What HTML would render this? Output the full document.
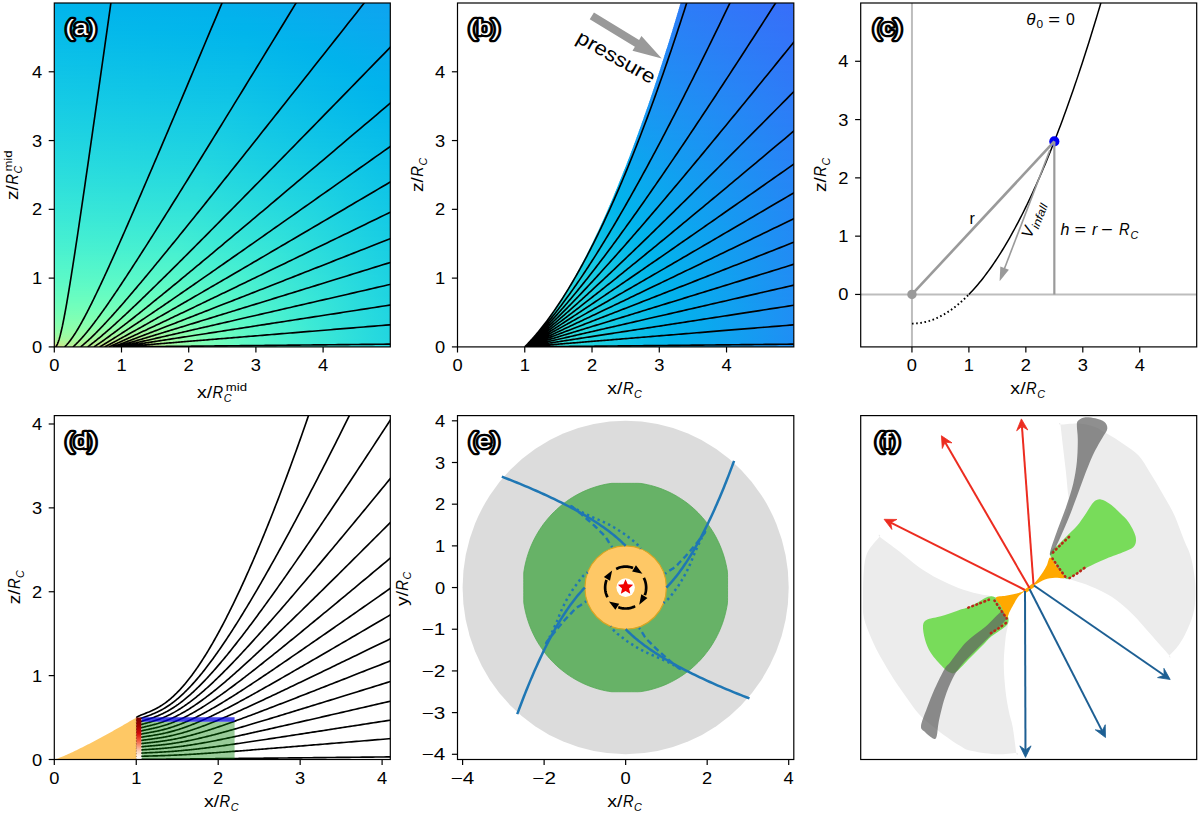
<!DOCTYPE html><html><head><meta charset="utf-8"><style>html,body{margin:0;padding:0;background:#fff;width:1200px;height:813px;overflow:hidden}svg{display:block}text{font-family:"Liberation Sans",sans-serif}</style></head><body><svg width="1200" height="813" viewBox="0 0 1200 813"><defs><clipPath id="clip_a"><rect x="54.3" y="3" width="336" height="343.9"/></clipPath><clipPath id="clip_b"><rect x="457.5" y="3" width="336.3" height="343.9"/></clipPath><clipPath id="clip_c"><rect x="860.7" y="3" width="336" height="343.9"/></clipPath><clipPath id="clip_d"><rect x="54.3" y="415.6" width="336" height="343.9"/></clipPath><clipPath id="clip_e"><rect x="457.5" y="415.6" width="336.3" height="343.9"/></clipPath><clipPath id="clip_f"><rect x="860.7" y="415.6" width="336" height="343.9"/></clipPath><linearGradient id="ga0"><stop offset="0" stop-color="#01b5ec"/><stop offset="0.5685" stop-color="#05afed"/><stop offset="1" stop-color="#0ea4f0"/></linearGradient><linearGradient id="ga1"><stop offset="0" stop-color="#01b5eb"/><stop offset="0.5685" stop-color="#04b0ed"/><stop offset="1" stop-color="#0ea4f0"/></linearGradient><linearGradient id="ga2"><stop offset="0" stop-color="#01b5eb"/><stop offset="0.5565" stop-color="#04b0ed"/><stop offset="1" stop-color="#0ea4ef"/></linearGradient><linearGradient id="ga3"><stop offset="0" stop-color="#01b6eb"/><stop offset="0.5208" stop-color="#03b1ec"/><stop offset="1" stop-color="#0da5ef"/></linearGradient><linearGradient id="ga4"><stop offset="0" stop-color="#02b6eb"/><stop offset="0.5089" stop-color="#02b2ec"/><stop offset="1" stop-color="#0da5ef"/></linearGradient><linearGradient id="ga5"><stop offset="0" stop-color="#02b7eb"/><stop offset="0.5149" stop-color="#02b2ec"/><stop offset="1" stop-color="#0da6ef"/></linearGradient><linearGradient id="ga6"><stop offset="0" stop-color="#03b7eb"/><stop offset="0.5298" stop-color="#02b2ec"/><stop offset="1" stop-color="#0da6ef"/></linearGradient><linearGradient id="ga7"><stop offset="0" stop-color="#03b8eb"/><stop offset="0.5446" stop-color="#02b3ec"/><stop offset="1" stop-color="#0ca6ef"/></linearGradient><linearGradient id="ga8"><stop offset="0" stop-color="#03b8eb"/><stop offset="0.5625" stop-color="#02b3ec"/><stop offset="1" stop-color="#0ca7ef"/></linearGradient><linearGradient id="ga9"><stop offset="0" stop-color="#04b8ea"/><stop offset="0.5804" stop-color="#02b3ec"/><stop offset="1" stop-color="#0ca7ef"/></linearGradient><linearGradient id="ga10"><stop offset="0" stop-color="#04b9ea"/><stop offset="0.5804" stop-color="#01b3ec"/><stop offset="1" stop-color="#0ba7ef"/></linearGradient><linearGradient id="ga11"><stop offset="0" stop-color="#05b9ea"/><stop offset="0.5774" stop-color="#01b4ec"/><stop offset="1" stop-color="#0ba8ef"/></linearGradient><linearGradient id="ga12"><stop offset="0" stop-color="#05baea"/><stop offset="0.5774" stop-color="#01b4ec"/><stop offset="1" stop-color="#0ba8ef"/></linearGradient><linearGradient id="ga13"><stop offset="0" stop-color="#05baea"/><stop offset="0.5744" stop-color="#01b4ec"/><stop offset="1" stop-color="#0aa8ef"/></linearGradient><linearGradient id="ga14"><stop offset="0" stop-color="#06bbea"/><stop offset="0.5744" stop-color="#01b5eb"/><stop offset="1" stop-color="#0aa9ef"/></linearGradient><linearGradient id="ga15"><stop offset="0" stop-color="#06bbea"/><stop offset="0.5714" stop-color="#01b5eb"/><stop offset="0.8869" stop-color="#07adee"/><stop offset="1" stop-color="#0aa9ee"/></linearGradient><linearGradient id="ga16"><stop offset="0" stop-color="#07bcea"/><stop offset="0.5714" stop-color="#01b6eb"/><stop offset="0.8274" stop-color="#05afed"/><stop offset="1" stop-color="#0aa9ee"/></linearGradient><linearGradient id="ga17"><stop offset="0" stop-color="#07bce9"/><stop offset="0.5685" stop-color="#02b6eb"/><stop offset="0.7619" stop-color="#03b1ec"/><stop offset="1" stop-color="#09aaee"/></linearGradient><linearGradient id="ga18"><stop offset="0" stop-color="#08bce9"/><stop offset="0.5685" stop-color="#02b7eb"/><stop offset="0.747" stop-color="#02b2ec"/><stop offset="1" stop-color="#09aaee"/></linearGradient><linearGradient id="ga19"><stop offset="0" stop-color="#08bde9"/><stop offset="0.5655" stop-color="#03b7eb"/><stop offset="0.75" stop-color="#02b3ec"/><stop offset="1" stop-color="#09aaee"/></linearGradient><linearGradient id="ga20"><stop offset="0" stop-color="#08bde9"/><stop offset="0.5655" stop-color="#03b8eb"/><stop offset="0.753" stop-color="#01b3ec"/><stop offset="1" stop-color="#08abee"/></linearGradient><linearGradient id="ga21"><stop offset="0" stop-color="#09bee9"/><stop offset="0.5625" stop-color="#03b8eb"/><stop offset="0.7619" stop-color="#01b3ec"/><stop offset="1" stop-color="#08abee"/></linearGradient><linearGradient id="ga22"><stop offset="0" stop-color="#09bee9"/><stop offset="0.5625" stop-color="#04b8ea"/><stop offset="0.7708" stop-color="#01b3ec"/><stop offset="1" stop-color="#08acee"/></linearGradient><linearGradient id="ga23"><stop offset="0" stop-color="#0abfe9"/><stop offset="0.5595" stop-color="#04b9ea"/><stop offset="0.7827" stop-color="#01b3ec"/><stop offset="1" stop-color="#07acee"/></linearGradient><linearGradient id="ga24"><stop offset="0" stop-color="#0abfe8"/><stop offset="0.5595" stop-color="#05b9ea"/><stop offset="0.7946" stop-color="#01b3ec"/><stop offset="1" stop-color="#07acee"/></linearGradient><linearGradient id="ga25"><stop offset="0" stop-color="#0bc0e8"/><stop offset="0.5595" stop-color="#05baea"/><stop offset="0.8065" stop-color="#01b3ec"/><stop offset="1" stop-color="#07adee"/></linearGradient><linearGradient id="ga26"><stop offset="0" stop-color="#0bc0e8"/><stop offset="0.5565" stop-color="#06baea"/><stop offset="0.8185" stop-color="#01b3ec"/><stop offset="1" stop-color="#06aded"/></linearGradient><linearGradient id="ga27"><stop offset="0" stop-color="#0bc1e8"/><stop offset="0.5565" stop-color="#06bbea"/><stop offset="0.8274" stop-color="#01b3ec"/><stop offset="1" stop-color="#06aded"/></linearGradient><linearGradient id="ga28"><stop offset="0" stop-color="#0cc1e8"/><stop offset="0.5536" stop-color="#06bbea"/><stop offset="0.8393" stop-color="#01b3ec"/><stop offset="1" stop-color="#06aeed"/></linearGradient><linearGradient id="ga29"><stop offset="0" stop-color="#0cc2e8"/><stop offset="0.5536" stop-color="#07bce9"/><stop offset="0.8512" stop-color="#01b3ec"/><stop offset="1" stop-color="#06aeed"/></linearGradient><linearGradient id="ga30"><stop offset="0" stop-color="#0dc2e8"/><stop offset="0.5506" stop-color="#07bce9"/><stop offset="0.8631" stop-color="#01b3ec"/><stop offset="1" stop-color="#05aeed"/></linearGradient><linearGradient id="ga31"><stop offset="0" stop-color="#0dc2e7"/><stop offset="0.5506" stop-color="#08bde9"/><stop offset="0.875" stop-color="#01b3ec"/><stop offset="1" stop-color="#05afed"/></linearGradient><linearGradient id="ga32"><stop offset="0" stop-color="#0ec3e7"/><stop offset="0.5476" stop-color="#08bde9"/><stop offset="0.8839" stop-color="#01b3ec"/><stop offset="1" stop-color="#05afed"/></linearGradient><linearGradient id="ga33"><stop offset="0" stop-color="#0ec3e7"/><stop offset="0.5476" stop-color="#09bee9"/><stop offset="0.8958" stop-color="#01b3ec"/><stop offset="1" stop-color="#04afed"/></linearGradient><linearGradient id="ga34"><stop offset="0" stop-color="#0fc4e7"/><stop offset="0.5446" stop-color="#09bee9"/><stop offset="0.9048" stop-color="#01b3ec"/><stop offset="1" stop-color="#04b0ed"/></linearGradient><linearGradient id="ga35"><stop offset="0" stop-color="#0fc4e7"/><stop offset="0.5446" stop-color="#0abfe9"/><stop offset="0.9137" stop-color="#01b4ec"/><stop offset="1" stop-color="#04b0ed"/></linearGradient><linearGradient id="ga36"><stop offset="0" stop-color="#10c5e7"/><stop offset="0.5417" stop-color="#0abfe8"/><stop offset="0.9256" stop-color="#01b3ec"/><stop offset="1" stop-color="#03b1ed"/></linearGradient><linearGradient id="ga37"><stop offset="0" stop-color="#10c5e6"/><stop offset="0.5417" stop-color="#0ac0e8"/><stop offset="0.9345" stop-color="#01b4ec"/><stop offset="1" stop-color="#03b1ec"/></linearGradient><linearGradient id="ga38"><stop offset="0" stop-color="#11c6e6"/><stop offset="0.5417" stop-color="#0bc0e8"/><stop offset="0.9435" stop-color="#01b4ec"/><stop offset="1" stop-color="#03b1ec"/></linearGradient><linearGradient id="ga39"><stop offset="0" stop-color="#11c6e6"/><stop offset="0.5387" stop-color="#0bc1e8"/><stop offset="0.9524" stop-color="#01b4ec"/><stop offset="1" stop-color="#02b2ec"/></linearGradient><linearGradient id="ga40"><stop offset="0" stop-color="#12c7e6"/><stop offset="0.5387" stop-color="#0cc1e8"/><stop offset="0.9613" stop-color="#01b4ec"/><stop offset="1" stop-color="#02b2ec"/></linearGradient><linearGradient id="ga41"><stop offset="0" stop-color="#12c7e6"/><stop offset="0.5357" stop-color="#0cc1e8"/><stop offset="0.9732" stop-color="#01b3ec"/><stop offset="1" stop-color="#02b2ec"/></linearGradient><linearGradient id="ga42"><stop offset="0" stop-color="#12c8e6"/><stop offset="0.5357" stop-color="#0dc2e8"/><stop offset="0.9821" stop-color="#01b3ec"/><stop offset="1" stop-color="#01b3ec"/></linearGradient><linearGradient id="ga43"><stop offset="0" stop-color="#13c8e5"/><stop offset="0.5327" stop-color="#0dc2e7"/><stop offset="0.9911" stop-color="#01b3ec"/><stop offset="1" stop-color="#01b3ec"/></linearGradient><linearGradient id="ga44"><stop offset="0" stop-color="#13c9e5"/><stop offset="0.5327" stop-color="#0ec3e7"/><stop offset="0.997" stop-color="#01b4ec"/><stop offset="1" stop-color="#01b3ec"/></linearGradient><linearGradient id="ga45"><stop offset="0" stop-color="#14c9e5"/><stop offset="0.5298" stop-color="#0ec3e7"/><stop offset="1" stop-color="#01b4ec"/></linearGradient><linearGradient id="ga46"><stop offset="0" stop-color="#14cae5"/><stop offset="0.5298" stop-color="#0fc4e7"/><stop offset="1" stop-color="#01b4ec"/></linearGradient><linearGradient id="ga47"><stop offset="0" stop-color="#15cae5"/><stop offset="0.5268" stop-color="#0fc4e7"/><stop offset="1" stop-color="#01b5ec"/></linearGradient><linearGradient id="ga48"><stop offset="0" stop-color="#15cbe5"/><stop offset="0.5268" stop-color="#10c5e7"/><stop offset="1" stop-color="#01b5eb"/></linearGradient><linearGradient id="ga49"><stop offset="0" stop-color="#16cbe4"/><stop offset="0.5238" stop-color="#10c5e6"/><stop offset="1" stop-color="#01b5eb"/></linearGradient><linearGradient id="ga50"><stop offset="0" stop-color="#16cbe4"/><stop offset="0.5208" stop-color="#11c6e6"/><stop offset="1" stop-color="#01b6eb"/></linearGradient><linearGradient id="ga51"><stop offset="0" stop-color="#17cce4"/><stop offset="0.5179" stop-color="#11c7e6"/><stop offset="1" stop-color="#02b6eb"/></linearGradient><linearGradient id="ga52"><stop offset="0" stop-color="#18cce4"/><stop offset="0.5179" stop-color="#12c7e6"/><stop offset="1" stop-color="#02b6eb"/></linearGradient><linearGradient id="ga53"><stop offset="0" stop-color="#18cde4"/><stop offset="0.5149" stop-color="#12c8e6"/><stop offset="1" stop-color="#02b7eb"/></linearGradient><linearGradient id="ga54"><stop offset="0" stop-color="#19cde4"/><stop offset="0.5119" stop-color="#13c8e6"/><stop offset="1" stop-color="#03b7eb"/></linearGradient><linearGradient id="ga55"><stop offset="0" stop-color="#19cee3"/><stop offset="0.5089" stop-color="#13c9e5"/><stop offset="1" stop-color="#03b7eb"/></linearGradient><linearGradient id="ga56"><stop offset="0" stop-color="#1acee3"/><stop offset="0.5089" stop-color="#14c9e5"/><stop offset="1" stop-color="#03b8eb"/></linearGradient><linearGradient id="ga57"><stop offset="0" stop-color="#1acfe3"/><stop offset="0.506" stop-color="#15cae5"/><stop offset="1" stop-color="#04b8eb"/></linearGradient><linearGradient id="ga58"><stop offset="0" stop-color="#1bcfe3"/><stop offset="0.503" stop-color="#15cae5"/><stop offset="1" stop-color="#04b9ea"/></linearGradient><linearGradient id="ga59"><stop offset="0" stop-color="#1bd0e3"/><stop offset="0.5" stop-color="#16cbe5"/><stop offset="0.994" stop-color="#04b9ea"/><stop offset="1" stop-color="#04b9ea"/></linearGradient><linearGradient id="ga60"><stop offset="0" stop-color="#1cd0e2"/><stop offset="0.5" stop-color="#16cbe4"/><stop offset="0.9911" stop-color="#05baea"/><stop offset="1" stop-color="#05b9ea"/></linearGradient><linearGradient id="ga61"><stop offset="0" stop-color="#1cd1e2"/><stop offset="0.497" stop-color="#17cce4"/><stop offset="0.9851" stop-color="#06baea"/><stop offset="1" stop-color="#05baea"/></linearGradient><linearGradient id="ga62"><stop offset="0" stop-color="#1dd1e2"/><stop offset="0.494" stop-color="#17cce4"/><stop offset="0.9792" stop-color="#06bbea"/><stop offset="1" stop-color="#05baea"/></linearGradient><linearGradient id="ga63"><stop offset="0" stop-color="#1dd2e2"/><stop offset="0.4911" stop-color="#18cde4"/><stop offset="0.9732" stop-color="#07bcea"/><stop offset="1" stop-color="#06baea"/></linearGradient><linearGradient id="ga64"><stop offset="0" stop-color="#1ed2e2"/><stop offset="0.4911" stop-color="#18cde4"/><stop offset="0.9702" stop-color="#07bce9"/><stop offset="1" stop-color="#06bbea"/></linearGradient><linearGradient id="ga65"><stop offset="0" stop-color="#1fd3e1"/><stop offset="0.4881" stop-color="#19cee3"/><stop offset="0.9643" stop-color="#08bde9"/><stop offset="1" stop-color="#06bbea"/></linearGradient><linearGradient id="ga66"><stop offset="0" stop-color="#1fd3e1"/><stop offset="0.4851" stop-color="#1acee3"/><stop offset="0.9583" stop-color="#08bde9"/><stop offset="1" stop-color="#07bbea"/></linearGradient><linearGradient id="ga67"><stop offset="0" stop-color="#20d4e1"/><stop offset="0.4821" stop-color="#1acfe3"/><stop offset="0.9524" stop-color="#09bee9"/><stop offset="1" stop-color="#07bce9"/></linearGradient><linearGradient id="ga68"><stop offset="0" stop-color="#20d4e1"/><stop offset="0.4821" stop-color="#1bcfe3"/><stop offset="0.9494" stop-color="#0abfe9"/><stop offset="1" stop-color="#07bce9"/></linearGradient><linearGradient id="ga69"><stop offset="0" stop-color="#21d5e0"/><stop offset="0.4792" stop-color="#1bd0e3"/><stop offset="0.9435" stop-color="#0abfe8"/><stop offset="1" stop-color="#08bde9"/></linearGradient><linearGradient id="ga70"><stop offset="0" stop-color="#22d5e0"/><stop offset="0.4762" stop-color="#1cd1e2"/><stop offset="0.9375" stop-color="#0bc0e8"/><stop offset="1" stop-color="#08bde9"/></linearGradient><linearGradient id="ga71"><stop offset="0" stop-color="#22d6e0"/><stop offset="0.4762" stop-color="#1dd1e2"/><stop offset="0.9345" stop-color="#0bc0e8"/><stop offset="1" stop-color="#08bde9"/></linearGradient><linearGradient id="ga72"><stop offset="0" stop-color="#23d6e0"/><stop offset="0.4732" stop-color="#1dd2e2"/><stop offset="0.9286" stop-color="#0cc1e8"/><stop offset="1" stop-color="#09bee9"/></linearGradient><linearGradient id="ga73"><stop offset="0" stop-color="#23d7e0"/><stop offset="0.4702" stop-color="#1ed2e2"/><stop offset="0.9226" stop-color="#0dc2e8"/><stop offset="1" stop-color="#09bee9"/></linearGradient><linearGradient id="ga74"><stop offset="0" stop-color="#24d8df"/><stop offset="0.4673" stop-color="#1fd3e1"/><stop offset="0.9167" stop-color="#0dc2e7"/><stop offset="1" stop-color="#09bee9"/></linearGradient><linearGradient id="ga75"><stop offset="0" stop-color="#25d8df"/><stop offset="0.4673" stop-color="#1fd3e1"/><stop offset="0.9137" stop-color="#0ec3e7"/><stop offset="1" stop-color="#0abfe9"/></linearGradient><linearGradient id="ga76"><stop offset="0" stop-color="#25d9df"/><stop offset="0.4643" stop-color="#20d4e1"/><stop offset="0.9077" stop-color="#0fc4e7"/><stop offset="1" stop-color="#0abfe8"/></linearGradient><linearGradient id="ga77"><stop offset="0" stop-color="#26d9df"/><stop offset="0.4613" stop-color="#20d4e1"/><stop offset="0.9018" stop-color="#0fc4e7"/><stop offset="1" stop-color="#0abfe8"/></linearGradient><linearGradient id="ga78"><stop offset="0" stop-color="#26dade"/><stop offset="0.4583" stop-color="#21d5e0"/><stop offset="0.8958" stop-color="#10c5e7"/><stop offset="1" stop-color="#0bc0e8"/></linearGradient><linearGradient id="ga79"><stop offset="0" stop-color="#27dade"/><stop offset="0.4583" stop-color="#22d6e0"/><stop offset="0.8929" stop-color="#10c6e6"/><stop offset="1" stop-color="#0bc0e8"/></linearGradient><linearGradient id="ga80"><stop offset="0" stop-color="#28dbde"/><stop offset="0.4554" stop-color="#22d6e0"/><stop offset="0.8869" stop-color="#11c6e6"/><stop offset="1" stop-color="#0bc0e8"/></linearGradient><linearGradient id="ga81"><stop offset="0" stop-color="#28dbde"/><stop offset="0.4524" stop-color="#23d7e0"/><stop offset="0.881" stop-color="#12c7e6"/><stop offset="1" stop-color="#0cc1e8"/></linearGradient><linearGradient id="ga82"><stop offset="0" stop-color="#29dcdd"/><stop offset="0.4524" stop-color="#24d7df"/><stop offset="0.878" stop-color="#12c8e6"/><stop offset="1" stop-color="#0cc1e8"/></linearGradient><linearGradient id="ga83"><stop offset="0" stop-color="#2adcdd"/><stop offset="0.4494" stop-color="#24d8df"/><stop offset="0.872" stop-color="#13c8e5"/><stop offset="1" stop-color="#0cc2e8"/></linearGradient><linearGradient id="ga84"><stop offset="0" stop-color="#2adddd"/><stop offset="0.4464" stop-color="#25d8df"/><stop offset="0.8661" stop-color="#14c9e5"/><stop offset="1" stop-color="#0dc2e8"/></linearGradient><linearGradient id="ga85"><stop offset="0" stop-color="#2bdddd"/><stop offset="0.4435" stop-color="#26d9df"/><stop offset="0.8601" stop-color="#15cae5"/><stop offset="1" stop-color="#0dc2e7"/></linearGradient><linearGradient id="ga86"><stop offset="0" stop-color="#2cdedc"/><stop offset="0.4435" stop-color="#26dade"/><stop offset="0.8571" stop-color="#15cae5"/><stop offset="1" stop-color="#0dc3e7"/></linearGradient><linearGradient id="ga87"><stop offset="0" stop-color="#2cdedc"/><stop offset="0.4405" stop-color="#27dade"/><stop offset="0.8512" stop-color="#16cbe5"/><stop offset="1" stop-color="#0ec3e7"/></linearGradient><linearGradient id="ga88"><stop offset="0" stop-color="#2ddfdc"/><stop offset="0.4375" stop-color="#28dbde"/><stop offset="0.8452" stop-color="#17cce4"/><stop offset="1" stop-color="#0ec3e7"/></linearGradient><linearGradient id="ga89"><stop offset="0" stop-color="#2edfdc"/><stop offset="0.4375" stop-color="#28dbde"/><stop offset="0.8423" stop-color="#17cce4"/><stop offset="1" stop-color="#0ec4e7"/></linearGradient><linearGradient id="ga90"><stop offset="0" stop-color="#2ee0db"/><stop offset="0.4345" stop-color="#29dcdd"/><stop offset="0.8363" stop-color="#18cde4"/><stop offset="1" stop-color="#0fc4e7"/></linearGradient><linearGradient id="ga91"><stop offset="0" stop-color="#2fe0db"/><stop offset="0.4315" stop-color="#2adcdd"/><stop offset="0.8304" stop-color="#19cee3"/><stop offset="1" stop-color="#0fc4e7"/></linearGradient><linearGradient id="ga92"><stop offset="0" stop-color="#30e1db"/><stop offset="0.4286" stop-color="#2bdddd"/><stop offset="0.8244" stop-color="#19cee3"/><stop offset="1" stop-color="#0fc5e7"/></linearGradient><linearGradient id="ga93"><stop offset="0" stop-color="#31e1da"/><stop offset="0.4286" stop-color="#2bdedc"/><stop offset="0.8214" stop-color="#1acfe3"/><stop offset="1" stop-color="#10c5e7"/></linearGradient><linearGradient id="ga94"><stop offset="0" stop-color="#31e2da"/><stop offset="0.4256" stop-color="#2cdedc"/><stop offset="0.8155" stop-color="#1bd0e3"/><stop offset="1" stop-color="#10c5e6"/></linearGradient><linearGradient id="ga95"><stop offset="0" stop-color="#32e3da"/><stop offset="0.4226" stop-color="#2ddfdc"/><stop offset="0.8095" stop-color="#1cd0e2"/><stop offset="1" stop-color="#10c6e6"/></linearGradient><linearGradient id="ga96"><stop offset="0" stop-color="#33e3da"/><stop offset="0.4226" stop-color="#2edfdc"/><stop offset="0.8065" stop-color="#1cd1e2"/><stop offset="1" stop-color="#11c6e6"/></linearGradient><linearGradient id="ga97"><stop offset="0" stop-color="#34e4d9"/><stop offset="0.4196" stop-color="#2ee0db"/><stop offset="0.8006" stop-color="#1dd2e2"/><stop offset="1" stop-color="#11c6e6"/></linearGradient><linearGradient id="ga98"><stop offset="0" stop-color="#34e4d9"/><stop offset="0.4167" stop-color="#2fe0db"/><stop offset="0.7946" stop-color="#1ed2e2"/><stop offset="1" stop-color="#11c7e6"/></linearGradient><linearGradient id="ga99"><stop offset="0" stop-color="#35e5d9"/><stop offset="0.4167" stop-color="#30e1db"/><stop offset="0.7917" stop-color="#1fd3e1"/><stop offset="1" stop-color="#12c7e6"/></linearGradient><linearGradient id="ga100"><stop offset="0" stop-color="#36e5d8"/><stop offset="0.4137" stop-color="#31e2da"/><stop offset="0.7857" stop-color="#1fd4e1"/><stop offset="1" stop-color="#12c7e6"/></linearGradient><linearGradient id="ga101"><stop offset="0" stop-color="#37e6d8"/><stop offset="0.4107" stop-color="#32e2da"/><stop offset="0.7798" stop-color="#20d4e1"/><stop offset="1" stop-color="#12c8e6"/></linearGradient><linearGradient id="ga102"><stop offset="0" stop-color="#37e6d8"/><stop offset="0.4107" stop-color="#32e3da"/><stop offset="0.7768" stop-color="#21d5e0"/><stop offset="1" stop-color="#13c8e6"/></linearGradient><linearGradient id="ga103"><stop offset="0" stop-color="#38e7d7"/><stop offset="0.4077" stop-color="#33e3d9"/><stop offset="0.7679" stop-color="#22d6e0"/><stop offset="1" stop-color="#13c8e5"/></linearGradient><linearGradient id="ga104"><stop offset="0" stop-color="#39e7d7"/><stop offset="0.4048" stop-color="#34e4d9"/><stop offset="0.7589" stop-color="#23d7e0"/><stop offset="1" stop-color="#14c9e5"/></linearGradient><linearGradient id="ga105"><stop offset="0" stop-color="#3ae8d7"/><stop offset="0.4018" stop-color="#35e5d9"/><stop offset="0.75" stop-color="#24d8df"/><stop offset="1" stop-color="#14c9e5"/></linearGradient><linearGradient id="ga106"><stop offset="0" stop-color="#3be8d6"/><stop offset="0.4018" stop-color="#36e5d8"/><stop offset="0.747" stop-color="#25d8df"/><stop offset="1" stop-color="#14c9e5"/></linearGradient><linearGradient id="ga107"><stop offset="0" stop-color="#3be9d6"/><stop offset="0.3988" stop-color="#37e6d8"/><stop offset="0.7381" stop-color="#26d9df"/><stop offset="1" stop-color="#14cae5"/></linearGradient><linearGradient id="ga108"><stop offset="0" stop-color="#3ce9d6"/><stop offset="0.3958" stop-color="#38e6d8"/><stop offset="0.7321" stop-color="#27dade"/><stop offset="1" stop-color="#15cae5"/></linearGradient><linearGradient id="ga109"><stop offset="0" stop-color="#3dead5"/><stop offset="0.3958" stop-color="#38e7d7"/><stop offset="0.7262" stop-color="#28dbde"/><stop offset="1" stop-color="#15cae5"/></linearGradient><linearGradient id="ga110"><stop offset="0" stop-color="#3eebd5"/><stop offset="0.3929" stop-color="#39e8d7"/><stop offset="0.7202" stop-color="#29dbde"/><stop offset="1" stop-color="#15cbe5"/></linearGradient><linearGradient id="ga111"><stop offset="0" stop-color="#3febd4"/><stop offset="0.3899" stop-color="#3ae8d6"/><stop offset="0.7113" stop-color="#2adcdd"/><stop offset="1" stop-color="#16cbe5"/></linearGradient><linearGradient id="ga112"><stop offset="0" stop-color="#40ecd4"/><stop offset="0.3899" stop-color="#3be9d6"/><stop offset="0.7083" stop-color="#2bdddd"/><stop offset="1" stop-color="#16cbe4"/></linearGradient><linearGradient id="ga113"><stop offset="0" stop-color="#41ecd4"/><stop offset="0.3869" stop-color="#3ce9d6"/><stop offset="0.6994" stop-color="#2cdedc"/><stop offset="1" stop-color="#16cbe4"/></linearGradient><linearGradient id="ga114"><stop offset="0" stop-color="#42edd3"/><stop offset="0.3839" stop-color="#3dead5"/><stop offset="0.6905" stop-color="#2ddfdc"/><stop offset="1" stop-color="#17cce4"/></linearGradient><linearGradient id="ga115"><stop offset="0" stop-color="#42edd3"/><stop offset="0.3839" stop-color="#3eebd5"/><stop offset="0.6875" stop-color="#2edfdb"/><stop offset="1" stop-color="#17cce4"/></linearGradient><linearGradient id="ga116"><stop offset="0" stop-color="#43eed2"/><stop offset="0.381" stop-color="#3febd4"/><stop offset="0.6786" stop-color="#2fe0db"/><stop offset="1" stop-color="#17cce4"/></linearGradient><linearGradient id="ga117"><stop offset="0" stop-color="#44eed2"/><stop offset="0.378" stop-color="#40ecd4"/><stop offset="0.6696" stop-color="#30e1da"/><stop offset="1" stop-color="#18cde4"/></linearGradient><linearGradient id="ga118"><stop offset="0" stop-color="#45efd2"/><stop offset="0.378" stop-color="#41ecd3"/><stop offset="0.6667" stop-color="#31e2da"/><stop offset="1" stop-color="#18cde4"/></linearGradient><linearGradient id="ga119"><stop offset="0" stop-color="#46efd1"/><stop offset="0.375" stop-color="#42edd3"/><stop offset="0.6577" stop-color="#33e3da"/><stop offset="1" stop-color="#18cde4"/></linearGradient><linearGradient id="ga120"><stop offset="0" stop-color="#47f0d1"/><stop offset="0.372" stop-color="#43eed3"/><stop offset="0.6518" stop-color="#34e4d9"/><stop offset="1" stop-color="#19cde4"/></linearGradient><linearGradient id="ga121"><stop offset="0" stop-color="#48f0d0"/><stop offset="0.372" stop-color="#44eed2"/><stop offset="0.6458" stop-color="#35e4d9"/><stop offset="1" stop-color="#19cee3"/></linearGradient><linearGradient id="ga122"><stop offset="0" stop-color="#49f1d0"/><stop offset="0.369" stop-color="#45efd2"/><stop offset="0.6369" stop-color="#36e5d8"/><stop offset="1" stop-color="#19cee3"/></linearGradient><linearGradient id="ga123"><stop offset="0" stop-color="#4af1cf"/><stop offset="0.3661" stop-color="#46efd1"/><stop offset="0.631" stop-color="#37e6d8"/><stop offset="1" stop-color="#19cee3"/></linearGradient><linearGradient id="ga124"><stop offset="0" stop-color="#4bf2cf"/><stop offset="0.3661" stop-color="#47f0d1"/><stop offset="0.625" stop-color="#38e7d7"/><stop offset="1" stop-color="#1acfe3"/></linearGradient><linearGradient id="ga125"><stop offset="0" stop-color="#4cf2ce"/><stop offset="0.3631" stop-color="#49f1d0"/><stop offset="0.619" stop-color="#3ae8d7"/><stop offset="1" stop-color="#1acfe3"/></linearGradient><linearGradient id="ga126"><stop offset="0" stop-color="#4ef3ce"/><stop offset="0.3631" stop-color="#4af1d0"/><stop offset="0.6131" stop-color="#3be9d6"/><stop offset="1" stop-color="#1acfe3"/></linearGradient><linearGradient id="ga127"><stop offset="0" stop-color="#4ff4cd"/><stop offset="0.3601" stop-color="#4bf2cf"/><stop offset="0.6071" stop-color="#3ce9d6"/><stop offset="1" stop-color="#1bcfe3"/></linearGradient><linearGradient id="ga128"><stop offset="0" stop-color="#50f4cd"/><stop offset="0.3571" stop-color="#4cf2ce"/><stop offset="0.5982" stop-color="#3eead5"/><stop offset="1" stop-color="#1bd0e3"/></linearGradient><linearGradient id="ga129"><stop offset="0" stop-color="#51f5cc"/><stop offset="0.3571" stop-color="#4df3ce"/><stop offset="0.5952" stop-color="#3febd5"/><stop offset="1" stop-color="#1bd0e3"/></linearGradient><linearGradient id="ga130"><stop offset="0" stop-color="#52f5cc"/><stop offset="0.3542" stop-color="#4ff4cd"/><stop offset="0.5863" stop-color="#40ecd4"/><stop offset="1" stop-color="#1bd0e3"/></linearGradient><linearGradient id="ga131"><stop offset="0" stop-color="#53f6cb"/><stop offset="0.3512" stop-color="#50f4cd"/><stop offset="0.5774" stop-color="#42edd3"/><stop offset="1" stop-color="#1cd0e2"/></linearGradient><linearGradient id="ga132"><stop offset="0" stop-color="#54f6cb"/><stop offset="0.3512" stop-color="#51f5cc"/><stop offset="0.5744" stop-color="#43edd3"/><stop offset="1" stop-color="#1cd1e2"/></linearGradient><linearGradient id="ga133"><stop offset="0" stop-color="#56f7ca"/><stop offset="0.3482" stop-color="#53f5cb"/><stop offset="0.5655" stop-color="#44eed2"/><stop offset="1" stop-color="#1cd1e2"/></linearGradient><linearGradient id="ga134"><stop offset="0" stop-color="#57f7c9"/><stop offset="0.3452" stop-color="#54f6cb"/><stop offset="0.5565" stop-color="#46efd1"/><stop offset="0.994" stop-color="#1dd1e2"/><stop offset="1" stop-color="#1dd1e2"/></linearGradient><linearGradient id="ga135"><stop offset="0" stop-color="#58f8c9"/><stop offset="0.3452" stop-color="#55f6ca"/><stop offset="0.5536" stop-color="#47f0d1"/><stop offset="0.9851" stop-color="#1ed2e2"/><stop offset="1" stop-color="#1dd1e2"/></linearGradient><linearGradient id="ga136"><stop offset="0" stop-color="#59f8c8"/><stop offset="0.3423" stop-color="#57f7ca"/><stop offset="0.5446" stop-color="#49f1d0"/><stop offset="0.9583" stop-color="#21d5e1"/><stop offset="1" stop-color="#1dd1e2"/></linearGradient><linearGradient id="ga137"><stop offset="0" stop-color="#5bf8c8"/><stop offset="0.3393" stop-color="#58f8c9"/><stop offset="0.5387" stop-color="#4bf2cf"/><stop offset="0.9435" stop-color="#22d6e0"/><stop offset="1" stop-color="#1dd2e2"/></linearGradient><linearGradient id="ga138"><stop offset="0" stop-color="#5cf9c7"/><stop offset="0.3393" stop-color="#5af8c8"/><stop offset="0.5327" stop-color="#4cf2ce"/><stop offset="0.9256" stop-color="#24d8df"/><stop offset="1" stop-color="#1dd2e2"/></linearGradient><linearGradient id="ga139"><stop offset="0" stop-color="#5df9c6"/><stop offset="0.3363" stop-color="#5bf9c7"/><stop offset="0.5268" stop-color="#4ef3ce"/><stop offset="0.9077" stop-color="#26d9df"/><stop offset="1" stop-color="#1ed2e2"/></linearGradient><linearGradient id="ga140"><stop offset="0" stop-color="#5ffac6"/><stop offset="0.3333" stop-color="#5df9c7"/><stop offset="0.5179" stop-color="#50f4cd"/><stop offset="0.8839" stop-color="#29dbde"/><stop offset="1" stop-color="#1ed2e2"/></linearGradient><linearGradient id="ga141"><stop offset="0" stop-color="#60fac5"/><stop offset="0.3333" stop-color="#5efac6"/><stop offset="0.5149" stop-color="#51f5cc"/><stop offset="0.878" stop-color="#2adcdd"/><stop offset="1" stop-color="#1ed2e2"/></linearGradient><linearGradient id="ga142"><stop offset="0" stop-color="#62fbc4"/><stop offset="0.3304" stop-color="#60fac5"/><stop offset="0.506" stop-color="#53f5cb"/><stop offset="0.8542" stop-color="#2cdedc"/><stop offset="1" stop-color="#1ed3e1"/></linearGradient><linearGradient id="ga143"><stop offset="0" stop-color="#63fbc3"/><stop offset="0.3274" stop-color="#62fbc4"/><stop offset="0.497" stop-color="#55f6ca"/><stop offset="0.8304" stop-color="#2fe0db"/><stop offset="1" stop-color="#1fd3e1"/></linearGradient><linearGradient id="ga144"><stop offset="0" stop-color="#65fcc3"/><stop offset="0.3244" stop-color="#64fbc3"/><stop offset="0.4881" stop-color="#57f7c9"/><stop offset="0.8095" stop-color="#32e2da"/><stop offset="1" stop-color="#1fd3e1"/></linearGradient><linearGradient id="ga145"><stop offset="0" stop-color="#66fcc2"/><stop offset="0.3244" stop-color="#65fcc2"/><stop offset="0.4851" stop-color="#59f8c9"/><stop offset="0.8006" stop-color="#33e3d9"/><stop offset="1" stop-color="#1fd3e1"/></linearGradient><linearGradient id="ga146"><stop offset="0" stop-color="#68fcc1"/><stop offset="0.3214" stop-color="#67fcc1"/><stop offset="0.4762" stop-color="#5bf9c7"/><stop offset="0.7798" stop-color="#36e5d8"/><stop offset="1" stop-color="#1fd3e1"/></linearGradient><linearGradient id="ga147"><stop offset="0" stop-color="#6afdc0"/><stop offset="0.3185" stop-color="#69fdc0"/><stop offset="0.4702" stop-color="#5df9c7"/><stop offset="0.7649" stop-color="#38e7d7"/><stop offset="1" stop-color="#1fd4e1"/></linearGradient><linearGradient id="ga148"><stop offset="0" stop-color="#6bfdbf"/><stop offset="0.3155" stop-color="#6bfdbf"/><stop offset="0.4613" stop-color="#5ffac5"/><stop offset="0.744" stop-color="#3be8d6"/><stop offset="1" stop-color="#20d4e1"/></linearGradient><linearGradient id="ga149"><stop offset="0" stop-color="#6dfdbe"/><stop offset="0.3155" stop-color="#6dfdbe"/><stop offset="0.4583" stop-color="#61fac4"/><stop offset="0.7381" stop-color="#3ce9d6"/><stop offset="1" stop-color="#20d4e1"/></linearGradient><linearGradient id="ga150"><stop offset="0" stop-color="#6ffebd"/><stop offset="0.3125" stop-color="#70febd"/><stop offset="0.4494" stop-color="#63fbc3"/><stop offset="0.7173" stop-color="#3febd4"/><stop offset="1" stop-color="#20d4e1"/></linearGradient><linearGradient id="ga151"><stop offset="0" stop-color="#71febc"/><stop offset="0.3095" stop-color="#72febc"/><stop offset="0.4405" stop-color="#66fcc2"/><stop offset="0.6964" stop-color="#42edd3"/><stop offset="1" stop-color="#20d4e1"/></linearGradient><linearGradient id="ga152"><stop offset="0" stop-color="#73febb"/><stop offset="0.3065" stop-color="#74feba"/><stop offset="0.4315" stop-color="#69fdc0"/><stop offset="0.6786" stop-color="#45efd2"/><stop offset="0.9762" stop-color="#22d6e0"/><stop offset="1" stop-color="#20d4e1"/></linearGradient><linearGradient id="ga153"><stop offset="0" stop-color="#75feba"/><stop offset="0.3036" stop-color="#77ffb9"/><stop offset="0.4256" stop-color="#6bfdbf"/><stop offset="0.6637" stop-color="#47f0d1"/><stop offset="0.9524" stop-color="#25d8df"/><stop offset="1" stop-color="#20d4e1"/></linearGradient><linearGradient id="ga154"><stop offset="0" stop-color="#77ffb9"/><stop offset="0.3006" stop-color="#7affb8"/><stop offset="0.4167" stop-color="#6efebe"/><stop offset="0.6458" stop-color="#4bf2cf"/><stop offset="0.9226" stop-color="#28dbde"/><stop offset="1" stop-color="#20d5e1"/></linearGradient><linearGradient id="ga155"><stop offset="0" stop-color="#79ffb8"/><stop offset="0.2976" stop-color="#7cffb6"/><stop offset="0.4077" stop-color="#71febc"/><stop offset="0.625" stop-color="#4ef3ce"/><stop offset="0.8899" stop-color="#2cdedc"/><stop offset="1" stop-color="#21d5e1"/></linearGradient><linearGradient id="ga156"><stop offset="0" stop-color="#7cffb6"/><stop offset="0.2054" stop-color="#7fffb4"/><stop offset="0.3155" stop-color="#7effb5"/><stop offset="0.4345" stop-color="#6ffebd"/><stop offset="0.6667" stop-color="#48f0d0"/><stop offset="0.9375" stop-color="#27dade"/><stop offset="1" stop-color="#21d5e1"/></linearGradient><linearGradient id="ga157"><stop offset="0" stop-color="#7effb5"/><stop offset="0.1815" stop-color="#81ffb3"/><stop offset="0.2976" stop-color="#82ffb3"/><stop offset="0.4018" stop-color="#76ffb9"/><stop offset="0.6071" stop-color="#52f5cc"/><stop offset="0.8542" stop-color="#30e1db"/><stop offset="1" stop-color="#21d5e1"/></linearGradient><linearGradient id="ga158"><stop offset="0" stop-color="#81ffb3"/><stop offset="0.1637" stop-color="#83ffb2"/><stop offset="0.2857" stop-color="#86ffb1"/><stop offset="0.381" stop-color="#7cffb6"/><stop offset="0.5714" stop-color="#59f8c9"/><stop offset="0.8036" stop-color="#36e6d8"/><stop offset="1" stop-color="#21d5e0"/></linearGradient><linearGradient id="ga159"><stop offset="0" stop-color="#84ffb2"/><stop offset="0.1518" stop-color="#86ffb1"/><stop offset="0.2768" stop-color="#8afeaf"/><stop offset="0.3631" stop-color="#81ffb3"/><stop offset="0.5446" stop-color="#5efac6"/><stop offset="0.7649" stop-color="#3ce9d6"/><stop offset="1" stop-color="#21d5e0"/></linearGradient><linearGradient id="ga160"><stop offset="0" stop-color="#87ffb0"/><stop offset="0.1399" stop-color="#88ffaf"/><stop offset="0.2708" stop-color="#8efeac"/><stop offset="0.3512" stop-color="#86ffb1"/><stop offset="0.5238" stop-color="#63fbc3"/><stop offset="0.7321" stop-color="#40ecd4"/><stop offset="1" stop-color="#21d5e0"/></linearGradient><linearGradient id="ga161"><stop offset="0" stop-color="#8afeae"/><stop offset="0.131" stop-color="#8bfeae"/><stop offset="0.2649" stop-color="#92fdaa"/><stop offset="0.3393" stop-color="#8bfeae"/><stop offset="0.503" stop-color="#68fcc1"/><stop offset="0.6994" stop-color="#45efd2"/><stop offset="0.9613" stop-color="#25d8df"/><stop offset="1" stop-color="#21d5e0"/></linearGradient><linearGradient id="ga162"><stop offset="0" stop-color="#8dfeac"/><stop offset="0.122" stop-color="#8efeac"/><stop offset="0.2589" stop-color="#97fca7"/><stop offset="0.3274" stop-color="#90feab"/><stop offset="0.4821" stop-color="#6dfdbe"/><stop offset="0.6667" stop-color="#4bf2cf"/><stop offset="0.9107" stop-color="#2bdddd"/><stop offset="1" stop-color="#21d5e0"/></linearGradient><linearGradient id="ga163"><stop offset="0" stop-color="#91fdaa"/><stop offset="0.1131" stop-color="#91feaa"/><stop offset="0.253" stop-color="#9cfba4"/><stop offset="0.3155" stop-color="#96fda7"/><stop offset="0.4643" stop-color="#72febb"/><stop offset="0.6369" stop-color="#50f4cd"/><stop offset="0.8661" stop-color="#30e1db"/><stop offset="1" stop-color="#21d5e0"/></linearGradient><linearGradient id="ga164"><stop offset="0" stop-color="#95fda8"/><stop offset="0.1042" stop-color="#94fda9"/><stop offset="0.25" stop-color="#a1faa1"/><stop offset="0.3065" stop-color="#9cfba4"/><stop offset="0.4464" stop-color="#78ffb8"/><stop offset="0.6042" stop-color="#56f7ca"/><stop offset="0.8155" stop-color="#36e5d8"/><stop offset="1" stop-color="#21d5e0"/></linearGradient><linearGradient id="ga165"><stop offset="0" stop-color="#9afca5"/><stop offset="0.0952" stop-color="#97fca7"/><stop offset="0.247" stop-color="#a8f79d"/><stop offset="0.3006" stop-color="#a2f9a0"/><stop offset="0.4286" stop-color="#7effb5"/><stop offset="0.5744" stop-color="#5cf9c7"/><stop offset="0.7708" stop-color="#3ce9d6"/><stop offset="1" stop-color="#21d5e0"/></linearGradient><linearGradient id="ga166"><stop offset="0" stop-color="#9ffaa2"/><stop offset="0.0833" stop-color="#9bfba4"/><stop offset="0.1637" stop-color="#a4f99f"/><stop offset="0.2381" stop-color="#aff498"/><stop offset="0.2827" stop-color="#abf69b"/><stop offset="0.3899" stop-color="#8bfeae"/><stop offset="0.5179" stop-color="#68fcc1"/><stop offset="0.6875" stop-color="#48f0d0"/><stop offset="0.9315" stop-color="#29dbde"/><stop offset="1" stop-color="#22d5e0"/></linearGradient><linearGradient id="ga167"><stop offset="0" stop-color="#a6f89e"/><stop offset="0.0744" stop-color="#9ffaa2"/><stop offset="0.1399" stop-color="#a6f89e"/><stop offset="0.2321" stop-color="#b8f093"/><stop offset="0.2708" stop-color="#b5f194"/><stop offset="0.3452" stop-color="#9cfba4"/><stop offset="0.4464" stop-color="#7bffb7"/><stop offset="0.5833" stop-color="#5bf8c8"/><stop offset="0.7768" stop-color="#3be9d6"/><stop offset="1" stop-color="#22d5e0"/></linearGradient><linearGradient id="ga168"><stop offset="0" stop-color="#adf599"/><stop offset="0.0625" stop-color="#a4f99f"/><stop offset="0.119" stop-color="#a8f79c"/><stop offset="0.2262" stop-color="#c2ea8c"/><stop offset="0.2589" stop-color="#c0eb8d"/><stop offset="0.3155" stop-color="#abf69a"/><stop offset="0.3958" stop-color="#8cfeae"/><stop offset="0.5089" stop-color="#6bfdbf"/><stop offset="0.6667" stop-color="#4cf2cf"/><stop offset="0.8988" stop-color="#2cdedc"/><stop offset="1" stop-color="#22d6e0"/></linearGradient><linearGradient id="ga169"><stop offset="0" stop-color="#b8f093"/><stop offset="0.0506" stop-color="#aaf69b"/><stop offset="0.0982" stop-color="#abf69b"/><stop offset="0.1518" stop-color="#b8f093"/><stop offset="0.2202" stop-color="#d0e082"/><stop offset="0.247" stop-color="#cfe183"/><stop offset="0.2887" stop-color="#bded8f"/><stop offset="0.3512" stop-color="#9efaa3"/><stop offset="0.4405" stop-color="#7effb5"/><stop offset="0.5655" stop-color="#5ffac6"/><stop offset="0.747" stop-color="#40ebd4"/><stop offset="1" stop-color="#22d6e0"/></linearGradient><linearGradient id="ga170"><stop offset="0" stop-color="#c7e789"/><stop offset="0.0327" stop-color="#b4f295"/><stop offset="0.0655" stop-color="#aff498"/><stop offset="0.1101" stop-color="#b4f295"/><stop offset="0.1548" stop-color="#c4e98b"/><stop offset="0.2024" stop-color="#e0d378"/><stop offset="0.2232" stop-color="#e7cd73"/><stop offset="0.2411" stop-color="#e2d176"/><stop offset="0.2976" stop-color="#bced90"/><stop offset="0.3512" stop-color="#9ffaa2"/><stop offset="0.4345" stop-color="#80ffb4"/><stop offset="0.5536" stop-color="#61fbc4"/><stop offset="0.7292" stop-color="#42edd3"/><stop offset="0.9881" stop-color="#23d7e0"/><stop offset="1" stop-color="#22d6e0"/></linearGradient><linearGradient id="ga171"><stop offset="0" stop-color="#e6ce73"/><stop offset="0.0119" stop-color="#cde284"/><stop offset="0.0238" stop-color="#c1eb8d"/><stop offset="0.0476" stop-color="#b7f093"/><stop offset="0.0833" stop-color="#b6f194"/><stop offset="0.122" stop-color="#c0eb8d"/><stop offset="0.1548" stop-color="#d3de81"/><stop offset="0.1756" stop-color="#e7cd73"/><stop offset="0.1935" stop-color="#ffb461"/><stop offset="0.2054" stop-color="#ffa155"/><stop offset="0.2113" stop-color="#ff9c53"/><stop offset="0.2202" stop-color="#ffa256"/><stop offset="0.2321" stop-color="#ffb361"/><stop offset="0.253" stop-color="#e6ce74"/><stop offset="0.2768" stop-color="#cee184"/><stop offset="0.3125" stop-color="#b5f194"/><stop offset="0.369" stop-color="#98fca6"/><stop offset="0.4554" stop-color="#7affb7"/><stop offset="0.5833" stop-color="#5bf9c7"/><stop offset="0.7738" stop-color="#3ce9d6"/><stop offset="1" stop-color="#22d6e0"/></linearGradient><clipPath id="clip_bpar"><path d="M524.76 346.9 L527.85 343.66 L530.82 340.43 L533.67 337.19 L536.41 333.95 L539.06 330.72 L541.63 327.48 L544.13 324.24 L546.55 321.01 L548.91 317.77 L551.21 314.53 L553.46 311.3 L555.65 308.06 L557.79 304.82 L559.9 301.59 L561.95 298.35 L563.97 295.11 L565.95 291.88 L567.9 288.64 L569.81 285.4 L571.69 282.17 L573.54 278.93 L575.36 275.69 L577.15 272.46 L578.92 269.22 L580.66 265.98 L582.38 262.75 L584.07 259.51 L585.74 256.27 L587.39 253.04 L589.02 249.8 L590.63 246.56 L592.22 243.33 L593.79 240.09 L595.34 236.85 L596.88 233.62 L598.4 230.38 L599.9 227.14 L601.39 223.91 L602.86 220.67 L604.32 217.43 L605.76 214.2 L607.19 210.96 L608.6 207.72 L610.01 204.48 L611.4 201.25 L612.77 198.01 L614.14 194.77 L615.49 191.54 L616.83 188.3 L618.16 185.06 L619.48 181.83 L620.79 178.59 L622.09 175.35 L623.38 172.12 L624.66 168.88 L625.93 165.64 L627.19 162.41 L628.44 159.17 L629.68 155.93 L630.91 152.7 L632.13 149.46 L633.35 146.22 L634.55 142.99 L635.75 139.75 L636.94 136.51 L638.12 133.28 L639.3 130.04 L640.47 126.8 L641.63 123.57 L642.78 120.33 L643.92 117.09 L645.06 113.86 L646.2 110.62 L647.32 107.38 L648.44 104.15 L649.55 100.91 L650.66 97.67 L651.75 94.44 L652.85 91.2 L653.93 87.96 L655.01 84.73 L656.09 81.49 L657.16 78.25 L658.22 75.02 L659.28 71.78 L660.33 68.54 L661.38 65.31 L662.42 62.07 L663.46 58.83 L664.49 55.6 L665.51 52.36 L666.53 49.12 L667.55 45.89 L668.56 42.65 L669.57 39.41 L670.57 36.18 L671.57 32.94 L672.56 29.7 L673.55 26.47 L674.53 23.23 L675.51 19.99 L676.48 16.76 L677.45 13.52 L678.42 10.28 L679.38 7.05 L680.34 3.81 L681.29 0.57 L682.24 -2.66 L683.19 -5.9 L684.13 -9.14 L685.06 -12.37 L686 -15.61 L686.93 -18.85 L687.85 -22.08 L688.78 -25.32 L689.69 -28.56 L690.61 -31.79 L691.52 -35.03 L692.43 -38.27 L861.06 -38.27 L861.06 346.9Z"/></clipPath><linearGradient id="gb0"><stop offset="0" stop-color="#1f8ef4"/><stop offset="0.3836" stop-color="#2488f5"/><stop offset="1" stop-color="#376ef9"/></linearGradient><linearGradient id="gb1"><stop offset="0" stop-color="#1f8ff4"/><stop offset="0.3806" stop-color="#2489f5"/><stop offset="1" stop-color="#376ef9"/></linearGradient><linearGradient id="gb2"><stop offset="0" stop-color="#1e90f4"/><stop offset="0.3806" stop-color="#2389f5"/><stop offset="1" stop-color="#376ef9"/></linearGradient><linearGradient id="gb3"><stop offset="0" stop-color="#1e90f4"/><stop offset="0.3776" stop-color="#238af5"/><stop offset="1" stop-color="#376ff9"/></linearGradient><linearGradient id="gb4"><stop offset="0" stop-color="#1e91f4"/><stop offset="0.3776" stop-color="#228af5"/><stop offset="1" stop-color="#366ff9"/></linearGradient><linearGradient id="gb5"><stop offset="0" stop-color="#1d91f3"/><stop offset="0.3747" stop-color="#228bf5"/><stop offset="1" stop-color="#366ff9"/></linearGradient><linearGradient id="gb6"><stop offset="0" stop-color="#1d92f3"/><stop offset="0.3717" stop-color="#228bf4"/><stop offset="1" stop-color="#3670f8"/></linearGradient><linearGradient id="gb7"><stop offset="0" stop-color="#1c92f3"/><stop offset="0.3687" stop-color="#218cf4"/><stop offset="1" stop-color="#3670f8"/></linearGradient><linearGradient id="gb8"><stop offset="0" stop-color="#1c93f3"/><stop offset="0.3687" stop-color="#218cf4"/><stop offset="1" stop-color="#3670f8"/></linearGradient><linearGradient id="gb9"><stop offset="0" stop-color="#1c93f3"/><stop offset="0.3657" stop-color="#208df4"/><stop offset="0.9991" stop-color="#3571f8"/><stop offset="1" stop-color="#3570f8"/></linearGradient><linearGradient id="gb10"><stop offset="0" stop-color="#1b94f3"/><stop offset="0.3657" stop-color="#208ef4"/><stop offset="1" stop-color="#3571f8"/></linearGradient><linearGradient id="gb11"><stop offset="0" stop-color="#1b94f3"/><stop offset="0.3628" stop-color="#208ef4"/><stop offset="0.9902" stop-color="#3572f8"/><stop offset="1" stop-color="#3571f8"/></linearGradient><linearGradient id="gb12"><stop offset="0" stop-color="#1a95f3"/><stop offset="0.3598" stop-color="#1f8ff4"/><stop offset="0.9842" stop-color="#3472f8"/><stop offset="1" stop-color="#3571f8"/></linearGradient><linearGradient id="gb13"><stop offset="0" stop-color="#1a95f3"/><stop offset="0.3598" stop-color="#1f8ff4"/><stop offset="0.9842" stop-color="#3472f8"/><stop offset="1" stop-color="#3572f8"/></linearGradient><linearGradient id="gb14"><stop offset="0" stop-color="#1996f2"/><stop offset="0.3568" stop-color="#1e90f4"/><stop offset="0.9753" stop-color="#3373f8"/><stop offset="1" stop-color="#3472f8"/></linearGradient><linearGradient id="gb15"><stop offset="0" stop-color="#1997f2"/><stop offset="0.3539" stop-color="#1e90f4"/><stop offset="0.9664" stop-color="#3374f8"/><stop offset="1" stop-color="#3472f8"/></linearGradient><linearGradient id="gb16"><stop offset="0" stop-color="#1997f2"/><stop offset="0.3539" stop-color="#1d91f3"/><stop offset="0.9694" stop-color="#3374f8"/><stop offset="1" stop-color="#3472f8"/></linearGradient><linearGradient id="gb17"><stop offset="0" stop-color="#1898f2"/><stop offset="0.3509" stop-color="#1d91f3"/><stop offset="0.9605" stop-color="#3275f8"/><stop offset="1" stop-color="#3473f8"/></linearGradient><linearGradient id="gb18"><stop offset="0" stop-color="#1898f2"/><stop offset="0.3509" stop-color="#1d92f3"/><stop offset="0.9634" stop-color="#3275f8"/><stop offset="1" stop-color="#3473f8"/></linearGradient><linearGradient id="gb19"><stop offset="0" stop-color="#1799f2"/><stop offset="0.3479" stop-color="#1c93f3"/><stop offset="0.9545" stop-color="#3276f8"/><stop offset="1" stop-color="#3373f8"/></linearGradient><linearGradient id="gb20"><stop offset="0" stop-color="#1799f2"/><stop offset="0.3449" stop-color="#1c93f3"/><stop offset="0.9456" stop-color="#3176f8"/><stop offset="1" stop-color="#3374f8"/></linearGradient><linearGradient id="gb21"><stop offset="0" stop-color="#169af2"/><stop offset="0.342" stop-color="#1b94f3"/><stop offset="0.9396" stop-color="#3177f8"/><stop offset="1" stop-color="#3374f8"/></linearGradient><linearGradient id="gb22"><stop offset="0" stop-color="#169bf2"/><stop offset="0.342" stop-color="#1b94f3"/><stop offset="0.9396" stop-color="#3077f7"/><stop offset="1" stop-color="#3374f8"/></linearGradient><linearGradient id="gb23"><stop offset="0" stop-color="#159bf1"/><stop offset="0.339" stop-color="#1a95f3"/><stop offset="0.9307" stop-color="#3078f7"/><stop offset="1" stop-color="#3374f8"/></linearGradient><linearGradient id="gb24"><stop offset="0" stop-color="#159cf1"/><stop offset="0.339" stop-color="#1a95f3"/><stop offset="0.9337" stop-color="#3078f7"/><stop offset="1" stop-color="#3275f8"/></linearGradient><linearGradient id="gb25"><stop offset="0" stop-color="#149cf1"/><stop offset="0.336" stop-color="#1996f2"/><stop offset="0.9248" stop-color="#2f79f7"/><stop offset="1" stop-color="#3275f8"/></linearGradient><linearGradient id="gb26"><stop offset="0" stop-color="#149df1"/><stop offset="0.333" stop-color="#1997f2"/><stop offset="0.9158" stop-color="#2f7af7"/><stop offset="1" stop-color="#3275f8"/></linearGradient><linearGradient id="gb27"><stop offset="0" stop-color="#139df1"/><stop offset="0.333" stop-color="#1997f2"/><stop offset="0.9188" stop-color="#2f7af7"/><stop offset="1" stop-color="#3275f8"/></linearGradient><linearGradient id="gb28"><stop offset="0" stop-color="#139ef1"/><stop offset="0.3301" stop-color="#1898f2"/><stop offset="0.9099" stop-color="#2e7bf7"/><stop offset="1" stop-color="#3276f8"/></linearGradient><linearGradient id="gb29"><stop offset="0" stop-color="#139ff1"/><stop offset="0.3271" stop-color="#1898f2"/><stop offset="0.901" stop-color="#2d7cf7"/><stop offset="1" stop-color="#3176f8"/></linearGradient><linearGradient id="gb30"><stop offset="0" stop-color="#129ff1"/><stop offset="0.3271" stop-color="#1799f2"/><stop offset="0.904" stop-color="#2d7cf7"/><stop offset="1" stop-color="#3176f8"/></linearGradient><linearGradient id="gb31"><stop offset="0" stop-color="#12a0f1"/><stop offset="0.3241" stop-color="#179af2"/><stop offset="0.895" stop-color="#2d7df7"/><stop offset="1" stop-color="#3177f8"/></linearGradient><linearGradient id="gb32"><stop offset="0" stop-color="#11a0f0"/><stop offset="0.3241" stop-color="#169af2"/><stop offset="0.898" stop-color="#2d7df7"/><stop offset="1" stop-color="#3177f8"/></linearGradient><linearGradient id="gb33"><stop offset="0" stop-color="#11a1f0"/><stop offset="0.3211" stop-color="#169bf2"/><stop offset="0.8891" stop-color="#2c7ef7"/><stop offset="1" stop-color="#3177f8"/></linearGradient><linearGradient id="gb34"><stop offset="0" stop-color="#10a2f0"/><stop offset="0.3182" stop-color="#159bf1"/><stop offset="0.8802" stop-color="#2b7ef6"/><stop offset="1" stop-color="#3077f7"/></linearGradient><linearGradient id="gb35"><stop offset="0" stop-color="#10a2f0"/><stop offset="0.3182" stop-color="#159cf1"/><stop offset="0.8831" stop-color="#2b7ef6"/><stop offset="1" stop-color="#3078f7"/></linearGradient><linearGradient id="gb36"><stop offset="0" stop-color="#0fa3f0"/><stop offset="0.3152" stop-color="#149df1"/><stop offset="0.8742" stop-color="#2b7ff6"/><stop offset="1" stop-color="#3078f7"/></linearGradient><linearGradient id="gb37"><stop offset="0" stop-color="#0fa3f0"/><stop offset="0.3122" stop-color="#149df1"/><stop offset="0.8653" stop-color="#2a80f6"/><stop offset="1" stop-color="#3078f7"/></linearGradient><linearGradient id="gb38"><stop offset="0" stop-color="#0ea4f0"/><stop offset="0.3122" stop-color="#139ef1"/><stop offset="0.8683" stop-color="#2a80f6"/><stop offset="1" stop-color="#3078f7"/></linearGradient><linearGradient id="gb39"><stop offset="0" stop-color="#0ea5ef"/><stop offset="0.3092" stop-color="#139ef1"/><stop offset="0.8594" stop-color="#2981f6"/><stop offset="1" stop-color="#2f79f7"/></linearGradient><linearGradient id="gb40"><stop offset="0" stop-color="#0da5ef"/><stop offset="0.3063" stop-color="#129ff1"/><stop offset="0.8504" stop-color="#2982f6"/><stop offset="1" stop-color="#2f79f7"/></linearGradient><linearGradient id="gb41"><stop offset="0" stop-color="#0ca6ef"/><stop offset="0.3063" stop-color="#12a0f1"/><stop offset="0.8534" stop-color="#2982f6"/><stop offset="1" stop-color="#2f79f7"/></linearGradient><linearGradient id="gb42"><stop offset="0" stop-color="#0ca7ef"/><stop offset="0.3033" stop-color="#11a0f0"/><stop offset="0.8445" stop-color="#2883f6"/><stop offset="1" stop-color="#2f7af7"/></linearGradient><linearGradient id="gb43"><stop offset="0" stop-color="#0ba7ef"/><stop offset="0.3033" stop-color="#11a1f0"/><stop offset="0.8475" stop-color="#2883f6"/><stop offset="1" stop-color="#2f7af7"/></linearGradient><linearGradient id="gb44"><stop offset="0" stop-color="#0ba8ef"/><stop offset="0.3003" stop-color="#10a2f0"/><stop offset="0.8385" stop-color="#2784f6"/><stop offset="1" stop-color="#2e7af7"/></linearGradient><linearGradient id="gb45"><stop offset="0" stop-color="#0aa8ef"/><stop offset="0.2974" stop-color="#10a2f0"/><stop offset="0.8296" stop-color="#2785f5"/><stop offset="1" stop-color="#2e7af7"/></linearGradient><linearGradient id="gb46"><stop offset="0" stop-color="#0aa9ee"/><stop offset="0.2974" stop-color="#0fa3f0"/><stop offset="0.8296" stop-color="#2685f5"/><stop offset="1" stop-color="#2e7bf7"/></linearGradient><linearGradient id="gb47"><stop offset="0" stop-color="#09aaee"/><stop offset="0.2944" stop-color="#0fa3f0"/><stop offset="0.8237" stop-color="#2686f5"/><stop offset="1" stop-color="#2e7bf7"/></linearGradient><linearGradient id="gb48"><stop offset="0" stop-color="#09aaee"/><stop offset="0.2914" stop-color="#0ea4f0"/><stop offset="0.8147" stop-color="#2587f5"/><stop offset="1" stop-color="#2e7bf7"/></linearGradient><linearGradient id="gb49"><stop offset="0" stop-color="#08abee"/><stop offset="0.2914" stop-color="#0da5ef"/><stop offset="0.8177" stop-color="#2587f5"/><stop offset="1" stop-color="#2e7bf7"/></linearGradient><linearGradient id="gb50"><stop offset="0" stop-color="#08acee"/><stop offset="0.2884" stop-color="#0da5ef"/><stop offset="0.8088" stop-color="#2488f5"/><stop offset="1" stop-color="#2d7cf7"/></linearGradient><linearGradient id="gb51"><stop offset="0" stop-color="#07acee"/><stop offset="0.2855" stop-color="#0ca6ef"/><stop offset="0.7999" stop-color="#2489f5"/><stop offset="1" stop-color="#2d7cf7"/></linearGradient><linearGradient id="gb52"><stop offset="0" stop-color="#06aded"/><stop offset="0.2855" stop-color="#0ca7ef"/><stop offset="0.8029" stop-color="#2489f5"/><stop offset="1" stop-color="#2d7cf7"/></linearGradient><linearGradient id="gb53"><stop offset="0" stop-color="#06aeed"/><stop offset="0.2825" stop-color="#0ba7ef"/><stop offset="0.7939" stop-color="#238af5"/><stop offset="1" stop-color="#2d7cf7"/></linearGradient><linearGradient id="gb54"><stop offset="0" stop-color="#05aeed"/><stop offset="0.2795" stop-color="#0ba8ef"/><stop offset="0.785" stop-color="#228bf5"/><stop offset="1" stop-color="#2d7df7"/></linearGradient><linearGradient id="gb55"><stop offset="0" stop-color="#05afed"/><stop offset="0.2795" stop-color="#0aa9ef"/><stop offset="0.788" stop-color="#228bf5"/><stop offset="1" stop-color="#2c7df7"/></linearGradient><linearGradient id="gb56"><stop offset="0" stop-color="#04b0ed"/><stop offset="0.2765" stop-color="#09a9ee"/><stop offset="0.7791" stop-color="#218cf4"/><stop offset="1" stop-color="#2c7df7"/></linearGradient><linearGradient id="gb57"><stop offset="0" stop-color="#04b0ed"/><stop offset="0.2765" stop-color="#09aaee"/><stop offset="0.782" stop-color="#218cf4"/><stop offset="1" stop-color="#2c7df7"/></linearGradient><linearGradient id="gb58"><stop offset="0" stop-color="#03b1ec"/><stop offset="0.2736" stop-color="#08abee"/><stop offset="0.7731" stop-color="#218df4"/><stop offset="1" stop-color="#2c7ef7"/></linearGradient><linearGradient id="gb59"><stop offset="0" stop-color="#02b2ec"/><stop offset="0.2706" stop-color="#08acee"/><stop offset="0.7642" stop-color="#208ef4"/><stop offset="1" stop-color="#2c7ef7"/></linearGradient><linearGradient id="gb60"><stop offset="0" stop-color="#02b2ec"/><stop offset="0.2706" stop-color="#07acee"/><stop offset="0.7672" stop-color="#208ef4"/><stop offset="1" stop-color="#2b7ef7"/></linearGradient><linearGradient id="gb61"><stop offset="0" stop-color="#01b3ec"/><stop offset="0.2676" stop-color="#07adee"/><stop offset="0.7583" stop-color="#1f8ff4"/><stop offset="1" stop-color="#2b7ef6"/></linearGradient><linearGradient id="gb62"><stop offset="0" stop-color="#01b4ec"/><stop offset="0.2528" stop-color="#05aeed"/><stop offset="0.7107" stop-color="#1c92f3"/><stop offset="1" stop-color="#2b7ff6"/></linearGradient><linearGradient id="gb63"><stop offset="0" stop-color="#01b5ec"/><stop offset="0.2468" stop-color="#05afed"/><stop offset="0.6928" stop-color="#1b94f3"/><stop offset="1" stop-color="#2b7ff6"/></linearGradient><linearGradient id="gb64"><stop offset="0" stop-color="#01b5eb"/><stop offset="0.2409" stop-color="#04b0ed"/><stop offset="0.675" stop-color="#1a96f3"/><stop offset="1" stop-color="#2b7ff6"/></linearGradient><linearGradient id="gb65"><stop offset="0" stop-color="#01b6eb"/><stop offset="0.2171" stop-color="#03b1ec"/><stop offset="0.6125" stop-color="#169af2"/><stop offset="1" stop-color="#2b7ff6"/></linearGradient><linearGradient id="gb66"><stop offset="0" stop-color="#02b7eb"/><stop offset="0.2171" stop-color="#02b2ec"/><stop offset="0.6125" stop-color="#169bf2"/><stop offset="1" stop-color="#2a80f6"/></linearGradient><linearGradient id="gb67"><stop offset="0" stop-color="#03b7eb"/><stop offset="0.226" stop-color="#02b2ec"/><stop offset="0.6363" stop-color="#1799f2"/><stop offset="1" stop-color="#2a80f6"/></linearGradient><linearGradient id="gb68"><stop offset="0" stop-color="#03b8eb"/><stop offset="0.2379" stop-color="#02b3ec"/><stop offset="0.672" stop-color="#1897f2"/><stop offset="1" stop-color="#2a80f6"/></linearGradient><linearGradient id="gb69"><stop offset="0" stop-color="#04b9ea"/><stop offset="0.2498" stop-color="#01b3ec"/><stop offset="0.7136" stop-color="#1a95f3"/><stop offset="1" stop-color="#2a80f6"/></linearGradient><linearGradient id="gb70"><stop offset="0" stop-color="#05baea"/><stop offset="0.2498" stop-color="#01b3ec"/><stop offset="0.7166" stop-color="#1a95f3"/><stop offset="1" stop-color="#2a81f6"/></linearGradient><linearGradient id="gb71"><stop offset="0" stop-color="#05baea"/><stop offset="0.2498" stop-color="#01b4ec"/><stop offset="0.7166" stop-color="#1a95f3"/><stop offset="1" stop-color="#2a81f6"/></linearGradient><linearGradient id="gb72"><stop offset="0" stop-color="#06bbea"/><stop offset="0.2468" stop-color="#01b5eb"/><stop offset="0.6869" stop-color="#1898f2"/><stop offset="1" stop-color="#2981f6"/></linearGradient><linearGradient id="gb73"><stop offset="0" stop-color="#07bce9"/><stop offset="0.2438" stop-color="#01b6eb"/><stop offset="0.3776" stop-color="#06aeed"/><stop offset="1" stop-color="#2981f6"/></linearGradient><linearGradient id="gb74"><stop offset="0" stop-color="#08bce9"/><stop offset="0.2438" stop-color="#02b6eb"/><stop offset="0.333" stop-color="#03b1ec"/><stop offset="1" stop-color="#2982f6"/></linearGradient><linearGradient id="gb75"><stop offset="0" stop-color="#08bde9"/><stop offset="0.2409" stop-color="#02b7eb"/><stop offset="0.3211" stop-color="#01b3ec"/><stop offset="1" stop-color="#2982f6"/></linearGradient><linearGradient id="gb76"><stop offset="0" stop-color="#09bee9"/><stop offset="0.2379" stop-color="#03b8eb"/><stop offset="0.3241" stop-color="#01b3ec"/><stop offset="1" stop-color="#2982f6"/></linearGradient><linearGradient id="gb77"><stop offset="0" stop-color="#0abfe9"/><stop offset="0.2379" stop-color="#04b8ea"/><stop offset="0.3301" stop-color="#01b3ec"/><stop offset="1" stop-color="#2982f6"/></linearGradient><linearGradient id="gb78"><stop offset="0" stop-color="#0abfe8"/><stop offset="0.2349" stop-color="#05b9ea"/><stop offset="0.339" stop-color="#01b3ec"/><stop offset="1" stop-color="#2882f6"/></linearGradient><linearGradient id="gb79"><stop offset="0" stop-color="#0bc0e8"/><stop offset="0.2349" stop-color="#05baea"/><stop offset="0.3449" stop-color="#01b4ec"/><stop offset="1" stop-color="#2883f6"/></linearGradient><linearGradient id="gb80"><stop offset="0" stop-color="#0cc1e8"/><stop offset="0.2319" stop-color="#06bbea"/><stop offset="0.3539" stop-color="#01b4ec"/><stop offset="1" stop-color="#2883f6"/></linearGradient><linearGradient id="gb81"><stop offset="0" stop-color="#0dc2e8"/><stop offset="0.229" stop-color="#07bcea"/><stop offset="0.3628" stop-color="#01b4ec"/><stop offset="1" stop-color="#2883f6"/></linearGradient><linearGradient id="gb82"><stop offset="0" stop-color="#0dc3e7"/><stop offset="0.229" stop-color="#07bce9"/><stop offset="0.3717" stop-color="#01b3ec"/><stop offset="1" stop-color="#2883f6"/></linearGradient><linearGradient id="gb83"><stop offset="0" stop-color="#0ec3e7"/><stop offset="0.226" stop-color="#08bde9"/><stop offset="0.3776" stop-color="#01b4ec"/><stop offset="1" stop-color="#2884f6"/></linearGradient><linearGradient id="gb84"><stop offset="0" stop-color="#0fc4e7"/><stop offset="0.223" stop-color="#09bee9"/><stop offset="0.3866" stop-color="#01b4ec"/><stop offset="1" stop-color="#2784f6"/></linearGradient><linearGradient id="gb85"><stop offset="0" stop-color="#10c5e7"/><stop offset="0.223" stop-color="#0abfe9"/><stop offset="0.3925" stop-color="#01b4ec"/><stop offset="1" stop-color="#2784f6"/></linearGradient><linearGradient id="gb86"><stop offset="0" stop-color="#11c6e6"/><stop offset="0.22" stop-color="#0abfe8"/><stop offset="0.4014" stop-color="#01b4ec"/><stop offset="1" stop-color="#2784f6"/></linearGradient><linearGradient id="gb87"><stop offset="0" stop-color="#11c7e6"/><stop offset="0.2171" stop-color="#0bc0e8"/><stop offset="0.4074" stop-color="#01b4ec"/><stop offset="1" stop-color="#2784f6"/></linearGradient><linearGradient id="gb88"><stop offset="0" stop-color="#12c7e6"/><stop offset="0.2171" stop-color="#0cc1e8"/><stop offset="0.4133" stop-color="#01b4ec"/><stop offset="1" stop-color="#2785f6"/></linearGradient><linearGradient id="gb89"><stop offset="0" stop-color="#13c8e5"/><stop offset="0.2141" stop-color="#0dc2e8"/><stop offset="0.4193" stop-color="#01b4ec"/><stop offset="1" stop-color="#2785f5"/></linearGradient><linearGradient id="gb90"><stop offset="0" stop-color="#14c9e5"/><stop offset="0.2111" stop-color="#0ec3e7"/><stop offset="0.4282" stop-color="#01b4ec"/><stop offset="1" stop-color="#2685f5"/></linearGradient><linearGradient id="gb91"><stop offset="0" stop-color="#15cae5"/><stop offset="0.2111" stop-color="#0ec4e7"/><stop offset="0.4341" stop-color="#01b4ec"/><stop offset="1" stop-color="#2685f5"/></linearGradient><linearGradient id="gb92"><stop offset="0" stop-color="#16cbe5"/><stop offset="0.2081" stop-color="#0fc4e7"/><stop offset="0.4401" stop-color="#01b4ec"/><stop offset="1" stop-color="#2685f5"/></linearGradient><linearGradient id="gb93"><stop offset="0" stop-color="#16cbe4"/><stop offset="0.2052" stop-color="#10c5e6"/><stop offset="0.446" stop-color="#01b4ec"/><stop offset="1" stop-color="#2686f5"/></linearGradient><linearGradient id="gb94"><stop offset="0" stop-color="#17cce4"/><stop offset="0.2022" stop-color="#11c6e6"/><stop offset="0.452" stop-color="#01b4ec"/><stop offset="1" stop-color="#2686f5"/></linearGradient><linearGradient id="gb95"><stop offset="0" stop-color="#18cde4"/><stop offset="0.2022" stop-color="#12c7e6"/><stop offset="0.455" stop-color="#01b4ec"/><stop offset="1" stop-color="#2686f5"/></linearGradient><linearGradient id="gb96"><stop offset="0" stop-color="#19cee3"/><stop offset="0.1992" stop-color="#13c8e6"/><stop offset="0.4609" stop-color="#01b4ec"/><stop offset="1" stop-color="#2686f5"/></linearGradient><linearGradient id="gb97"><stop offset="0" stop-color="#1acfe3"/><stop offset="0.1963" stop-color="#14c9e5"/><stop offset="0.4668" stop-color="#01b4ec"/><stop offset="1" stop-color="#2586f5"/></linearGradient><linearGradient id="gb98"><stop offset="0" stop-color="#1bd0e3"/><stop offset="0.1933" stop-color="#15cae5"/><stop offset="0.4728" stop-color="#01b4ec"/><stop offset="1" stop-color="#2587f5"/></linearGradient><linearGradient id="gb99"><stop offset="0" stop-color="#1cd0e2"/><stop offset="0.1903" stop-color="#16cbe5"/><stop offset="0.4787" stop-color="#01b4ec"/><stop offset="1" stop-color="#2587f5"/></linearGradient><linearGradient id="gb100"><stop offset="0" stop-color="#1dd1e2"/><stop offset="0.1873" stop-color="#16cbe4"/><stop offset="0.4817" stop-color="#01b4ec"/><stop offset="1" stop-color="#2587f5"/></linearGradient><linearGradient id="gb101"><stop offset="0" stop-color="#1ed2e2"/><stop offset="0.1844" stop-color="#17cce4"/><stop offset="0.4877" stop-color="#01b4ec"/><stop offset="1" stop-color="#2587f5"/></linearGradient><linearGradient id="gb102"><stop offset="0" stop-color="#1fd3e1"/><stop offset="0.1814" stop-color="#18cde4"/><stop offset="0.4936" stop-color="#01b4ec"/><stop offset="1" stop-color="#2587f5"/></linearGradient><linearGradient id="gb103"><stop offset="0" stop-color="#20d4e1"/><stop offset="0.1784" stop-color="#1acee3"/><stop offset="0.4966" stop-color="#01b4ec"/><stop offset="1" stop-color="#2588f5"/></linearGradient><linearGradient id="gb104"><stop offset="0" stop-color="#21d5e1"/><stop offset="0.1784" stop-color="#1acfe3"/><stop offset="0.5025" stop-color="#01b4ec"/><stop offset="1" stop-color="#2488f5"/></linearGradient><linearGradient id="gb105"><stop offset="0" stop-color="#22d6e0"/><stop offset="0.1754" stop-color="#1bd0e3"/><stop offset="0.5055" stop-color="#01b4ec"/><stop offset="1" stop-color="#2488f5"/></linearGradient><linearGradient id="gb106"><stop offset="0" stop-color="#23d7e0"/><stop offset="0.1725" stop-color="#1cd1e2"/><stop offset="0.5114" stop-color="#01b4ec"/><stop offset="1" stop-color="#2488f5"/></linearGradient><linearGradient id="gb107"><stop offset="0" stop-color="#24d7df"/><stop offset="0.1695" stop-color="#1ed2e2"/><stop offset="0.5114" stop-color="#01b4ec"/><stop offset="1" stop-color="#2488f5"/></linearGradient><linearGradient id="gb108"><stop offset="0" stop-color="#25d8df"/><stop offset="0.1665" stop-color="#1fd3e1"/><stop offset="0.5025" stop-color="#01b5eb"/><stop offset="0.672" stop-color="#0da5ef"/><stop offset="1" stop-color="#2488f5"/></linearGradient><linearGradient id="gb109"><stop offset="0" stop-color="#26d9df"/><stop offset="0.1635" stop-color="#20d4e1"/><stop offset="0.4936" stop-color="#02b7eb"/><stop offset="0.5382" stop-color="#02b2ec"/><stop offset="0.9842" stop-color="#238af5"/><stop offset="1" stop-color="#2489f5"/></linearGradient><linearGradient id="gb110"><stop offset="0" stop-color="#27dade"/><stop offset="0.1606" stop-color="#21d5e1"/><stop offset="0.4847" stop-color="#03b8eb"/><stop offset="0.5323" stop-color="#01b3ec"/><stop offset="0.9961" stop-color="#2389f5"/><stop offset="1" stop-color="#2489f5"/></linearGradient><linearGradient id="gb111"><stop offset="0" stop-color="#28dbde"/><stop offset="0.1576" stop-color="#22d6e0"/><stop offset="0.4758" stop-color="#05b9ea"/><stop offset="0.5323" stop-color="#01b4ec"/><stop offset="1" stop-color="#2389f5"/></linearGradient><linearGradient id="gb112"><stop offset="0" stop-color="#29dcdd"/><stop offset="0.1546" stop-color="#23d7e0"/><stop offset="0.4668" stop-color="#06bbea"/><stop offset="0.5352" stop-color="#01b4ec"/><stop offset="1" stop-color="#2389f5"/></linearGradient><linearGradient id="gb113"><stop offset="0" stop-color="#2bdddd"/><stop offset="0.1517" stop-color="#24d8df"/><stop offset="0.4609" stop-color="#07bce9"/><stop offset="0.5382" stop-color="#01b4ec"/><stop offset="1" stop-color="#2389f5"/></linearGradient><linearGradient id="gb114"><stop offset="0" stop-color="#2cdedc"/><stop offset="0.1517" stop-color="#25d9df"/><stop offset="0.4609" stop-color="#07bce9"/><stop offset="0.5442" stop-color="#01b4ec"/><stop offset="0.9991" stop-color="#238af5"/><stop offset="1" stop-color="#2389f5"/></linearGradient><linearGradient id="gb115"><stop offset="0" stop-color="#2ddfdc"/><stop offset="0.1487" stop-color="#27dade"/><stop offset="0.452" stop-color="#09bee9"/><stop offset="0.5471" stop-color="#01b4ec"/><stop offset="0.9991" stop-color="#238af5"/><stop offset="1" stop-color="#238af5"/></linearGradient><linearGradient id="gb116"><stop offset="0" stop-color="#2ee0db"/><stop offset="0.1457" stop-color="#28dbde"/><stop offset="0.4431" stop-color="#0abfe9"/><stop offset="0.5501" stop-color="#01b4ec"/><stop offset="0.9991" stop-color="#238af5"/><stop offset="1" stop-color="#238af5"/></linearGradient><linearGradient id="gb117"><stop offset="0" stop-color="#2fe1db"/><stop offset="0.1427" stop-color="#29dcdd"/><stop offset="0.4341" stop-color="#0bc0e8"/><stop offset="0.5531" stop-color="#01b4ec"/><stop offset="1" stop-color="#238af5"/></linearGradient><linearGradient id="gb118"><stop offset="0" stop-color="#31e2da"/><stop offset="0.1398" stop-color="#2adddd"/><stop offset="0.4252" stop-color="#0dc2e8"/><stop offset="0.5561" stop-color="#01b4ec"/><stop offset="1" stop-color="#238af5"/></linearGradient><linearGradient id="gb119"><stop offset="0" stop-color="#32e3da"/><stop offset="0.1368" stop-color="#2cdedc"/><stop offset="0.4163" stop-color="#0ec3e7"/><stop offset="0.559" stop-color="#01b4ec"/><stop offset="1" stop-color="#238af5"/></linearGradient><linearGradient id="gb120"><stop offset="0" stop-color="#33e3d9"/><stop offset="0.1338" stop-color="#2ddfdc"/><stop offset="0.4074" stop-color="#0fc5e7"/><stop offset="0.562" stop-color="#01b4ec"/><stop offset="1" stop-color="#228af5"/></linearGradient><linearGradient id="gb121"><stop offset="0" stop-color="#35e4d9"/><stop offset="0.1308" stop-color="#2fe0db"/><stop offset="0.4014" stop-color="#11c6e6"/><stop offset="0.565" stop-color="#01b4ec"/><stop offset="1" stop-color="#228af5"/></linearGradient><linearGradient id="gb122"><stop offset="0" stop-color="#36e5d8"/><stop offset="0.1279" stop-color="#30e1db"/><stop offset="0.3895" stop-color="#12c7e6"/><stop offset="0.5679" stop-color="#01b4ec"/><stop offset="0.9991" stop-color="#228bf5"/><stop offset="1" stop-color="#228bf5"/></linearGradient><linearGradient id="gb123"><stop offset="0" stop-color="#38e6d8"/><stop offset="0.1279" stop-color="#31e2da"/><stop offset="0.3925" stop-color="#12c8e6"/><stop offset="0.5709" stop-color="#01b4ec"/><stop offset="0.9991" stop-color="#228bf5"/><stop offset="1" stop-color="#228bf5"/></linearGradient><linearGradient id="gb124"><stop offset="0" stop-color="#39e7d7"/><stop offset="0.1249" stop-color="#33e3da"/><stop offset="0.3836" stop-color="#14c9e5"/><stop offset="0.5739" stop-color="#01b4ec"/><stop offset="0.9961" stop-color="#228bf4"/><stop offset="1" stop-color="#228bf4"/></linearGradient><linearGradient id="gb125"><stop offset="0" stop-color="#3ae8d6"/><stop offset="0.1219" stop-color="#34e4d9"/><stop offset="0.3747" stop-color="#16cbe5"/><stop offset="0.5739" stop-color="#01b4ec"/><stop offset="1" stop-color="#228bf4"/></linearGradient><linearGradient id="gb126"><stop offset="0" stop-color="#3ce9d6"/><stop offset="0.1189" stop-color="#36e5d8"/><stop offset="0.3657" stop-color="#17cce4"/><stop offset="0.5769" stop-color="#01b4ec"/><stop offset="1" stop-color="#228bf4"/></linearGradient><linearGradient id="gb127"><stop offset="0" stop-color="#3dead5"/><stop offset="0.116" stop-color="#37e6d8"/><stop offset="0.3568" stop-color="#19cee3"/><stop offset="0.5798" stop-color="#01b4ec"/><stop offset="1" stop-color="#228bf4"/></linearGradient><linearGradient id="gb128"><stop offset="0" stop-color="#3febd4"/><stop offset="0.113" stop-color="#39e7d7"/><stop offset="0.3509" stop-color="#1acfe3"/><stop offset="0.5798" stop-color="#01b4ec"/><stop offset="1" stop-color="#228bf4"/></linearGradient><linearGradient id="gb129"><stop offset="0" stop-color="#41ecd4"/><stop offset="0.11" stop-color="#3ae8d6"/><stop offset="0.342" stop-color="#1cd0e2"/><stop offset="0.5828" stop-color="#01b4ec"/><stop offset="1" stop-color="#218cf4"/></linearGradient><linearGradient id="gb130"><stop offset="0" stop-color="#42edd3"/><stop offset="0.107" stop-color="#3ce9d6"/><stop offset="0.333" stop-color="#1ed2e2"/><stop offset="0.5828" stop-color="#01b5ec"/><stop offset="1" stop-color="#218cf4"/></linearGradient><linearGradient id="gb131"><stop offset="0" stop-color="#44eed2"/><stop offset="0.1041" stop-color="#3eead5"/><stop offset="0.3241" stop-color="#1fd4e1"/><stop offset="0.5828" stop-color="#01b5eb"/><stop offset="1" stop-color="#218cf4"/></linearGradient><linearGradient id="gb132"><stop offset="0" stop-color="#46efd1"/><stop offset="0.1041" stop-color="#3febd4"/><stop offset="0.3241" stop-color="#20d4e1"/><stop offset="0.5858" stop-color="#01b5eb"/><stop offset="1" stop-color="#218cf4"/></linearGradient><linearGradient id="gb133"><stop offset="0" stop-color="#47f0d1"/><stop offset="0.1011" stop-color="#41ecd3"/><stop offset="0.3152" stop-color="#22d6e0"/><stop offset="0.5858" stop-color="#01b5eb"/><stop offset="1" stop-color="#218cf4"/></linearGradient><linearGradient id="gb134"><stop offset="0" stop-color="#49f1d0"/><stop offset="0.0981" stop-color="#43edd3"/><stop offset="0.3063" stop-color="#24d7df"/><stop offset="0.5709" stop-color="#02b7eb"/><stop offset="0.6096" stop-color="#02b3ec"/><stop offset="0.9753" stop-color="#1f8ef4"/><stop offset="1" stop-color="#218cf4"/></linearGradient><linearGradient id="gb135"><stop offset="0" stop-color="#4bf2cf"/><stop offset="0.0952" stop-color="#45eed2"/><stop offset="0.2974" stop-color="#26d9df"/><stop offset="0.5561" stop-color="#04b9ea"/><stop offset="0.6036" stop-color="#01b3ec"/><stop offset="0.9902" stop-color="#208df4"/><stop offset="1" stop-color="#218cf4"/></linearGradient><linearGradient id="gb136"><stop offset="0" stop-color="#4df3ce"/><stop offset="0.0922" stop-color="#47f0d1"/><stop offset="0.2884" stop-color="#28dbde"/><stop offset="0.5382" stop-color="#06bbea"/><stop offset="0.6036" stop-color="#01b4ec"/><stop offset="0.9961" stop-color="#218df4"/><stop offset="1" stop-color="#218cf4"/></linearGradient><linearGradient id="gb137"><stop offset="0" stop-color="#4ff4cd"/><stop offset="0.0892" stop-color="#49f1d0"/><stop offset="0.2795" stop-color="#2adcdd"/><stop offset="0.5233" stop-color="#08bde9"/><stop offset="0.6036" stop-color="#01b4ec"/><stop offset="1" stop-color="#218cf4"/></linearGradient><linearGradient id="gb138"><stop offset="0" stop-color="#4ff4cd"/><stop offset="0.0684" stop-color="#4df3ce"/><stop offset="0.2319" stop-color="#33e3da"/><stop offset="0.4668" stop-color="#0fc5e7"/><stop offset="0.6066" stop-color="#01b4ec"/><stop offset="0.9961" stop-color="#208df4"/><stop offset="1" stop-color="#218df4"/></linearGradient><linearGradient id="gb139"><stop offset="0" stop-color="#4ff4cd"/><stop offset="0.0803" stop-color="#4df3ce"/><stop offset="0.2557" stop-color="#2fe0db"/><stop offset="0.4847" stop-color="#0dc3e7"/><stop offset="0.6066" stop-color="#01b4ec"/><stop offset="1" stop-color="#218df4"/></linearGradient><linearGradient id="gb140"><stop offset="0" stop-color="#4ff4cd"/><stop offset="0.0922" stop-color="#4df3ce"/><stop offset="0.2884" stop-color="#2adddd"/><stop offset="0.5144" stop-color="#0abfe8"/><stop offset="0.6096" stop-color="#01b4ec"/><stop offset="1" stop-color="#218df4"/></linearGradient><linearGradient id="gb141"><stop offset="0" stop-color="#4ff4cd"/><stop offset="0.1011" stop-color="#4ef3ce"/><stop offset="0.3152" stop-color="#26dade"/><stop offset="0.5442" stop-color="#07bce9"/><stop offset="0.6125" stop-color="#01b4ec"/><stop offset="0.9961" stop-color="#208df4"/><stop offset="1" stop-color="#218df4"/></linearGradient><linearGradient id="gb142"><stop offset="0" stop-color="#4ff4cd"/><stop offset="0.11" stop-color="#4ef3ce"/><stop offset="0.3598" stop-color="#20d4e1"/><stop offset="0.6007" stop-color="#01b5eb"/><stop offset="1" stop-color="#208df4"/></linearGradient><linearGradient id="gb143"><stop offset="0" stop-color="#4ff4cd"/><stop offset="0.1189" stop-color="#4ef3ce"/><stop offset="0.3479" stop-color="#22d6e0"/><stop offset="0.5798" stop-color="#03b8eb"/><stop offset="0.6215" stop-color="#01b3ec"/><stop offset="0.9842" stop-color="#1f8ef4"/><stop offset="1" stop-color="#208df4"/></linearGradient><linearGradient id="gb144"><stop offset="0" stop-color="#4ff4cd"/><stop offset="0.1279" stop-color="#4ef3ce"/><stop offset="0.339" stop-color="#24d8df"/><stop offset="0.565" stop-color="#05baea"/><stop offset="0.6185" stop-color="#01b4ec"/><stop offset="0.9932" stop-color="#208ef4"/><stop offset="1" stop-color="#208df4"/></linearGradient><linearGradient id="gb145"><stop offset="0" stop-color="#4ff4cd"/><stop offset="0.1338" stop-color="#4ef3ce"/><stop offset="0.3301" stop-color="#26d9df"/><stop offset="0.5471" stop-color="#07bce9"/><stop offset="0.6185" stop-color="#01b4ec"/><stop offset="0.9991" stop-color="#208df4"/><stop offset="1" stop-color="#208df4"/></linearGradient><linearGradient id="gb146"><stop offset="0" stop-color="#4ff4cd"/><stop offset="0.1398" stop-color="#4ef3ce"/><stop offset="0.3241" stop-color="#27dade"/><stop offset="0.5352" stop-color="#09bee9"/><stop offset="0.6185" stop-color="#01b4ec"/><stop offset="1" stop-color="#208df4"/></linearGradient><linearGradient id="gb147"><stop offset="0" stop-color="#4ff4cd"/><stop offset="0.1457" stop-color="#4ef3ce"/><stop offset="0.3182" stop-color="#29dcdd"/><stop offset="0.5233" stop-color="#0bc0e8"/><stop offset="0.6215" stop-color="#01b4ec"/><stop offset="0.9961" stop-color="#208ef4"/><stop offset="1" stop-color="#208df4"/></linearGradient><linearGradient id="gb148"><stop offset="0" stop-color="#4ff4cd"/><stop offset="0.1517" stop-color="#4ef3ce"/><stop offset="0.3152" stop-color="#2adcdd"/><stop offset="0.5174" stop-color="#0bc1e8"/><stop offset="0.6215" stop-color="#01b4ec"/><stop offset="1" stop-color="#208df4"/></linearGradient><linearGradient id="gb149"><stop offset="0" stop-color="#4ff4cd"/><stop offset="0.1576" stop-color="#4df3ce"/><stop offset="0.3152" stop-color="#2adddd"/><stop offset="0.5144" stop-color="#0cc1e8"/><stop offset="0.6215" stop-color="#01b4ec"/><stop offset="1" stop-color="#208df4"/></linearGradient><linearGradient id="gb150"><stop offset="0" stop-color="#4ff4cd"/><stop offset="0.1606" stop-color="#4ef3ce"/><stop offset="0.3092" stop-color="#2cdedc"/><stop offset="0.5025" stop-color="#0ec3e7"/><stop offset="0.6244" stop-color="#01b4ec"/><stop offset="1" stop-color="#208ef4"/></linearGradient><linearGradient id="gb151"><stop offset="0" stop-color="#4ff4cd"/><stop offset="0.1635" stop-color="#4ef3cd"/><stop offset="0.3063" stop-color="#2ddfdc"/><stop offset="0.4936" stop-color="#0fc4e7"/><stop offset="0.6244" stop-color="#01b4ec"/><stop offset="1" stop-color="#208ef4"/></linearGradient><linearGradient id="gb152"><stop offset="0" stop-color="#4ff4cd"/><stop offset="0.1695" stop-color="#4ef3ce"/><stop offset="0.3063" stop-color="#2ddfdc"/><stop offset="0.4906" stop-color="#10c5e7"/><stop offset="0.6244" stop-color="#01b4ec"/><stop offset="1" stop-color="#208ef4"/></linearGradient><linearGradient id="gb153"><stop offset="0" stop-color="#4ff4cd"/><stop offset="0.1725" stop-color="#4ef3ce"/><stop offset="0.3063" stop-color="#2edfdc"/><stop offset="0.4877" stop-color="#10c5e6"/><stop offset="0.6274" stop-color="#01b4ec"/><stop offset="1" stop-color="#208ef4"/></linearGradient><linearGradient id="gb154"><stop offset="0" stop-color="#4ff4cd"/><stop offset="0.1754" stop-color="#4ef3ce"/><stop offset="0.3033" stop-color="#2fe0db"/><stop offset="0.4817" stop-color="#11c6e6"/><stop offset="0.6274" stop-color="#01b4ec"/><stop offset="1" stop-color="#208ef4"/></linearGradient><linearGradient id="gb155"><stop offset="0" stop-color="#4ff4cd"/><stop offset="0.1784" stop-color="#4ef3ce"/><stop offset="0.3033" stop-color="#2fe0db"/><stop offset="0.4787" stop-color="#12c7e6"/><stop offset="0.6274" stop-color="#01b4ec"/><stop offset="1" stop-color="#208ef4"/></linearGradient><linearGradient id="gb156"><stop offset="0" stop-color="#4ff4cd"/><stop offset="0.1814" stop-color="#4ef3ce"/><stop offset="0.3033" stop-color="#30e1db"/><stop offset="0.4758" stop-color="#12c7e6"/><stop offset="0.6274" stop-color="#01b4ec"/><stop offset="1" stop-color="#208ef4"/></linearGradient><linearGradient id="gb157"><stop offset="0" stop-color="#4ff4cd"/><stop offset="0.1844" stop-color="#4ef3ce"/><stop offset="0.3033" stop-color="#30e1db"/><stop offset="0.4758" stop-color="#12c8e6"/><stop offset="0.6304" stop-color="#01b4ec"/><stop offset="1" stop-color="#208ef4"/></linearGradient><linearGradient id="gb158"><stop offset="0" stop-color="#4ff4cd"/><stop offset="0.1873" stop-color="#4ef3ce"/><stop offset="0.3033" stop-color="#30e1db"/><stop offset="0.4728" stop-color="#13c8e5"/><stop offset="0.6304" stop-color="#01b4ec"/><stop offset="1" stop-color="#208ef4"/></linearGradient><linearGradient id="gb159"><stop offset="0" stop-color="#4ff4cd"/><stop offset="0.1903" stop-color="#4ef3ce"/><stop offset="0.3063" stop-color="#30e1db"/><stop offset="0.4758" stop-color="#13c8e6"/><stop offset="0.6304" stop-color="#01b4ec"/><stop offset="1" stop-color="#208ef4"/></linearGradient><linearGradient id="gb160"><stop offset="0" stop-color="#4ff4cd"/><stop offset="0.1933" stop-color="#4ef3ce"/><stop offset="0.3063" stop-color="#30e1db"/><stop offset="0.4728" stop-color="#13c8e5"/><stop offset="0.6304" stop-color="#01b4ec"/><stop offset="1" stop-color="#208ef4"/></linearGradient><linearGradient id="gb161"><stop offset="0" stop-color="#4ff4cd"/><stop offset="0.1933" stop-color="#4ef3ce"/><stop offset="0.3033" stop-color="#31e2da"/><stop offset="0.4668" stop-color="#14c9e5"/><stop offset="0.6304" stop-color="#01b4ec"/><stop offset="1" stop-color="#208ef4"/></linearGradient><linearGradient id="gb162"><stop offset="0" stop-color="#4ff4cd"/><stop offset="0.1963" stop-color="#4ef3ce"/><stop offset="0.3063" stop-color="#31e2da"/><stop offset="0.4698" stop-color="#14c9e5"/><stop offset="0.6334" stop-color="#01b4ec"/><stop offset="1" stop-color="#208ef4"/></linearGradient><linearGradient id="gb163"><stop offset="0" stop-color="#4ff4cd"/><stop offset="0.1963" stop-color="#4ef3cd"/><stop offset="0.3033" stop-color="#32e2da"/><stop offset="0.4639" stop-color="#15cae5"/><stop offset="0.6304" stop-color="#01b4ec"/><stop offset="1" stop-color="#208ef4"/></linearGradient><linearGradient id="gb164"><stop offset="0" stop-color="#4ff4cd"/><stop offset="0.1992" stop-color="#4ef3ce"/><stop offset="0.3063" stop-color="#31e2da"/><stop offset="0.4668" stop-color="#15cae5"/><stop offset="0.6334" stop-color="#01b4ec"/><stop offset="1" stop-color="#208ef4"/></linearGradient><linearGradient id="gb165"><stop offset="0" stop-color="#4ff4cd"/><stop offset="0.1992" stop-color="#4ef3ce"/><stop offset="0.3063" stop-color="#31e2da"/><stop offset="0.4668" stop-color="#15cae5"/><stop offset="0.6334" stop-color="#01b4ec"/><stop offset="1" stop-color="#208ef4"/></linearGradient><linearGradient id="gb166"><stop offset="0" stop-color="#4ff4cd"/><stop offset="0.1992" stop-color="#4ef3cd"/><stop offset="0.3033" stop-color="#32e3da"/><stop offset="0.4609" stop-color="#16cbe5"/><stop offset="0.6334" stop-color="#01b4ec"/><stop offset="1" stop-color="#1f8ef4"/></linearGradient><linearGradient id="gb167"><stop offset="0" stop-color="#4ff4cd"/><stop offset="0.2022" stop-color="#4ef3ce"/><stop offset="0.3092" stop-color="#31e2da"/><stop offset="0.4698" stop-color="#14c9e5"/><stop offset="0.6334" stop-color="#01b4ec"/><stop offset="1" stop-color="#1f8ef4"/></linearGradient><linearGradient id="gb168"><stop offset="0" stop-color="#4ff4cd"/><stop offset="0.2022" stop-color="#4ef3ce"/><stop offset="0.3063" stop-color="#32e2da"/><stop offset="0.4639" stop-color="#15cae5"/><stop offset="0.6334" stop-color="#01b4ec"/><stop offset="1" stop-color="#1f8ef4"/></linearGradient><linearGradient id="gb169"><stop offset="0" stop-color="#4ff4cd"/><stop offset="0.2022" stop-color="#4ef3ce"/><stop offset="0.3063" stop-color="#32e2da"/><stop offset="0.4639" stop-color="#15cae5"/><stop offset="0.6334" stop-color="#01b4ec"/><stop offset="1" stop-color="#1f8ef4"/></linearGradient><linearGradient id="gb170"><stop offset="0" stop-color="#4ff4cd"/><stop offset="0.2022" stop-color="#4ef3cd"/><stop offset="0.3063" stop-color="#32e2da"/><stop offset="0.4639" stop-color="#15cae5"/><stop offset="0.6334" stop-color="#01b4ec"/><stop offset="1" stop-color="#1f8ef4"/></linearGradient><linearGradient id="gb171"><stop offset="0" stop-color="#4ff4cd"/><stop offset="0.2022" stop-color="#4ef3cd"/><stop offset="0.3063" stop-color="#32e2da"/><stop offset="0.4639" stop-color="#15cae5"/><stop offset="0.6334" stop-color="#01b4ec"/><stop offset="1" stop-color="#1f8ef4"/></linearGradient><linearGradient id="gred" x1="0" y1="0" x2="0" y2="1"><stop offset="0" stop-color="#780000"/><stop offset="0.2" stop-color="#a00000"/><stop offset="0.38" stop-color="#d20c0a"/><stop offset="0.52" stop-color="#ee4c32"/><stop offset="0.66" stop-color="#f89272"/><stop offset="0.8" stop-color="#fdd2ba"/><stop offset="0.92" stop-color="#fff4ec"/><stop offset="1" stop-color="#ffffff"/></linearGradient></defs><g clip-path="url(#clip_a)">
<rect x="54.3" y="3" width="336" height="2.6" fill="url(#ga0)"/>
<rect x="54.3" y="5" width="336" height="2.6" fill="url(#ga1)"/>
<rect x="54.3" y="7" width="336" height="2.6" fill="url(#ga2)"/>
<rect x="54.3" y="9" width="336" height="2.6" fill="url(#ga3)"/>
<rect x="54.3" y="11" width="336" height="2.6" fill="url(#ga4)"/>
<rect x="54.3" y="13" width="336" height="2.6" fill="url(#ga5)"/>
<rect x="54.3" y="15" width="336" height="2.6" fill="url(#ga6)"/>
<rect x="54.3" y="17" width="336" height="2.6" fill="url(#ga7)"/>
<rect x="54.3" y="19" width="336" height="2.6" fill="url(#ga8)"/>
<rect x="54.3" y="21" width="336" height="2.6" fill="url(#ga9)"/>
<rect x="54.3" y="23" width="336" height="2.6" fill="url(#ga10)"/>
<rect x="54.3" y="25" width="336" height="2.6" fill="url(#ga11)"/>
<rect x="54.3" y="27" width="336" height="2.6" fill="url(#ga12)"/>
<rect x="54.3" y="29" width="336" height="2.6" fill="url(#ga13)"/>
<rect x="54.3" y="31" width="336" height="2.6" fill="url(#ga14)"/>
<rect x="54.3" y="33" width="336" height="2.6" fill="url(#ga15)"/>
<rect x="54.3" y="35" width="336" height="2.6" fill="url(#ga16)"/>
<rect x="54.3" y="37" width="336" height="2.6" fill="url(#ga17)"/>
<rect x="54.3" y="39" width="336" height="2.6" fill="url(#ga18)"/>
<rect x="54.3" y="41" width="336" height="2.6" fill="url(#ga19)"/>
<rect x="54.3" y="43" width="336" height="2.6" fill="url(#ga20)"/>
<rect x="54.3" y="45" width="336" height="2.6" fill="url(#ga21)"/>
<rect x="54.3" y="47" width="336" height="2.6" fill="url(#ga22)"/>
<rect x="54.3" y="49" width="336" height="2.6" fill="url(#ga23)"/>
<rect x="54.3" y="51" width="336" height="2.6" fill="url(#ga24)"/>
<rect x="54.3" y="53" width="336" height="2.6" fill="url(#ga25)"/>
<rect x="54.3" y="55" width="336" height="2.6" fill="url(#ga26)"/>
<rect x="54.3" y="57" width="336" height="2.6" fill="url(#ga27)"/>
<rect x="54.3" y="59" width="336" height="2.6" fill="url(#ga28)"/>
<rect x="54.3" y="61" width="336" height="2.6" fill="url(#ga29)"/>
<rect x="54.3" y="63" width="336" height="2.6" fill="url(#ga30)"/>
<rect x="54.3" y="65" width="336" height="2.6" fill="url(#ga31)"/>
<rect x="54.3" y="67" width="336" height="2.6" fill="url(#ga32)"/>
<rect x="54.3" y="69" width="336" height="2.6" fill="url(#ga33)"/>
<rect x="54.3" y="71" width="336" height="2.6" fill="url(#ga34)"/>
<rect x="54.3" y="73" width="336" height="2.6" fill="url(#ga35)"/>
<rect x="54.3" y="75" width="336" height="2.6" fill="url(#ga36)"/>
<rect x="54.3" y="77" width="336" height="2.6" fill="url(#ga37)"/>
<rect x="54.3" y="79" width="336" height="2.6" fill="url(#ga38)"/>
<rect x="54.3" y="81" width="336" height="2.6" fill="url(#ga39)"/>
<rect x="54.3" y="83" width="336" height="2.6" fill="url(#ga40)"/>
<rect x="54.3" y="85" width="336" height="2.6" fill="url(#ga41)"/>
<rect x="54.3" y="87" width="336" height="2.6" fill="url(#ga42)"/>
<rect x="54.3" y="89" width="336" height="2.6" fill="url(#ga43)"/>
<rect x="54.3" y="91" width="336" height="2.6" fill="url(#ga44)"/>
<rect x="54.3" y="93" width="336" height="2.6" fill="url(#ga45)"/>
<rect x="54.3" y="95" width="336" height="2.6" fill="url(#ga46)"/>
<rect x="54.3" y="97" width="336" height="2.6" fill="url(#ga47)"/>
<rect x="54.3" y="99" width="336" height="2.6" fill="url(#ga48)"/>
<rect x="54.3" y="101" width="336" height="2.6" fill="url(#ga49)"/>
<rect x="54.3" y="103" width="336" height="2.6" fill="url(#ga50)"/>
<rect x="54.3" y="105" width="336" height="2.6" fill="url(#ga51)"/>
<rect x="54.3" y="107" width="336" height="2.6" fill="url(#ga52)"/>
<rect x="54.3" y="109" width="336" height="2.6" fill="url(#ga53)"/>
<rect x="54.3" y="111" width="336" height="2.6" fill="url(#ga54)"/>
<rect x="54.3" y="113" width="336" height="2.6" fill="url(#ga55)"/>
<rect x="54.3" y="115" width="336" height="2.6" fill="url(#ga56)"/>
<rect x="54.3" y="117" width="336" height="2.6" fill="url(#ga57)"/>
<rect x="54.3" y="119" width="336" height="2.6" fill="url(#ga58)"/>
<rect x="54.3" y="121" width="336" height="2.6" fill="url(#ga59)"/>
<rect x="54.3" y="123" width="336" height="2.6" fill="url(#ga60)"/>
<rect x="54.3" y="125" width="336" height="2.6" fill="url(#ga61)"/>
<rect x="54.3" y="127" width="336" height="2.6" fill="url(#ga62)"/>
<rect x="54.3" y="129" width="336" height="2.6" fill="url(#ga63)"/>
<rect x="54.3" y="131" width="336" height="2.6" fill="url(#ga64)"/>
<rect x="54.3" y="133" width="336" height="2.6" fill="url(#ga65)"/>
<rect x="54.3" y="135" width="336" height="2.6" fill="url(#ga66)"/>
<rect x="54.3" y="137" width="336" height="2.6" fill="url(#ga67)"/>
<rect x="54.3" y="139" width="336" height="2.6" fill="url(#ga68)"/>
<rect x="54.3" y="141" width="336" height="2.6" fill="url(#ga69)"/>
<rect x="54.3" y="143" width="336" height="2.6" fill="url(#ga70)"/>
<rect x="54.3" y="145" width="336" height="2.6" fill="url(#ga71)"/>
<rect x="54.3" y="147" width="336" height="2.6" fill="url(#ga72)"/>
<rect x="54.3" y="149" width="336" height="2.6" fill="url(#ga73)"/>
<rect x="54.3" y="151" width="336" height="2.6" fill="url(#ga74)"/>
<rect x="54.3" y="153" width="336" height="2.6" fill="url(#ga75)"/>
<rect x="54.3" y="155" width="336" height="2.6" fill="url(#ga76)"/>
<rect x="54.3" y="157" width="336" height="2.6" fill="url(#ga77)"/>
<rect x="54.3" y="159" width="336" height="2.6" fill="url(#ga78)"/>
<rect x="54.3" y="161" width="336" height="2.6" fill="url(#ga79)"/>
<rect x="54.3" y="163" width="336" height="2.6" fill="url(#ga80)"/>
<rect x="54.3" y="165" width="336" height="2.6" fill="url(#ga81)"/>
<rect x="54.3" y="167" width="336" height="2.6" fill="url(#ga82)"/>
<rect x="54.3" y="169" width="336" height="2.6" fill="url(#ga83)"/>
<rect x="54.3" y="171" width="336" height="2.6" fill="url(#ga84)"/>
<rect x="54.3" y="173" width="336" height="2.6" fill="url(#ga85)"/>
<rect x="54.3" y="175" width="336" height="2.6" fill="url(#ga86)"/>
<rect x="54.3" y="177" width="336" height="2.6" fill="url(#ga87)"/>
<rect x="54.3" y="179" width="336" height="2.6" fill="url(#ga88)"/>
<rect x="54.3" y="181" width="336" height="2.6" fill="url(#ga89)"/>
<rect x="54.3" y="183" width="336" height="2.6" fill="url(#ga90)"/>
<rect x="54.3" y="185" width="336" height="2.6" fill="url(#ga91)"/>
<rect x="54.3" y="187" width="336" height="2.6" fill="url(#ga92)"/>
<rect x="54.3" y="189" width="336" height="2.6" fill="url(#ga93)"/>
<rect x="54.3" y="191" width="336" height="2.6" fill="url(#ga94)"/>
<rect x="54.3" y="193" width="336" height="2.6" fill="url(#ga95)"/>
<rect x="54.3" y="195" width="336" height="2.6" fill="url(#ga96)"/>
<rect x="54.3" y="197" width="336" height="2.6" fill="url(#ga97)"/>
<rect x="54.3" y="199" width="336" height="2.6" fill="url(#ga98)"/>
<rect x="54.3" y="201" width="336" height="2.6" fill="url(#ga99)"/>
<rect x="54.3" y="203" width="336" height="2.6" fill="url(#ga100)"/>
<rect x="54.3" y="205" width="336" height="2.6" fill="url(#ga101)"/>
<rect x="54.3" y="207" width="336" height="2.6" fill="url(#ga102)"/>
<rect x="54.3" y="209" width="336" height="2.6" fill="url(#ga103)"/>
<rect x="54.3" y="211" width="336" height="2.6" fill="url(#ga104)"/>
<rect x="54.3" y="213" width="336" height="2.6" fill="url(#ga105)"/>
<rect x="54.3" y="215" width="336" height="2.6" fill="url(#ga106)"/>
<rect x="54.3" y="217" width="336" height="2.6" fill="url(#ga107)"/>
<rect x="54.3" y="219" width="336" height="2.6" fill="url(#ga108)"/>
<rect x="54.3" y="221" width="336" height="2.6" fill="url(#ga109)"/>
<rect x="54.3" y="223" width="336" height="2.6" fill="url(#ga110)"/>
<rect x="54.3" y="225" width="336" height="2.6" fill="url(#ga111)"/>
<rect x="54.3" y="227" width="336" height="2.6" fill="url(#ga112)"/>
<rect x="54.3" y="229" width="336" height="2.6" fill="url(#ga113)"/>
<rect x="54.3" y="231" width="336" height="2.6" fill="url(#ga114)"/>
<rect x="54.3" y="233" width="336" height="2.6" fill="url(#ga115)"/>
<rect x="54.3" y="235" width="336" height="2.6" fill="url(#ga116)"/>
<rect x="54.3" y="237" width="336" height="2.6" fill="url(#ga117)"/>
<rect x="54.3" y="239" width="336" height="2.6" fill="url(#ga118)"/>
<rect x="54.3" y="241" width="336" height="2.6" fill="url(#ga119)"/>
<rect x="54.3" y="243" width="336" height="2.6" fill="url(#ga120)"/>
<rect x="54.3" y="245" width="336" height="2.6" fill="url(#ga121)"/>
<rect x="54.3" y="247" width="336" height="2.6" fill="url(#ga122)"/>
<rect x="54.3" y="249" width="336" height="2.6" fill="url(#ga123)"/>
<rect x="54.3" y="251" width="336" height="2.6" fill="url(#ga124)"/>
<rect x="54.3" y="253" width="336" height="2.6" fill="url(#ga125)"/>
<rect x="54.3" y="255" width="336" height="2.6" fill="url(#ga126)"/>
<rect x="54.3" y="257" width="336" height="2.6" fill="url(#ga127)"/>
<rect x="54.3" y="259" width="336" height="2.6" fill="url(#ga128)"/>
<rect x="54.3" y="261" width="336" height="2.6" fill="url(#ga129)"/>
<rect x="54.3" y="263" width="336" height="2.6" fill="url(#ga130)"/>
<rect x="54.3" y="265" width="336" height="2.6" fill="url(#ga131)"/>
<rect x="54.3" y="267" width="336" height="2.6" fill="url(#ga132)"/>
<rect x="54.3" y="269" width="336" height="2.6" fill="url(#ga133)"/>
<rect x="54.3" y="271" width="336" height="2.6" fill="url(#ga134)"/>
<rect x="54.3" y="273" width="336" height="2.6" fill="url(#ga135)"/>
<rect x="54.3" y="275" width="336" height="2.6" fill="url(#ga136)"/>
<rect x="54.3" y="277" width="336" height="2.6" fill="url(#ga137)"/>
<rect x="54.3" y="279" width="336" height="2.6" fill="url(#ga138)"/>
<rect x="54.3" y="281" width="336" height="2.6" fill="url(#ga139)"/>
<rect x="54.3" y="283" width="336" height="2.6" fill="url(#ga140)"/>
<rect x="54.3" y="285" width="336" height="2.6" fill="url(#ga141)"/>
<rect x="54.3" y="287" width="336" height="2.6" fill="url(#ga142)"/>
<rect x="54.3" y="289" width="336" height="2.6" fill="url(#ga143)"/>
<rect x="54.3" y="291" width="336" height="2.6" fill="url(#ga144)"/>
<rect x="54.3" y="293" width="336" height="2.6" fill="url(#ga145)"/>
<rect x="54.3" y="295" width="336" height="2.6" fill="url(#ga146)"/>
<rect x="54.3" y="297" width="336" height="2.6" fill="url(#ga147)"/>
<rect x="54.3" y="299" width="336" height="2.6" fill="url(#ga148)"/>
<rect x="54.3" y="301" width="336" height="2.6" fill="url(#ga149)"/>
<rect x="54.3" y="303" width="336" height="2.6" fill="url(#ga150)"/>
<rect x="54.3" y="305" width="336" height="2.6" fill="url(#ga151)"/>
<rect x="54.3" y="307" width="336" height="2.6" fill="url(#ga152)"/>
<rect x="54.3" y="309" width="336" height="2.6" fill="url(#ga153)"/>
<rect x="54.3" y="311" width="336" height="2.6" fill="url(#ga154)"/>
<rect x="54.3" y="313" width="336" height="2.6" fill="url(#ga155)"/>
<rect x="54.3" y="315" width="336" height="2.6" fill="url(#ga156)"/>
<rect x="54.3" y="317" width="336" height="2.6" fill="url(#ga157)"/>
<rect x="54.3" y="319" width="336" height="2.6" fill="url(#ga158)"/>
<rect x="54.3" y="321" width="336" height="2.6" fill="url(#ga159)"/>
<rect x="54.3" y="323" width="336" height="2.6" fill="url(#ga160)"/>
<rect x="54.3" y="325" width="336" height="2.6" fill="url(#ga161)"/>
<rect x="54.3" y="327" width="336" height="2.6" fill="url(#ga162)"/>
<rect x="54.3" y="329" width="336" height="2.6" fill="url(#ga163)"/>
<rect x="54.3" y="331" width="336" height="2.6" fill="url(#ga164)"/>
<rect x="54.3" y="333" width="336" height="2.6" fill="url(#ga165)"/>
<rect x="54.3" y="335" width="336" height="2.6" fill="url(#ga166)"/>
<rect x="54.3" y="337" width="336" height="2.6" fill="url(#ga167)"/>
<rect x="54.3" y="339" width="336" height="2.6" fill="url(#ga168)"/>
<rect x="54.3" y="341" width="336" height="2.6" fill="url(#ga169)"/>
<rect x="54.3" y="343" width="336" height="2.6" fill="url(#ga170)"/>
<rect x="54.3" y="345" width="336" height="1.9" fill="url(#ga171)"/>
<path d="M121.49 346.9 L122.26 346.89 L123.04 346.88 L123.82 346.88 L124.61 346.87 L125.42 346.86 L126.23 346.85 L127.05 346.84 L127.88 346.83 L128.72 346.83 L129.57 346.82 L130.43 346.81 L131.29 346.8 L132.17 346.79 L133.06 346.78 L133.96 346.77 L134.87 346.76 L135.79 346.75 L136.72 346.74 L137.66 346.73 L138.61 346.72 L139.57 346.71 L140.55 346.7 L141.53 346.69 L142.53 346.68 L143.53 346.67 L144.55 346.66 L145.58 346.65 L146.62 346.64 L147.68 346.63 L148.74 346.62 L149.82 346.61 L150.91 346.6 L152.01 346.59 L153.13 346.58 L154.25 346.56 L155.4 346.55 L156.55 346.54 L157.72 346.53 L158.9 346.52 L160.09 346.5 L161.3 346.49 L162.52 346.48 L163.75 346.47 L165 346.45 L166.26 346.44 L167.54 346.43 L168.83 346.42 L170.14 346.4 L171.46 346.39 L172.8 346.37 L174.15 346.36 L175.52 346.35 L176.9 346.33 L178.3 346.32 L179.72 346.3 L181.15 346.29 L182.6 346.27 L184.06 346.26 L185.54 346.24 L187.04 346.23 L188.55 346.21 L190.09 346.2 L191.64 346.18 L193.2 346.17 L194.79 346.15 L196.39 346.13 L198.01 346.12 L199.65 346.1 L201.31 346.08 L202.99 346.07 L204.69 346.05 L206.4 346.03 L208.14 346.01 L209.89 346 L211.67 345.98 L213.46 345.96 L215.28 345.94 L217.12 345.92 L218.97 345.9 L220.85 345.88 L222.75 345.86 L224.68 345.84 L226.62 345.82 L228.59 345.8 L230.58 345.78 L232.59 345.76 L234.62 345.74 L236.68 345.72 L238.76 345.7 L240.87 345.68 L243 345.66 L245.15 345.63 L247.33 345.61 L249.53 345.59 L251.76 345.57 L254.01 345.54 L256.29 345.52 L258.59 345.5 L260.93 345.47 L263.28 345.45 L265.67 345.42 L268.08 345.4 L270.52 345.37 L272.99 345.35 L275.48 345.32 L278.01 345.3 L280.56 345.27 L283.14 345.25 L285.75 345.22 L288.39 345.19 L291.07 345.16 L293.77 345.14 L296.5 345.11 L299.26 345.08 L302.06 345.05 L304.89 345.02 L307.75 344.99 L310.64 344.96 L313.56 344.93 L316.52 344.9 L319.51 344.87 L322.54 344.84 L325.6 344.81 L328.7 344.78 L331.83 344.75 L335 344.71 L338.2 344.68 L341.44 344.65 L344.72 344.62 L348.03 344.58 L351.38 344.55 L354.77 344.51 L358.2 344.48 L361.67 344.44 L365.18 344.41 L368.72 344.37 L372.31 344.33 L375.94 344.3 L379.61 344.26 L383.32 344.22 L387.08 344.18 L390.88 344.14 L394.72 344.1 L398.6 344.06 L402.53 344.02 L406.5 343.98 L410.52 343.94 L414.59 343.9 L418.7 343.86 L422.86 343.82 L427.06 343.77 L431.32 343.73 L435.62 343.68 L439.97 343.64 L444.37 343.6 L448.82 343.55 L453.33 343.5 L457.88 343.46 L462.49 343.41 L467.14 343.36 L471.85 343.31 L476.62 343.27 L481.44 343.22 L486.31 343.17 L491.24 343.12 L496.23 343.06 L501.27 343.01 L506.37 342.96 L511.53 342.91 L516.75 342.85 L522.03 342.8 L527.36 342.75 L532.76 342.69 L538.22 342.63 L543.74 342.58 L549.33 342.52 L554.98 342.46 L560.69 342.4 L566.47 342.35 L572.32 342.29 L578.23 342.23 L584.21 342.16 L590.25 342.1 L596.37 342.04 L602.56 341.98 L608.81 341.91 L615.14 341.85 L621.54 341.78 L628.01 341.72 L634.56 341.65 L641.18 341.58 L647.88 341.51 L654.65 341.44 L661.5 341.37 L668.43 341.3 L675.44 341.23 L682.53 341.16 L689.7 341.08 L696.95 341.01 L704.28 340.93 L711.7 340.86 L719.2 340.78 L726.79 340.7 L734.46 340.63 L742.23 340.55 L750.08 340.47 L758.02 340.38 L766.05 340.3 L774.17 340.22 L782.38 340.14 L790.69 340.05 L799.1 339.96 L807.59 339.88 L816.19 339.79 L824.89 339.7 L833.68 339.61 L842.57 339.52 L851.57 339.43 L860.67 339.33 M121.07 346.9 L121.83 346.84 L122.61 346.77 L123.39 346.71 L124.18 346.65 L124.98 346.58 L125.79 346.51 L126.6 346.45 L127.43 346.38 L128.27 346.31 L129.11 346.24 L129.97 346.17 L130.83 346.1 L131.71 346.03 L132.59 345.96 L133.49 345.88 L134.39 345.81 L135.31 345.73 L136.23 345.66 L137.17 345.58 L138.12 345.5 L139.08 345.42 L140.04 345.35 L141.02 345.26 L142.01 345.18 L143.02 345.1 L144.03 345.02 L145.06 344.93 L146.09 344.85 L147.14 344.76 L148.2 344.68 L149.28 344.59 L150.36 344.5 L151.46 344.41 L152.57 344.32 L153.69 344.23 L154.83 344.13 L155.98 344.04 L157.14 343.94 L158.31 343.85 L159.5 343.75 L160.7 343.65 L161.92 343.55 L163.15 343.45 L164.39 343.35 L165.65 343.25 L166.92 343.14 L168.21 343.04 L169.51 342.93 L170.82 342.82 L172.15 342.71 L173.5 342.6 L174.86 342.49 L176.24 342.38 L177.63 342.26 L179.04 342.15 L180.47 342.03 L181.91 341.91 L183.36 341.79 L184.84 341.67 L186.33 341.55 L187.84 341.42 L189.36 341.3 L190.91 341.17 L192.47 341.04 L194.04 340.91 L195.64 340.78 L197.25 340.65 L198.89 340.52 L200.54 340.38 L202.21 340.24 L203.9 340.11 L205.61 339.97 L207.34 339.82 L209.08 339.68 L210.85 339.53 L212.64 339.39 L214.45 339.24 L216.28 339.09 L218.13 338.94 L220 338.78 L221.89 338.63 L223.81 338.47 L225.74 338.31 L227.7 338.15 L229.68 337.99 L231.69 337.82 L233.71 337.66 L235.76 337.49 L237.84 337.32 L239.93 337.15 L242.05 336.97 L244.2 336.8 L246.37 336.62 L248.56 336.44 L250.78 336.26 L253.03 336.07 L255.3 335.89 L257.59 335.7 L259.92 335.51 L262.26 335.31 L264.64 335.12 L267.04 334.92 L269.47 334.72 L271.93 334.52 L274.42 334.32 L276.93 334.11 L279.48 333.9 L282.05 333.69 L284.65 333.48 L287.28 333.26 L289.95 333.04 L292.64 332.82 L295.36 332.6 L298.12 332.37 L300.9 332.14 L303.72 331.91 L306.57 331.68 L309.45 331.44 L312.37 331.2 L315.32 330.96 L318.3 330.71 L321.32 330.46 L324.37 330.21 L327.45 329.96 L330.58 329.7 L333.73 329.44 L336.93 329.18 L340.16 328.92 L343.42 328.65 L346.73 328.38 L350.07 328.1 L353.45 327.83 L356.87 327.54 L360.32 327.26 L363.82 326.97 L367.36 326.68 L370.94 326.39 L374.56 326.09 L378.22 325.79 L381.92 325.49 L385.66 325.18 L389.45 324.87 L393.28 324.55 L397.15 324.24 L401.07 323.91 L405.04 323.59 L409.04 323.26 L413.1 322.93 L417.2 322.59 L421.35 322.25 L425.54 321.9 L429.79 321.56 L434.08 321.2 L438.42 320.85 L442.81 320.49 L447.25 320.12 L451.74 319.75 L456.29 319.38 L460.88 319 L465.53 318.62 L470.23 318.23 L474.98 317.84 L479.79 317.45 L484.66 317.05 L489.58 316.64 L494.55 316.24 L499.58 315.82 L504.67 315.4 L509.82 314.98 L515.03 314.55 L520.3 314.12 L525.62 313.68 L531.01 313.24 L536.46 312.79 L541.97 312.34 L547.55 311.88 L553.19 311.42 L558.89 310.95 L564.66 310.48 L570.5 310 L576.4 309.51 L582.37 309.02 L588.4 308.53 L594.51 308.03 L600.69 307.52 L606.93 307 L613.25 306.49 L619.64 305.96 L626.1 305.43 L632.64 304.89 L639.25 304.35 L645.94 303.8 L652.71 303.24 L659.55 302.68 L666.47 302.11 L673.47 301.54 L680.55 300.96 L687.71 300.37 L694.95 299.77 L702.28 299.17 L709.69 298.56 L717.18 297.95 L724.76 297.33 L732.43 296.7 L740.18 296.06 L748.02 295.42 L755.95 294.76 L763.98 294.1 L772.09 293.44 L780.3 292.76 L788.6 292.08 L797 291.39 L805.49 290.69 L814.08 289.99 L822.77 289.28 L831.56 288.55 L840.44 287.82 L849.43 287.09 L858.53 286.34 M119.99 346.9 L120.74 346.78 L121.51 346.67 L122.28 346.55 L123.07 346.43 L123.86 346.31 L124.66 346.18 L125.47 346.06 L126.28 345.93 L127.11 345.81 L127.95 345.68 L128.79 345.55 L129.65 345.41 L130.51 345.28 L131.39 345.15 L132.28 345.01 L133.17 344.87 L134.08 344.73 L134.99 344.59 L135.92 344.45 L136.85 344.3 L137.8 344.16 L138.76 344.01 L139.73 343.86 L140.71 343.71 L141.7 343.56 L142.7 343.4 L143.71 343.25 L144.74 343.09 L145.78 342.93 L146.83 342.77 L147.89 342.6 L148.96 342.44 L150.04 342.27 L151.14 342.1 L152.25 341.93 L153.37 341.76 L154.51 341.58 L155.66 341.4 L156.82 341.22 L157.99 341.04 L159.18 340.86 L160.38 340.67 L161.6 340.48 L162.82 340.29 L164.07 340.1 L165.32 339.91 L166.6 339.71 L167.88 339.51 L169.18 339.31 L170.5 339.11 L171.83 338.9 L173.18 338.69 L174.54 338.48 L175.91 338.27 L177.31 338.05 L178.71 337.84 L180.14 337.62 L181.58 337.39 L183.04 337.17 L184.51 336.94 L186 336.71 L187.51 336.47 L189.04 336.24 L190.58 336 L192.14 335.76 L193.72 335.51 L195.31 335.27 L196.93 335.02 L198.56 334.76 L200.21 334.51 L201.89 334.25 L203.58 333.99 L205.29 333.72 L207.01 333.45 L208.76 333.18 L210.53 332.91 L212.32 332.63 L214.13 332.35 L215.96 332.07 L217.81 331.78 L219.69 331.49 L221.58 331.2 L223.5 330.9 L225.43 330.6 L227.39 330.29 L229.38 329.99 L231.38 329.68 L233.41 329.36 L235.46 329.04 L237.54 328.72 L239.64 328.4 L241.76 328.07 L243.91 327.73 L246.08 327.4 L248.28 327.06 L250.5 326.71 L252.75 326.36 L255.02 326.01 L257.32 325.65 L259.65 325.29 L262 324.93 L264.38 324.56 L266.79 324.18 L269.23 323.81 L271.69 323.42 L274.18 323.04 L276.7 322.65 L279.25 322.25 L281.83 321.85 L284.44 321.45 L287.07 321.04 L289.74 320.62 L292.44 320.21 L295.17 319.78 L297.93 319.35 L300.73 318.92 L303.55 318.48 L306.41 318.04 L309.3 317.59 L312.22 317.14 L315.18 316.68 L318.17 316.21 L321.2 315.74 L324.26 315.27 L327.35 314.79 L330.49 314.3 L333.65 313.81 L336.86 313.31 L340.1 312.81 L343.38 312.3 L346.69 311.79 L350.05 311.27 L353.44 310.74 L356.87 310.21 L360.34 309.67 L363.85 309.12 L367.4 308.57 L371 308.01 L374.63 307.45 L378.31 306.88 L382.02 306.3 L385.78 305.72 L389.59 305.13 L393.43 304.53 L397.33 303.93 L401.26 303.32 L405.24 302.7 L409.27 302.07 L413.35 301.44 L417.47 300.8 L421.64 300.15 L425.85 299.5 L430.12 298.84 L434.43 298.17 L438.79 297.49 L443.21 296.81 L447.67 296.11 L452.19 295.41 L456.76 294.7 L461.38 293.99 L466.05 293.26 L470.78 292.53 L475.56 291.78 L480.4 291.03 L485.29 290.27 L490.24 289.51 L495.24 288.73 L500.31 287.94 L505.43 287.15 L510.61 286.34 L515.85 285.53 L521.15 284.71 L526.51 283.87 L531.93 283.03 L537.42 282.18 L542.97 281.32 L548.58 280.45 L554.26 279.57 L560 278.67 L565.81 277.77 L571.69 276.86 L577.63 275.94 L583.64 275 L589.72 274.06 L595.87 273.11 L602.09 272.14 L608.39 271.16 L614.75 270.17 L621.19 269.17 L627.71 268.16 L634.3 267.14 L640.96 266.11 L647.7 265.06 L654.52 264 L661.42 262.93 L668.39 261.85 L675.45 260.75 L682.59 259.64 L689.81 258.52 L697.11 257.39 L704.5 256.24 L711.97 255.08 L719.53 253.91 L727.17 252.72 L734.91 251.52 L742.73 250.3 L750.64 249.08 L758.65 247.83 L766.74 246.58 L774.93 245.3 L783.21 244.02 L791.59 242.72 L800.07 241.4 L808.64 240.07 L817.31 238.72 L826.08 237.36 L834.96 235.98 L843.93 234.59 L853.01 233.18 M118.25 346.9 L118.99 346.73 L119.74 346.56 L120.5 346.39 L121.27 346.22 L122.05 346.04 L122.84 345.86 L123.63 345.68 L124.44 345.5 L125.25 345.32 L126.07 345.13 L126.9 344.95 L127.74 344.75 L128.59 344.56 L129.45 344.37 L130.32 344.17 L131.2 343.97 L132.09 343.77 L132.99 343.57 L133.9 343.36 L134.82 343.15 L135.75 342.94 L136.69 342.72 L137.64 342.51 L138.6 342.29 L139.57 342.07 L140.56 341.84 L141.55 341.62 L142.56 341.39 L143.57 341.16 L144.6 340.92 L145.64 340.69 L146.7 340.45 L147.76 340.2 L148.84 339.96 L149.92 339.71 L151.03 339.46 L152.14 339.2 L153.27 338.95 L154.4 338.69 L155.56 338.42 L156.72 338.16 L157.9 337.89 L159.09 337.61 L160.3 337.34 L161.52 337.06 L162.75 336.78 L164 336.49 L165.26 336.2 L166.53 335.91 L167.83 335.62 L169.13 335.32 L170.45 335.01 L171.79 334.71 L173.14 334.4 L174.5 334.09 L175.89 333.77 L177.28 333.45 L178.7 333.12 L180.13 332.8 L181.57 332.47 L183.04 332.13 L184.52 331.79 L186.02 331.45 L187.53 331.1 L189.06 330.75 L190.61 330.39 L192.18 330.03 L193.76 329.67 L195.37 329.3 L196.99 328.93 L198.63 328.55 L200.29 328.17 L201.97 327.78 L203.67 327.39 L205.38 327 L207.12 326.6 L208.88 326.2 L210.66 325.79 L212.46 325.37 L214.27 324.96 L216.11 324.53 L217.98 324.1 L219.86 323.67 L221.76 323.23 L223.69 322.79 L225.64 322.34 L227.61 321.89 L229.6 321.43 L231.62 320.97 L233.66 320.5 L235.73 320.02 L237.81 319.54 L239.93 319.05 L242.06 318.56 L244.22 318.07 L246.41 317.56 L248.62 317.05 L250.86 316.54 L253.12 316.02 L255.41 315.49 L257.73 314.96 L260.07 314.42 L262.44 313.87 L264.84 313.32 L267.26 312.76 L269.72 312.2 L272.2 311.62 L274.71 311.05 L277.25 310.46 L279.82 309.87 L282.42 309.27 L285.05 308.67 L287.71 308.05 L290.4 307.43 L293.12 306.81 L295.87 306.17 L298.66 305.53 L301.47 304.88 L304.32 304.22 L307.21 303.56 L310.12 302.89 L313.07 302.21 L316.06 301.52 L319.08 300.82 L322.13 300.12 L325.22 299.41 L328.34 298.69 L331.51 297.96 L334.71 297.22 L337.94 296.47 L341.21 295.72 L344.53 294.96 L347.87 294.18 L351.26 293.4 L354.69 292.61 L358.16 291.81 L361.67 291 L365.22 290.19 L368.81 289.36 L372.44 288.52 L376.11 287.67 L379.83 286.82 L383.59 285.95 L387.39 285.07 L391.24 284.19 L395.13 283.29 L399.07 282.38 L403.05 281.46 L407.08 280.53 L411.16 279.59 L415.28 278.64 L419.45 277.68 L423.67 276.71 L427.94 275.72 L432.26 274.72 L436.63 273.72 L441.05 272.7 L445.52 271.67 L450.04 270.62 L454.62 269.57 L459.25 268.5 L463.93 267.42 L468.67 266.33 L473.46 265.22 L478.31 264.1 L483.21 262.97 L488.17 261.83 L493.19 260.67 L498.27 259.5 L503.41 258.31 L508.6 257.11 L513.86 255.9 L519.18 254.67 L524.56 253.43 L530 252.18 L535.5 250.91 L541.07 249.62 L546.71 248.32 L552.41 247.01 L558.17 245.68 L564.01 244.33 L569.91 242.97 L575.88 241.59 L581.92 240.2 L588.03 238.79 L594.21 237.36 L600.46 235.92 L606.78 234.46 L613.18 232.98 L619.66 231.49 L626.2 229.98 L632.83 228.45 L639.53 226.9 L646.31 225.34 L653.17 223.76 L660.11 222.16 L667.12 220.54 L674.22 218.9 L681.41 217.24 L688.67 215.56 L696.03 213.87 L703.46 212.15 L710.99 210.41 L718.6 208.66 L726.3 206.88 L734.08 205.08 L741.96 203.26 L749.94 201.43 L758 199.56 L766.16 197.68 L774.41 195.78 L782.76 193.85 L791.2 191.9 L799.75 189.93 L808.39 187.93 L817.14 185.92 L825.98 183.87 L834.93 181.81 L843.98 179.72 M115.85 346.9 L116.58 346.68 L117.31 346.47 L118.05 346.24 L118.8 346.02 L119.56 345.79 L120.33 345.57 L121.11 345.33 L121.89 345.1 L122.68 344.86 L123.49 344.62 L124.3 344.38 L125.11 344.13 L125.94 343.89 L126.78 343.63 L127.63 343.38 L128.48 343.12 L129.35 342.86 L130.23 342.6 L131.11 342.33 L132.01 342.06 L132.91 341.79 L133.83 341.51 L134.75 341.23 L135.69 340.95 L136.63 340.66 L137.59 340.37 L138.56 340.08 L139.54 339.78 L140.53 339.48 L141.53 339.18 L142.54 338.87 L143.56 338.56 L144.6 338.25 L145.65 337.93 L146.71 337.61 L147.78 337.28 L148.86 336.95 L149.96 336.62 L151.06 336.28 L152.18 335.94 L153.32 335.6 L154.46 335.25 L155.62 334.89 L156.8 334.54 L157.98 334.17 L159.18 333.81 L160.4 333.44 L161.62 333.06 L162.86 332.68 L164.12 332.3 L165.39 331.91 L166.68 331.52 L167.97 331.12 L169.29 330.72 L170.62 330.31 L171.96 329.9 L173.32 329.48 L174.7 329.06 L176.09 328.63 L177.5 328.2 L178.92 327.76 L180.37 327.32 L181.82 326.87 L183.3 326.42 L184.79 325.96 L186.3 325.5 L187.82 325.03 L189.37 324.56 L190.93 324.08 L192.51 323.59 L194.11 323.1 L195.73 322.6 L197.36 322.1 L199.02 321.59 L200.69 321.08 L202.38 320.56 L204.1 320.03 L205.83 319.5 L207.58 318.96 L209.36 318.41 L211.15 317.86 L212.97 317.3 L214.8 316.73 L216.66 316.16 L218.54 315.58 L220.44 314.99 L222.36 314.4 L224.31 313.8 L226.28 313.19 L228.27 312.58 L230.29 311.96 L232.32 311.33 L234.39 310.69 L236.47 310.05 L238.58 309.4 L240.72 308.74 L242.88 308.07 L245.07 307.4 L247.28 306.72 L249.51 306.03 L251.78 305.33 L254.07 304.62 L256.39 303.9 L258.73 303.18 L261.1 302.45 L263.5 301.71 L265.93 300.96 L268.38 300.2 L270.87 299.43 L273.38 298.65 L275.93 297.87 L278.5 297.07 L281.1 296.27 L283.74 295.45 L286.4 294.63 L289.1 293.8 L291.83 292.95 L294.59 292.1 L297.38 291.23 L300.2 290.36 L303.06 289.48 L305.95 288.58 L308.88 287.68 L311.84 286.76 L314.83 285.84 L317.87 284.9 L320.93 283.95 L324.03 282.99 L327.17 282.02 L330.35 281.04 L333.56 280.04 L336.81 279.04 L340.1 278.02 L343.43 276.99 L346.79 275.95 L350.2 274.89 L353.65 273.82 L357.13 272.75 L360.66 271.65 L364.23 270.55 L367.84 269.43 L371.5 268.3 L375.19 267.15 L378.93 266 L382.72 264.82 L386.55 263.64 L390.42 262.44 L394.34 261.22 L398.31 260 L402.32 258.75 L406.38 257.5 L410.49 256.22 L414.65 254.94 L418.85 253.63 L423.11 252.32 L427.41 250.98 L431.77 249.63 L436.18 248.27 L440.64 246.89 L445.15 245.49 L449.71 244.07 L454.33 242.64 L459.01 241.19 L463.73 239.73 L468.52 238.25 L473.36 236.75 L478.26 235.23 L483.21 233.69 L488.23 232.14 L493.3 230.57 L498.43 228.98 L503.63 227.37 L508.88 225.74 L514.2 224.09 L519.58 222.43 L525.02 220.74 L530.53 219.03 L536.1 217.31 L541.74 215.56 L547.44 213.79 L553.22 212 L559.06 210.19 L564.96 208.36 L570.94 206.51 L576.99 204.63 L583.11 202.74 L589.3 200.82 L595.57 198.87 L601.91 196.91 L608.33 194.92 L614.82 192.91 L621.38 190.87 L628.03 188.81 L634.75 186.73 L641.55 184.62 L648.43 182.49 L655.4 180.33 L662.44 178.14 L669.57 175.93 L676.79 173.7 L684.09 171.43 L691.47 169.15 L698.94 166.83 L706.5 164.49 L714.15 162.11 L721.89 159.71 L729.72 157.29 L737.65 154.83 L745.66 152.34 L753.78 149.83 L761.98 147.28 L770.29 144.71 L778.69 142.1 L787.19 139.47 L795.79 136.8 L804.5 134.1 L813.3 131.37 L822.22 128.61 L831.23 125.81 M112.79 346.9 L113.5 346.64 L114.21 346.38 L114.93 346.11 L115.65 345.84 L116.39 345.57 L117.13 345.29 L117.88 345.01 L118.64 344.73 L119.41 344.45 L120.18 344.16 L120.96 343.86 L121.76 343.57 L122.56 343.27 L123.37 342.96 L124.18 342.66 L125.01 342.35 L125.85 342.03 L126.69 341.71 L127.54 341.39 L128.41 341.06 L129.28 340.73 L130.16 340.4 L131.06 340.06 L131.96 339.72 L132.87 339.37 L133.8 339.02 L134.73 338.67 L135.67 338.31 L136.63 337.95 L137.59 337.58 L138.57 337.21 L139.55 336.83 L140.55 336.45 L141.56 336.06 L142.58 335.67 L143.61 335.28 L144.66 334.88 L145.71 334.47 L146.78 334.06 L147.86 333.65 L148.95 333.23 L150.06 332.81 L151.17 332.38 L152.3 331.94 L153.45 331.5 L154.6 331.06 L155.77 330.61 L156.96 330.15 L158.15 329.69 L159.36 329.22 L160.59 328.75 L161.83 328.27 L163.08 327.78 L164.34 327.29 L165.63 326.8 L166.92 326.3 L168.24 325.79 L169.56 325.27 L170.9 324.75 L172.26 324.23 L173.64 323.69 L175.03 323.15 L176.43 322.61 L177.85 322.06 L179.29 321.5 L180.75 320.93 L182.22 320.36 L183.71 319.78 L185.22 319.19 L186.74 318.6 L188.29 318 L189.85 317.39 L191.43 316.77 L193.03 316.15 L194.64 315.52 L196.28 314.88 L197.93 314.24 L199.61 313.58 L201.3 312.92 L203.02 312.25 L204.75 311.58 L206.51 310.89 L208.28 310.2 L210.08 309.49 L211.9 308.78 L213.74 308.06 L215.6 307.34 L217.48 306.6 L219.38 305.85 L221.31 305.1 L223.26 304.34 L225.24 303.56 L227.23 302.78 L229.26 301.99 L231.3 301.19 L233.37 300.38 L235.46 299.56 L237.58 298.73 L239.72 297.89 L241.89 297.04 L244.09 296.18 L246.31 295.31 L248.56 294.42 L250.83 293.53 L253.13 292.63 L255.46 291.71 L257.82 290.79 L260.2 289.85 L262.61 288.91 L265.06 287.95 L267.53 286.98 L270.03 286 L272.56 285 L275.12 284 L277.71 282.98 L280.33 281.95 L282.98 280.91 L285.67 279.85 L288.38 278.78 L291.13 277.7 L293.91 276.61 L296.73 275.5 L299.58 274.38 L302.46 273.25 L305.38 272.1 L308.33 270.94 L311.32 269.76 L314.34 268.57 L317.4 267.37 L320.49 266.15 L323.63 264.92 L326.8 263.67 L330.01 262.41 L333.25 261.13 L336.54 259.84 L339.86 258.53 L343.23 257.2 L346.63 255.86 L350.08 254.5 L353.57 253.13 L357.1 251.74 L360.67 250.33 L364.28 248.91 L367.94 247.47 L371.64 246.01 L375.39 244.54 L379.18 243.04 L383.01 241.53 L386.9 240 L390.82 238.45 L394.8 236.89 L398.82 235.3 L402.9 233.7 L407.02 232.07 L411.19 230.43 L415.41 228.76 L419.68 227.08 L424 225.38 L428.38 223.65 L432.8 221.91 L437.28 220.14 L441.82 218.35 L446.4 216.55 L451.05 214.71 L455.75 212.86 L460.5 210.99 L465.31 209.09 L470.18 207.17 L475.11 205.22 L480.1 203.26 L485.15 201.27 L490.26 199.25 L495.43 197.21 L500.66 195.15 L505.96 193.06 L511.32 190.94 L516.74 188.81 L522.23 186.64 L527.78 184.45 L533.41 182.23 L539.09 179.99 L544.85 177.72 L550.68 175.42 L556.58 173.09 L562.54 170.74 L568.58 168.35 L574.69 165.94 L580.88 163.5 L587.14 161.03 L593.48 158.53 L599.89 156 L606.38 153.44 L612.94 150.85 L619.59 148.22 L626.32 145.57 L633.12 142.88 L640.01 140.17 L646.98 137.41 L654.04 134.63 L661.18 131.81 L668.41 128.96 L675.72 126.07 L683.12 123.15 L690.61 120.2 L698.19 117.2 L705.86 114.18 L713.63 111.11 L721.49 108.01 L729.44 104.87 L737.49 101.69 L745.63 98.48 L753.87 95.22 L762.22 91.93 L770.66 88.6 L779.2 85.23 L787.85 81.81 L796.6 78.36 L805.46 74.86 L814.42 71.32 M109.07 346.9 L109.75 346.6 L110.43 346.3 L111.12 346 L111.82 345.69 L112.52 345.37 L113.24 345.06 L113.95 344.74 L114.68 344.41 L115.41 344.08 L116.16 343.75 L116.9 343.41 L117.66 343.07 L118.43 342.73 L119.2 342.38 L119.98 342.02 L120.77 341.67 L121.57 341.3 L122.38 340.94 L123.19 340.56 L124.02 340.19 L124.85 339.81 L125.69 339.42 L126.54 339.03 L127.4 338.64 L128.28 338.24 L129.16 337.83 L130.05 337.42 L130.94 337.01 L131.85 336.59 L132.77 336.16 L133.7 335.73 L134.65 335.3 L135.6 334.85 L136.56 334.41 L137.53 333.96 L138.51 333.5 L139.51 333.03 L140.52 332.57 L141.53 332.09 L142.56 331.61 L143.6 331.12 L144.66 330.63 L145.72 330.13 L146.8 329.63 L147.89 329.11 L148.99 328.6 L150.1 328.07 L151.23 327.54 L152.37 327.01 L153.52 326.46 L154.69 325.91 L155.87 325.35 L157.07 324.79 L158.27 324.22 L159.5 323.64 L160.73 323.06 L161.98 322.46 L163.25 321.86 L164.53 321.26 L165.83 320.64 L167.14 320.02 L168.46 319.39 L169.8 318.75 L171.16 318.11 L172.53 317.45 L173.92 316.79 L175.33 316.12 L176.75 315.44 L178.19 314.76 L179.65 314.06 L181.12 313.36 L182.62 312.64 L184.12 311.92 L185.65 311.19 L187.2 310.45 L188.76 309.71 L190.34 308.95 L191.94 308.18 L193.56 307.41 L195.2 306.62 L196.86 305.82 L198.54 305.02 L200.24 304.2 L201.96 303.38 L203.7 302.54 L205.46 301.7 L207.25 300.84 L209.05 299.97 L210.88 299.1 L212.72 298.21 L214.59 297.31 L216.49 296.4 L218.4 295.48 L220.34 294.54 L222.3 293.6 L224.29 292.64 L226.29 291.67 L228.33 290.69 L230.39 289.7 L232.47 288.7 L234.58 287.68 L236.71 286.65 L238.87 285.61 L241.06 284.55 L243.27 283.48 L245.51 282.4 L247.78 281.31 L250.07 280.2 L252.39 279.08 L254.74 277.94 L257.12 276.79 L259.53 275.63 L261.96 274.45 L264.43 273.25 L266.93 272.05 L269.45 270.82 L272.01 269.59 L274.6 268.33 L277.22 267.06 L279.87 265.78 L282.56 264.48 L285.28 263.16 L288.03 261.83 L290.81 260.48 L293.63 259.12 L296.48 257.73 L299.37 256.33 L302.29 254.92 L305.25 253.48 L308.24 252.03 L311.28 250.56 L314.34 249.07 L317.45 247.57 L320.59 246.04 L323.78 244.5 L327 242.93 L330.26 241.35 L333.56 239.75 L336.9 238.13 L340.28 236.49 L343.71 234.82 L347.17 233.14 L350.68 231.44 L354.23 229.71 L357.83 227.97 L361.46 226.2 L365.15 224.41 L368.88 222.6 L372.65 220.77 L376.47 218.91 L380.34 217.03 L384.25 215.13 L388.22 213.2 L392.23 211.25 L396.29 209.28 L400.4 207.28 L404.56 205.26 L408.78 203.21 L413.04 201.14 L417.36 199.04 L421.73 196.91 L426.15 194.76 L430.63 192.58 L435.16 190.38 L439.75 188.15 L444.4 185.89 L449.1 183.6 L453.86 181.28 L458.68 178.94 L463.56 176.57 L468.49 174.16 L473.49 171.73 L478.55 169.27 L483.68 166.78 L488.86 164.25 L494.11 161.7 L499.43 159.11 L504.81 156.5 L510.25 153.84 L515.77 151.16 L521.35 148.45 L527 145.7 L532.72 142.91 L538.51 140.09 L544.37 137.24 L550.3 134.35 L556.31 131.43 L562.39 128.47 L568.54 125.47 L574.77 122.44 L581.08 119.37 L587.47 116.26 L593.93 113.11 L600.48 109.92 L607.1 106.7 L613.81 103.43 L620.6 100.12 L627.47 96.78 L634.43 93.39 L641.47 89.96 L648.6 86.49 L655.82 82.97 L663.13 79.41 L670.53 75.81 L678.02 72.16 L685.6 68.47 L693.27 64.73 L701.04 60.95 L708.91 57.12 L716.87 53.24 L724.93 49.31 L733.09 45.34 L741.35 41.31 L749.71 37.24 L758.18 33.11 L766.75 28.94 L775.42 24.71 L784.21 20.43 L793.1 16.1 M104.7 346.9 L105.34 346.57 L105.99 346.24 L106.64 345.9 L107.3 345.56 L107.97 345.21 L108.64 344.86 L109.32 344.51 L110.01 344.15 L110.7 343.79 L111.4 343.42 L112.11 343.05 L112.82 342.67 L113.55 342.29 L114.27 341.9 L115.01 341.51 L115.76 341.11 L116.51 340.71 L117.27 340.3 L118.04 339.89 L118.82 339.47 L119.6 339.04 L120.39 338.62 L121.2 338.18 L122.01 337.74 L122.83 337.3 L123.65 336.85 L124.49 336.39 L125.34 335.93 L126.19 335.46 L127.06 334.98 L127.93 334.5 L128.82 334.02 L129.71 333.52 L130.62 333.03 L131.53 332.52 L132.46 332.01 L133.39 331.49 L134.34 330.96 L135.3 330.43 L136.26 329.89 L137.24 329.35 L138.23 328.8 L139.23 328.24 L140.24 327.67 L141.27 327.1 L142.3 326.52 L143.35 325.93 L144.41 325.33 L145.49 324.73 L146.57 324.12 L147.67 323.5 L148.78 322.87 L149.9 322.24 L151.04 321.59 L152.19 320.94 L153.35 320.28 L154.53 319.62 L155.72 318.94 L156.92 318.26 L158.14 317.56 L159.38 316.86 L160.63 316.15 L161.89 315.43 L163.17 314.7 L164.46 313.96 L165.77 313.21 L167.1 312.45 L168.44 311.69 L169.79 310.91 L171.17 310.12 L172.56 309.32 L173.96 308.52 L175.39 307.7 L176.83 306.87 L178.29 306.03 L179.76 305.18 L181.26 304.32 L182.77 303.45 L184.3 302.57 L185.85 301.68 L187.41 300.77 L189 299.86 L190.61 298.93 L192.23 297.99 L193.88 297.04 L195.54 296.07 L197.23 295.1 L198.94 294.11 L200.67 293.11 L202.42 292.09 L204.19 291.07 L205.98 290.03 L207.79 288.97 L209.63 287.91 L211.49 286.83 L213.37 285.73 L215.28 284.62 L217.21 283.5 L219.16 282.36 L221.14 281.21 L223.14 280.05 L225.16 278.87 L227.22 277.67 L229.29 276.46 L231.4 275.24 L233.53 273.99 L235.68 272.74 L237.86 271.46 L240.07 270.17 L242.31 268.87 L244.58 267.54 L246.87 266.2 L249.19 264.85 L251.54 263.47 L253.92 262.08 L256.33 260.67 L258.77 259.25 L261.24 257.8 L263.74 256.34 L266.27 254.85 L268.84 253.35 L271.43 251.83 L274.06 250.29 L276.73 248.73 L279.42 247.15 L282.15 245.55 L284.91 243.93 L287.71 242.29 L290.54 240.63 L293.41 238.95 L296.32 237.25 L299.26 235.52 L302.24 233.77 L305.25 232 L308.3 230.21 L311.4 228.4 L314.53 226.56 L317.7 224.7 L320.91 222.81 L324.16 220.9 L327.45 218.97 L330.78 217.01 L334.16 215.02 L337.57 213.02 L341.04 210.98 L344.54 208.92 L348.09 206.83 L351.68 204.72 L355.32 202.58 L359 200.41 L362.74 198.22 L366.51 196 L370.34 193.74 L374.21 191.46 L378.14 189.16 L382.11 186.82 L386.13 184.45 L390.21 182.05 L394.33 179.62 L398.51 177.16 L402.74 174.67 L407.03 172.15 L411.36 169.59 L415.76 167 L420.21 164.38 L424.71 161.73 L429.27 159.04 L433.89 156.32 L438.57 153.56 L443.31 150.77 L448.11 147.94 L452.97 145.08 L457.89 142.18 L462.87 139.24 L467.92 136.27 L473.03 133.26 L478.2 130.21 L483.44 127.12 L488.75 123.99 L494.12 120.82 L499.56 117.61 L505.08 114.36 L510.66 111.07 L516.31 107.74 L522.03 104.36 L527.83 100.94 L533.7 97.48 L539.64 93.97 L545.66 90.42 L551.76 86.83 L557.93 83.18 L564.19 79.49 L570.52 75.76 L576.93 71.98 L583.42 68.14 L590 64.26 L596.66 60.34 L603.4 56.36 L610.23 52.33 L617.15 48.24 L624.15 44.11 L631.25 39.92 L638.43 35.68 L645.71 31.39 L653.07 27.04 L660.54 22.64 L668.09 18.18 L675.74 13.66 L683.49 9.09 L691.34 4.45 L699.29 -0.24 L707.34 -4.99 L715.49 -9.8 L723.74 -14.67 L732.1 -19.61 L740.57 -24.61 L749.14 -29.67 L757.82 -34.8 L766.62 -39.99 M99.67 346.9 L100.27 346.55 L100.87 346.2 L101.48 345.84 L102.09 345.47 L102.72 345.1 L103.34 344.73 L103.98 344.35 L104.61 343.97 L105.26 343.58 L105.91 343.18 L106.57 342.78 L107.23 342.38 L107.9 341.97 L108.58 341.55 L109.26 341.13 L109.95 340.71 L110.65 340.28 L111.36 339.84 L112.07 339.39 L112.79 338.94 L113.52 338.49 L114.25 338.03 L114.99 337.56 L115.74 337.09 L116.5 336.61 L117.27 336.12 L118.04 335.63 L118.83 335.13 L119.62 334.62 L120.42 334.11 L121.23 333.59 L122.05 333.07 L122.87 332.53 L123.71 331.99 L124.55 331.44 L125.41 330.89 L126.27 330.33 L127.15 329.76 L128.03 329.18 L128.93 328.6 L129.83 328.01 L130.75 327.41 L131.67 326.8 L132.61 326.18 L133.55 325.56 L134.51 324.92 L135.48 324.28 L136.46 323.63 L137.45 322.98 L138.45 322.31 L139.47 321.64 L140.49 320.95 L141.53 320.26 L142.58 319.56 L143.65 318.84 L144.72 318.12 L145.81 317.39 L146.91 316.65 L148.03 315.9 L149.16 315.14 L150.3 314.37 L151.46 313.59 L152.63 312.8 L153.81 312 L155.01 311.19 L156.22 310.36 L157.45 309.53 L158.69 308.69 L159.95 307.83 L161.22 306.96 L162.51 306.09 L163.82 305.2 L165.14 304.29 L166.48 303.38 L167.83 302.45 L169.2 301.52 L170.59 300.57 L171.99 299.6 L173.41 298.63 L174.85 297.64 L176.31 296.64 L177.79 295.62 L179.28 294.59 L180.79 293.55 L182.32 292.5 L183.87 291.43 L185.44 290.34 L187.03 289.24 L188.64 288.13 L190.28 287 L191.93 285.86 L193.6 284.7 L195.29 283.53 L197 282.34 L198.74 281.14 L200.5 279.92 L202.28 278.68 L204.08 277.43 L205.91 276.16 L207.76 274.88 L209.63 273.57 L211.53 272.25 L213.45 270.92 L215.39 269.56 L217.36 268.19 L219.36 266.8 L221.38 265.39 L223.42 263.96 L225.5 262.51 L227.6 261.04 L229.72 259.56 L231.88 258.05 L234.06 256.53 L236.27 254.98 L238.5 253.42 L240.77 251.83 L243.07 250.22 L245.39 248.59 L247.75 246.94 L250.13 245.27 L252.55 243.58 L255 241.86 L257.48 240.12 L259.99 238.36 L262.53 236.57 L265.11 234.76 L267.72 232.93 L270.36 231.07 L273.04 229.19 L275.75 227.28 L278.5 225.35 L281.29 223.39 L284.11 221.41 L286.96 219.4 L289.86 217.36 L292.79 215.3 L295.76 213.21 L298.77 211.09 L301.82 208.94 L304.9 206.77 L308.03 204.56 L311.2 202.33 L314.41 200.07 L317.66 197.78 L320.96 195.45 L324.29 193.1 L327.67 190.72 L331.1 188.3 L334.57 185.85 L338.08 183.37 L341.64 180.86 L345.25 178.31 L348.9 175.73 L352.61 173.12 L356.36 170.47 L360.16 167.79 L364.01 165.07 L367.91 162.31 L371.86 159.52 L375.86 156.69 L379.92 153.83 L384.03 150.92 L388.19 147.98 L392.41 145 L396.68 141.98 L401.01 138.92 L405.39 135.81 L409.84 132.67 L414.34 129.49 L418.9 126.26 L423.52 122.99 L428.2 119.68 L432.94 116.33 L437.74 112.93 L442.61 109.48 L447.54 105.99 L452.54 102.46 L457.6 98.87 L462.73 95.24 L467.93 91.56 L473.19 87.83 L478.53 84.06 L483.93 80.23 L489.41 76.35 L494.95 72.42 L500.57 68.44 L506.27 64.41 L512.04 60.32 L517.88 56.18 L523.81 51.99 L529.81 47.74 L535.89 43.43 L542.04 39.07 L548.29 34.64 L554.61 30.16 L561.01 25.62 L567.5 21.02 L574.08 16.36 L580.74 11.64 L587.49 6.86 L594.33 2.01 L601.26 -2.9 L608.28 -7.88 L615.4 -12.92 L622.6 -18.03 L629.91 -23.21 L637.31 -28.46 L644.8 -33.77 L652.4 -39.16 L660.09 -44.61 L667.89 -50.14 L675.79 -55.74 L683.79 -61.42 L691.9 -67.17 L700.12 -73 L708.45 -78.9 L716.88 -84.89 L725.43 -90.95 L734.09 -97.09 M93.97 346.9 L94.52 346.54 L95.08 346.18 L95.63 345.81 L96.19 345.43 L96.76 345.05 L97.33 344.66 L97.91 344.27 L98.49 343.88 L99.08 343.48 L99.67 343.07 L100.27 342.66 L100.87 342.24 L101.48 341.81 L102.1 341.38 L102.72 340.95 L103.34 340.5 L103.98 340.05 L104.62 339.6 L105.26 339.14 L105.91 338.67 L106.57 338.2 L107.24 337.72 L107.91 337.23 L108.59 336.74 L109.28 336.24 L109.97 335.73 L110.67 335.21 L111.38 334.69 L112.09 334.16 L112.82 333.63 L113.55 333.08 L114.29 332.53 L115.04 331.97 L115.79 331.41 L116.56 330.83 L117.33 330.25 L118.11 329.66 L118.9 329.06 L119.7 328.45 L120.5 327.84 L121.32 327.21 L122.15 326.58 L122.98 325.94 L123.83 325.29 L124.68 324.63 L125.55 323.96 L126.42 323.29 L127.31 322.6 L128.21 321.9 L129.11 321.2 L130.03 320.48 L130.96 319.75 L131.9 319.02 L132.85 318.27 L133.81 317.52 L134.78 316.75 L135.77 315.97 L136.76 315.18 L137.77 314.39 L138.79 313.58 L139.83 312.75 L140.87 311.92 L141.93 311.08 L143 310.22 L144.09 309.35 L145.19 308.47 L146.3 307.58 L147.43 306.68 L148.57 305.76 L149.72 304.83 L150.89 303.89 L152.08 302.93 L153.27 301.96 L154.49 300.98 L155.72 299.99 L156.96 298.98 L158.22 297.95 L159.5 296.92 L160.79 295.86 L162.1 294.8 L163.43 293.72 L164.77 292.62 L166.13 291.51 L167.51 290.38 L168.9 289.24 L170.32 288.08 L171.75 286.9 L173.2 285.71 L174.67 284.51 L176.16 283.28 L177.66 282.04 L179.19 280.78 L180.74 279.51 L182.31 278.22 L183.89 276.9 L185.5 275.58 L187.13 274.23 L188.78 272.86 L190.45 271.48 L192.15 270.07 L193.87 268.65 L195.61 267.2 L197.37 265.74 L199.15 264.26 L200.96 262.75 L202.8 261.23 L204.65 259.68 L206.54 258.11 L208.44 256.52 L210.38 254.91 L212.33 253.28 L214.32 251.62 L216.33 249.94 L218.37 248.24 L220.43 246.52 L222.52 244.77 L224.64 242.99 L226.79 241.19 L228.97 239.37 L231.18 237.52 L233.41 235.65 L235.68 233.74 L237.98 231.82 L240.31 229.86 L242.66 227.88 L245.06 225.88 L247.48 223.84 L249.93 221.78 L252.42 219.68 L254.95 217.56 L257.5 215.41 L260.09 213.23 L262.72 211.02 L265.38 208.78 L268.08 206.51 L270.81 204.2 L273.59 201.86 L276.39 199.5 L279.24 197.1 L282.13 194.66 L285.05 192.19 L288.02 189.69 L291.02 187.15 L294.07 184.58 L297.16 181.97 L300.28 179.33 L303.46 176.65 L306.67 173.93 L309.93 171.18 L313.23 168.38 L316.58 165.55 L319.98 162.68 L323.42 159.77 L326.91 156.82 L330.44 153.83 L334.02 150.79 L337.66 147.72 L341.34 144.6 L345.07 141.44 L348.85 138.23 L352.69 134.98 L356.58 131.69 L360.52 128.35 L364.51 124.96 L368.56 121.53 L372.67 118.05 L376.83 114.52 L381.05 110.94 L385.32 107.32 L389.66 103.64 L394.05 99.91 L398.51 96.13 L403.02 92.3 L407.6 88.41 L412.24 84.47 L416.95 80.48 L421.72 76.43 L426.55 72.32 L431.45 68.16 L436.42 63.94 L441.46 59.66 L446.56 55.32 L451.74 50.93 L456.99 46.47 L462.31 41.95 L467.7 37.37 L473.17 32.72 L478.71 28.01 L484.33 23.23 L490.03 18.39 L495.8 13.48 L501.65 8.51 L507.59 3.46 L513.61 -1.66 L519.71 -6.84 L525.89 -12.1 L532.16 -17.43 L538.51 -22.84 L544.96 -28.32 L551.49 -33.87 L558.11 -39.51 L564.82 -45.22 L571.63 -51.01 L578.53 -56.88 L585.52 -62.83 L592.61 -68.86 L599.8 -74.98 L607.09 -81.18 L614.48 -87.47 L621.97 -93.84 L629.56 -100.31 L637.26 -106.86 L645.07 -113.5 L652.98 -120.24 L661 -127.07 L669.14 -133.99 L677.38 -141.01 L685.74 -148.13 L694.21 -155.34 M87.62 346.9 L88.11 346.55 L88.6 346.18 L89.1 345.82 L89.59 345.45 L90.09 345.07 L90.6 344.69 L91.11 344.3 L91.62 343.91 L92.14 343.51 L92.66 343.11 L93.19 342.7 L93.72 342.28 L94.26 341.86 L94.8 341.43 L95.35 340.99 L95.9 340.55 L96.46 340.1 L97.02 339.65 L97.58 339.19 L98.16 338.72 L98.74 338.25 L99.32 337.76 L99.91 337.28 L100.5 336.78 L101.11 336.28 L101.71 335.77 L102.33 335.25 L102.95 334.72 L103.58 334.19 L104.21 333.65 L104.85 333.1 L105.5 332.54 L106.15 331.98 L106.81 331.4 L107.48 330.82 L108.16 330.23 L108.84 329.63 L109.53 329.02 L110.23 328.41 L110.93 327.78 L111.65 327.14 L112.37 326.5 L113.1 325.85 L113.84 325.18 L114.59 324.51 L115.35 323.83 L116.11 323.13 L116.89 322.43 L117.67 321.72 L118.46 320.99 L119.27 320.26 L120.08 319.51 L120.9 318.76 L121.73 317.99 L122.57 317.21 L123.43 316.42 L124.29 315.62 L125.16 314.81 L126.05 313.98 L126.94 313.14 L127.85 312.29 L128.76 311.43 L129.69 310.56 L130.63 309.67 L131.59 308.77 L132.55 307.85 L133.53 306.93 L134.52 305.99 L135.52 305.03 L136.53 304.06 L137.56 303.08 L138.6 302.08 L139.66 301.07 L140.73 300.05 L141.81 299 L142.9 297.95 L144.01 296.87 L145.14 295.79 L146.28 294.68 L147.43 293.56 L148.6 292.43 L149.79 291.27 L150.99 290.1 L152.21 288.91 L153.44 287.71 L154.69 286.49 L155.96 285.25 L157.24 283.99 L158.54 282.71 L159.86 281.42 L161.2 280.1 L162.55 278.77 L163.92 277.41 L165.32 276.04 L166.73 274.65 L168.15 273.23 L169.6 271.8 L171.07 270.34 L172.56 268.87 L174.07 267.37 L175.6 265.85 L177.15 264.31 L178.72 262.74 L180.31 261.15 L181.93 259.54 L183.57 257.9 L185.23 256.25 L186.91 254.56 L188.62 252.85 L190.35 251.12 L192.1 249.36 L193.88 247.58 L195.69 245.77 L197.52 243.93 L199.37 242.07 L201.25 240.17 L203.16 238.26 L205.09 236.31 L207.05 234.33 L209.04 232.33 L211.06 230.29 L213.1 228.23 L215.18 226.14 L217.28 224.01 L219.41 221.86 L221.58 219.67 L223.77 217.45 L225.99 215.2 L228.25 212.91 L230.54 210.59 L232.86 208.24 L235.21 205.85 L237.6 203.43 L240.02 200.97 L242.47 198.48 L244.96 195.95 L247.49 193.38 L250.05 190.78 L252.65 188.13 L255.28 185.45 L257.96 182.73 L260.67 179.97 L263.42 177.17 L266.21 174.33 L269.04 171.44 L271.91 168.52 L274.82 165.55 L277.77 162.53 L280.76 159.48 L283.8 156.38 L286.88 153.23 L290.01 150.04 L293.18 146.8 L296.4 143.51 L299.66 140.17 L302.97 136.79 L306.33 133.35 L309.74 129.87 L313.19 126.33 L316.7 122.75 L320.25 119.11 L323.86 115.41 L327.52 111.66 L331.23 107.86 L335 104 L338.82 100.09 L342.69 96.12 L346.62 92.09 L350.61 88 L354.66 83.85 L358.76 79.64 L362.93 75.37 L367.15 71.03 L371.44 66.63 L375.79 62.17 L380.2 57.64 L384.67 53.05 L389.21 48.39 L393.82 43.66 L398.49 38.86 L403.23 33.99 L408.04 29.05 L412.92 24.04 L417.87 18.95 L422.9 13.79 L427.99 8.55 L433.16 3.24 L438.41 -2.15 L443.73 -7.62 L449.13 -13.17 L454.6 -18.81 L460.16 -24.52 L465.8 -30.32 L471.52 -36.2 L477.32 -42.17 L483.21 -48.23 L489.18 -54.38 L495.24 -60.61 L501.39 -66.94 L507.63 -73.36 L513.96 -79.87 L520.38 -86.48 L526.9 -93.19 L533.51 -99.99 L540.21 -106.9 L547.02 -113.9 L553.92 -121.01 L560.93 -128.22 L568.03 -135.54 L575.25 -142.97 L582.56 -150.5 L589.98 -158.15 L597.52 -165.9 L605.16 -173.77 L612.91 -181.76 L620.77 -189.86 L628.76 -198.08 L636.85 -206.42 L645.07 -214.89 M80.62 346.9 L81.03 346.57 L81.44 346.23 L81.86 345.89 L82.28 345.54 L82.71 345.19 L83.13 344.83 L83.56 344.47 L83.99 344.1 L84.43 343.73 L84.87 343.35 L85.31 342.96 L85.76 342.57 L86.21 342.17 L86.66 341.76 L87.12 341.35 L87.58 340.93 L88.05 340.51 L88.52 340.08 L88.99 339.64 L89.47 339.19 L89.96 338.74 L90.44 338.28 L90.94 337.81 L91.43 337.34 L91.94 336.86 L92.44 336.37 L92.96 335.87 L93.47 335.37 L94 334.85 L94.52 334.33 L95.06 333.81 L95.6 333.27 L96.14 332.72 L96.69 332.17 L97.25 331.61 L97.81 331.03 L98.38 330.45 L98.95 329.86 L99.54 329.26 L100.12 328.66 L100.72 328.04 L101.32 327.41 L101.93 326.77 L102.54 326.12 L103.17 325.47 L103.8 324.8 L104.43 324.12 L105.08 323.43 L105.73 322.73 L106.39 322.02 L107.06 321.29 L107.74 320.56 L108.42 319.81 L109.11 319.06 L109.82 318.29 L110.53 317.5 L111.25 316.71 L111.97 315.9 L112.71 315.09 L113.46 314.25 L114.21 313.41 L114.98 312.55 L115.76 311.68 L116.54 310.79 L117.34 309.89 L118.14 308.98 L118.96 308.05 L119.79 307.11 L120.63 306.15 L121.48 305.18 L122.34 304.19 L123.21 303.19 L124.09 302.17 L124.99 301.13 L125.9 300.08 L126.82 299.01 L127.75 297.93 L128.7 296.82 L129.65 295.7 L130.62 294.57 L131.61 293.41 L132.61 292.24 L133.62 291.05 L134.64 289.84 L135.69 288.61 L136.74 287.36 L137.81 286.09 L138.89 284.8 L139.99 283.49 L141.11 282.16 L142.24 280.81 L143.39 279.44 L144.55 278.05 L145.73 276.63 L146.92 275.19 L148.14 273.73 L149.37 272.25 L150.62 270.74 L151.88 269.21 L153.17 267.66 L154.47 266.08 L155.79 264.47 L157.13 262.84 L158.5 261.19 L159.88 259.51 L161.28 257.8 L162.7 256.07 L164.14 254.31 L165.6 252.52 L167.09 250.7 L168.59 248.85 L170.12 246.98 L171.67 245.07 L173.25 243.14 L174.84 241.17 L176.46 239.18 L178.11 237.15 L179.78 235.09 L181.47 233 L183.19 230.87 L184.94 228.72 L186.71 226.52 L188.51 224.3 L190.33 222.03 L192.18 219.74 L194.06 217.4 L195.97 215.03 L197.91 212.62 L199.87 210.18 L201.87 207.69 L203.89 205.17 L205.95 202.61 L208.04 200 L210.16 197.36 L212.31 194.67 L214.49 191.95 L216.71 189.17 L218.96 186.36 L221.24 183.5 L223.56 180.59 L225.92 177.64 L228.31 174.65 L230.74 171.6 L233.2 168.51 L235.7 165.37 L238.24 162.18 L240.82 158.94 L243.44 155.65 L246.1 152.31 L248.8 148.91 L251.54 145.46 L254.32 141.96 L257.15 138.4 L260.02 134.78 L262.93 131.11 L265.89 127.38 L268.9 123.59 L271.95 119.75 L275.05 115.84 L278.19 111.87 L281.39 107.84 L284.63 103.74 L287.92 99.58 L291.27 95.35 L294.67 91.06 L298.11 86.7 L301.62 82.27 L305.17 77.77 L308.79 73.2 L312.45 68.56 L316.18 63.84 L319.96 59.06 L323.8 54.19 L327.71 49.25 L331.67 44.23 L335.69 39.13 L339.78 33.95 L343.93 28.69 L348.14 23.35 L352.42 17.93 L356.77 12.41 L361.18 6.81 L365.66 1.13 L370.22 -4.65 L374.84 -10.52 L379.54 -16.48 L384.31 -22.53 L389.15 -28.68 L394.07 -34.93 L399.07 -41.27 L404.14 -47.72 L409.29 -54.26 L414.53 -60.91 L419.84 -67.67 L425.24 -74.53 L430.73 -81.5 L436.29 -88.58 L441.95 -95.76 L447.7 -103.07 L453.53 -110.49 L459.46 -118.02 L465.47 -125.67 L471.59 -133.45 L477.8 -141.34 L484.1 -149.37 L490.51 -157.51 L497.01 -165.79 L503.62 -174.19 L510.33 -182.73 L517.14 -191.41 L524.07 -200.21 L531.1 -209.16 L538.24 -218.25 L545.49 -227.48 L552.86 -236.86 L560.34 -246.39 L567.94 -256.06 L575.66 -265.89 L583.5 -275.87 M72.95 346.9 L73.27 346.62 L73.59 346.33 L73.92 346.04 L74.24 345.74 L74.57 345.44 L74.9 345.14 L75.24 344.82 L75.57 344.51 L75.91 344.18 L76.25 343.86 L76.59 343.52 L76.93 343.18 L77.28 342.83 L77.63 342.48 L77.98 342.12 L78.34 341.76 L78.69 341.39 L79.06 341.01 L79.42 340.63 L79.79 340.24 L80.16 339.84 L80.53 339.44 L80.91 339.03 L81.29 338.61 L81.67 338.18 L82.06 337.75 L82.45 337.31 L82.85 336.86 L83.25 336.41 L83.65 335.94 L84.06 335.47 L84.47 334.99 L84.89 334.5 L85.31 334.01 L85.73 333.5 L86.16 332.99 L86.59 332.47 L87.03 331.93 L87.48 331.39 L87.93 330.84 L88.38 330.28 L88.84 329.71 L89.3 329.13 L89.77 328.54 L90.25 327.94 L90.73 327.33 L91.21 326.71 L91.71 326.08 L92.2 325.44 L92.71 324.78 L93.22 324.12 L93.73 323.44 L94.26 322.75 L94.79 322.05 L95.32 321.34 L95.87 320.62 L96.42 319.88 L96.97 319.13 L97.54 318.37 L98.11 317.59 L98.69 316.8 L99.28 316 L99.87 315.18 L100.47 314.35 L101.08 313.5 L101.7 312.64 L102.33 311.76 L102.96 310.87 L103.61 309.97 L104.26 309.04 L104.92 308.1 L105.59 307.15 L106.27 306.18 L106.96 305.19 L107.66 304.19 L108.37 303.16 L109.09 302.12 L109.82 301.07 L110.56 299.99 L111.32 298.89 L112.08 297.78 L112.85 296.65 L113.63 295.49 L114.43 294.32 L115.24 293.12 L116.06 291.91 L116.89 290.67 L117.73 289.42 L118.59 288.14 L119.46 286.84 L120.34 285.51 L121.23 284.17 L122.14 282.8 L123.06 281.41 L124 279.99 L124.95 278.55 L125.91 277.08 L126.89 275.59 L127.89 274.07 L128.9 272.52 L129.92 270.95 L130.96 269.35 L132.02 267.72 L133.09 266.07 L134.18 264.38 L135.29 262.67 L136.42 260.93 L137.56 259.16 L138.72 257.35 L139.9 255.52 L141.1 253.65 L142.31 251.75 L143.55 249.82 L144.8 247.85 L146.08 245.85 L147.37 243.82 L148.69 241.75 L150.03 239.64 L151.39 237.5 L152.77 235.32 L154.17 233.1 L155.6 230.85 L157.04 228.55 L158.52 226.22 L160.01 223.84 L161.53 221.43 L163.08 218.97 L164.65 216.47 L166.24 213.92 L167.87 211.34 L169.52 208.7 L171.19 206.02 L172.89 203.3 L174.63 200.52 L176.39 197.7 L178.17 194.83 L179.99 191.91 L181.84 188.94 L183.72 185.92 L185.63 182.85 L187.57 179.72 L189.55 176.54 L191.56 173.3 L193.6 170.01 L195.67 166.66 L197.78 163.25 L199.93 159.78 L202.11 156.25 L204.32 152.67 L206.58 149.01 L208.87 145.3 L211.2 141.52 L213.57 137.68 L215.98 133.76 L218.43 129.79 L220.92 125.74 L223.45 121.62 L226.03 117.43 L228.65 113.17 L231.31 108.83 L234.02 104.42 L236.78 99.93 L239.58 95.36 L242.43 90.72 L245.33 85.99 L248.27 81.18 L251.27 76.29 L254.32 71.32 L257.42 66.25 L260.57 61.1 L263.77 55.86 L267.03 50.53 L270.35 45.11 L273.72 39.59 L277.15 33.98 L280.64 28.27 L284.19 22.46 L287.8 16.55 L291.47 10.54 L295.2 4.42 L299 -1.8 L302.86 -8.13 L306.79 -14.57 L310.78 -21.13 L314.85 -27.79 L318.98 -34.58 L323.19 -41.47 L327.46 -48.49 L331.81 -55.64 L336.24 -62.9 L340.74 -70.29 L345.31 -77.81 L349.97 -85.46 L354.71 -93.24 L359.52 -101.16 L364.42 -109.22 L369.41 -117.41 L374.48 -125.75 L379.64 -134.23 L384.88 -142.86 L390.22 -151.63 L395.65 -160.57 L401.17 -169.65 L406.79 -178.89 L412.5 -188.3 L418.32 -197.86 L424.23 -207.6 L430.24 -217.5 L436.36 -227.57 L442.59 -237.82 L448.92 -248.24 L455.36 -258.85 L461.91 -269.64 L468.58 -280.62 L475.36 -291.79 L482.25 -303.15 L489.27 -314.71 L496.41 -326.47 L503.67 -338.43 M64.62 346.9 L64.83 346.7 L65.03 346.51 L65.24 346.3 L65.45 346.09 L65.66 345.88 L65.87 345.67 L66.08 345.45 L66.29 345.22 L66.51 344.99 L66.72 344.76 L66.94 344.52 L67.15 344.28 L67.37 344.03 L67.59 343.78 L67.81 343.52 L68.04 343.26 L68.26 342.99 L68.49 342.71 L68.72 342.43 L68.95 342.15 L69.18 341.86 L69.42 341.56 L69.65 341.26 L69.89 340.95 L70.13 340.63 L70.38 340.31 L70.62 339.99 L70.87 339.65 L71.12 339.31 L71.37 338.96 L71.63 338.61 L71.89 338.25 L72.15 337.88 L72.41 337.5 L72.68 337.11 L72.94 336.72 L73.22 336.32 L73.49 335.91 L73.77 335.5 L74.05 335.07 L74.33 334.64 L74.62 334.2 L74.91 333.75 L75.21 333.29 L75.5 332.82 L75.8 332.34 L76.11 331.85 L76.42 331.36 L76.73 330.85 L77.05 330.33 L77.37 329.8 L77.69 329.26 L78.02 328.71 L78.35 328.15 L78.69 327.58 L79.03 327 L79.38 326.4 L79.73 325.79 L80.08 325.17 L80.44 324.54 L80.81 323.9 L81.18 323.24 L81.55 322.57 L81.93 321.88 L82.32 321.18 L82.71 320.47 L83.1 319.75 L83.5 319 L83.91 318.25 L84.33 317.48 L84.75 316.69 L85.17 315.89 L85.6 315.07 L86.04 314.23 L86.49 313.38 L86.94 312.51 L87.4 311.63 L87.86 310.72 L88.33 309.8 L88.81 308.86 L89.3 307.9 L89.8 306.92 L90.3 305.92 L90.81 304.9 L91.33 303.86 L91.85 302.8 L92.39 301.72 L92.93 300.62 L93.48 299.49 L94.04 298.34 L94.61 297.17 L95.19 295.98 L95.78 294.76 L96.38 293.51 L96.99 292.24 L97.61 290.95 L98.23 289.63 L98.87 288.28 L99.52 286.91 L100.18 285.51 L100.86 284.08 L101.54 282.62 L102.23 281.13 L102.94 279.62 L103.66 278.07 L104.39 276.49 L105.13 274.88 L105.89 273.24 L106.66 271.56 L107.44 269.85 L108.24 268.11 L109.05 266.33 L109.87 264.51 L110.71 262.66 L111.57 260.77 L112.44 258.85 L113.32 256.88 L114.22 254.88 L115.14 252.83 L116.08 250.75 L117.03 248.62 L117.99 246.45 L118.98 244.23 L119.98 241.97 L121 239.67 L122.04 237.32 L123.1 234.92 L124.18 232.47 L125.28 229.98 L126.4 227.43 L127.54 224.84 L128.7 222.19 L129.88 219.49 L131.08 216.73 L132.31 213.92 L133.56 211.05 L134.83 208.12 L136.13 205.14 L137.45 202.09 L138.79 198.99 L140.17 195.82 L141.56 192.59 L142.99 189.29 L144.44 185.93 L145.91 182.5 L147.42 179 L148.95 175.43 L150.52 171.78 L152.11 168.07 L153.74 164.28 L155.39 160.41 L157.08 156.47 L158.8 152.44 L160.55 148.34 L162.34 144.15 L164.16 139.88 L166.02 135.53 L167.91 131.08 L169.84 126.55 L171.8 121.93 L173.81 117.21 L175.85 112.4 L177.93 107.49 L180.05 102.48 L182.22 97.37 L184.43 92.16 L186.68 86.84 L188.97 81.42 L191.31 75.89 L193.69 70.25 L196.12 64.49 L198.6 58.62 L201.13 52.63 L203.71 46.52 L206.33 40.29 L209.01 33.93 L211.75 27.44 L214.53 20.83 L217.37 14.08 L220.27 7.19 L223.22 0.17 L226.23 -7 L229.31 -14.31 L232.44 -21.76 L235.63 -29.37 L238.89 -37.13 L242.21 -45.04 L245.6 -53.11 L249.05 -61.35 L252.58 -69.75 L256.17 -78.32 L259.83 -87.06 L263.57 -95.98 L267.38 -105.08 L271.27 -114.36 L275.23 -123.83 L279.28 -133.48 L283.4 -143.34 L287.61 -153.38 L291.9 -163.64 L296.27 -174.09 L300.73 -184.76 L305.28 -195.64 L309.92 -206.74 L314.66 -218.07 L319.49 -229.62 L324.41 -241.4 L329.43 -253.42 L334.56 -265.68 L339.78 -278.19 L345.11 -290.95 L350.55 -303.97 L356.09 -317.25 L361.75 -330.79 L367.52 -344.61 L373.4 -358.7 L379.4 -373.08 L385.52 -387.75 L391.77 -402.71 M55.64 346.9 L55.68 346.86 L55.72 346.82 L55.75 346.78 L55.79 346.73 L55.83 346.69 L55.87 346.64 L55.91 346.59 L55.95 346.54 L55.99 346.49 L56.03 346.44 L56.07 346.39 L56.12 346.33 L56.16 346.27 L56.2 346.21 L56.24 346.15 L56.28 346.09 L56.33 346.03 L56.37 345.96 L56.41 345.89 L56.46 345.82 L56.5 345.75 L56.55 345.68 L56.59 345.6 L56.64 345.52 L56.68 345.44 L56.73 345.36 L56.78 345.27 L56.83 345.18 L56.87 345.09 L56.92 345 L56.97 344.9 L57.02 344.8 L57.07 344.7 L57.12 344.59 L57.18 344.49 L57.23 344.37 L57.28 344.26 L57.34 344.14 L57.39 344.02 L57.45 343.89 L57.5 343.76 L57.56 343.63 L57.62 343.49 L57.68 343.35 L57.74 343.21 L57.8 343.06 L57.86 342.9 L57.92 342.74 L57.98 342.58 L58.05 342.41 L58.11 342.24 L58.18 342.06 L58.24 341.88 L58.31 341.69 L58.38 341.49 L58.45 341.29 L58.52 341.08 L58.59 340.87 L58.66 340.65 L58.74 340.43 L58.81 340.19 L58.89 339.96 L58.97 339.71 L59.04 339.46 L59.12 339.19 L59.21 338.93 L59.29 338.65 L59.37 338.36 L59.46 338.07 L59.54 337.77 L59.63 337.46 L59.72 337.14 L59.81 336.81 L59.91 336.47 L60 336.12 L60.1 335.76 L60.19 335.39 L60.29 335.01 L60.39 334.61 L60.5 334.21 L60.6 333.79 L60.71 333.36 L60.82 332.92 L60.93 332.47 L61.04 332 L61.15 331.51 L61.27 331.02 L61.39 330.51 L61.51 329.98 L61.63 329.44 L61.76 328.88 L61.89 328.31 L62.02 327.71 L62.15 327.1 L62.29 326.48 L62.42 325.83 L62.57 325.17 L62.71 324.48 L62.86 323.78 L63 323.05 L63.16 322.3 L63.31 321.53 L63.47 320.74 L63.63 319.92 L63.8 319.08 L63.97 318.22 L64.14 317.33 L64.31 316.41 L64.49 315.46 L64.68 314.49 L64.86 313.49 L65.06 312.46 L65.25 311.4 L65.45 310.3 L65.66 309.18 L65.86 308.02 L66.08 306.82 L66.3 305.59 L66.52 304.33 L66.75 303.03 L66.98 301.68 L67.22 300.3 L67.46 298.88 L67.71 297.42 L67.97 295.91 L68.23 294.35 L68.5 292.76 L68.77 291.11 L69.05 289.41 L69.34 287.67 L69.63 285.87 L69.93 284.02 L70.24 282.12 L70.56 280.15 L70.88 278.13 L71.21 276.05 L71.55 273.91 L71.9 271.71 L72.26 269.44 L72.63 267.1 L73 264.69 L73.39 262.21 L73.78 259.66 L74.19 257.03 L74.6 254.32 L75.03 251.54 L75.47 248.67 L75.92 245.71 L76.38 242.67 L76.85 239.54 L77.34 236.32 L77.84 233 L78.35 229.58 L78.87 226.06 L79.41 222.43 L79.97 218.7 L80.53 214.86 L81.12 210.9 L81.72 206.82 L82.34 202.63 L82.97 198.31 L83.62 193.86 L84.29 189.28 L84.98 184.56 L85.68 179.71 L86.41 174.71 L87.15 169.56 L87.92 164.26 L88.71 158.8 L89.52 153.18 L90.35 147.4 L91.21 141.44 L92.09 135.3 L93 128.99 L93.93 122.48 L94.88 115.78 L95.87 108.89 L96.88 101.79 L97.92 94.48 L99 86.95 L100.1 79.2 L101.23 71.21 L102.4 63 L103.6 54.53 L104.83 45.82 L106.1 36.85 L107.41 27.61 L108.75 18.1 L110.13 8.31 L111.56 -1.78 L113.02 -12.16 L114.53 -22.85 L116.08 -33.86 L117.68 -45.19 L119.32 -56.87 L121.01 -68.88 L122.75 -81.26 L124.54 -94 L126.38 -107.12 L128.28 -120.63 L130.23 -134.54 L132.24 -148.86 L134.3 -163.6 L136.43 -178.79 L138.62 -194.42 L140.88 -210.52 L143.2 -227.09 L145.59 -244.16 L148.04 -261.74 L150.58 -279.83 L153.18 -298.46 L155.86 -317.65 L158.63 -337.4 L161.47 -357.74 L164.4 -378.68 L167.41 -400.25 L170.51 -422.45 L173.7 -445.31 L176.99 -468.85" fill="none" stroke="#000" stroke-width="1.65" stroke-linejoin="round"/>
</g>
<rect x="54.3" y="3" width="336" height="343.9" fill="none" stroke="#000" stroke-width="1.2"/>
<g clip-path="url(#clip_b)"><g clip-path="url(#clip_bpar)">
<rect x="457.5" y="3" width="336.3" height="2.6" fill="url(#gb0)"/>
<rect x="457.5" y="5" width="336.3" height="2.6" fill="url(#gb1)"/>
<rect x="457.5" y="7" width="336.3" height="2.6" fill="url(#gb2)"/>
<rect x="457.5" y="9" width="336.3" height="2.6" fill="url(#gb3)"/>
<rect x="457.5" y="11" width="336.3" height="2.6" fill="url(#gb4)"/>
<rect x="457.5" y="13" width="336.3" height="2.6" fill="url(#gb5)"/>
<rect x="457.5" y="15" width="336.3" height="2.6" fill="url(#gb6)"/>
<rect x="457.5" y="17" width="336.3" height="2.6" fill="url(#gb7)"/>
<rect x="457.5" y="19" width="336.3" height="2.6" fill="url(#gb8)"/>
<rect x="457.5" y="21" width="336.3" height="2.6" fill="url(#gb9)"/>
<rect x="457.5" y="23" width="336.3" height="2.6" fill="url(#gb10)"/>
<rect x="457.5" y="25" width="336.3" height="2.6" fill="url(#gb11)"/>
<rect x="457.5" y="27" width="336.3" height="2.6" fill="url(#gb12)"/>
<rect x="457.5" y="29" width="336.3" height="2.6" fill="url(#gb13)"/>
<rect x="457.5" y="31" width="336.3" height="2.6" fill="url(#gb14)"/>
<rect x="457.5" y="33" width="336.3" height="2.6" fill="url(#gb15)"/>
<rect x="457.5" y="35" width="336.3" height="2.6" fill="url(#gb16)"/>
<rect x="457.5" y="37" width="336.3" height="2.6" fill="url(#gb17)"/>
<rect x="457.5" y="39" width="336.3" height="2.6" fill="url(#gb18)"/>
<rect x="457.5" y="41" width="336.3" height="2.6" fill="url(#gb19)"/>
<rect x="457.5" y="43" width="336.3" height="2.6" fill="url(#gb20)"/>
<rect x="457.5" y="45" width="336.3" height="2.6" fill="url(#gb21)"/>
<rect x="457.5" y="47" width="336.3" height="2.6" fill="url(#gb22)"/>
<rect x="457.5" y="49" width="336.3" height="2.6" fill="url(#gb23)"/>
<rect x="457.5" y="51" width="336.3" height="2.6" fill="url(#gb24)"/>
<rect x="457.5" y="53" width="336.3" height="2.6" fill="url(#gb25)"/>
<rect x="457.5" y="55" width="336.3" height="2.6" fill="url(#gb26)"/>
<rect x="457.5" y="57" width="336.3" height="2.6" fill="url(#gb27)"/>
<rect x="457.5" y="59" width="336.3" height="2.6" fill="url(#gb28)"/>
<rect x="457.5" y="61" width="336.3" height="2.6" fill="url(#gb29)"/>
<rect x="457.5" y="63" width="336.3" height="2.6" fill="url(#gb30)"/>
<rect x="457.5" y="65" width="336.3" height="2.6" fill="url(#gb31)"/>
<rect x="457.5" y="67" width="336.3" height="2.6" fill="url(#gb32)"/>
<rect x="457.5" y="69" width="336.3" height="2.6" fill="url(#gb33)"/>
<rect x="457.5" y="71" width="336.3" height="2.6" fill="url(#gb34)"/>
<rect x="457.5" y="73" width="336.3" height="2.6" fill="url(#gb35)"/>
<rect x="457.5" y="75" width="336.3" height="2.6" fill="url(#gb36)"/>
<rect x="457.5" y="77" width="336.3" height="2.6" fill="url(#gb37)"/>
<rect x="457.5" y="79" width="336.3" height="2.6" fill="url(#gb38)"/>
<rect x="457.5" y="81" width="336.3" height="2.6" fill="url(#gb39)"/>
<rect x="457.5" y="83" width="336.3" height="2.6" fill="url(#gb40)"/>
<rect x="457.5" y="85" width="336.3" height="2.6" fill="url(#gb41)"/>
<rect x="457.5" y="87" width="336.3" height="2.6" fill="url(#gb42)"/>
<rect x="457.5" y="89" width="336.3" height="2.6" fill="url(#gb43)"/>
<rect x="457.5" y="91" width="336.3" height="2.6" fill="url(#gb44)"/>
<rect x="457.5" y="93" width="336.3" height="2.6" fill="url(#gb45)"/>
<rect x="457.5" y="95" width="336.3" height="2.6" fill="url(#gb46)"/>
<rect x="457.5" y="97" width="336.3" height="2.6" fill="url(#gb47)"/>
<rect x="457.5" y="99" width="336.3" height="2.6" fill="url(#gb48)"/>
<rect x="457.5" y="101" width="336.3" height="2.6" fill="url(#gb49)"/>
<rect x="457.5" y="103" width="336.3" height="2.6" fill="url(#gb50)"/>
<rect x="457.5" y="105" width="336.3" height="2.6" fill="url(#gb51)"/>
<rect x="457.5" y="107" width="336.3" height="2.6" fill="url(#gb52)"/>
<rect x="457.5" y="109" width="336.3" height="2.6" fill="url(#gb53)"/>
<rect x="457.5" y="111" width="336.3" height="2.6" fill="url(#gb54)"/>
<rect x="457.5" y="113" width="336.3" height="2.6" fill="url(#gb55)"/>
<rect x="457.5" y="115" width="336.3" height="2.6" fill="url(#gb56)"/>
<rect x="457.5" y="117" width="336.3" height="2.6" fill="url(#gb57)"/>
<rect x="457.5" y="119" width="336.3" height="2.6" fill="url(#gb58)"/>
<rect x="457.5" y="121" width="336.3" height="2.6" fill="url(#gb59)"/>
<rect x="457.5" y="123" width="336.3" height="2.6" fill="url(#gb60)"/>
<rect x="457.5" y="125" width="336.3" height="2.6" fill="url(#gb61)"/>
<rect x="457.5" y="127" width="336.3" height="2.6" fill="url(#gb62)"/>
<rect x="457.5" y="129" width="336.3" height="2.6" fill="url(#gb63)"/>
<rect x="457.5" y="131" width="336.3" height="2.6" fill="url(#gb64)"/>
<rect x="457.5" y="133" width="336.3" height="2.6" fill="url(#gb65)"/>
<rect x="457.5" y="135" width="336.3" height="2.6" fill="url(#gb66)"/>
<rect x="457.5" y="137" width="336.3" height="2.6" fill="url(#gb67)"/>
<rect x="457.5" y="139" width="336.3" height="2.6" fill="url(#gb68)"/>
<rect x="457.5" y="141" width="336.3" height="2.6" fill="url(#gb69)"/>
<rect x="457.5" y="143" width="336.3" height="2.6" fill="url(#gb70)"/>
<rect x="457.5" y="145" width="336.3" height="2.6" fill="url(#gb71)"/>
<rect x="457.5" y="147" width="336.3" height="2.6" fill="url(#gb72)"/>
<rect x="457.5" y="149" width="336.3" height="2.6" fill="url(#gb73)"/>
<rect x="457.5" y="151" width="336.3" height="2.6" fill="url(#gb74)"/>
<rect x="457.5" y="153" width="336.3" height="2.6" fill="url(#gb75)"/>
<rect x="457.5" y="155" width="336.3" height="2.6" fill="url(#gb76)"/>
<rect x="457.5" y="157" width="336.3" height="2.6" fill="url(#gb77)"/>
<rect x="457.5" y="159" width="336.3" height="2.6" fill="url(#gb78)"/>
<rect x="457.5" y="161" width="336.3" height="2.6" fill="url(#gb79)"/>
<rect x="457.5" y="163" width="336.3" height="2.6" fill="url(#gb80)"/>
<rect x="457.5" y="165" width="336.3" height="2.6" fill="url(#gb81)"/>
<rect x="457.5" y="167" width="336.3" height="2.6" fill="url(#gb82)"/>
<rect x="457.5" y="169" width="336.3" height="2.6" fill="url(#gb83)"/>
<rect x="457.5" y="171" width="336.3" height="2.6" fill="url(#gb84)"/>
<rect x="457.5" y="173" width="336.3" height="2.6" fill="url(#gb85)"/>
<rect x="457.5" y="175" width="336.3" height="2.6" fill="url(#gb86)"/>
<rect x="457.5" y="177" width="336.3" height="2.6" fill="url(#gb87)"/>
<rect x="457.5" y="179" width="336.3" height="2.6" fill="url(#gb88)"/>
<rect x="457.5" y="181" width="336.3" height="2.6" fill="url(#gb89)"/>
<rect x="457.5" y="183" width="336.3" height="2.6" fill="url(#gb90)"/>
<rect x="457.5" y="185" width="336.3" height="2.6" fill="url(#gb91)"/>
<rect x="457.5" y="187" width="336.3" height="2.6" fill="url(#gb92)"/>
<rect x="457.5" y="189" width="336.3" height="2.6" fill="url(#gb93)"/>
<rect x="457.5" y="191" width="336.3" height="2.6" fill="url(#gb94)"/>
<rect x="457.5" y="193" width="336.3" height="2.6" fill="url(#gb95)"/>
<rect x="457.5" y="195" width="336.3" height="2.6" fill="url(#gb96)"/>
<rect x="457.5" y="197" width="336.3" height="2.6" fill="url(#gb97)"/>
<rect x="457.5" y="199" width="336.3" height="2.6" fill="url(#gb98)"/>
<rect x="457.5" y="201" width="336.3" height="2.6" fill="url(#gb99)"/>
<rect x="457.5" y="203" width="336.3" height="2.6" fill="url(#gb100)"/>
<rect x="457.5" y="205" width="336.3" height="2.6" fill="url(#gb101)"/>
<rect x="457.5" y="207" width="336.3" height="2.6" fill="url(#gb102)"/>
<rect x="457.5" y="209" width="336.3" height="2.6" fill="url(#gb103)"/>
<rect x="457.5" y="211" width="336.3" height="2.6" fill="url(#gb104)"/>
<rect x="457.5" y="213" width="336.3" height="2.6" fill="url(#gb105)"/>
<rect x="457.5" y="215" width="336.3" height="2.6" fill="url(#gb106)"/>
<rect x="457.5" y="217" width="336.3" height="2.6" fill="url(#gb107)"/>
<rect x="457.5" y="219" width="336.3" height="2.6" fill="url(#gb108)"/>
<rect x="457.5" y="221" width="336.3" height="2.6" fill="url(#gb109)"/>
<rect x="457.5" y="223" width="336.3" height="2.6" fill="url(#gb110)"/>
<rect x="457.5" y="225" width="336.3" height="2.6" fill="url(#gb111)"/>
<rect x="457.5" y="227" width="336.3" height="2.6" fill="url(#gb112)"/>
<rect x="457.5" y="229" width="336.3" height="2.6" fill="url(#gb113)"/>
<rect x="457.5" y="231" width="336.3" height="2.6" fill="url(#gb114)"/>
<rect x="457.5" y="233" width="336.3" height="2.6" fill="url(#gb115)"/>
<rect x="457.5" y="235" width="336.3" height="2.6" fill="url(#gb116)"/>
<rect x="457.5" y="237" width="336.3" height="2.6" fill="url(#gb117)"/>
<rect x="457.5" y="239" width="336.3" height="2.6" fill="url(#gb118)"/>
<rect x="457.5" y="241" width="336.3" height="2.6" fill="url(#gb119)"/>
<rect x="457.5" y="243" width="336.3" height="2.6" fill="url(#gb120)"/>
<rect x="457.5" y="245" width="336.3" height="2.6" fill="url(#gb121)"/>
<rect x="457.5" y="247" width="336.3" height="2.6" fill="url(#gb122)"/>
<rect x="457.5" y="249" width="336.3" height="2.6" fill="url(#gb123)"/>
<rect x="457.5" y="251" width="336.3" height="2.6" fill="url(#gb124)"/>
<rect x="457.5" y="253" width="336.3" height="2.6" fill="url(#gb125)"/>
<rect x="457.5" y="255" width="336.3" height="2.6" fill="url(#gb126)"/>
<rect x="457.5" y="257" width="336.3" height="2.6" fill="url(#gb127)"/>
<rect x="457.5" y="259" width="336.3" height="2.6" fill="url(#gb128)"/>
<rect x="457.5" y="261" width="336.3" height="2.6" fill="url(#gb129)"/>
<rect x="457.5" y="263" width="336.3" height="2.6" fill="url(#gb130)"/>
<rect x="457.5" y="265" width="336.3" height="2.6" fill="url(#gb131)"/>
<rect x="457.5" y="267" width="336.3" height="2.6" fill="url(#gb132)"/>
<rect x="457.5" y="269" width="336.3" height="2.6" fill="url(#gb133)"/>
<rect x="457.5" y="271" width="336.3" height="2.6" fill="url(#gb134)"/>
<rect x="457.5" y="273" width="336.3" height="2.6" fill="url(#gb135)"/>
<rect x="457.5" y="275" width="336.3" height="2.6" fill="url(#gb136)"/>
<rect x="457.5" y="277" width="336.3" height="2.6" fill="url(#gb137)"/>
<rect x="457.5" y="279" width="336.3" height="2.6" fill="url(#gb138)"/>
<rect x="457.5" y="281" width="336.3" height="2.6" fill="url(#gb139)"/>
<rect x="457.5" y="283" width="336.3" height="2.6" fill="url(#gb140)"/>
<rect x="457.5" y="285" width="336.3" height="2.6" fill="url(#gb141)"/>
<rect x="457.5" y="287" width="336.3" height="2.6" fill="url(#gb142)"/>
<rect x="457.5" y="289" width="336.3" height="2.6" fill="url(#gb143)"/>
<rect x="457.5" y="291" width="336.3" height="2.6" fill="url(#gb144)"/>
<rect x="457.5" y="293" width="336.3" height="2.6" fill="url(#gb145)"/>
<rect x="457.5" y="295" width="336.3" height="2.6" fill="url(#gb146)"/>
<rect x="457.5" y="297" width="336.3" height="2.6" fill="url(#gb147)"/>
<rect x="457.5" y="299" width="336.3" height="2.6" fill="url(#gb148)"/>
<rect x="457.5" y="301" width="336.3" height="2.6" fill="url(#gb149)"/>
<rect x="457.5" y="303" width="336.3" height="2.6" fill="url(#gb150)"/>
<rect x="457.5" y="305" width="336.3" height="2.6" fill="url(#gb151)"/>
<rect x="457.5" y="307" width="336.3" height="2.6" fill="url(#gb152)"/>
<rect x="457.5" y="309" width="336.3" height="2.6" fill="url(#gb153)"/>
<rect x="457.5" y="311" width="336.3" height="2.6" fill="url(#gb154)"/>
<rect x="457.5" y="313" width="336.3" height="2.6" fill="url(#gb155)"/>
<rect x="457.5" y="315" width="336.3" height="2.6" fill="url(#gb156)"/>
<rect x="457.5" y="317" width="336.3" height="2.6" fill="url(#gb157)"/>
<rect x="457.5" y="319" width="336.3" height="2.6" fill="url(#gb158)"/>
<rect x="457.5" y="321" width="336.3" height="2.6" fill="url(#gb159)"/>
<rect x="457.5" y="323" width="336.3" height="2.6" fill="url(#gb160)"/>
<rect x="457.5" y="325" width="336.3" height="2.6" fill="url(#gb161)"/>
<rect x="457.5" y="327" width="336.3" height="2.6" fill="url(#gb162)"/>
<rect x="457.5" y="329" width="336.3" height="2.6" fill="url(#gb163)"/>
<rect x="457.5" y="331" width="336.3" height="2.6" fill="url(#gb164)"/>
<rect x="457.5" y="333" width="336.3" height="2.6" fill="url(#gb165)"/>
<rect x="457.5" y="335" width="336.3" height="2.6" fill="url(#gb166)"/>
<rect x="457.5" y="337" width="336.3" height="2.6" fill="url(#gb167)"/>
<rect x="457.5" y="339" width="336.3" height="2.6" fill="url(#gb168)"/>
<rect x="457.5" y="341" width="336.3" height="2.6" fill="url(#gb169)"/>
<rect x="457.5" y="343" width="336.3" height="2.6" fill="url(#gb170)"/>
<rect x="457.5" y="345" width="336.3" height="1.9" fill="url(#gb171)"/>
</g>
<path d="M524.76 346.9 L525.53 346.89 L526.3 346.88 L527.09 346.88 L527.88 346.87 L528.69 346.86 L529.5 346.85 L530.32 346.84 L531.15 346.83 L531.99 346.83 L532.84 346.82 L533.7 346.81 L534.57 346.8 L535.45 346.79 L536.34 346.78 L537.24 346.77 L538.15 346.76 L539.07 346.75 L540 346.74 L540.94 346.73 L541.89 346.72 L542.86 346.71 L543.83 346.7 L544.82 346.69 L545.81 346.68 L546.82 346.67 L547.84 346.66 L548.87 346.65 L549.91 346.64 L550.97 346.63 L552.03 346.62 L553.11 346.61 L554.2 346.6 L555.31 346.59 L556.42 346.58 L557.55 346.56 L558.69 346.55 L559.85 346.54 L561.02 346.53 L562.2 346.52 L563.39 346.5 L564.6 346.49 L565.82 346.48 L567.06 346.47 L568.31 346.45 L569.57 346.44 L570.85 346.43 L572.15 346.42 L573.45 346.4 L574.78 346.39 L576.12 346.37 L577.47 346.36 L578.84 346.35 L580.22 346.33 L581.62 346.32 L583.04 346.3 L584.47 346.29 L585.92 346.27 L587.39 346.26 L588.87 346.24 L590.37 346.23 L591.88 346.21 L593.42 346.2 L594.97 346.18 L596.54 346.17 L598.12 346.15 L599.73 346.13 L601.35 346.12 L602.99 346.1 L604.65 346.08 L606.33 346.07 L608.03 346.05 L609.75 346.03 L611.48 346.01 L613.24 346 L615.02 345.98 L616.82 345.96 L618.63 345.94 L620.47 345.92 L622.33 345.9 L624.21 345.88 L626.12 345.86 L628.04 345.84 L629.99 345.82 L631.95 345.8 L633.94 345.78 L635.96 345.76 L637.99 345.74 L640.05 345.72 L642.14 345.7 L644.24 345.68 L646.38 345.66 L648.53 345.63 L650.71 345.61 L652.91 345.59 L655.14 345.57 L657.4 345.54 L659.68 345.52 L661.99 345.5 L664.32 345.47 L666.68 345.45 L669.07 345.42 L671.48 345.4 L673.92 345.37 L676.39 345.35 L678.89 345.32 L681.42 345.3 L683.97 345.27 L686.56 345.25 L689.17 345.22 L691.82 345.19 L694.49 345.16 L697.19 345.14 L699.93 345.11 L702.69 345.08 L705.49 345.05 L708.32 345.02 L711.18 344.99 L714.08 344.96 L717.01 344.93 L719.97 344.9 L722.96 344.87 L725.99 344.84 L729.06 344.81 L732.16 344.78 L735.29 344.75 L738.46 344.71 L741.67 344.68 L744.91 344.65 L748.19 344.62 L751.5 344.58 L754.86 344.55 L758.25 344.51 L761.68 344.48 L765.16 344.44 L768.67 344.41 L772.22 344.37 L775.81 344.33 L779.44 344.3 L783.11 344.26 L786.83 344.22 L790.59 344.18 L794.39 344.14 L798.23 344.1 L802.12 344.06 L806.05 344.02 L810.03 343.98 L814.05 343.94 L818.12 343.9 L822.24 343.86 L826.4 343.82 L830.61 343.77 L834.87 343.73 L839.17 343.68 L843.53 343.64 L847.93 343.6 L852.39 343.55 L856.89 343.5 L861.45 343.46 L866.06 343.41 L870.72 343.36 L875.44 343.31 L880.21 343.27 L885.03 343.22 L889.91 343.17 L894.84 343.12 L899.83 343.06 L904.88 343.01 L909.99 342.96 L915.15 342.91 L920.37 342.85 L925.65 342.8 L931 342.75 L936.4 342.69 L941.86 342.63 L947.39 342.58 L952.98 342.52 L958.64 342.46 L964.35 342.4 L970.14 342.35 L975.99 342.29 L981.9 342.23 L987.89 342.16 L993.94 342.1 L1000.06 342.04 L1006.25 341.98 L1012.52 341.91 L1018.85 341.85 L1025.25 341.78 L1031.73 341.72 L1038.29 341.65 L1044.91 341.58 L1051.62 341.51 L1058.4 341.44 L1065.25 341.37 L1072.19 341.3 L1079.2 341.23 L1086.3 341.16 L1093.47 341.08 L1100.73 341.01 L1108.07 340.93 L1115.49 340.86 L1123 340.78 L1130.59 340.7 L1138.28 340.63 L1146.04 340.55 L1153.9 340.47 L1161.85 340.38 L1169.89 340.3 L1178.01 340.22 L1186.24 340.14 L1194.55 340.05 L1202.96 339.96 L1211.47 339.88 L1220.07 339.79 L1228.77 339.7 L1237.58 339.61 L1246.48 339.52 L1255.48 339.43 L1264.59 339.33 M524.76 346.9 L525.53 346.84 L526.3 346.77 L527.09 346.71 L527.88 346.64 L528.69 346.58 L529.5 346.51 L530.32 346.45 L531.15 346.38 L531.99 346.31 L532.84 346.24 L533.7 346.17 L534.57 346.1 L535.45 346.03 L536.33 345.95 L537.23 345.88 L538.14 345.8 L539.06 345.73 L539.99 345.65 L540.93 345.58 L541.88 345.5 L542.84 345.42 L543.82 345.34 L544.8 345.26 L545.8 345.18 L546.8 345.1 L547.82 345.01 L548.85 344.93 L549.89 344.84 L550.94 344.76 L552.01 344.67 L553.09 344.58 L554.18 344.49 L555.28 344.4 L556.39 344.31 L557.52 344.22 L558.66 344.12 L559.81 344.03 L560.98 343.93 L562.16 343.84 L563.35 343.74 L564.55 343.64 L565.77 343.54 L567.01 343.44 L568.26 343.34 L569.52 343.23 L570.79 343.13 L572.08 343.02 L573.39 342.92 L574.71 342.81 L576.05 342.7 L577.4 342.59 L578.76 342.48 L580.14 342.36 L581.54 342.25 L582.95 342.13 L584.38 342.01 L585.83 341.9 L587.29 341.78 L588.77 341.66 L590.27 341.53 L591.78 341.41 L593.31 341.28 L594.85 341.16 L596.42 341.03 L598 340.9 L599.6 340.77 L601.22 340.63 L602.86 340.5 L604.52 340.36 L606.19 340.23 L607.88 340.09 L609.6 339.95 L611.33 339.81 L613.08 339.66 L614.86 339.52 L616.65 339.37 L618.46 339.22 L620.3 339.07 L622.15 338.92 L624.03 338.76 L625.92 338.61 L627.84 338.45 L629.78 338.29 L631.75 338.13 L633.73 337.97 L635.74 337.8 L637.77 337.64 L639.82 337.47 L641.9 337.3 L644 337.12 L646.13 336.95 L648.28 336.77 L650.45 336.6 L652.65 336.42 L654.87 336.23 L657.12 336.05 L659.4 335.86 L661.7 335.67 L664.02 335.48 L666.38 335.29 L668.76 335.09 L671.17 334.9 L673.6 334.7 L676.06 334.49 L678.55 334.29 L681.07 334.08 L683.62 333.87 L686.2 333.66 L688.8 333.45 L691.44 333.23 L694.11 333.01 L696.8 332.79 L699.53 332.57 L702.29 332.34 L705.08 332.11 L707.9 331.88 L710.75 331.65 L713.64 331.41 L716.56 331.17 L719.51 330.93 L722.5 330.68 L725.52 330.44 L728.57 330.19 L731.66 329.93 L734.79 329.68 L737.95 329.42 L741.14 329.15 L744.38 328.89 L747.65 328.62 L750.95 328.35 L754.3 328.08 L757.68 327.8 L761.1 327.52 L764.56 327.23 L768.06 326.95 L771.6 326.66 L775.18 326.36 L778.8 326.06 L782.47 325.76 L786.17 325.46 L789.92 325.15 L793.71 324.84 L797.54 324.53 L801.42 324.21 L805.34 323.89 L809.3 323.56 L813.31 323.23 L817.37 322.9 L821.47 322.56 L825.62 322.22 L829.82 321.88 L834.06 321.53 L838.36 321.18 L842.7 320.82 L847.09 320.46 L851.53 320.1 L856.02 319.73 L860.57 319.35 L865.16 318.98 L869.81 318.6 L874.51 318.21 L879.26 317.82 L884.07 317.43 L888.94 317.03 L893.86 316.62 L898.83 316.21 L903.86 315.8 L908.95 315.38 L914.1 314.96 L919.31 314.53 L924.57 314.1 L929.9 313.67 L935.28 313.22 L940.73 312.78 L946.24 312.32 L951.81 311.87 L957.45 311.4 L963.15 310.94 L968.92 310.46 L974.75 309.98 L980.65 309.5 L986.61 309.01 L992.65 308.52 L998.75 308.01 L1004.92 307.51 L1011.16 307 L1017.48 306.48 L1023.86 305.95 L1030.32 305.42 L1036.85 304.89 L1043.46 304.35 L1050.14 303.8 L1056.9 303.24 L1063.74 302.68 L1070.65 302.11 L1077.64 301.54 L1084.71 300.96 L1091.87 300.37 L1099.1 299.78 L1106.42 299.18 L1113.82 298.57 L1121.3 297.96 L1128.87 297.34 L1136.53 296.71 L1144.28 296.07 L1152.11 295.43 L1160.03 294.78 L1168.04 294.12 L1176.15 293.46 L1184.34 292.78 L1192.63 292.1 L1201.02 291.42 L1209.5 290.72 L1218.07 290.02 L1226.75 289.3 L1235.52 288.58 L1244.39 287.86 L1253.37 287.12 L1262.45 286.37 M524.76 346.9 L525.53 346.78 L526.3 346.66 L527.09 346.54 L527.88 346.42 L528.68 346.3 L529.49 346.17 L530.32 346.05 L531.14 345.92 L531.98 345.79 L532.83 345.66 L533.69 345.53 L534.56 345.4 L535.43 345.26 L536.32 345.12 L537.22 344.99 L538.12 344.85 L539.04 344.71 L539.97 344.56 L540.91 344.42 L541.85 344.27 L542.81 344.12 L543.78 343.97 L544.76 343.82 L545.76 343.67 L546.76 343.52 L547.77 343.36 L548.8 343.2 L549.84 343.04 L550.89 342.88 L551.95 342.72 L553.02 342.55 L554.1 342.38 L555.2 342.21 L556.31 342.04 L557.43 341.87 L558.57 341.69 L559.71 341.52 L560.87 341.34 L562.05 341.16 L563.23 340.97 L564.43 340.79 L565.65 340.6 L566.88 340.41 L568.12 340.22 L569.37 340.03 L570.64 339.83 L571.93 339.63 L573.22 339.43 L574.54 339.23 L575.87 339.02 L577.21 338.81 L578.57 338.6 L579.94 338.39 L581.33 338.18 L582.74 337.96 L584.16 337.74 L585.59 337.52 L587.05 337.29 L588.52 337.07 L590 336.84 L591.51 336.6 L593.03 336.37 L594.57 336.13 L596.12 335.89 L597.69 335.65 L599.28 335.4 L600.89 335.15 L602.52 334.9 L604.17 334.65 L605.83 334.39 L607.51 334.13 L609.21 333.86 L610.94 333.6 L612.68 333.33 L614.44 333.05 L616.22 332.78 L618.02 332.5 L619.84 332.22 L621.68 331.93 L623.55 331.64 L625.43 331.35 L627.34 331.06 L629.27 330.76 L631.21 330.46 L633.19 330.15 L635.18 329.84 L637.2 329.53 L639.24 329.21 L641.3 328.89 L643.39 328.57 L645.5 328.24 L647.63 327.91 L649.79 327.58 L651.97 327.24 L654.18 326.9 L656.41 326.55 L658.67 326.2 L660.95 325.85 L663.26 325.49 L665.6 325.13 L667.96 324.76 L670.35 324.39 L672.77 324.02 L675.21 323.64 L677.69 323.26 L680.19 322.87 L682.72 322.48 L685.27 322.08 L687.86 321.68 L690.48 321.27 L693.12 320.86 L695.8 320.45 L698.51 320.03 L701.24 319.61 L704.01 319.18 L706.81 318.74 L709.65 318.3 L712.51 317.86 L715.41 317.41 L718.34 316.96 L721.3 316.5 L724.3 316.03 L727.33 315.56 L730.4 315.09 L733.5 314.61 L736.63 314.12 L739.8 313.63 L743.01 313.13 L746.26 312.63 L749.54 312.12 L752.86 311.6 L756.22 311.08 L759.61 310.56 L763.04 310.02 L766.52 309.49 L770.03 308.94 L773.58 308.39 L777.18 307.83 L780.81 307.27 L784.49 306.7 L788.2 306.12 L791.96 305.54 L795.77 304.95 L799.61 304.35 L803.5 303.75 L807.44 303.14 L811.41 302.52 L815.44 301.9 L819.51 301.27 L823.63 300.63 L827.79 299.98 L832 299.33 L836.26 298.67 L840.57 298 L844.92 297.33 L849.33 296.64 L853.79 295.95 L858.3 295.25 L862.85 294.55 L867.47 293.83 L872.13 293.11 L876.85 292.38 L881.62 291.64 L886.44 290.89 L891.32 290.13 L896.26 289.36 L901.25 288.59 L906.3 287.81 L911.41 287.02 L916.57 286.21 L921.79 285.4 L927.08 284.58 L932.42 283.76 L937.82 282.92 L943.29 282.07 L948.82 281.21 L954.41 280.34 L960.07 279.47 L965.79 278.58 L971.57 277.68 L977.42 276.78 L983.34 275.86 L989.32 274.93 L995.38 273.99 L1001.5 273.04 L1007.69 272.08 L1013.96 271.11 L1020.29 270.13 L1026.7 269.13 L1033.18 268.13 L1039.73 267.11 L1046.36 266.08 L1053.06 265.04 L1059.84 263.99 L1066.7 262.93 L1073.64 261.85 L1080.65 260.76 L1087.75 259.66 L1094.93 258.55 L1102.18 257.42 L1109.52 256.28 L1116.95 255.13 L1124.46 253.97 L1132.05 252.79 L1139.74 251.6 L1147.51 250.39 L1155.36 249.17 L1163.31 247.94 L1171.35 246.69 L1179.48 245.43 L1187.7 244.16 L1196.02 242.87 L1204.43 241.56 L1212.94 240.24 L1221.54 238.91 L1230.25 237.56 L1239.05 236.19 L1247.95 234.81 L1256.95 233.41 M524.76 346.9 L525.53 346.73 L526.3 346.55 L527.09 346.38 L527.88 346.2 L528.68 346.02 L529.49 345.83 L530.31 345.65 L531.14 345.46 L531.97 345.27 L532.82 345.08 L533.68 344.89 L534.54 344.69 L535.41 344.49 L536.3 344.29 L537.19 344.09 L538.1 343.89 L539.01 343.68 L539.93 343.47 L540.87 343.26 L541.81 343.05 L542.76 342.83 L543.73 342.61 L544.7 342.39 L545.69 342.16 L546.69 341.94 L547.7 341.71 L548.72 341.48 L549.75 341.24 L550.79 341 L551.84 340.76 L552.91 340.52 L553.99 340.28 L555.08 340.03 L556.18 339.78 L557.29 339.52 L558.42 339.27 L559.56 339.01 L560.71 338.74 L561.87 338.48 L563.05 338.21 L564.24 337.94 L565.45 337.66 L566.66 337.38 L567.89 337.1 L569.14 336.82 L570.4 336.53 L571.67 336.24 L572.96 335.94 L574.26 335.65 L575.58 335.35 L576.91 335.04 L578.25 334.73 L579.62 334.42 L580.99 334.11 L582.38 333.79 L583.79 333.47 L585.22 333.14 L586.65 332.81 L588.11 332.48 L589.58 332.14 L591.07 331.8 L592.58 331.45 L594.1 331.1 L595.64 330.75 L597.2 330.4 L598.77 330.03 L600.36 329.67 L601.97 329.3 L603.6 328.93 L605.25 328.55 L606.91 328.17 L608.6 327.78 L610.3 327.39 L612.02 326.99 L613.76 326.59 L615.53 326.19 L617.31 325.78 L619.11 325.37 L620.93 324.95 L622.77 324.53 L624.64 324.1 L626.52 323.66 L628.43 323.23 L630.36 322.78 L632.31 322.34 L634.28 321.88 L636.27 321.42 L638.29 320.96 L640.33 320.49 L642.39 320.02 L644.47 319.54 L646.58 319.05 L648.72 318.56 L650.87 318.07 L653.06 317.57 L655.26 317.06 L657.49 316.55 L659.75 316.03 L662.03 315.5 L664.34 314.97 L666.68 314.43 L669.04 313.89 L671.43 313.34 L673.84 312.79 L676.29 312.22 L678.76 311.66 L681.25 311.08 L683.78 310.5 L686.34 309.91 L688.92 309.32 L691.53 308.71 L694.18 308.11 L696.85 307.49 L699.56 306.87 L702.29 306.24 L705.06 305.6 L707.85 304.96 L710.68 304.31 L713.54 303.65 L716.44 302.98 L719.36 302.31 L722.32 301.63 L725.32 300.94 L728.35 300.24 L731.41 299.54 L734.51 298.82 L737.64 298.1 L740.81 297.37 L744.01 296.63 L747.25 295.89 L750.53 295.13 L753.84 294.37 L757.19 293.6 L760.58 292.82 L764.01 292.03 L767.48 291.23 L770.99 290.42 L774.54 289.6 L778.12 288.78 L781.75 287.94 L785.42 287.09 L789.14 286.24 L792.89 285.37 L796.69 284.5 L800.53 283.61 L804.41 282.72 L808.34 281.81 L812.31 280.9 L816.33 279.97 L820.39 279.04 L824.5 278.09 L828.66 277.13 L832.86 276.16 L837.12 275.18 L841.42 274.19 L845.77 273.19 L850.17 272.18 L854.62 271.15 L859.12 270.11 L863.67 269.06 L868.27 268 L872.93 266.93 L877.63 265.85 L882.4 264.75 L887.21 263.64 L892.09 262.52 L897.01 261.38 L902 260.23 L907.04 259.07 L912.13 257.89 L917.29 256.71 L922.5 255.5 L927.78 254.29 L933.11 253.06 L938.51 251.82 L943.96 250.56 L949.48 249.29 L955.06 248 L960.71 246.7 L966.42 245.38 L972.19 244.05 L978.03 242.7 L983.94 241.34 L989.91 239.97 L995.95 238.57 L1002.06 237.16 L1008.25 235.74 L1014.5 234.3 L1020.82 232.84 L1027.21 231.37 L1033.68 229.88 L1040.22 228.37 L1046.84 226.84 L1053.53 225.3 L1060.3 223.74 L1067.14 222.16 L1074.07 220.56 L1081.07 218.95 L1088.15 217.32 L1095.31 215.67 L1102.56 214 L1109.88 212.31 L1117.29 210.6 L1124.79 208.87 L1132.37 207.12 L1140.04 205.35 L1147.79 203.57 L1155.63 201.76 L1163.56 199.93 L1171.59 198.08 L1179.7 196.21 L1187.91 194.32 L1196.21 192.4 L1204.6 190.47 L1213.09 188.51 L1221.68 186.53 L1230.37 184.53 L1239.15 182.5 L1248.04 180.45 M524.76 346.9 L525.53 346.67 L526.3 346.44 L527.09 346.21 L527.88 345.97 L528.68 345.74 L529.49 345.49 L530.3 345.25 L531.13 345 L531.96 344.76 L532.81 344.5 L533.66 344.25 L534.52 343.99 L535.39 343.73 L536.27 343.47 L537.16 343.2 L538.06 342.93 L538.96 342.66 L539.88 342.38 L540.81 342.1 L541.75 341.82 L542.7 341.53 L543.65 341.24 L544.62 340.95 L545.6 340.66 L546.59 340.36 L547.59 340.06 L548.6 339.75 L549.62 339.44 L550.66 339.13 L551.7 338.81 L552.76 338.49 L553.83 338.17 L554.91 337.84 L556 337.51 L557.1 337.18 L558.21 336.84 L559.34 336.49 L560.48 336.15 L561.63 335.8 L562.8 335.44 L563.98 335.08 L565.17 334.72 L566.37 334.36 L567.59 333.99 L568.82 333.61 L570.06 333.23 L571.32 332.85 L572.59 332.46 L573.88 332.07 L575.18 331.67 L576.49 331.27 L577.82 330.86 L579.17 330.45 L580.52 330.04 L581.9 329.62 L583.29 329.19 L584.69 328.76 L586.11 328.33 L587.55 327.89 L589 327.44 L590.47 326.99 L591.95 326.54 L593.45 326.08 L594.97 325.61 L596.51 325.14 L598.06 324.67 L599.63 324.19 L601.21 323.7 L602.82 323.21 L604.44 322.71 L606.08 322.21 L607.74 321.7 L609.42 321.18 L611.12 320.66 L612.83 320.13 L614.57 319.6 L616.32 319.06 L618.09 318.52 L619.89 317.96 L621.7 317.41 L623.54 316.84 L625.39 316.27 L627.27 315.69 L629.17 315.11 L631.08 314.52 L633.02 313.92 L634.99 313.32 L636.97 312.71 L638.98 312.09 L641.01 311.47 L643.06 310.83 L645.13 310.19 L647.23 309.55 L649.35 308.89 L651.5 308.23 L653.67 307.56 L655.86 306.89 L658.08 306.2 L660.33 305.51 L662.6 304.81 L664.89 304.1 L667.21 303.39 L669.56 302.66 L671.94 301.93 L674.34 301.19 L676.77 300.44 L679.22 299.68 L681.71 298.92 L684.22 298.14 L686.76 297.36 L689.33 296.56 L691.92 295.76 L694.55 294.95 L697.21 294.13 L699.9 293.3 L702.61 292.46 L705.36 291.61 L708.14 290.75 L710.95 289.89 L713.8 289.01 L716.67 288.12 L719.58 287.22 L722.52 286.31 L725.5 285.39 L728.5 284.46 L731.55 283.52 L734.62 282.57 L737.74 281.61 L740.88 280.64 L744.07 279.66 L747.28 278.66 L750.54 277.65 L753.83 276.64 L757.16 275.61 L760.53 274.57 L763.94 273.51 L767.38 272.45 L770.86 271.37 L774.39 270.28 L777.95 269.18 L781.55 268.06 L785.2 266.94 L788.89 265.8 L792.61 264.64 L796.38 263.48 L800.2 262.3 L804.05 261.11 L807.95 259.9 L811.9 258.68 L815.89 257.44 L819.92 256.2 L824.01 254.93 L828.13 253.66 L832.31 252.36 L836.53 251.06 L840.8 249.74 L845.12 248.4 L849.49 247.05 L853.9 245.68 L858.37 244.3 L862.89 242.9 L867.46 241.49 L872.08 240.06 L876.76 238.61 L881.49 237.15 L886.27 235.67 L891.1 234.17 L896 232.65 L900.94 231.12 L905.95 229.57 L911.01 228.01 L916.12 226.42 L921.3 224.82 L926.54 223.2 L931.83 221.56 L937.18 219.9 L942.6 218.23 L948.08 216.53 L953.62 214.82 L959.22 213.08 L964.89 211.33 L970.62 209.55 L976.42 207.76 L982.28 205.94 L988.21 204.11 L994.21 202.25 L1000.27 200.37 L1006.41 198.47 L1012.61 196.55 L1018.89 194.61 L1025.24 192.64 L1031.66 190.65 L1038.15 188.64 L1044.72 186.61 L1051.36 184.55 L1058.07 182.47 L1064.87 180.37 L1071.74 178.24 L1078.69 176.09 L1085.72 173.91 L1092.83 171.71 L1100.02 169.48 L1107.29 167.23 L1114.64 164.95 L1122.08 162.65 L1129.6 160.32 L1137.21 157.96 L1144.91 155.58 L1152.69 153.17 L1160.56 150.73 L1168.53 148.26 L1176.58 145.77 L1184.72 143.24 L1192.96 140.69 L1201.29 138.11 L1209.72 135.5 L1218.24 132.86 L1226.86 130.19 L1235.58 127.49 M524.76 346.9 L525.53 346.62 L526.3 346.33 L527.08 346.04 L527.87 345.75 L528.67 345.45 L529.48 345.16 L530.29 344.85 L531.12 344.55 L531.95 344.24 L532.79 343.92 L533.63 343.61 L534.49 343.29 L535.36 342.96 L536.23 342.64 L537.11 342.31 L538.01 341.97 L538.91 341.63 L539.82 341.29 L540.74 340.94 L541.67 340.59 L542.61 340.24 L543.56 339.88 L544.52 339.52 L545.49 339.15 L546.47 338.78 L547.46 338.4 L548.46 338.02 L549.47 337.64 L550.49 337.25 L551.52 336.86 L552.57 336.46 L553.62 336.06 L554.69 335.65 L555.76 335.24 L556.85 334.83 L557.95 334.41 L559.07 333.98 L560.19 333.55 L561.33 333.12 L562.48 332.68 L563.64 332.23 L564.81 331.78 L566 331.33 L567.2 330.87 L568.41 330.4 L569.63 329.93 L570.87 329.46 L572.12 328.97 L573.39 328.49 L574.67 327.99 L575.96 327.5 L577.27 326.99 L578.59 326.48 L579.92 325.97 L581.27 325.44 L582.64 324.92 L584.02 324.38 L585.42 323.84 L586.83 323.3 L588.25 322.75 L589.69 322.19 L591.15 321.62 L592.63 321.05 L594.12 320.48 L595.62 319.89 L597.15 319.3 L598.69 318.7 L600.24 318.1 L601.82 317.49 L603.41 316.87 L605.02 316.24 L606.64 315.61 L608.29 314.97 L609.95 314.33 L611.63 313.67 L613.33 313.01 L615.05 312.34 L616.79 311.66 L618.55 310.98 L620.33 310.29 L622.12 309.59 L623.94 308.88 L625.78 308.16 L627.64 307.44 L629.51 306.7 L631.41 305.96 L633.33 305.21 L635.28 304.45 L637.24 303.69 L639.23 302.91 L641.23 302.13 L643.27 301.33 L645.32 300.53 L647.39 299.72 L649.49 298.9 L651.62 298.07 L653.76 297.23 L655.94 296.38 L658.13 295.52 L660.35 294.65 L662.6 293.77 L664.87 292.88 L667.16 291.99 L669.48 291.08 L671.83 290.16 L674.2 289.23 L676.61 288.29 L679.03 287.33 L681.49 286.37 L683.97 285.4 L686.48 284.41 L689.02 283.42 L691.59 282.41 L694.19 281.39 L696.81 280.36 L699.47 279.32 L702.15 278.27 L704.87 277.2 L707.61 276.12 L710.39 275.03 L713.2 273.93 L716.04 272.82 L718.91 271.69 L721.82 270.55 L724.76 269.39 L727.73 268.23 L730.73 267.05 L733.77 265.85 L736.85 264.65 L739.95 263.42 L743.1 262.19 L746.28 260.94 L749.49 259.68 L752.74 258.4 L756.03 257.11 L759.35 255.8 L762.72 254.48 L766.12 253.14 L769.56 251.79 L773.04 250.42 L776.55 249.04 L780.11 247.64 L783.71 246.22 L787.35 244.79 L791.03 243.34 L794.75 241.88 L798.52 240.4 L802.32 238.9 L806.17 237.38 L810.07 235.85 L814 234.3 L817.99 232.73 L822.01 231.15 L826.09 229.55 L830.21 227.92 L834.37 226.28 L838.59 224.62 L842.85 222.95 L847.16 221.25 L851.52 219.53 L855.93 217.8 L860.39 216.04 L864.9 214.27 L869.46 212.47 L874.07 210.65 L878.74 208.82 L883.45 206.96 L888.23 205.08 L893.05 203.18 L897.93 201.25 L902.87 199.31 L907.86 197.34 L912.91 195.35 L918.02 193.34 L923.18 191.31 L928.41 189.25 L933.69 187.17 L939.03 185.06 L944.44 182.93 L949.9 180.78 L955.43 178.6 L961.02 176.4 L966.68 174.17 L972.39 171.92 L978.18 169.64 L984.03 167.33 L989.94 165 L995.93 162.64 L1001.98 160.26 L1008.1 157.84 L1014.29 155.4 L1020.55 152.94 L1026.88 150.44 L1033.29 147.92 L1039.76 145.36 L1046.31 142.78 L1052.94 140.17 L1059.64 137.53 L1066.42 134.86 L1073.27 132.15 L1080.2 129.42 L1087.21 126.66 L1094.31 123.86 L1101.48 121.03 L1108.73 118.17 L1116.07 115.28 L1123.49 112.35 L1130.99 109.4 L1138.58 106.4 L1146.26 103.38 L1154.02 100.31 L1161.88 97.22 L1169.82 94.09 L1177.85 90.92 L1185.97 87.72 L1194.19 84.48 L1202.5 81.2 L1210.91 77.88 L1219.41 74.53 M524.76 346.9 L525.53 346.56 L526.3 346.22 L527.08 345.88 L527.87 345.53 L528.67 345.17 L529.47 344.82 L530.28 344.46 L531.1 344.09 L531.93 343.72 L532.76 343.35 L533.6 342.97 L534.46 342.59 L535.31 342.2 L536.18 341.81 L537.06 341.41 L537.94 341.01 L538.84 340.61 L539.74 340.2 L540.65 339.78 L541.57 339.37 L542.5 338.94 L543.44 338.51 L544.39 338.08 L545.35 337.64 L546.32 337.2 L547.29 336.75 L548.28 336.3 L549.28 335.84 L550.29 335.38 L551.3 334.91 L552.33 334.43 L553.37 333.95 L554.42 333.47 L555.48 332.98 L556.55 332.48 L557.64 331.98 L558.73 331.47 L559.84 330.96 L560.95 330.44 L562.08 329.91 L563.22 329.38 L564.37 328.84 L565.54 328.3 L566.72 327.75 L567.91 327.19 L569.11 326.63 L570.32 326.06 L571.55 325.49 L572.79 324.91 L574.04 324.32 L575.31 323.72 L576.59 323.12 L577.88 322.51 L579.19 321.9 L580.51 321.27 L581.85 320.64 L583.2 320.01 L584.57 319.36 L585.94 318.71 L587.34 318.05 L588.75 317.38 L590.17 316.71 L591.61 316.03 L593.07 315.34 L594.54 314.64 L596.03 313.93 L597.53 313.22 L599.05 312.5 L600.59 311.77 L602.14 311.03 L603.71 310.28 L605.3 309.53 L606.9 308.76 L608.53 307.99 L610.16 307.21 L611.82 306.42 L613.5 305.62 L615.19 304.81 L616.91 303.99 L618.64 303.17 L620.39 302.33 L622.16 301.48 L623.95 300.63 L625.76 299.76 L627.59 298.89 L629.44 298 L631.31 297.11 L633.2 296.2 L635.11 295.29 L637.04 294.36 L638.99 293.42 L640.97 292.47 L642.97 291.52 L644.99 290.55 L647.03 289.57 L649.09 288.57 L651.18 287.57 L653.29 286.56 L655.43 285.53 L657.59 284.49 L659.77 283.44 L661.98 282.38 L664.21 281.31 L666.46 280.22 L668.74 279.12 L671.05 278.01 L673.38 276.89 L675.74 275.75 L678.13 274.6 L680.54 273.44 L682.98 272.26 L685.44 271.08 L687.94 269.87 L690.46 268.66 L693.01 267.43 L695.59 266.18 L698.19 264.92 L700.83 263.65 L703.49 262.36 L706.19 261.06 L708.92 259.74 L711.67 258.41 L714.46 257.06 L717.28 255.7 L720.13 254.32 L723.01 252.93 L725.93 251.52 L728.88 250.09 L731.86 248.65 L734.87 247.19 L737.92 245.72 L741.01 244.23 L744.13 242.72 L747.28 241.19 L750.47 239.65 L753.69 238.08 L756.95 236.51 L760.25 234.91 L763.59 233.29 L766.96 231.66 L770.37 230.01 L773.82 228.33 L777.31 226.64 L780.84 224.93 L784.4 223.21 L788.01 221.46 L791.66 219.69 L795.35 217.9 L799.08 216.09 L802.86 214.26 L806.67 212.41 L810.53 210.54 L814.44 208.64 L818.38 206.73 L822.38 204.79 L826.42 202.83 L830.5 200.85 L834.63 198.84 L838.81 196.82 L843.03 194.77 L847.3 192.69 L851.62 190.6 L855.99 188.48 L860.41 186.33 L864.88 184.16 L869.4 181.97 L873.97 179.75 L878.59 177.5 L883.27 175.23 L887.99 172.93 L892.78 170.61 L897.61 168.26 L902.5 165.89 L907.45 163.48 L912.45 161.05 L917.51 158.6 L922.63 156.11 L927.81 153.59 L933.04 151.05 L938.33 148.48 L943.69 145.88 L949.1 143.25 L954.58 140.58 L960.11 137.89 L965.72 135.17 L971.38 132.42 L977.11 129.63 L982.9 126.81 L988.76 123.97 L994.69 121.08 L1000.69 118.17 L1006.75 115.22 L1012.88 112.24 L1019.08 109.23 L1025.35 106.18 L1031.69 103.09 L1038.11 99.97 L1044.6 96.82 L1051.16 93.63 L1057.8 90.4 L1064.51 87.13 L1071.3 83.83 L1078.16 80.49 L1085.11 77.11 L1092.13 73.7 L1099.23 70.24 L1106.42 66.75 L1113.68 63.21 L1121.03 59.64 L1128.46 56.02 L1135.98 52.37 L1143.58 48.67 L1151.27 44.93 L1159.05 41.14 L1166.91 37.32 L1174.86 33.45 L1182.91 29.53 L1191.05 25.57 L1199.27 21.57 M524.76 346.9 L525.53 346.51 L526.3 346.11 L527.08 345.71 L527.87 345.3 L528.66 344.89 L529.46 344.48 L530.27 344.06 L531.08 343.63 L531.9 343.2 L532.73 342.77 L533.57 342.33 L534.41 341.88 L535.27 341.43 L536.13 340.98 L536.99 340.52 L537.87 340.05 L538.76 339.58 L539.65 339.11 L540.55 338.63 L541.46 338.14 L542.38 337.65 L543.3 337.15 L544.24 336.65 L545.18 336.14 L546.14 335.62 L547.1 335.1 L548.07 334.57 L549.05 334.04 L550.04 333.5 L551.05 332.95 L552.06 332.4 L553.08 331.85 L554.11 331.28 L555.15 330.71 L556.2 330.13 L557.26 329.55 L558.33 328.96 L559.42 328.36 L560.51 327.76 L561.62 327.15 L562.73 326.53 L563.86 325.9 L565 325.27 L566.15 324.63 L567.31 323.99 L568.49 323.33 L569.67 322.67 L570.87 322 L572.08 321.33 L573.3 320.64 L574.54 319.95 L575.79 319.25 L577.05 318.54 L578.32 317.83 L579.61 317.1 L580.91 316.37 L582.23 315.63 L583.56 314.88 L584.9 314.12 L586.26 313.35 L587.63 312.58 L589.01 311.79 L590.41 311 L591.83 310.2 L593.26 309.39 L594.7 308.57 L596.16 307.74 L597.64 306.9 L599.13 306.05 L600.64 305.19 L602.16 304.32 L603.7 303.44 L605.26 302.56 L606.83 301.66 L608.42 300.75 L610.02 299.83 L611.65 298.9 L613.29 297.96 L614.95 297.01 L616.63 296.05 L618.32 295.08 L620.04 294.09 L621.77 293.1 L623.52 292.09 L625.29 291.07 L627.08 290.04 L628.89 289 L630.72 287.95 L632.56 286.88 L634.43 285.81 L636.32 284.72 L638.23 283.61 L640.16 282.5 L642.11 281.37 L644.09 280.23 L646.08 279.08 L648.1 277.91 L650.14 276.73 L652.2 275.54 L654.28 274.33 L656.39 273.11 L658.52 271.88 L660.67 270.63 L662.85 269.37 L665.05 268.09 L667.28 266.8 L669.53 265.49 L671.8 264.17 L674.1 262.83 L676.43 261.48 L678.78 260.11 L681.16 258.73 L683.56 257.33 L685.99 255.92 L688.45 254.49 L690.93 253.04 L693.45 251.58 L695.99 250.1 L698.55 248.6 L701.15 247.09 L703.78 245.55 L706.43 244.01 L709.12 242.44 L711.83 240.85 L714.58 239.25 L717.36 237.63 L720.16 235.99 L723 234.33 L725.87 232.66 L728.77 230.96 L731.71 229.25 L734.68 227.51 L737.68 225.76 L740.71 223.98 L743.78 222.19 L746.88 220.37 L750.02 218.53 L753.19 216.68 L756.4 214.8 L759.65 212.9 L762.93 210.98 L766.25 209.03 L769.6 207.07 L773 205.08 L776.43 203.07 L779.9 201.04 L783.41 198.98 L786.95 196.9 L790.54 194.79 L794.17 192.67 L797.84 190.51 L801.55 188.34 L805.3 186.13 L809.1 183.91 L812.94 181.66 L816.82 179.38 L820.74 177.07 L824.71 174.74 L828.73 172.39 L832.79 170 L836.89 167.59 L841.04 165.15 L845.24 162.69 L849.49 160.19 L853.78 157.67 L858.13 155.12 L862.52 152.54 L866.96 149.93 L871.45 147.29 L875.99 144.61 L880.59 141.91 L885.23 139.18 L889.93 136.42 L894.68 133.63 L899.49 130.8 L904.35 127.94 L909.26 125.05 L914.23 122.13 L919.26 119.17 L924.34 116.18 L929.49 113.15 L934.69 110.09 L939.95 107 L945.26 103.87 L950.64 100.7 L956.08 97.5 L961.58 94.26 L967.15 90.99 L972.77 87.67 L978.47 84.32 L984.22 80.93 L990.04 77.51 L995.93 74.04 L1001.88 70.53 L1007.9 66.99 L1013.99 63.4 L1020.15 59.77 L1026.38 56.11 L1032.68 52.39 L1039.05 48.64 L1045.5 44.85 L1052.01 41.01 L1058.6 37.12 L1065.27 33.2 L1072.01 29.22 L1078.83 25.21 L1085.73 21.14 L1092.7 17.03 L1099.75 12.88 L1106.89 8.67 L1114.1 4.42 L1121.4 0.12 L1128.78 -4.23 L1136.24 -8.63 L1143.79 -13.08 L1151.42 -17.58 L1159.15 -22.13 L1166.95 -26.73 L1174.85 -31.39 M524.76 346.9 L525.53 346.45 L526.3 346 L527.08 345.54 L527.86 345.08 L528.65 344.61 L529.45 344.14 L530.25 343.66 L531.06 343.17 L531.88 342.68 L532.7 342.19 L533.53 341.69 L534.37 341.18 L535.21 340.67 L536.06 340.15 L536.92 339.63 L537.79 339.1 L538.66 338.56 L539.54 338.02 L540.43 337.47 L541.33 336.91 L542.23 336.35 L543.14 335.78 L544.06 335.21 L544.99 334.63 L545.93 334.04 L546.88 333.45 L547.83 332.85 L548.79 332.24 L549.77 331.62 L550.75 331 L551.74 330.37 L552.74 329.74 L553.75 329.09 L554.76 328.44 L555.79 327.79 L556.83 327.12 L557.88 326.45 L558.93 325.77 L560 325.08 L561.08 324.38 L562.17 323.68 L563.26 322.96 L564.37 322.24 L565.49 321.52 L566.62 320.78 L567.77 320.03 L568.92 319.28 L570.08 318.52 L571.26 317.75 L572.45 316.97 L573.65 316.18 L574.86 315.38 L576.08 314.57 L577.32 313.75 L578.57 312.93 L579.83 312.09 L581.1 311.25 L582.39 310.4 L583.68 309.53 L585 308.66 L586.32 307.77 L587.66 306.88 L589.02 305.98 L590.38 305.06 L591.76 304.14 L593.16 303.2 L594.57 302.26 L595.99 301.3 L597.43 300.33 L598.88 299.35 L600.35 298.36 L601.84 297.36 L603.34 296.35 L604.85 295.32 L606.38 294.29 L607.93 293.24 L609.49 292.18 L611.07 291.11 L612.67 290.03 L614.28 288.93 L615.91 287.82 L617.56 286.7 L619.22 285.56 L620.91 284.42 L622.61 283.26 L624.33 282.08 L626.06 280.9 L627.82 279.7 L629.59 278.48 L631.39 277.25 L633.2 276.01 L635.03 274.75 L636.88 273.48 L638.75 272.2 L640.64 270.9 L642.55 269.58 L644.49 268.25 L646.44 266.91 L648.41 265.55 L650.41 264.17 L652.43 262.78 L654.47 261.38 L656.53 259.95 L658.61 258.51 L660.72 257.06 L662.85 255.58 L665 254.09 L667.18 252.59 L669.38 251.06 L671.6 249.52 L673.85 247.96 L676.12 246.39 L678.42 244.79 L680.74 243.18 L683.09 241.55 L685.46 239.9 L687.86 238.23 L690.29 236.55 L692.74 234.84 L695.22 233.11 L697.73 231.37 L700.26 229.6 L702.83 227.81 L705.42 226.01 L708.04 224.18 L710.69 222.33 L713.37 220.47 L716.07 218.58 L718.81 216.66 L721.58 214.73 L724.38 212.77 L727.21 210.8 L730.07 208.8 L732.96 206.77 L735.89 204.73 L738.85 202.66 L741.84 200.56 L744.86 198.45 L747.92 196.3 L751.01 194.14 L754.14 191.95 L757.3 189.73 L760.49 187.49 L763.73 185.23 L767 182.93 L770.3 180.61 L773.64 178.27 L777.02 175.9 L780.44 173.5 L783.89 171.07 L787.39 168.62 L790.92 166.14 L794.49 163.63 L798.1 161.09 L801.76 158.52 L805.45 155.92 L809.19 153.3 L812.96 150.64 L816.78 147.95 L820.65 145.24 L824.55 142.49 L828.5 139.71 L832.5 136.9 L836.53 134.05 L840.62 131.18 L844.75 128.27 L848.93 125.32 L853.15 122.35 L857.42 119.34 L861.74 116.29 L866.11 113.22 L870.53 110.1 L875 106.95 L879.52 103.77 L884.08 100.55 L888.7 97.29 L893.38 93.99 L898.1 90.66 L902.88 87.29 L907.71 83.88 L912.6 80.43 L917.54 76.94 L922.54 73.41 L927.6 69.84 L932.71 66.23 L937.88 62.58 L943.11 58.89 L948.39 55.16 L953.74 51.38 L959.15 47.56 L964.62 43.7 L970.15 39.79 L975.74 35.84 L981.4 31.84 L987.12 27.8 L992.91 23.71 L998.76 19.58 L1004.67 15.39 L1010.66 11.16 L1016.71 6.89 L1022.83 2.56 L1029.02 -1.82 L1035.28 -6.25 L1041.61 -10.72 L1048.02 -15.25 L1054.49 -19.83 L1061.04 -24.46 L1067.67 -29.15 L1074.37 -33.89 L1081.14 -38.68 L1087.99 -43.53 L1094.92 -48.43 L1101.93 -53.39 L1109.02 -58.4 L1116.19 -63.48 L1123.44 -68.61 L1130.77 -73.79 L1138.18 -79.04 L1145.68 -84.35 M524.76 346.9 L525.53 346.4 L526.3 345.89 L527.07 345.38 L527.85 344.86 L528.64 344.33 L529.43 343.8 L530.23 343.26 L531.04 342.72 L531.85 342.17 L532.66 341.61 L533.49 341.05 L534.31 340.48 L535.15 339.9 L535.99 339.32 L536.84 338.73 L537.69 338.14 L538.55 337.53 L539.42 336.93 L540.3 336.31 L541.18 335.69 L542.07 335.06 L542.96 334.42 L543.87 333.77 L544.78 333.12 L545.7 332.46 L546.62 331.8 L547.56 331.12 L548.5 330.44 L549.45 329.75 L550.41 329.05 L551.38 328.34 L552.35 327.63 L553.33 326.91 L554.33 326.18 L555.33 325.44 L556.34 324.69 L557.36 323.94 L558.38 323.17 L559.42 322.4 L560.47 321.62 L561.52 320.83 L562.59 320.03 L563.66 319.22 L564.75 318.4 L565.84 317.57 L566.95 316.73 L568.06 315.89 L569.19 315.03 L570.32 314.16 L571.47 313.29 L572.63 312.4 L573.8 311.51 L574.98 310.6 L576.17 309.68 L577.37 308.76 L578.59 307.82 L579.81 306.87 L581.05 305.91 L582.3 304.94 L583.56 303.96 L584.83 302.97 L586.12 301.97 L587.42 300.95 L588.73 299.92 L590.05 298.89 L591.39 297.84 L592.74 296.77 L594.11 295.7 L595.49 294.61 L596.88 293.51 L598.28 292.4 L599.7 291.28 L601.14 290.14 L602.58 288.99 L604.05 287.83 L605.52 286.65 L607.02 285.46 L608.52 284.26 L610.05 283.04 L611.59 281.81 L613.14 280.56 L614.71 279.31 L616.3 278.03 L617.9 276.74 L619.52 275.44 L621.16 274.12 L622.81 272.79 L624.48 271.44 L626.17 270.08 L627.87 268.7 L629.6 267.3 L631.34 265.89 L633.1 264.47 L634.87 263.02 L636.67 261.57 L638.48 260.09 L640.32 258.6 L642.17 257.09 L644.04 255.56 L645.94 254.01 L647.85 252.45 L649.78 250.87 L651.74 249.27 L653.71 247.66 L655.71 246.02 L657.72 244.37 L659.76 242.7 L661.82 241.01 L663.9 239.29 L666.01 237.56 L668.13 235.81 L670.28 234.04 L672.45 232.25 L674.65 230.44 L676.87 228.61 L679.11 226.76 L681.38 224.89 L683.67 222.99 L685.99 221.08 L688.33 219.14 L690.7 217.18 L693.09 215.2 L695.51 213.19 L697.96 211.16 L700.43 209.11 L702.93 207.04 L705.46 204.94 L708.01 202.82 L710.59 200.67 L713.2 198.5 L715.84 196.3 L718.51 194.08 L721.2 191.84 L723.93 189.56 L726.69 187.27 L729.47 184.94 L732.29 182.59 L735.14 180.21 L738.02 177.81 L740.93 175.38 L743.87 172.92 L746.85 170.43 L749.85 167.92 L752.9 165.37 L755.97 162.8 L759.08 160.19 L762.22 157.56 L765.4 154.9 L768.61 152.2 L771.86 149.48 L775.15 146.73 L778.47 143.94 L781.83 141.12 L785.22 138.27 L788.66 135.39 L792.13 132.47 L795.64 129.52 L799.19 126.54 L802.78 123.52 L806.41 120.47 L810.08 117.38 L813.79 114.26 L817.54 111.11 L821.33 107.91 L825.17 104.68 L829.05 101.42 L832.97 98.11 L836.93 94.77 L840.94 91.39 L845 87.97 L849.1 84.52 L853.25 81.02 L857.44 77.49 L861.68 73.91 L865.97 70.29 L870.3 66.63 L874.68 62.93 L879.12 59.19 L883.6 55.4 L888.13 51.58 L892.72 47.7 L897.35 43.79 L902.04 39.82 L906.78 35.82 L911.58 31.77 L916.42 27.67 L921.33 23.52 L926.28 19.33 L931.3 15.09 L936.37 10.8 L941.49 6.46 L946.68 2.08 L951.92 -2.36 L957.22 -6.85 L962.59 -11.39 L968.01 -15.98 L973.49 -20.62 L979.04 -25.32 L984.65 -30.07 L990.32 -34.87 L996.05 -39.73 L1001.85 -44.64 L1007.72 -49.61 L1013.65 -54.64 L1019.65 -59.73 L1025.72 -64.87 L1031.85 -70.07 L1038.06 -75.33 L1044.33 -80.65 L1050.68 -86.03 L1057.1 -91.47 L1063.59 -96.98 L1070.15 -102.55 L1076.79 -108.18 L1083.51 -113.87 L1090.29 -119.63 L1097.16 -125.46 L1104.11 -131.35 L1111.13 -137.31 M524.76 346.9 L525.53 346.34 L526.3 345.78 L527.07 345.21 L527.85 344.63 L528.63 344.05 L529.42 343.46 L530.21 342.86 L531.01 342.26 L531.81 341.65 L532.62 341.03 L533.44 340.41 L534.26 339.78 L535.08 339.14 L535.91 338.49 L536.75 337.84 L537.59 337.18 L538.43 336.51 L539.29 335.83 L540.15 335.15 L541.01 334.46 L541.88 333.76 L542.76 333.05 L543.65 332.34 L544.54 331.61 L545.44 330.88 L546.34 330.14 L547.25 329.39 L548.17 328.64 L549.1 327.87 L550.03 327.1 L550.97 326.31 L551.92 325.52 L552.87 324.72 L553.84 323.91 L554.81 323.09 L555.78 322.26 L556.77 321.42 L557.77 320.58 L558.77 319.72 L559.78 318.85 L560.8 317.97 L561.83 317.09 L562.86 316.19 L563.91 315.28 L564.96 314.36 L566.03 313.43 L567.1 312.5 L568.18 311.55 L569.27 310.58 L570.37 309.61 L571.48 308.63 L572.6 307.64 L573.73 306.63 L574.87 305.61 L576.03 304.59 L577.19 303.55 L578.36 302.49 L579.54 301.43 L580.73 300.35 L581.94 299.27 L583.15 298.16 L584.38 297.05 L585.61 295.92 L586.86 294.79 L588.12 293.63 L589.39 292.47 L590.68 291.29 L591.97 290.1 L593.28 288.89 L594.6 287.67 L595.94 286.44 L597.28 285.19 L598.64 283.93 L600.01 282.66 L601.4 281.37 L602.79 280.06 L604.21 278.74 L605.63 277.41 L607.07 276.06 L608.52 274.69 L609.99 273.31 L611.47 271.91 L612.97 270.5 L614.48 269.07 L616.01 267.62 L617.55 266.16 L619.1 264.68 L620.67 263.19 L622.26 261.68 L623.87 260.15 L625.49 258.6 L627.12 257.03 L628.77 255.45 L630.44 253.85 L632.13 252.23 L633.83 250.59 L635.55 248.94 L637.29 247.26 L639.04 245.57 L640.82 243.85 L642.61 242.12 L644.42 240.37 L646.25 238.6 L648.09 236.8 L649.96 234.99 L651.84 233.15 L653.75 231.3 L655.67 229.42 L657.62 227.53 L659.58 225.61 L661.57 223.66 L663.57 221.7 L665.6 219.72 L667.65 217.71 L669.72 215.68 L671.81 213.62 L673.92 211.54 L676.06 209.44 L678.22 207.31 L680.4 205.16 L682.6 202.99 L684.83 200.79 L687.08 198.57 L689.35 196.32 L691.65 194.04 L693.97 191.74 L696.32 189.41 L698.69 187.06 L701.09 184.68 L703.52 182.27 L705.97 179.83 L708.44 177.37 L710.95 174.88 L713.48 172.36 L716.03 169.81 L718.62 167.23 L721.23 164.62 L723.87 161.98 L726.54 159.32 L729.24 156.62 L731.96 153.89 L734.72 151.13 L737.51 148.34 L740.32 145.52 L743.17 142.66 L746.05 139.77 L748.96 136.85 L751.9 133.9 L754.87 130.91 L757.88 127.89 L760.91 124.83 L763.99 121.74 L767.09 118.61 L770.23 115.45 L773.4 112.25 L776.61 109.02 L779.86 105.75 L783.13 102.44 L786.45 99.09 L789.8 95.7 L793.19 92.28 L796.62 88.82 L800.08 85.32 L803.58 81.77 L807.12 78.19 L810.7 74.57 L814.32 70.9 L817.98 67.2 L821.68 63.45 L825.42 59.65 L829.2 55.82 L833.02 51.94 L836.89 48.02 L840.8 44.05 L844.75 40.04 L848.75 35.98 L852.79 31.87 L856.87 27.72 L861 23.52 L865.18 19.27 L869.4 14.98 L873.67 10.63 L877.99 6.24 L882.36 1.79 L886.77 -2.7 L891.24 -7.25 L895.75 -11.85 L900.31 -16.5 L904.93 -21.2 L909.6 -25.96 L914.32 -30.77 L919.09 -35.64 L923.91 -40.56 L928.79 -45.54 L933.72 -50.57 L938.71 -55.67 L943.76 -60.82 L948.86 -66.03 L954.02 -71.3 L959.24 -76.63 L964.51 -82.02 L969.85 -87.47 L975.24 -92.98 L980.69 -98.56 L986.21 -104.2 L991.79 -109.91 L997.43 -115.68 L1003.13 -121.51 L1008.9 -127.41 L1014.73 -133.38 L1020.63 -139.42 L1026.6 -145.53 L1032.63 -151.7 L1038.73 -157.95 L1044.9 -164.27 L1051.14 -170.66 L1057.45 -177.12 L1063.83 -183.66 L1070.28 -190.27 M524.76 346.9 L525.52 346.29 L526.29 345.67 L527.07 345.04 L527.84 344.41 L528.62 343.77 L529.4 343.12 L530.19 342.47 L530.98 341.8 L531.78 341.13 L532.58 340.45 L533.38 339.77 L534.19 339.07 L535 338.37 L535.82 337.66 L536.64 336.95 L537.47 336.22 L538.3 335.49 L539.14 334.74 L539.98 333.99 L540.83 333.23 L541.68 332.47 L542.54 331.69 L543.4 330.9 L544.27 330.11 L545.15 329.3 L546.03 328.49 L546.91 327.67 L547.81 326.84 L548.71 326 L549.61 325.15 L550.52 324.28 L551.44 323.41 L552.36 322.53 L553.29 321.64 L554.23 320.74 L555.17 319.83 L556.12 318.91 L557.08 317.98 L558.04 317.04 L559.02 316.09 L559.99 315.12 L560.98 314.15 L561.97 313.16 L562.97 312.16 L563.98 311.15 L565 310.13 L566.03 309.1 L567.06 308.06 L568.1 307 L569.15 305.94 L570.21 304.86 L571.27 303.77 L572.35 302.66 L573.43 301.54 L574.52 300.41 L575.62 299.27 L576.73 298.12 L577.85 296.95 L578.98 295.76 L580.12 294.57 L581.27 293.36 L582.42 292.14 L583.59 290.9 L584.77 289.65 L585.95 288.38 L587.15 287.1 L588.36 285.81 L589.58 284.5 L590.81 283.17 L592.05 281.83 L593.3 280.48 L594.56 279.11 L595.83 277.72 L597.12 276.32 L598.41 274.91 L599.72 273.47 L601.04 272.02 L602.37 270.55 L603.71 269.07 L605.07 267.57 L606.44 266.05 L607.82 264.52 L609.21 262.97 L610.61 261.4 L612.03 259.81 L613.47 258.2 L614.91 256.58 L616.37 254.94 L617.84 253.27 L619.33 251.59 L620.83 249.89 L622.34 248.17 L623.87 246.44 L625.42 244.68 L626.97 242.9 L628.55 241.1 L630.14 239.28 L631.74 237.44 L633.36 235.58 L634.99 233.7 L636.64 231.79 L638.31 229.87 L639.99 227.92 L641.69 225.95 L643.41 223.96 L645.14 221.94 L646.89 219.9 L648.66 217.84 L650.44 215.76 L652.25 213.65 L654.07 211.51 L655.91 209.36 L657.76 207.18 L659.64 204.97 L661.53 202.74 L663.45 200.48 L665.38 198.2 L667.33 195.89 L669.3 193.55 L671.29 191.19 L673.31 188.8 L675.34 186.39 L677.39 183.94 L679.47 181.47 L681.56 178.97 L683.68 176.44 L685.82 173.88 L687.98 171.3 L690.16 168.68 L692.37 166.04 L694.59 163.36 L696.84 160.65 L699.12 157.92 L701.42 155.15 L703.74 152.35 L706.09 149.51 L708.46 146.65 L710.85 143.75 L713.27 140.82 L715.72 137.86 L718.19 134.86 L720.69 131.83 L723.21 128.76 L725.76 125.66 L728.34 122.52 L730.94 119.35 L733.57 116.14 L736.23 112.9 L738.92 109.61 L741.64 106.29 L744.38 102.94 L747.16 99.54 L749.96 96.11 L752.8 92.63 L755.66 89.12 L758.56 85.56 L761.48 81.97 L764.44 78.33 L767.43 74.66 L770.45 70.94 L773.51 67.18 L776.59 63.37 L779.71 59.53 L782.87 55.63 L786.06 51.7 L789.28 47.72 L792.53 43.69 L795.83 39.62 L799.16 35.5 L802.52 31.34 L805.92 27.12 L809.36 22.86 L812.83 18.55 L816.35 14.19 L819.9 9.78 L823.49 5.32 L827.12 0.81 L830.78 -3.75 L834.49 -8.36 L838.24 -13.03 L842.03 -17.75 L845.87 -22.52 L849.74 -27.35 L853.66 -32.23 L857.62 -37.17 L861.62 -42.16 L865.67 -47.22 L869.76 -52.33 L873.89 -57.49 L878.08 -62.72 L882.3 -68.01 L886.58 -73.35 L890.9 -78.76 L895.27 -84.23 L899.69 -89.76 L904.16 -95.36 L908.67 -101.02 L913.24 -106.74 L917.86 -112.53 L922.52 -118.38 L927.24 -124.31 L932.02 -130.29 L936.84 -136.35 L941.72 -142.48 L946.65 -148.68 L951.64 -154.94 L956.69 -161.28 L961.79 -167.69 L966.94 -174.18 L972.16 -180.74 L977.43 -187.37 L982.76 -194.08 L988.15 -200.86 L993.6 -207.73 L999.11 -214.67 L1004.68 -221.69 L1010.32 -228.79 L1016.02 -235.97 L1021.78 -243.23 M524.76 346.9 L525.52 346.23 L526.29 345.56 L527.06 344.88 L527.83 344.19 L528.61 343.49 L529.39 342.78 L530.17 342.07 L530.95 341.34 L531.74 340.61 L532.53 339.88 L533.32 339.13 L534.12 338.37 L534.92 337.61 L535.72 336.83 L536.53 336.05 L537.34 335.26 L538.16 334.46 L538.98 333.65 L539.8 332.83 L540.63 332.01 L541.46 331.17 L542.3 330.32 L543.14 329.47 L543.98 328.6 L544.83 327.72 L545.68 326.84 L546.54 325.94 L547.41 325.04 L548.27 324.12 L549.15 323.19 L550.03 322.26 L550.91 321.31 L551.8 320.35 L552.69 319.38 L553.59 318.4 L554.5 317.4 L555.41 316.4 L556.32 315.39 L557.25 314.36 L558.17 313.32 L559.11 312.27 L560.05 311.21 L560.99 310.13 L561.94 309.05 L562.9 307.95 L563.87 306.84 L564.84 305.71 L565.82 304.57 L566.8 303.42 L567.79 302.26 L568.79 301.08 L569.8 299.89 L570.81 298.69 L571.83 297.47 L572.85 296.24 L573.89 295 L574.93 293.74 L575.98 292.46 L577.03 291.18 L578.1 289.87 L579.17 288.55 L580.25 287.22 L581.34 285.87 L582.44 284.51 L583.54 283.13 L584.66 281.74 L585.78 280.33 L586.91 278.9 L588.05 277.46 L589.2 276 L590.35 274.52 L591.52 273.03 L592.69 271.52 L593.88 269.99 L595.07 268.44 L596.28 266.88 L597.49 265.3 L598.72 263.7 L599.95 262.09 L601.19 260.45 L602.45 258.8 L603.71 257.13 L604.99 255.43 L606.27 253.72 L607.57 251.99 L608.87 250.24 L610.19 248.47 L611.52 246.68 L612.86 244.87 L614.21 243.04 L615.58 241.19 L616.95 239.31 L618.34 237.42 L619.74 235.5 L621.15 233.56 L622.57 231.6 L624.01 229.62 L625.46 227.62 L626.92 225.59 L628.4 223.54 L629.88 221.46 L631.39 219.36 L632.9 217.24 L634.43 215.09 L635.97 212.92 L637.53 210.73 L639.1 208.51 L640.68 206.26 L642.28 203.99 L643.89 201.69 L645.52 199.36 L647.16 197.01 L648.82 194.64 L650.49 192.23 L652.18 189.8 L653.89 187.34 L655.61 184.85 L657.35 182.34 L659.1 179.79 L660.87 177.22 L662.66 174.61 L664.46 171.98 L666.28 169.32 L668.12 166.62 L669.98 163.9 L671.85 161.14 L673.74 158.36 L675.65 155.54 L677.58 152.69 L679.52 149.8 L681.49 146.89 L683.47 143.94 L685.48 140.96 L687.5 137.94 L689.55 134.89 L691.61 131.8 L693.69 128.68 L695.8 125.52 L697.92 122.33 L700.07 119.1 L702.24 115.83 L704.42 112.53 L706.63 109.19 L708.87 105.81 L711.12 102.39 L713.4 98.93 L715.7 95.43 L718.02 91.9 L720.37 88.32 L722.74 84.7 L725.14 81.04 L727.55 77.34 L730 73.6 L732.47 69.81 L734.96 65.98 L737.48 62.11 L740.02 58.19 L742.59 54.23 L745.19 50.23 L747.81 46.17 L750.46 42.07 L753.14 37.93 L755.85 33.74 L758.58 29.5 L761.34 25.21 L764.13 20.87 L766.95 16.48 L769.8 12.04 L772.68 7.55 L775.59 3.02 L778.53 -1.58 L781.49 -6.22 L784.5 -10.92 L787.53 -15.67 L790.59 -20.47 L793.69 -25.33 L796.82 -30.25 L799.98 -35.22 L803.17 -40.24 L806.4 -45.33 L809.66 -50.47 L812.96 -55.67 L816.29 -60.93 L819.66 -66.26 L823.06 -71.64 L826.5 -77.08 L829.98 -82.59 L833.49 -88.15 L837.05 -93.78 L840.63 -99.48 L844.26 -105.24 L847.93 -111.07 L851.63 -116.96 L855.38 -122.92 L859.17 -128.95 L862.99 -135.05 L866.86 -141.21 L870.77 -147.45 L874.72 -153.76 L878.71 -160.14 L882.75 -166.59 L886.83 -173.12 L890.96 -179.72 L895.13 -186.4 L899.34 -193.15 L903.6 -199.98 L907.91 -206.89 L912.27 -213.87 L916.67 -220.94 L921.12 -228.09 L925.62 -235.32 L930.16 -242.63 L934.76 -250.02 L939.41 -257.5 L944.1 -265.06 L948.85 -272.71 L953.66 -280.45 L958.51 -288.28 L963.42 -296.19 M524.76 346.9 L525.52 346.18 L526.29 345.45 L527.06 344.71 L527.82 343.96 L528.59 343.21 L529.37 342.44 L530.14 341.67 L530.92 340.89 L531.69 340.1 L532.47 339.3 L533.26 338.49 L534.04 337.67 L534.83 336.84 L535.62 336.01 L536.41 335.16 L537.2 334.3 L538 333.44 L538.8 332.56 L539.6 331.68 L540.41 330.78 L541.22 329.87 L542.03 328.96 L542.84 328.03 L543.66 327.09 L544.48 326.15 L545.31 325.19 L546.14 324.22 L546.97 323.24 L547.8 322.24 L548.64 321.24 L549.49 320.23 L550.33 319.2 L551.18 318.16 L552.04 317.11 L552.9 316.05 L553.76 314.97 L554.62 313.89 L555.5 312.79 L556.37 311.68 L557.25 310.55 L558.13 309.42 L559.02 308.27 L559.92 307.1 L560.81 305.93 L561.72 304.74 L562.62 303.54 L563.53 302.32 L564.45 301.09 L565.37 299.84 L566.3 298.58 L567.23 297.31 L568.17 296.02 L569.11 294.72 L570.06 293.4 L571.01 292.07 L571.97 290.72 L572.94 289.36 L573.91 287.98 L574.89 286.59 L575.87 285.18 L576.86 283.75 L577.85 282.31 L578.85 280.85 L579.86 279.37 L580.87 277.88 L581.89 276.37 L582.91 274.84 L583.94 273.3 L584.98 271.74 L586.03 270.16 L587.08 268.56 L588.14 266.94 L589.2 265.31 L590.28 263.65 L591.36 261.98 L592.44 260.29 L593.54 258.58 L594.64 256.85 L595.75 255.1 L596.86 253.33 L597.99 251.54 L599.12 249.73 L600.26 247.9 L601.41 246.05 L602.56 244.18 L603.73 242.28 L604.9 240.37 L606.08 238.43 L607.27 236.47 L608.47 234.49 L609.67 232.48 L610.89 230.45 L612.11 228.4 L613.34 226.33 L614.58 224.23 L615.83 222.11 L617.09 219.96 L618.36 217.79 L619.64 215.6 L620.93 213.38 L622.23 211.13 L623.54 208.86 L624.86 206.56 L626.18 204.24 L627.52 201.89 L628.87 199.51 L630.23 197.11 L631.6 194.68 L632.98 192.22 L634.37 189.73 L635.77 187.21 L637.19 184.67 L638.61 182.1 L640.05 179.49 L641.5 176.86 L642.96 174.2 L644.43 171.51 L645.91 168.78 L647.4 166.03 L648.91 163.24 L650.43 160.43 L651.96 157.58 L653.51 154.69 L655.06 151.78 L656.63 148.83 L658.22 145.85 L659.81 142.83 L661.42 139.78 L663.05 136.69 L664.68 133.57 L666.33 130.42 L668 127.22 L669.68 124 L671.37 120.73 L673.08 117.43 L674.8 114.09 L676.54 110.71 L678.29 107.29 L680.06 103.83 L681.84 100.34 L683.64 96.8 L685.45 93.23 L687.29 89.61 L689.13 85.95 L690.99 82.25 L692.87 78.51 L694.77 74.72 L696.68 70.9 L698.61 67.02 L700.56 63.11 L702.53 59.15 L704.51 55.14 L706.51 51.09 L708.53 46.99 L710.57 42.85 L712.62 38.66 L714.7 34.42 L716.79 30.13 L718.9 25.79 L721.04 21.41 L723.19 16.97 L725.36 12.48 L727.55 7.95 L729.76 3.36 L732 -1.29 L734.25 -5.98 L736.53 -10.73 L738.82 -15.53 L741.14 -20.39 L743.48 -25.3 L745.84 -30.27 L748.23 -35.3 L750.64 -40.38 L753.07 -45.53 L755.52 -50.73 L758 -55.98 L760.5 -61.3 L763.02 -66.68 L765.57 -72.13 L768.15 -77.63 L770.75 -83.2 L773.37 -88.83 L776.02 -94.52 L778.7 -100.28 L781.4 -106.1 L784.13 -112 L786.88 -117.95 L789.66 -123.98 L792.47 -130.08 L795.31 -136.24 L798.18 -142.48 L801.07 -148.78 L803.99 -155.16 L806.94 -161.61 L809.92 -168.14 L812.93 -174.74 L815.97 -181.41 L819.04 -188.16 L822.15 -194.99 L825.28 -201.9 L828.44 -208.88 L831.64 -215.94 L834.87 -223.09 L838.13 -230.32 L841.42 -237.62 L844.75 -245.02 L848.11 -252.49 L851.51 -260.06 L854.94 -267.7 L858.4 -275.44 L861.9 -283.26 L865.44 -291.18 L869.01 -299.18 L872.62 -307.27 L876.27 -315.46 L879.96 -323.74 L883.68 -332.12 L887.44 -340.59 L891.24 -349.15 M524.76 346.9 L525.52 346.12 L526.29 345.34 L527.05 344.54 L527.82 343.74 L528.58 342.93 L529.35 342.1 L530.11 341.27 L530.88 340.43 L531.65 339.58 L532.42 338.72 L533.19 337.85 L533.96 336.97 L534.73 336.08 L535.5 335.18 L536.28 334.27 L537.05 333.34 L537.83 332.41 L538.61 331.47 L539.39 330.52 L540.17 329.55 L540.96 328.58 L541.74 327.59 L542.53 326.6 L543.32 325.59 L544.11 324.57 L544.9 323.53 L545.7 322.49 L546.5 321.44 L547.29 320.37 L548.1 319.29 L548.9 318.2 L549.71 317.09 L550.51 315.97 L551.33 314.84 L552.14 313.7 L552.96 312.55 L553.77 311.38 L554.59 310.19 L555.42 309 L556.24 307.79 L557.07 306.57 L557.91 305.33 L558.74 304.08 L559.58 302.81 L560.42 301.53 L561.26 300.24 L562.11 298.93 L562.96 297.6 L563.81 296.26 L564.67 294.91 L565.53 293.54 L566.39 292.15 L567.25 290.75 L568.12 289.33 L569 287.9 L569.87 286.45 L570.75 284.98 L571.63 283.5 L572.52 282 L573.41 280.48 L574.3 278.94 L575.2 277.39 L576.1 275.82 L577.01 274.23 L577.92 272.63 L578.83 271 L579.75 269.36 L580.67 267.7 L581.59 266.02 L582.52 264.32 L583.45 262.6 L584.39 260.86 L585.33 259.1 L586.27 257.32 L587.22 255.52 L588.18 253.7 L589.13 251.86 L590.1 250 L591.06 248.12 L592.03 246.21 L593.01 244.29 L593.99 242.34 L594.98 240.37 L595.97 238.38 L596.96 236.36 L597.96 234.32 L598.96 232.26 L599.97 230.18 L600.99 228.07 L602 225.93 L603.03 223.78 L604.06 221.59 L605.09 219.39 L606.13 217.16 L607.17 214.9 L608.22 212.61 L609.28 210.3 L610.34 207.97 L611.4 205.61 L612.47 203.22 L613.55 200.8 L614.63 198.36 L615.72 195.88 L616.81 193.38 L617.91 190.86 L619.01 188.3 L620.12 185.71 L621.24 183.09 L622.36 180.45 L623.49 177.77 L624.62 175.06 L625.76 172.33 L626.91 169.56 L628.06 166.76 L629.22 163.92 L630.38 161.06 L631.55 158.16 L632.73 155.23 L633.91 152.27 L635.1 149.27 L636.3 146.24 L637.5 143.17 L638.71 140.07 L639.93 136.93 L641.15 133.76 L642.38 130.55 L643.62 127.3 L644.86 124.02 L646.11 120.7 L647.37 117.34 L648.63 113.94 L649.9 110.51 L651.18 107.03 L652.47 103.52 L653.76 99.97 L655.06 96.37 L656.37 92.74 L657.69 89.06 L659.01 85.34 L660.34 81.58 L661.68 77.77 L663.03 73.92 L664.38 70.03 L665.75 66.1 L667.12 62.11 L668.5 58.09 L669.88 54.02 L671.28 49.9 L672.68 45.73 L674.09 41.52 L675.51 37.25 L676.94 32.94 L678.38 28.58 L679.83 24.17 L681.28 19.72 L682.74 15.2 L684.22 10.64 L685.7 6.03 L687.19 1.36 L688.69 -3.36 L690.19 -8.13 L691.71 -12.96 L693.24 -17.84 L694.78 -22.78 L696.32 -27.78 L697.88 -32.83 L699.44 -37.94 L701.02 -43.11 L702.6 -48.34 L704.2 -53.62 L705.8 -58.97 L707.42 -64.38 L709.04 -69.85 L710.68 -75.38 L712.32 -80.98 L713.98 -86.64 L715.64 -92.36 L717.32 -98.15 L719.01 -104.01 L720.71 -109.93 L722.42 -115.92 L724.14 -121.98 L725.87 -128.11 L727.61 -134.3 L729.37 -140.57 L731.13 -146.91 L732.91 -153.32 L734.7 -159.81 L736.5 -166.37 L738.31 -173 L740.14 -179.71 L741.97 -186.5 L743.82 -193.36 L745.68 -200.3 L747.55 -207.33 L749.44 -214.43 L751.34 -221.61 L753.25 -228.87 L755.17 -236.22 L757.11 -243.65 L759.06 -251.17 L761.02 -258.77 L763 -266.46 L764.99 -274.23 L766.99 -282.1 L769.01 -290.05 L771.04 -298.1 L773.08 -306.24 L775.14 -314.47 L777.22 -322.79 L779.3 -331.21 L781.4 -339.72 L783.52 -348.34 L785.65 -357.05 L787.8 -365.86 L789.96 -374.77 L792.13 -383.78 L794.33 -392.9 L796.53 -402.11" fill="none" stroke="#000" stroke-width="1.65" stroke-linejoin="round"/>
</g>
<rect x="457.5" y="3" width="336.3" height="343.9" fill="none" stroke="#000" stroke-width="1.2"/>
<g clip-path="url(#clip_c)">
<line x1="911.95" y1="3" x2="911.95" y2="346.9" stroke="#bdbdbd" stroke-width="2"/>
<line x1="860.7" y1="294.44" x2="1196.7" y2="294.44" stroke="#bdbdbd" stroke-width="2"/>
<path d="M968.9 294.44 L970.67 292.6 L972.44 290.71 L974.2 288.77 L975.97 286.76 L977.73 284.7 L979.5 282.59 L981.27 280.41 L983.03 278.19 L984.8 275.9 L986.56 273.56 L988.33 271.16 L990.1 268.71 L991.86 266.2 L993.63 263.64 L995.4 261.02 L997.16 258.34 L998.93 255.61 L1000.69 252.82 L1002.46 249.98 L1004.23 247.08 L1005.99 244.12 L1007.76 241.11 L1009.52 238.04 L1011.29 234.91 L1013.06 231.73 L1014.82 228.49 L1016.59 225.2 L1018.36 221.85 L1020.12 218.44 L1021.89 214.98 L1023.65 211.47 L1025.42 207.89 L1027.19 204.26 L1028.95 200.58 L1030.72 196.84 L1032.48 193.04 L1034.25 189.18 L1036.02 185.27 L1037.78 181.31 L1039.55 177.29 L1041.32 173.21 L1043.08 169.07 L1044.85 164.88 L1046.61 160.64 L1048.38 156.33 L1050.15 151.98 L1051.91 147.56 L1053.68 143.09 L1055.44 138.56 L1057.21 133.98 L1058.98 129.34 L1060.74 124.65 L1062.51 119.9 L1064.28 115.09 L1066.04 110.23 L1067.81 105.31 L1069.57 100.33 L1071.34 95.3 L1073.11 90.21 L1074.87 85.07 L1076.64 79.87 L1078.4 74.62 L1080.17 69.31 L1081.94 63.94 L1083.7 58.51 L1085.47 53.03 L1087.24 47.5 L1089 41.91 L1090.77 36.26 L1092.53 30.56 L1094.3 24.8 L1096.07 18.98 L1097.83 13.11 L1099.6 7.18 L1101.36 1.19 L1103.13 -4.85 L1104.9 -10.94 L1106.66 -17.09 L1108.43 -23.3" fill="none" stroke="#000" stroke-width="1.5"/>
<path d="M911.95 323.58 L913.41 323.57 L914.87 323.51 L916.33 323.41 L917.8 323.28 L919.26 323.11 L920.72 322.89 L922.18 322.65 L923.64 322.36 L925.1 322.03 L926.56 321.67 L928.02 321.27 L929.48 320.83 L930.94 320.35 L932.4 319.83 L933.86 319.27 L935.32 318.68 L936.78 318.05 L938.24 317.38 L939.7 316.67 L941.16 315.92 L942.62 315.13 L944.08 314.31 L945.54 313.45 L947 312.55 L948.46 311.61 L949.92 310.63 L951.38 309.62 L952.84 308.56 L954.3 307.47 L955.76 306.34 L957.22 305.17 L958.68 303.96 L960.14 302.72 L961.6 301.43 L963.06 300.11 L964.52 298.75 L965.98 297.35 L967.44 295.92 L968.9 294.44" fill="none" stroke="#000" stroke-width="1.9" stroke-dasharray="1.6 2.6"/>
<circle cx="1054.33" cy="141.43" r="5.1" fill="#0000f4"/>
<line x1="911.95" y1="294.44" x2="1054.33" y2="141.43" stroke="#9a9a9a" stroke-width="2.6"/>
<line x1="1054.33" y1="294.44" x2="1054.33" y2="141.43" stroke="#9a9a9a" stroke-width="2.2"/>
<line x1="1049.8" y1="150.4" x2="1003.9" y2="270" stroke="#9a9a9a" stroke-width="1.6"/>
<path d="M999.6 281.2 L1000.32 266.48 L1008.91 269.78 Z" fill="#9a9a9a"/>
<circle cx="911.95" cy="294.44" r="4.7" fill="#9a9a9a"/>
</g>
<rect x="860.7" y="3" width="336" height="343.9" fill="none" stroke="#000" stroke-width="1.2"/>
<g clip-path="url(#clip_d)">
<path d="M54.3 759.5 L55.69 759.11 L57.08 758.64 L58.47 758.14 L59.86 757.6 L61.25 757.05 L62.63 756.47 L64.02 755.89 L65.41 755.29 L66.8 754.67 L68.19 754.05 L69.58 753.42 L70.97 752.78 L72.36 752.13 L73.75 751.48 L75.14 750.82 L76.52 750.15 L77.91 749.47 L79.3 748.79 L80.69 748.11 L82.08 747.41 L83.47 746.72 L84.86 746.01 L86.25 745.31 L87.64 744.59 L89.03 743.88 L90.41 743.16 L91.8 742.43 L93.19 741.7 L94.58 740.97 L95.97 740.23 L97.36 739.49 L98.75 738.75 L100.14 738 L101.53 737.25 L102.92 736.5 L104.3 735.74 L105.69 734.98 L107.08 734.21 L108.47 733.45 L109.86 732.68 L111.25 731.9 L112.64 731.13 L114.03 730.35 L115.42 729.57 L116.81 728.79 L118.19 728 L119.58 727.21 L120.97 726.42 L122.36 725.63 L123.75 724.83 L125.14 724.03 L126.53 723.23 L127.92 722.43 L129.31 721.62 L130.7 720.81 L132.08 720 L133.47 719.19 L134.86 718.38 L136.25 717.56 L136.25 759.5Z" fill="#fec865"/>
<path d="M136.25 759.5 L136.95 759.49 L137.65 759.49 L138.36 759.48 L139.08 759.47 L139.8 759.46 L140.53 759.46 L141.27 759.45 L142.01 759.44 L142.75 759.43 L143.51 759.43 L144.27 759.42 L145.03 759.41 L145.81 759.4 L146.59 759.39 L147.37 759.39 L148.17 759.38 L148.96 759.37 L149.77 759.36 L150.58 759.35 L151.4 759.34 L152.23 759.34 L153.07 759.33 L153.91 759.32 L154.76 759.31 L155.61 759.3 L156.48 759.29 L157.35 759.28 L158.22 759.28 L159.11 759.27 L160 759.26 L160.9 759.25 L161.81 759.24 L162.73 759.23 L163.65 759.22 L164.58 759.21 L165.52 759.2 L166.47 759.19 L167.42 759.18 L168.39 759.17 L169.36 759.16 L170.34 759.15 L171.33 759.14 L172.33 759.13 L173.33 759.12 L174.35 759.11 L175.37 759.1 L176.4 759.09 L177.44 759.08 L178.49 759.07 L179.55 759.06 L180.61 759.05 L181.69 759.03 L182.78 759.02 L183.87 759.01 L184.97 759 L186.09 758.99 L187.21 758.98 L188.34 758.97 L189.48 758.96 L190.64 758.94 L191.8 758.93 L192.97 758.92 L194.15 758.91 L195.34 758.9 L196.54 758.88 L197.76 758.87 L198.98 758.86 L200.21 758.85 L201.45 758.83 L202.71 758.82 L203.97 758.81 L205.25 758.79 L206.53 758.78 L207.83 758.77 L209.14 758.75 L210.46 758.74 L211.79 758.73 L213.13 758.71 L214.48 758.7 L215.85 758.69 L217.22 758.67 L218.61 758.66 L220.01 758.64 L221.42 758.63 L222.85 758.61 L224.28 758.6 L225.73 758.58 L227.19 758.57 L228.66 758.55 L230.15 758.54 L231.65 758.52 L233.16 758.51 L234.68 758.49 L236.22 758.48 L237.77 758.46 L239.33 758.44 L240.91 758.43 L242.5 758.41 L244.1 758.4 L245.72 758.38 L247.35 758.36 L248.99 758.35 L250.65 758.33 L252.32 758.31 L254.01 758.29 L255.71 758.28 L257.43 758.26 L259.16 758.24 L260.9 758.22 L262.66 758.21 L264.44 758.19 L266.23 758.17 L268.04 758.15 L269.86 758.13 L271.69 758.11 L273.54 758.09 L275.41 758.08 L277.3 758.06 L279.2 758.04 L281.11 758.02 L283.04 758 L284.99 757.98 L286.96 757.96 L288.94 757.94 L290.94 757.92 L292.96 757.9 L294.99 757.88 L297.04 757.85 L299.11 757.83 L301.19 757.81 L303.3 757.79 L305.42 757.77 L307.56 757.75 L309.71 757.72 L311.89 757.7 L314.09 757.68 L316.3 757.66 L318.53 757.63 L320.78 757.61 L323.05 757.59 L325.34 757.56 L327.65 757.54 L329.98 757.52 L332.33 757.49 L334.7 757.47 L337.09 757.44 L339.49 757.42 L341.92 757.39 L344.37 757.37 L346.85 757.34 L349.34 757.32 L351.85 757.29 L354.39 757.27 L356.94 757.24 L359.52 757.21 L362.12 757.19 L364.74 757.16 L367.39 757.13 L370.06 757.11 L372.75 757.08 L375.46 757.05 L378.2 757.02 L380.96 757 L383.74 756.97 L386.54 756.94 L389.38 756.91 L392.23 756.88 L395.11 756.85 L398.01 756.82 L400.94 756.79 L403.89 756.76 L406.87 756.73 L409.88 756.7 L412.91 756.67 L415.96 756.64 L419.04 756.61 L422.15 756.57 L425.28 756.54 L428.44 756.51 L431.63 756.48 L434.85 756.44 L438.09 756.41 L441.36 756.38 L444.65 756.34 L447.98 756.31 L451.33 756.27 L454.72 756.24 L458.13 756.21 L461.57 756.17 L465.04 756.13 L468.54 756.1 L472.07 756.06 L475.63 756.03 L479.22 755.99 L482.84 755.95 L486.49 755.92 L490.17 755.88 L493.88 755.84 L497.63 755.8 L501.4 755.76 L505.21 755.72 L509.05 755.68 L512.93 755.64 L516.84 755.6 L520.78 755.56 L524.75 755.52 L528.76 755.48 L532.8 755.44 L536.88 755.4 L540.99 755.36 L545.13 755.31 L549.32 755.27 L553.53 755.23 L557.79 755.19 L562.08 755.14 L566.4 755.1 L570.76 755.05 L575.16 755.01 L579.6 754.96 L584.08 754.92 L588.59 754.87 L593.14 754.82 L597.73 754.78 L602.36 754.73 L607.03 754.68 L611.74 754.63 L616.49 754.58 L621.28 754.54 L626.11 754.49 L630.98 754.44 L635.89 754.39 L640.85 754.34 L645.85 754.28 L650.89 754.23 L655.97 754.18 L661.1 754.13 L666.26 754.08 L671.48 754.02 L676.74 753.97 L682.04 753.91 L687.39 753.86 L692.78 753.8 L698.22 753.75 L703.71 753.69 L709.24 753.64 L714.82 753.58 L720.45 753.52 L726.12 753.46 L731.84 753.4 L737.62 753.34 L743.44 753.29 L749.31 753.22 L755.23 753.16 L761.2 753.1 L767.22 753.04 L773.3 752.98 L779.42 752.92 L785.6 752.85 L791.83 752.79 M136.25 756.5 L136.95 756.46 L137.65 756.43 L138.36 756.39 L139.08 756.36 L139.8 756.34 L140.53 756.31 L141.26 756.28 L142 756.26 L142.75 756.23 L143.51 756.21 L144.26 756.19 L145.03 756.16 L145.8 756.14 L146.58 756.12 L147.37 756.1 L148.16 756.07 L148.96 756.05 L149.77 756.03 L150.58 756.01 L151.4 755.98 L152.22 755.96 L153.06 755.93 L153.9 755.91 L154.75 755.89 L155.6 755.86 L156.46 755.83 L157.33 755.81 L158.21 755.78 L159.09 755.75 L159.99 755.72 L160.88 755.69 L161.79 755.66 L162.71 755.63 L163.63 755.6 L164.56 755.57 L165.5 755.53 L166.44 755.5 L167.4 755.46 L168.36 755.42 L169.33 755.38 L170.31 755.34 L171.3 755.3 L172.29 755.26 L173.3 755.22 L174.31 755.17 L175.33 755.13 L176.36 755.08 L177.4 755.03 L178.44 754.98 L179.5 754.93 L180.57 754.88 L181.64 754.82 L182.72 754.77 L183.82 754.71 L184.92 754.65 L186.03 754.59 L187.15 754.53 L188.28 754.47 L189.42 754.4 L190.57 754.34 L191.73 754.27 L192.9 754.2 L194.08 754.13 L195.26 754.06 L196.46 753.99 L197.67 753.91 L198.89 753.84 L200.12 753.76 L201.36 753.68 L202.61 753.6 L203.87 753.51 L205.15 753.43 L206.43 753.34 L207.72 753.26 L209.03 753.17 L210.35 753.08 L211.67 752.99 L213.01 752.89 L214.36 752.8 L215.72 752.7 L217.1 752.6 L218.48 752.5 L219.88 752.4 L221.29 752.3 L222.71 752.2 L224.14 752.09 L225.58 751.98 L227.04 751.87 L228.51 751.76 L229.99 751.65 L231.49 751.54 L232.99 751.42 L234.51 751.31 L236.05 751.19 L237.59 751.07 L239.15 750.95 L240.72 750.83 L242.31 750.7 L243.91 750.58 L245.52 750.45 L247.15 750.33 L248.79 750.2 L250.44 750.06 L252.11 749.93 L253.79 749.8 L255.49 749.66 L257.2 749.53 L258.93 749.39 L260.67 749.25 L262.42 749.11 L264.19 748.97 L265.98 748.82 L267.78 748.68 L269.6 748.53 L271.43 748.38 L273.27 748.23 L275.14 748.08 L277.02 747.93 L278.91 747.78 L280.82 747.62 L282.75 747.46 L284.69 747.31 L286.65 747.15 L288.63 746.99 L290.62 746.82 L292.63 746.66 L294.66 746.49 L296.7 746.33 L298.77 746.16 L300.85 745.99 L302.94 745.82 L305.06 745.64 L307.19 745.47 L309.34 745.29 L311.51 745.11 L313.7 744.93 L315.91 744.75 L318.13 744.57 L320.38 744.39 L322.64 744.2 L324.93 744.01 L327.23 743.83 L329.55 743.64 L331.89 743.44 L334.25 743.25 L336.64 743.05 L339.04 742.86 L341.46 742.66 L343.9 742.46 L346.37 742.25 L348.85 742.05 L351.36 741.85 L353.89 741.64 L356.44 741.43 L359.01 741.22 L361.6 741 L364.21 740.79 L366.85 740.57 L369.51 740.35 L372.19 740.13 L374.9 739.91 L377.63 739.69 L380.38 739.46 L383.15 739.23 L385.95 739 L388.77 738.77 L391.62 738.54 L394.49 738.3 L397.38 738.07 L400.3 737.83 L403.25 737.58 L406.22 737.34 L409.21 737.09 L412.23 736.85 L415.28 736.6 L418.35 736.34 L421.45 736.09 L424.57 735.83 L427.72 735.57 L430.9 735.31 L434.11 735.05 L437.34 734.78 L440.6 734.52 L443.89 734.25 L447.2 733.97 L450.55 733.7 L453.92 733.42 L457.32 733.14 L460.75 732.86 L464.21 732.58 L467.7 732.29 L471.22 732 L474.76 731.71 L478.34 731.42 L481.95 731.12 L485.59 730.82 L489.26 730.52 L492.96 730.22 L496.7 729.91 L500.46 729.6 L504.26 729.29 L508.09 728.97 L511.95 728.66 L515.85 728.34 L519.78 728.01 L523.74 727.69 L527.73 727.36 L531.76 727.03 L535.83 726.7 L539.93 726.36 L544.06 726.02 L548.23 725.68 L552.43 725.33 L556.67 724.98 L560.95 724.63 L565.26 724.28 L569.61 723.92 L574 723.56 L578.42 723.2 L582.88 722.83 L587.38 722.46 L591.92 722.09 L596.5 721.71 L601.11 721.33 L605.77 720.95 L610.46 720.56 L615.2 720.18 L619.97 719.78 L624.79 719.39 L629.64 718.99 L634.54 718.59 L639.48 718.18 L644.46 717.77 L649.49 717.36 L654.55 716.94 L659.66 716.52 L664.82 716.1 L670.01 715.67 L675.26 715.24 L680.54 714.81 L685.87 714.37 L691.25 713.93 L696.67 713.48 L702.14 713.03 L707.66 712.58 L713.22 712.12 L718.83 711.66 L724.49 711.2 L730.19 710.73 L735.95 710.26 L741.75 709.78 L747.6 709.3 L753.51 708.82 L759.46 708.33 L765.46 707.83 L771.52 707.34 L777.62 706.83 L783.78 706.33 L789.99 705.82 M136.25 753.51 L136.95 753.43 L137.65 753.37 L138.36 753.31 L139.08 753.26 L139.8 753.21 L140.53 753.16 L141.26 753.12 L142 753.07 L142.75 753.03 L143.5 752.99 L144.26 752.95 L145.02 752.92 L145.8 752.88 L146.57 752.84 L147.36 752.8 L148.15 752.77 L148.95 752.73 L149.75 752.69 L150.56 752.66 L151.38 752.62 L152.2 752.58 L153.03 752.54 L153.87 752.5 L154.72 752.46 L155.57 752.42 L156.43 752.37 L157.3 752.33 L158.17 752.28 L159.05 752.23 L159.94 752.19 L160.84 752.13 L161.74 752.08 L162.65 752.03 L163.57 751.97 L164.5 751.92 L165.44 751.86 L166.38 751.8 L167.33 751.73 L168.29 751.67 L169.25 751.6 L170.23 751.53 L171.21 751.46 L172.2 751.38 L173.2 751.31 L174.21 751.23 L175.23 751.15 L176.25 751.06 L177.29 750.98 L178.33 750.89 L179.38 750.8 L180.44 750.7 L181.51 750.6 L182.59 750.5 L183.67 750.4 L184.77 750.3 L185.88 750.19 L186.99 750.08 L188.12 749.96 L189.25 749.85 L190.39 749.73 L191.55 749.6 L192.71 749.48 L193.88 749.35 L195.06 749.22 L196.26 749.08 L197.46 748.95 L198.67 748.81 L199.9 748.66 L201.13 748.52 L202.37 748.37 L203.63 748.21 L204.89 748.06 L206.17 747.9 L207.46 747.74 L208.75 747.58 L210.06 747.41 L211.38 747.24 L212.71 747.07 L214.05 746.89 L215.41 746.71 L216.77 746.53 L218.15 746.34 L219.54 746.16 L220.94 745.96 L222.35 745.77 L223.77 745.57 L225.21 745.38 L226.65 745.17 L228.11 744.97 L229.59 744.76 L231.07 744.55 L232.57 744.33 L234.08 744.12 L235.6 743.9 L237.14 743.68 L238.69 743.45 L240.25 743.22 L241.82 742.99 L243.41 742.76 L245.02 742.52 L246.63 742.28 L248.26 742.04 L249.9 741.8 L251.56 741.55 L253.23 741.3 L254.92 741.05 L256.62 740.79 L258.33 740.53 L260.06 740.27 L261.8 740.01 L263.56 739.74 L265.34 739.47 L267.12 739.2 L268.93 738.93 L270.75 738.65 L272.58 738.37 L274.43 738.09 L276.3 737.8 L278.18 737.51 L280.07 737.22 L281.99 736.93 L283.92 736.63 L285.86 736.33 L287.83 736.03 L289.8 735.73 L291.8 735.42 L293.81 735.11 L295.84 734.8 L297.89 734.48 L299.96 734.16 L302.04 733.84 L304.14 733.52 L306.26 733.19 L308.39 732.86 L310.55 732.53 L312.72 732.19 L314.91 731.85 L317.12 731.51 L319.35 731.16 L321.59 730.82 L323.86 730.46 L326.15 730.11 L328.45 729.75 L330.77 729.39 L333.12 729.03 L335.48 728.66 L337.87 728.29 L340.27 727.92 L342.7 727.54 L345.14 727.17 L347.61 726.78 L350.1 726.4 L352.61 726.01 L355.14 725.62 L357.69 725.22 L360.26 724.82 L362.86 724.42 L365.47 724.01 L368.11 723.6 L370.77 723.19 L373.46 722.77 L376.17 722.35 L378.9 721.93 L381.65 721.5 L384.43 721.07 L387.23 720.64 L390.05 720.2 L392.9 719.76 L395.77 719.31 L398.67 718.86 L401.59 718.41 L404.54 717.95 L407.51 717.49 L410.51 717.02 L413.53 716.56 L416.58 716.08 L419.65 715.61 L422.75 715.12 L425.88 714.64 L429.03 714.15 L432.21 713.66 L435.42 713.16 L438.65 712.66 L441.92 712.15 L445.21 711.64 L448.52 711.12 L451.87 710.61 L455.24 710.08 L458.65 709.55 L462.08 709.02 L465.54 708.48 L469.03 707.94 L472.55 707.39 L476.1 706.84 L479.68 706.29 L483.3 705.73 L486.94 705.16 L490.61 704.59 L494.31 704.02 L498.05 703.44 L501.82 702.85 L505.62 702.26 L509.45 701.67 L513.31 701.07 L517.21 700.46 L521.14 699.85 L525.11 699.24 L529.1 698.62 L533.14 697.99 L537.2 697.36 L541.3 696.72 L545.44 696.08 L549.61 695.43 L553.82 694.78 L558.06 694.12 L562.34 693.46 L566.65 692.79 L571.01 692.11 L575.39 691.43 L579.82 690.74 L584.28 690.05 L588.79 689.35 L593.33 688.65 L597.9 687.94 L602.52 687.22 L607.18 686.5 L611.88 685.77 L616.61 685.03 L621.39 684.29 L626.21 683.54 L631.07 682.79 L635.97 682.03 L640.91 681.26 L645.89 680.49 L650.92 679.71 L655.99 678.92 L661.1 678.13 L666.26 677.32 L671.46 676.52 L676.7 675.7 L681.99 674.88 L687.32 674.05 L692.7 673.22 L698.13 672.38 L703.6 671.53 L709.12 670.67 L714.68 669.81 L720.29 668.94 L725.95 668.06 L731.66 667.17 L737.42 666.28 L743.23 665.37 L749.08 664.47 L754.99 663.55 L760.94 662.62 L766.95 661.69 L773.01 660.75 L779.11 659.8 L785.28 658.85 M136.25 750.51 L136.95 750.4 L137.65 750.31 L138.36 750.23 L139.08 750.15 L139.8 750.08 L140.53 750.01 L141.26 749.95 L142 749.89 L142.74 749.83 L143.49 749.78 L144.25 749.72 L145.01 749.67 L145.78 749.61 L146.56 749.56 L147.34 749.51 L148.13 749.46 L148.92 749.41 L149.73 749.35 L150.53 749.3 L151.35 749.25 L152.17 749.19 L153 749.14 L153.83 749.08 L154.67 749.02 L155.52 748.96 L156.38 748.9 L157.24 748.84 L158.11 748.78 L158.99 748.71 L159.87 748.64 L160.77 748.57 L161.66 748.49 L162.57 748.42 L163.48 748.34 L164.41 748.26 L165.34 748.17 L166.27 748.08 L167.22 747.99 L168.17 747.9 L169.13 747.8 L170.1 747.7 L171.08 747.6 L172.06 747.49 L173.05 747.38 L174.05 747.27 L175.06 747.15 L176.08 747.03 L177.11 746.91 L178.14 746.78 L179.19 746.65 L180.24 746.51 L181.3 746.37 L182.37 746.22 L183.45 746.07 L184.53 745.92 L185.63 745.77 L186.74 745.6 L187.85 745.44 L188.98 745.27 L190.11 745.1 L191.25 744.92 L192.41 744.74 L193.57 744.55 L194.74 744.36 L195.93 744.16 L197.12 743.96 L198.32 743.76 L199.53 743.55 L200.75 743.34 L201.99 743.12 L203.23 742.9 L204.48 742.67 L205.75 742.44 L207.02 742.21 L208.31 741.97 L209.6 741.72 L210.91 741.48 L212.23 741.22 L213.56 740.97 L214.9 740.71 L216.25 740.44 L217.61 740.17 L218.98 739.9 L220.37 739.62 L221.77 739.33 L223.18 739.05 L224.6 738.76 L226.03 738.46 L227.48 738.16 L228.93 737.86 L230.4 737.55 L231.89 737.24 L233.38 736.92 L234.89 736.6 L236.41 736.27 L237.94 735.94 L239.48 735.61 L241.04 735.27 L242.61 734.93 L244.2 734.59 L245.8 734.24 L247.41 733.88 L249.04 733.52 L250.67 733.16 L252.33 732.8 L253.99 732.43 L255.68 732.05 L257.37 731.67 L259.08 731.29 L260.8 730.91 L262.54 730.52 L264.3 730.12 L266.06 729.72 L267.85 729.32 L269.65 728.91 L271.46 728.5 L273.29 728.09 L275.13 727.67 L276.99 727.25 L278.87 726.82 L280.76 726.39 L282.67 725.96 L284.59 725.52 L286.53 725.08 L288.48 724.63 L290.46 724.18 L292.45 723.73 L294.45 723.27 L296.48 722.8 L298.52 722.34 L300.58 721.86 L302.65 721.39 L304.74 720.91 L306.85 720.42 L308.98 719.94 L311.13 719.44 L313.29 718.95 L315.48 718.44 L317.68 717.94 L319.9 717.43 L322.14 716.91 L324.39 716.39 L326.67 715.87 L328.97 715.34 L331.28 714.81 L333.62 714.27 L335.97 713.73 L338.35 713.18 L340.75 712.63 L343.16 712.08 L345.6 711.51 L348.05 710.95 L350.53 710.38 L353.03 709.8 L355.55 709.22 L358.09 708.64 L360.66 708.05 L363.24 707.45 L365.85 706.85 L368.48 706.25 L371.13 705.63 L373.8 705.02 L376.5 704.4 L379.22 703.77 L381.96 703.14 L384.72 702.5 L387.51 701.86 L390.33 701.21 L393.16 700.56 L396.02 699.9 L398.91 699.23 L401.82 698.56 L404.75 697.88 L407.71 697.2 L410.7 696.51 L413.71 695.82 L416.74 695.12 L419.8 694.42 L422.89 693.7 L426 692.99 L429.14 692.26 L432.31 691.53 L435.5 690.8 L438.72 690.05 L441.97 689.3 L445.25 688.55 L448.55 687.79 L451.88 687.02 L455.24 686.24 L458.63 685.46 L462.05 684.68 L465.5 683.88 L468.97 683.08 L472.48 682.27 L476.01 681.46 L479.58 680.63 L483.17 679.8 L486.8 678.97 L490.45 678.12 L494.14 677.27 L497.86 676.42 L501.61 675.55 L505.39 674.68 L509.21 673.8 L513.06 672.91 L516.94 672.02 L520.85 671.11 L524.8 670.2 L528.78 669.29 L532.79 668.36 L536.84 667.43 L540.92 666.49 L545.04 665.54 L549.19 664.58 L553.38 663.61 L557.6 662.64 L561.86 661.66 L566.15 660.66 L570.49 659.67 L574.85 658.66 L579.26 657.64 L583.7 656.62 L588.18 655.58 L592.7 654.54 L597.26 653.49 L601.86 652.43 L606.49 651.36 L611.17 650.28 L615.88 649.19 L620.64 648.1 L625.43 646.99 L630.27 645.87 L635.15 644.75 L640.07 643.61 L645.03 642.47 L650.03 641.31 L655.08 640.15 L660.16 638.98 L665.3 637.79 L670.47 636.6 L675.69 635.39 L680.96 634.18 L686.26 632.95 L691.62 631.72 L697.02 630.47 L702.46 629.22 L707.95 627.95 L713.49 626.67 L719.08 625.38 L724.71 624.08 L730.39 622.77 L736.12 621.45 L741.9 620.12 L747.73 618.77 L753.61 617.42 L759.53 616.05 L765.51 614.67 L771.54 613.28 L777.62 611.87 M136.25 747.52 L136.95 747.37 L137.65 747.25 L138.36 747.14 L139.08 747.04 L139.8 746.95 L140.52 746.86 L141.25 746.78 L141.99 746.7 L142.73 746.63 L143.48 746.56 L144.24 746.49 L145 746.42 L145.76 746.35 L146.54 746.28 L147.32 746.21 L148.1 746.15 L148.89 746.08 L149.69 746.01 L150.5 745.94 L151.31 745.87 L152.12 745.8 L152.95 745.73 L153.78 745.66 L154.61 745.58 L155.46 745.5 L156.31 745.42 L157.16 745.34 L158.03 745.26 L158.9 745.17 L159.78 745.08 L160.66 744.99 L161.56 744.89 L162.46 744.79 L163.36 744.69 L164.28 744.58 L165.2 744.47 L166.13 744.36 L167.06 744.24 L168.01 744.12 L168.96 743.99 L169.92 743.86 L170.89 743.72 L171.86 743.58 L172.85 743.44 L173.84 743.29 L174.84 743.14 L175.84 742.98 L176.86 742.81 L177.88 742.65 L178.92 742.47 L179.96 742.29 L181.01 742.11 L182.07 741.92 L183.13 741.72 L184.21 741.52 L185.29 741.32 L186.39 741.11 L187.49 740.89 L188.6 740.67 L189.72 740.44 L190.85 740.21 L191.99 739.97 L193.14 739.72 L194.3 739.47 L195.47 739.22 L196.64 738.96 L197.83 738.69 L199.03 738.41 L200.23 738.14 L201.45 737.85 L202.68 737.56 L203.92 737.26 L205.16 736.96 L206.42 736.65 L207.69 736.34 L208.97 736.02 L210.26 735.69 L211.56 735.36 L212.87 735.02 L214.19 734.68 L215.52 734.33 L216.87 733.98 L218.22 733.62 L219.59 733.25 L220.97 732.88 L222.36 732.5 L223.76 732.12 L225.17 731.73 L226.59 731.34 L228.03 730.94 L229.48 730.53 L230.94 730.12 L232.41 729.71 L233.9 729.28 L235.39 728.86 L236.9 728.42 L238.43 727.98 L239.96 727.54 L241.51 727.09 L243.07 726.64 L244.64 726.18 L246.23 725.71 L247.83 725.24 L249.45 724.76 L251.07 724.28 L252.71 723.8 L254.37 723.3 L256.04 722.81 L257.72 722.3 L259.42 721.79 L261.13 721.28 L262.85 720.76 L264.6 720.24 L266.35 719.71 L268.12 719.17 L269.9 718.63 L271.7 718.09 L273.52 717.54 L275.35 716.98 L277.19 716.42 L279.05 715.85 L280.93 715.28 L282.82 714.7 L284.73 714.12 L286.65 713.53 L288.59 712.94 L290.55 712.34 L292.52 711.73 L294.51 711.12 L296.52 710.51 L298.54 709.89 L300.58 709.26 L302.64 708.63 L304.72 707.99 L306.81 707.34 L308.92 706.7 L311.05 706.04 L313.2 705.38 L315.36 704.71 L317.54 704.04 L319.74 703.36 L321.96 702.68 L324.2 701.99 L326.46 701.29 L328.73 700.59 L331.03 699.88 L333.34 699.17 L335.68 698.45 L338.03 697.72 L340.41 696.99 L342.8 696.25 L345.22 695.5 L347.65 694.75 L350.11 693.99 L352.58 693.22 L355.08 692.45 L357.6 691.67 L360.14 690.89 L362.7 690.1 L365.28 689.3 L367.89 688.49 L370.51 687.68 L373.16 686.86 L375.83 686.04 L378.53 685.2 L381.25 684.36 L383.98 683.52 L386.75 682.66 L389.53 681.8 L392.34 680.93 L395.18 680.06 L398.04 679.17 L400.92 678.28 L403.83 677.38 L406.76 676.47 L409.71 675.56 L412.69 674.64 L415.7 673.71 L418.73 672.77 L421.79 671.82 L424.87 670.87 L427.98 669.91 L431.12 668.94 L434.28 667.96 L437.47 666.97 L440.69 665.97 L443.93 664.97 L447.2 663.96 L450.5 662.94 L453.83 661.91 L457.19 660.87 L460.57 659.82 L463.98 658.76 L467.42 657.7 L470.89 656.62 L474.4 655.54 L477.93 654.45 L481.49 653.34 L485.08 652.23 L488.7 651.11 L492.35 649.98 L496.03 648.84 L499.74 647.69 L503.49 646.53 L507.27 645.36 L511.08 644.18 L514.92 642.99 L518.79 641.79 L522.7 640.58 L526.64 639.36 L530.61 638.13 L534.62 636.89 L538.66 635.64 L542.74 634.38 L546.85 633.1 L550.99 631.82 L555.17 630.52 L559.39 629.22 L563.64 627.9 L567.93 626.57 L572.26 625.23 L576.62 623.88 L581.02 622.52 L585.45 621.14 L589.92 619.76 L594.44 618.36 L598.99 616.95 L603.58 615.53 L608.2 614.09 L612.87 612.65 L617.58 611.19 L622.32 609.72 L627.11 608.24 L631.94 606.74 L636.81 605.23 L641.72 603.71 L646.67 602.18 L651.66 600.63 L656.7 599.07 L661.78 597.49 L666.9 595.91 L672.07 594.3 L677.28 592.69 L682.53 591.06 L687.83 589.42 L693.18 587.76 L698.57 586.09 L704 584.41 L709.48 582.71 L715.01 581 L720.59 579.27 L726.21 577.52 L731.88 575.77 L737.6 573.99 L743.37 572.21 L749.19 570.4 L755.05 568.59 L760.97 566.75 L766.93 564.9 M136.25 744.52 L136.95 744.34 L137.65 744.19 L138.36 744.06 L139.07 743.93 L139.79 743.82 L140.52 743.72 L141.25 743.61 L141.98 743.52 L142.72 743.43 L143.47 743.34 L144.22 743.25 L144.98 743.16 L145.74 743.08 L146.51 743 L147.29 742.91 L148.07 742.83 L148.85 742.75 L149.65 742.66 L150.45 742.58 L151.25 742.49 L152.06 742.4 L152.88 742.31 L153.71 742.22 L154.54 742.13 L155.37 742.03 L156.22 741.93 L157.07 741.83 L157.92 741.73 L158.79 741.62 L159.66 741.51 L160.53 741.39 L161.42 741.27 L162.31 741.15 L163.21 741.02 L164.11 740.89 L165.02 740.75 L165.94 740.61 L166.87 740.46 L167.8 740.31 L168.74 740.15 L169.69 739.99 L170.65 739.82 L171.61 739.65 L172.58 739.47 L173.56 739.28 L174.55 739.09 L175.54 738.9 L176.55 738.69 L177.56 738.48 L178.57 738.27 L179.6 738.05 L180.64 737.82 L181.68 737.58 L182.73 737.34 L183.79 737.09 L184.86 736.84 L185.94 736.58 L187.03 736.31 L188.12 736.04 L189.22 735.75 L190.34 735.46 L191.46 735.17 L192.59 734.87 L193.73 734.56 L194.88 734.24 L196.04 733.91 L197.21 733.58 L198.38 733.25 L199.57 732.9 L200.77 732.55 L201.97 732.19 L203.19 731.82 L204.42 731.45 L205.65 731.07 L206.9 730.68 L208.16 730.28 L209.42 729.88 L210.7 729.47 L211.99 729.05 L213.29 728.63 L214.6 728.2 L215.92 727.76 L217.25 727.31 L218.59 726.86 L219.94 726.4 L221.3 725.93 L222.68 725.46 L224.06 724.98 L225.46 724.49 L226.87 724 L228.29 723.49 L229.72 722.99 L231.17 722.47 L232.63 721.95 L234.09 721.42 L235.57 720.88 L237.07 720.34 L238.57 719.79 L240.09 719.23 L241.62 718.67 L243.16 718.1 L244.72 717.53 L246.29 716.94 L247.87 716.35 L249.46 715.76 L251.07 715.15 L252.69 714.54 L254.33 713.93 L255.98 713.3 L257.64 712.67 L259.31 712.04 L261 711.39 L262.71 710.74 L264.43 710.09 L266.16 709.42 L267.91 708.75 L269.67 708.08 L271.44 707.39 L273.23 706.71 L275.04 706.01 L276.86 705.31 L278.7 704.6 L280.55 703.88 L282.42 703.16 L284.3 702.43 L286.2 701.69 L288.11 700.95 L290.04 700.2 L291.99 699.44 L293.95 698.68 L295.93 697.91 L297.93 697.13 L299.94 696.34 L301.97 695.55 L304.02 694.75 L306.08 693.95 L308.16 693.13 L310.26 692.31 L312.37 691.49 L314.51 690.65 L316.66 689.81 L318.83 688.96 L321.02 688.1 L323.22 687.24 L325.45 686.37 L327.69 685.49 L329.96 684.6 L332.24 683.71 L334.54 682.8 L336.86 681.89 L339.2 680.98 L341.56 680.05 L343.94 679.12 L346.34 678.18 L348.76 677.23 L351.2 676.27 L353.66 675.3 L356.14 674.33 L358.64 673.35 L361.16 672.35 L363.71 671.36 L366.27 670.35 L368.86 669.33 L371.47 668.31 L374.1 667.27 L376.76 666.23 L379.43 665.18 L382.13 664.12 L384.85 663.05 L387.6 661.97 L390.36 660.88 L393.15 659.78 L395.97 658.67 L398.81 657.56 L401.67 656.43 L404.56 655.3 L407.47 654.15 L410.4 653 L413.36 651.83 L416.35 650.66 L419.36 649.47 L422.39 648.28 L425.46 647.07 L428.54 645.86 L431.66 644.63 L434.8 643.4 L437.96 642.15 L441.16 640.9 L444.38 639.63 L447.63 638.35 L450.9 637.06 L454.2 635.76 L457.54 634.45 L460.89 633.12 L464.28 631.79 L467.7 630.45 L471.14 629.09 L474.62 627.72 L478.12 626.34 L481.66 624.95 L485.22 623.55 L488.81 622.13 L492.44 620.7 L496.09 619.26 L499.78 617.81 L503.49 616.35 L507.24 614.87 L511.02 613.38 L514.84 611.88 L518.68 610.36 L522.56 608.83 L526.47 607.29 L530.41 605.74 L534.39 604.17 L538.4 602.59 L542.44 601 L546.52 599.39 L550.64 597.77 L554.79 596.13 L558.97 594.49 L563.19 592.82 L567.44 591.14 L571.73 589.45 L576.06 587.75 L580.43 586.03 L584.83 584.29 L589.27 582.54 L593.74 580.78 L598.26 579 L602.81 577.2 L607.4 575.39 L612.03 573.57 L616.7 571.72 L621.41 569.87 L626.16 567.99 L630.95 566.11 L635.78 564.2 L640.65 562.28 L645.56 560.34 L650.52 558.39 L655.52 556.42 L660.55 554.43 L665.64 552.43 L670.76 550.4 L675.93 548.37 L681.14 546.31 L686.4 544.24 L691.7 542.14 L697.05 540.04 L702.44 537.91 L707.88 535.76 L713.36 533.6 L718.89 531.42 L724.47 529.22 L730.1 527 L735.77 524.76 L741.49 522.5 L747.26 520.23 L753.08 517.93 M136.25 741.53 L136.95 741.31 L137.65 741.13 L138.36 740.97 L139.07 740.83 L139.79 740.69 L140.51 740.57 L141.24 740.45 L141.97 740.33 L142.71 740.22 L143.45 740.11 L144.2 740.01 L144.95 739.91 L145.71 739.81 L146.48 739.71 L147.25 739.61 L148.03 739.51 L148.81 739.41 L149.59 739.31 L150.39 739.2 L151.19 739.1 L151.99 738.99 L152.8 738.89 L153.62 738.78 L154.44 738.66 L155.27 738.55 L156.11 738.43 L156.95 738.31 L157.79 738.18 L158.65 738.05 L159.51 737.91 L160.37 737.77 L161.25 737.63 L162.13 737.48 L163.01 737.33 L163.91 737.17 L164.81 737 L165.71 736.83 L166.63 736.65 L167.55 736.47 L168.48 736.28 L169.41 736.09 L170.35 735.89 L171.3 735.68 L172.26 735.46 L173.22 735.24 L174.2 735.01 L175.17 734.78 L176.16 734.53 L177.15 734.28 L178.16 734.03 L179.17 733.76 L180.18 733.49 L181.21 733.21 L182.24 732.92 L183.28 732.62 L184.33 732.32 L185.39 732.01 L186.46 731.69 L187.53 731.36 L188.62 731.02 L189.71 730.68 L190.81 730.32 L191.92 729.96 L193.04 729.59 L194.16 729.22 L195.3 728.83 L196.44 728.44 L197.6 728.03 L198.76 727.62 L199.93 727.2 L201.11 726.77 L202.3 726.34 L203.5 725.89 L204.71 725.44 L205.93 724.97 L207.16 724.5 L208.4 724.02 L209.65 723.54 L210.91 723.04 L212.18 722.54 L213.46 722.02 L214.75 721.5 L216.05 720.97 L217.36 720.43 L218.68 719.88 L220.02 719.33 L221.36 718.77 L222.71 718.19 L224.08 717.61 L225.45 717.02 L226.84 716.43 L228.24 715.82 L229.65 715.21 L231.07 714.59 L232.5 713.96 L233.95 713.32 L235.4 712.67 L236.87 712.02 L238.35 711.35 L239.84 710.68 L241.35 710.01 L242.86 709.32 L244.39 708.62 L245.93 707.92 L247.49 707.21 L249.06 706.49 L250.64 705.76 L252.23 705.03 L253.83 704.29 L255.45 703.54 L257.09 702.78 L258.73 702.01 L260.39 701.24 L262.06 700.45 L263.75 699.66 L265.45 698.86 L267.17 698.06 L268.89 697.24 L270.64 696.42 L272.4 695.59 L274.17 694.75 L275.95 693.9 L277.76 693.05 L279.57 692.19 L281.4 691.32 L283.25 690.44 L285.11 689.55 L286.99 688.65 L288.88 687.75 L290.79 686.84 L292.72 685.92 L294.66 684.99 L296.61 684.05 L298.59 683.11 L300.58 682.16 L302.58 681.19 L304.6 680.22 L306.64 679.24 L308.7 678.26 L310.77 677.26 L312.86 676.25 L314.97 675.24 L317.1 674.22 L319.24 673.19 L321.4 672.14 L323.58 671.09 L325.78 670.04 L328 668.97 L330.23 667.89 L332.48 666.8 L334.76 665.71 L337.05 664.6 L339.36 663.49 L341.69 662.36 L344.04 661.23 L346.41 660.08 L348.79 658.93 L351.2 657.77 L353.63 656.59 L356.08 655.41 L358.55 654.22 L361.04 653.01 L363.55 651.8 L366.08 650.57 L368.64 649.34 L371.21 648.09 L373.81 646.84 L376.43 645.57 L379.07 644.29 L381.73 643 L384.42 641.7 L387.12 640.39 L389.85 639.07 L392.61 637.74 L395.38 636.39 L398.18 635.04 L401.01 633.67 L403.86 632.29 L406.73 630.9 L409.62 629.5 L412.54 628.08 L415.49 626.65 L418.46 625.21 L421.45 623.76 L424.47 622.3 L427.51 620.82 L430.58 619.33 L433.68 617.83 L436.8 616.32 L439.95 614.79 L443.13 613.25 L446.33 611.7 L449.56 610.13 L452.81 608.55 L456.1 606.96 L459.41 605.35 L462.75 603.73 L466.12 602.1 L469.51 600.45 L472.94 598.79 L476.39 597.11 L479.88 595.42 L483.39 593.71 L486.93 591.99 L490.5 590.26 L494.11 588.51 L497.74 586.75 L501.4 584.97 L505.1 583.17 L508.82 581.36 L512.58 579.54 L516.37 577.7 L520.19 575.84 L524.04 573.97 L527.93 572.08 L531.85 570.18 L535.8 568.26 L539.79 566.32 L543.8 564.37 L547.86 562.4 L551.95 560.41 L556.07 558.41 L560.23 556.39 L564.42 554.35 L568.65 552.3 L572.91 550.22 L577.21 548.13 L581.55 546.02 L585.92 543.9 L590.33 541.75 L594.78 539.59 L599.26 537.41 L603.78 535.21 L608.35 532.99 L612.95 530.76 L617.59 528.5 L622.26 526.23 L626.98 523.93 L631.74 521.62 L636.54 519.28 L641.38 516.93 L646.26 514.56 L651.18 512.16 L656.14 509.75 L661.15 507.31 L666.2 504.86 L671.29 502.38 L676.42 499.88 L681.6 497.36 L686.82 494.82 L692.09 492.26 L697.4 489.67 L702.76 487.07 L708.16 484.44 L713.6 481.79 L719.1 479.12 L724.64 476.42 L730.22 473.7 L735.86 470.96 M136.25 738.53 L136.95 738.28 L137.65 738.07 L138.36 737.89 L139.07 737.72 L139.78 737.56 L140.5 737.42 L141.23 737.28 L141.96 737.14 L142.69 737.01 L143.43 736.89 L144.18 736.77 L144.93 736.65 L145.68 736.53 L146.44 736.41 L147.21 736.29 L147.98 736.18 L148.75 736.06 L149.53 735.94 L150.32 735.82 L151.11 735.7 L151.91 735.57 L152.71 735.44 L153.52 735.31 L154.33 735.18 L155.15 735.04 L155.97 734.9 L156.81 734.76 L157.64 734.61 L158.48 734.45 L159.33 734.29 L160.19 734.13 L161.05 733.96 L161.92 733.78 L162.79 733.6 L163.67 733.41 L164.56 733.22 L165.45 733.02 L166.35 732.81 L167.25 732.6 L168.16 732.37 L169.08 732.15 L170.01 731.91 L170.94 731.67 L171.88 731.41 L172.83 731.15 L173.78 730.89 L174.74 730.61 L175.71 730.33 L176.68 730.04 L177.66 729.73 L178.65 729.42 L179.65 729.11 L180.65 728.78 L181.67 728.44 L182.68 728.1 L183.71 727.75 L184.75 727.38 L185.79 727.01 L186.84 726.63 L187.9 726.24 L188.96 725.84 L190.04 725.43 L191.12 725.01 L192.21 724.58 L193.31 724.14 L194.42 723.69 L195.54 723.23 L196.66 722.77 L197.8 722.29 L198.94 721.8 L200.09 721.31 L201.25 720.8 L202.42 720.28 L203.6 719.76 L204.79 719.22 L205.99 718.68 L207.19 718.12 L208.41 717.55 L209.63 716.98 L210.87 716.39 L212.11 715.8 L213.37 715.2 L214.63 714.58 L215.91 713.96 L217.19 713.32 L218.49 712.68 L219.79 712.03 L221.11 711.37 L222.43 710.69 L223.77 710.01 L225.11 709.32 L226.47 708.62 L227.84 707.91 L229.22 707.19 L230.61 706.46 L232.01 705.72 L233.42 704.97 L234.85 704.21 L236.28 703.44 L237.73 702.67 L239.19 701.88 L240.66 701.08 L242.14 700.28 L243.63 699.46 L245.14 698.64 L246.66 697.81 L248.19 696.96 L249.73 696.11 L251.28 695.25 L252.85 694.38 L254.43 693.5 L256.02 692.61 L257.63 691.71 L259.25 690.8 L260.88 689.88 L262.52 688.96 L264.18 688.02 L265.86 687.08 L267.54 686.12 L269.24 685.16 L270.95 684.18 L272.68 683.2 L274.42 682.21 L276.18 681.21 L277.95 680.2 L279.73 679.17 L281.53 678.14 L283.34 677.1 L285.17 676.06 L287.02 675 L288.88 673.93 L290.75 672.85 L292.64 671.76 L294.54 670.66 L296.46 669.55 L298.4 668.44 L300.35 667.31 L302.32 666.17 L304.3 665.02 L306.31 663.86 L308.32 662.7 L310.36 661.52 L312.41 660.33 L314.48 659.13 L316.56 657.92 L318.66 656.7 L320.78 655.47 L322.92 654.23 L325.07 652.97 L327.25 651.71 L329.44 650.44 L331.64 649.15 L333.87 647.85 L336.12 646.55 L338.38 645.23 L340.66 643.9 L342.97 642.56 L345.29 641.2 L347.63 639.84 L349.99 638.46 L352.37 637.08 L354.76 635.68 L357.18 634.26 L359.62 632.84 L362.08 631.4 L364.56 629.96 L367.06 628.49 L369.58 627.02 L372.13 625.54 L374.69 624.04 L377.28 622.53 L379.88 621 L382.51 619.46 L385.16 617.91 L387.83 616.35 L390.53 614.77 L393.25 613.18 L395.99 611.58 L398.75 609.96 L401.54 608.33 L404.35 606.69 L407.18 605.03 L410.04 603.35 L412.92 601.67 L415.82 599.96 L418.75 598.25 L421.71 596.52 L424.68 594.77 L427.69 593.01 L430.72 591.23 L433.77 589.44 L436.85 587.64 L439.96 585.82 L443.09 583.98 L446.25 582.13 L449.43 580.26 L452.64 578.37 L455.88 576.47 L459.15 574.56 L462.44 572.62 L465.76 570.67 L469.11 568.71 L472.49 566.73 L475.89 564.73 L479.33 562.71 L482.79 560.68 L486.28 558.62 L489.8 556.56 L493.35 554.47 L496.93 552.36 L500.55 550.24 L504.19 548.1 L507.86 545.94 L511.56 543.77 L515.3 541.57 L519.06 539.36 L522.86 537.13 L526.69 534.87 L530.55 532.6 L534.45 530.31 L538.38 528 L542.34 525.67 L546.33 523.32 L550.36 520.95 L554.42 518.56 L558.52 516.15 L562.65 513.72 L566.81 511.27 L571.02 508.8 L575.25 506.31 L579.52 503.79 L583.83 501.26 L588.18 498.7 L592.56 496.12 L596.98 493.52 L601.43 490.9 L605.93 488.25 L610.46 485.58 L615.03 482.89 L619.64 480.18 L624.29 477.44 L628.97 474.68 L633.7 471.9 L638.47 469.09 L643.28 466.26 L648.12 463.4 L653.01 460.52 L657.94 457.62 L662.91 454.69 L667.93 451.73 L672.99 448.75 L678.08 445.75 L683.23 442.72 L688.41 439.66 L693.64 436.58 L698.92 433.47 L704.24 430.34 L709.6 427.18 L715.01 423.99 M136.25 735.53 L136.95 735.25 L137.65 735.01 L138.36 734.8 L139.06 734.61 L139.78 734.43 L140.5 734.26 L141.22 734.1 L141.94 733.95 L142.68 733.8 L143.41 733.66 L144.15 733.52 L144.9 733.38 L145.64 733.24 L146.4 733.11 L147.16 732.97 L147.92 732.84 L148.69 732.7 L149.46 732.56 L150.24 732.42 L151.02 732.28 L151.81 732.14 L152.6 731.99 L153.4 731.84 L154.2 731.68 L155.01 731.52 L155.82 731.36 L156.64 731.19 L157.47 731.01 L158.3 730.83 L159.13 730.65 L159.97 730.46 L160.82 730.26 L161.67 730.05 L162.53 729.84 L163.39 729.63 L164.26 729.4 L165.14 729.17 L166.02 728.93 L166.91 728.68 L167.8 728.42 L168.7 728.16 L169.61 727.89 L170.52 727.61 L171.44 727.32 L172.37 727.02 L173.3 726.71 L174.24 726.39 L175.18 726.07 L176.13 725.73 L177.09 725.39 L178.06 725.03 L179.03 724.67 L180.01 724.29 L181 723.91 L181.99 723.51 L182.99 723.11 L184 722.69 L185.01 722.27 L186.04 721.83 L187.07 721.39 L188.1 720.93 L189.15 720.46 L190.2 719.99 L191.26 719.5 L192.33 719 L193.41 718.49 L194.49 717.97 L195.58 717.43 L196.68 716.89 L197.79 716.34 L198.91 715.77 L200.03 715.2 L201.17 714.61 L202.31 714.01 L203.46 713.4 L204.62 712.78 L205.79 712.15 L206.97 711.51 L208.15 710.86 L209.35 710.19 L210.55 709.52 L211.76 708.83 L212.99 708.13 L214.22 707.43 L215.46 706.71 L216.71 705.98 L217.97 705.24 L219.24 704.48 L220.52 703.72 L221.81 702.95 L223.11 702.16 L224.42 701.36 L225.74 700.56 L227.07 699.74 L228.41 698.91 L229.76 698.07 L231.12 697.22 L232.49 696.36 L233.87 695.49 L235.27 694.61 L236.67 693.71 L238.08 692.81 L239.51 691.89 L240.95 690.97 L242.4 690.03 L243.86 689.09 L245.33 688.13 L246.81 687.16 L248.31 686.18 L249.81 685.19 L251.33 684.19 L252.86 683.18 L254.4 682.16 L255.96 681.13 L257.53 680.08 L259.11 679.03 L260.7 677.96 L262.3 676.89 L263.92 675.8 L265.55 674.71 L267.2 673.6 L268.85 672.48 L270.52 671.35 L272.21 670.21 L273.9 669.06 L275.61 667.9 L277.34 666.73 L279.08 665.54 L280.83 664.35 L282.6 663.14 L284.38 661.92 L286.17 660.7 L287.98 659.46 L289.81 658.21 L291.64 656.94 L293.5 655.67 L295.37 654.39 L297.25 653.09 L299.15 651.78 L301.07 650.46 L303 649.13 L304.94 647.79 L306.9 646.43 L308.88 645.07 L310.87 643.69 L312.88 642.3 L314.91 640.9 L316.95 639.48 L319.01 638.05 L321.09 636.61 L323.18 635.16 L325.29 633.7 L327.42 632.22 L329.57 630.73 L331.73 629.23 L333.91 627.71 L336.11 626.18 L338.33 624.64 L340.56 623.08 L342.81 621.52 L345.09 619.93 L347.38 618.34 L349.69 616.73 L352.01 615.11 L354.36 613.47 L356.73 611.82 L359.12 610.15 L361.52 608.47 L363.95 606.78 L366.39 605.07 L368.86 603.35 L371.35 601.61 L373.85 599.86 L376.38 598.09 L378.93 596.31 L381.5 594.51 L384.09 592.7 L386.7 590.87 L389.34 589.03 L391.99 587.17 L394.67 585.29 L397.37 583.4 L400.1 581.49 L402.84 579.57 L405.61 577.63 L408.4 575.67 L411.22 573.7 L414.05 571.71 L416.92 569.7 L419.8 567.68 L422.71 565.64 L425.65 563.58 L428.6 561.5 L431.59 559.41 L434.59 557.29 L437.63 555.16 L440.69 553.02 L443.77 550.85 L446.88 548.66 L450.01 546.46 L453.18 544.24 L456.36 542 L459.58 539.74 L462.82 537.46 L466.09 535.16 L469.39 532.84 L472.71 530.5 L476.06 528.14 L479.44 525.76 L482.85 523.37 L486.29 520.95 L489.75 518.51 L493.25 516.05 L496.77 513.57 L500.32 511.06 L503.91 508.54 L507.52 505.99 L511.16 503.43 L514.84 500.84 L518.54 498.23 L522.28 495.59 L526.05 492.94 L529.84 490.26 L533.68 487.56 L537.54 484.83 L541.43 482.09 L545.36 479.32 L549.32 476.52 L553.32 473.7 L557.35 470.86 L561.41 467.99 L565.51 465.1 L569.64 462.19 L573.8 459.25 L578.01 456.28 L582.24 453.29 L586.51 450.28 L590.82 447.23 L595.17 444.17 L599.55 441.07 L603.97 437.95 L608.42 434.81 L612.91 431.63 L617.44 428.43 L622.01 425.2 L626.62 421.95 L631.27 418.66 L635.95 415.35 L640.68 412.01 L645.44 408.65 L650.25 405.25 L655.09 401.82 L659.98 398.37 L664.91 394.89 L669.88 391.37 L674.89 387.83 L679.95 384.26 L685.04 380.65 L690.18 377.02 M136.25 732.54 L136.95 732.22 L137.65 731.95 L138.35 731.72 L139.06 731.5 L139.77 731.3 L140.49 731.11 L141.21 730.93 L141.93 730.76 L142.66 730.59 L143.39 730.43 L144.12 730.27 L144.86 730.11 L145.6 729.95 L146.35 729.8 L147.1 729.64 L147.86 729.49 L148.61 729.33 L149.38 729.17 L150.15 729.01 L150.92 728.85 L151.7 728.68 L152.48 728.51 L153.27 728.34 L154.06 728.16 L154.85 727.97 L155.65 727.78 L156.46 727.59 L157.27 727.39 L158.08 727.18 L158.9 726.97 L159.73 726.75 L160.56 726.52 L161.4 726.29 L162.24 726.05 L163.08 725.8 L163.93 725.54 L164.79 725.27 L165.65 725 L166.52 724.71 L167.39 724.42 L168.27 724.12 L169.16 723.81 L170.05 723.49 L170.94 723.16 L171.84 722.82 L172.75 722.47 L173.67 722.11 L174.59 721.74 L175.51 721.36 L176.44 720.97 L177.38 720.57 L178.33 720.16 L179.28 719.73 L180.24 719.3 L181.2 718.86 L182.17 718.4 L183.15 717.93 L184.13 717.45 L185.12 716.96 L186.12 716.46 L187.12 715.95 L188.13 715.42 L189.15 714.88 L190.18 714.33 L191.21 713.77 L192.25 713.2 L193.3 712.62 L194.35 712.02 L195.41 711.41 L196.48 710.79 L197.56 710.16 L198.64 709.51 L199.74 708.85 L200.84 708.19 L201.95 707.5 L203.06 706.81 L204.19 706.1 L205.32 705.39 L206.46 704.66 L207.61 703.91 L208.76 703.16 L209.93 702.39 L211.1 701.61 L212.28 700.82 L213.48 700.02 L214.68 699.2 L215.88 698.37 L217.1 697.53 L218.33 696.68 L219.56 695.81 L220.81 694.93 L222.06 694.05 L223.33 693.14 L224.6 692.23 L225.88 691.3 L227.17 690.37 L228.47 689.42 L229.79 688.45 L231.11 687.48 L232.44 686.49 L233.78 685.49 L235.13 684.48 L236.49 683.46 L237.87 682.43 L239.25 681.38 L240.64 680.32 L242.04 679.25 L243.46 678.17 L244.88 677.07 L246.32 675.96 L247.77 674.84 L249.22 673.71 L250.69 672.57 L252.17 671.41 L253.67 670.25 L255.17 669.07 L256.69 667.88 L258.21 666.67 L259.75 665.46 L261.3 664.23 L262.87 662.99 L264.44 661.73 L266.03 660.47 L267.63 659.19 L269.24 657.9 L270.86 656.6 L272.5 655.29 L274.15 653.96 L275.82 652.62 L277.49 651.27 L279.18 649.91 L280.88 648.53 L282.6 647.14 L284.33 645.74 L286.07 644.32 L287.83 642.89 L289.6 641.45 L291.39 640 L293.19 638.53 L295 637.05 L296.83 635.56 L298.67 634.05 L300.53 632.53 L302.4 631 L304.29 629.45 L306.19 627.89 L308.11 626.32 L310.04 624.73 L311.99 623.13 L313.95 621.51 L315.93 619.88 L317.93 618.24 L319.94 616.58 L321.97 614.91 L324.01 613.22 L326.07 611.52 L328.15 609.8 L330.25 608.07 L332.36 606.33 L334.48 604.57 L336.63 602.79 L338.79 601 L340.97 599.19 L343.17 597.37 L345.39 595.53 L347.62 593.68 L349.87 591.81 L352.14 589.92 L354.43 588.02 L356.74 586.11 L359.06 584.17 L361.41 582.22 L363.77 580.25 L366.15 578.27 L368.56 576.27 L370.98 574.25 L373.42 572.21 L375.88 570.16 L378.37 568.09 L380.87 566 L383.39 563.9 L385.94 561.77 L388.5 559.63 L391.09 557.47 L393.69 555.29 L396.32 553.1 L398.97 550.88 L401.64 548.65 L404.34 546.39 L407.05 544.12 L409.79 541.83 L412.55 539.52 L415.34 537.18 L418.14 534.83 L420.97 532.46 L423.83 530.07 L426.7 527.66 L429.6 525.23 L432.53 522.77 L435.48 520.3 L438.45 517.8 L441.45 515.29 L444.47 512.75 L447.52 510.19 L450.59 507.61 L453.69 505 L456.81 502.38 L459.96 499.73 L463.14 497.06 L466.34 494.37 L469.57 491.65 L472.83 488.91 L476.11 486.15 L479.42 483.36 L482.76 480.55 L486.12 477.72 L489.52 474.86 L492.94 471.98 L496.39 469.07 L499.87 466.14 L503.38 463.18 L506.92 460.2 L510.48 457.19 L514.08 454.16 L517.71 451.1 L521.36 448.02 L525.05 444.91 L528.77 441.77 L532.52 438.61 L536.3 435.41 L540.11 432.2 L543.96 428.95 L547.83 425.68 L551.74 422.37 L555.69 419.05 L559.66 415.69 L563.67 412.3 L567.71 408.89 L571.79 405.44 L575.9 401.97 L580.04 398.46 L584.22 394.93 L588.43 391.37 L592.68 387.77 L596.97 384.15 L601.29 380.49 L605.65 376.81 L610.04 373.09 L614.47 369.34 L618.94 365.56 L623.44 361.75 L627.99 357.9 L632.57 354.02 L637.19 350.11 L641.85 346.16 L646.55 342.19 L651.29 338.17 L656.06 334.13 L660.88 330.04 M136.25 729.54 L136.95 729.19 L137.65 728.89 L138.35 728.63 L139.06 728.39 L139.76 728.17 L140.48 727.96 L141.19 727.76 L141.91 727.56 L142.63 727.37 L143.36 727.19 L144.09 727.01 L144.82 726.83 L145.55 726.66 L146.29 726.48 L147.04 726.31 L147.78 726.13 L148.53 725.95 L149.29 725.77 L150.05 725.59 L150.81 725.4 L151.57 725.21 L152.34 725.01 L153.12 724.81 L153.89 724.61 L154.68 724.4 L155.46 724.18 L156.25 723.96 L157.05 723.73 L157.85 723.5 L158.65 723.25 L159.46 723 L160.27 722.74 L161.09 722.48 L161.91 722.2 L162.73 721.92 L163.56 721.63 L164.4 721.32 L165.24 721.01 L166.08 720.69 L166.93 720.36 L167.79 720.02 L168.65 719.67 L169.51 719.31 L170.38 718.94 L171.26 718.56 L172.14 718.16 L173.03 717.76 L173.92 717.34 L174.81 716.92 L175.72 716.48 L176.63 716.03 L177.54 715.57 L178.46 715.09 L179.38 714.61 L180.31 714.11 L181.25 713.6 L182.19 713.08 L183.14 712.55 L184.09 712 L185.05 711.44 L186.02 710.87 L186.99 710.28 L187.97 709.69 L188.96 709.08 L189.95 708.45 L190.95 707.82 L191.95 707.17 L192.96 706.51 L193.98 705.83 L195.01 705.14 L196.04 704.44 L197.08 703.73 L198.12 703 L199.18 702.26 L200.24 701.51 L201.3 700.74 L202.38 699.96 L203.46 699.16 L204.54 698.36 L205.64 697.54 L206.74 696.7 L207.85 695.85 L208.97 694.99 L210.1 694.12 L211.23 693.23 L212.38 692.33 L213.53 691.41 L214.68 690.49 L215.85 689.54 L217.02 688.59 L218.21 687.62 L219.4 686.64 L220.6 685.64 L221.8 684.64 L223.02 683.61 L224.24 682.58 L225.48 681.53 L226.72 680.47 L227.97 679.39 L229.23 678.3 L230.5 677.2 L231.78 676.09 L233.07 674.96 L234.36 673.81 L235.67 672.66 L236.99 671.49 L238.31 670.31 L239.65 669.11 L240.99 667.9 L242.35 666.68 L243.71 665.44 L245.09 664.19 L246.47 662.93 L247.87 661.65 L249.27 660.36 L250.69 659.06 L252.11 657.74 L253.55 656.41 L255 655.06 L256.46 653.71 L257.92 652.33 L259.41 650.95 L260.9 649.55 L262.4 648.14 L263.91 646.71 L265.44 645.27 L266.98 643.82 L268.52 642.35 L270.08 640.87 L271.66 639.37 L273.24 637.86 L274.84 636.33 L276.44 634.8 L278.06 633.24 L279.7 631.68 L281.34 630.1 L283 628.5 L284.67 626.89 L286.35 625.26 L288.05 623.62 L289.76 621.97 L291.48 620.3 L293.22 618.62 L294.97 616.92 L296.73 615.2 L298.51 613.47 L300.3 611.73 L302.1 609.97 L303.92 608.19 L305.75 606.4 L307.6 604.6 L309.46 602.77 L311.34 600.94 L313.23 599.08 L315.13 597.21 L317.05 595.32 L318.99 593.42 L320.94 591.5 L322.91 589.57 L324.89 587.61 L326.88 585.64 L328.9 583.66 L330.93 581.65 L332.97 579.63 L335.03 577.59 L337.11 575.54 L339.2 573.46 L341.31 571.37 L343.44 569.26 L345.58 567.14 L347.75 564.99 L349.92 562.83 L352.12 560.65 L354.33 558.45 L356.56 556.23 L358.81 553.99 L361.08 551.73 L363.36 549.45 L365.67 547.16 L367.99 544.84 L370.33 542.5 L372.69 540.15 L375.07 537.77 L377.47 535.38 L379.88 532.96 L382.32 530.52 L384.77 528.06 L387.25 525.58 L389.75 523.08 L392.26 520.56 L394.8 518.02 L397.36 515.46 L399.93 512.87 L402.53 510.26 L405.15 507.63 L407.79 504.98 L410.45 502.3 L413.14 499.6 L415.84 496.88 L418.57 494.14 L421.32 491.37 L424.1 488.58 L426.89 485.76 L429.71 482.92 L432.55 480.06 L435.41 477.17 L438.3 474.26 L441.21 471.32 L444.15 468.36 L447.11 465.37 L450.09 462.36 L453.1 459.32 L456.13 456.25 L459.19 453.16 L462.27 450.04 L465.38 446.9 L468.51 443.73 L471.67 440.53 L474.86 437.31 L478.07 434.05 L481.31 430.77 L484.57 427.47 L487.86 424.13 L491.18 420.77 L494.53 417.37 L497.9 413.95 L501.3 410.5 L504.73 407.02 L508.19 403.51 L511.68 399.97 L515.19 396.4 L518.74 392.8 L522.31 389.16 L525.91 385.5 L529.55 381.81 L533.21 378.08 L536.91 374.33 L540.63 370.54 L544.39 366.72 L548.17 362.86 L551.99 358.98 L555.84 355.06 L559.72 351.1 L563.64 347.12 L567.58 343.1 L571.56 339.04 L575.58 334.95 L579.62 330.83 L583.7 326.67 L587.82 322.47 L591.96 318.24 L596.15 313.97 L600.36 309.67 L604.62 305.33 L608.91 300.96 L613.23 296.54 L617.59 292.09 L621.99 287.6 L626.42 283.07 M136.25 726.55 L136.95 726.16 L137.65 725.83 L138.35 725.55 L139.05 725.28 L139.76 725.03 L140.47 724.8 L141.18 724.58 L141.89 724.36 L142.61 724.15 L143.33 723.95 L144.05 723.75 L144.77 723.55 L145.5 723.35 L146.23 723.15 L146.97 722.96 L147.7 722.76 L148.44 722.56 L149.19 722.35 L149.93 722.14 L150.68 721.93 L151.44 721.72 L152.19 721.49 L152.95 721.27 L153.71 721.04 L154.48 720.8 L155.25 720.55 L156.02 720.3 L156.8 720.04 L157.58 719.77 L158.37 719.5 L159.15 719.21 L159.95 718.92 L160.74 718.62 L161.54 718.31 L162.35 717.99 L163.15 717.66 L163.97 717.32 L164.78 716.97 L165.6 716.61 L166.43 716.24 L167.25 715.85 L168.09 715.46 L168.92 715.06 L169.77 714.64 L170.61 714.21 L171.46 713.77 L172.32 713.32 L173.18 712.86 L174.04 712.38 L174.91 711.9 L175.78 711.39 L176.66 710.88 L177.55 710.36 L178.43 709.82 L179.33 709.27 L180.23 708.7 L181.13 708.12 L182.04 707.53 L182.95 706.93 L183.87 706.31 L184.79 705.68 L185.72 705.03 L186.66 704.38 L187.6 703.7 L188.55 703.02 L189.5 702.32 L190.45 701.6 L191.42 700.88 L192.39 700.13 L193.36 699.38 L194.34 698.61 L195.33 697.82 L196.32 697.03 L197.32 696.21 L198.32 695.39 L199.33 694.54 L200.35 693.69 L201.38 692.82 L202.41 691.93 L203.44 691.04 L204.48 690.12 L205.53 689.2 L206.59 688.25 L207.65 687.3 L208.72 686.33 L209.8 685.34 L210.88 684.34 L211.97 683.33 L213.07 682.3 L214.17 681.25 L215.28 680.19 L216.4 679.12 L217.53 678.03 L218.66 676.93 L219.8 675.81 L220.95 674.68 L222.11 673.54 L223.27 672.38 L224.44 671.2 L225.62 670.01 L226.81 668.81 L228 667.59 L229.21 666.35 L230.42 665.11 L231.64 663.84 L232.87 662.57 L234.1 661.27 L235.35 659.97 L236.6 658.64 L237.86 657.31 L239.13 655.95 L240.41 654.59 L241.7 653.21 L242.99 651.81 L244.3 650.4 L245.62 648.97 L246.94 647.53 L248.27 646.08 L249.62 644.61 L250.97 643.12 L252.33 641.62 L253.7 640.1 L255.08 638.57 L256.47 637.03 L257.87 635.46 L259.28 633.89 L260.7 632.29 L262.13 630.69 L263.58 629.06 L265.03 627.42 L266.49 625.77 L267.96 624.1 L269.44 622.41 L270.94 620.71 L272.44 618.99 L273.96 617.26 L275.48 615.51 L277.02 613.75 L278.57 611.96 L280.13 610.17 L281.7 608.35 L283.29 606.52 L284.88 604.68 L286.49 602.81 L288.11 600.93 L289.74 599.03 L291.38 597.12 L293.03 595.19 L294.7 593.24 L296.38 591.28 L298.07 589.29 L299.78 587.29 L301.49 585.28 L303.22 583.24 L304.97 581.19 L306.72 579.12 L308.49 577.03 L310.28 574.92 L312.07 572.79 L313.88 570.65 L315.71 568.49 L317.54 566.31 L319.4 564.11 L321.26 561.89 L323.14 559.65 L325.04 557.39 L326.94 555.11 L328.87 552.82 L330.8 550.5 L332.76 548.16 L334.73 545.81 L336.71 543.43 L338.71 541.03 L340.72 538.62 L342.75 536.18 L344.79 533.72 L346.85 531.24 L348.93 528.74 L351.02 526.22 L353.13 523.67 L355.26 521.11 L357.4 518.52 L359.56 515.91 L361.73 513.28 L363.93 510.62 L366.13 507.94 L368.36 505.24 L370.61 502.52 L372.87 499.77 L375.15 497 L377.44 494.21 L379.76 491.39 L382.09 488.55 L384.45 485.69 L386.82 482.8 L389.21 479.88 L391.61 476.94 L394.04 473.98 L396.49 470.99 L398.95 467.97 L401.44 464.93 L403.94 461.86 L406.47 458.77 L409.02 455.65 L411.58 452.51 L414.17 449.33 L416.77 446.13 L419.4 442.91 L422.05 439.65 L424.72 436.37 L427.41 433.06 L430.12 429.72 L432.86 426.35 L435.61 422.96 L438.39 419.53 L441.19 416.08 L444.02 412.6 L446.86 409.08 L449.73 405.54 L452.62 401.97 L455.54 398.36 L458.48 394.73 L461.44 391.07 L464.42 387.37 L467.44 383.64 L470.47 379.88 L473.53 376.09 L476.61 372.27 L479.72 368.41 L482.86 364.52 L486.02 360.6 L489.2 356.64 L492.42 352.65 L495.65 348.63 L498.92 344.57 L502.21 340.48 L505.53 336.35 L508.87 332.19 L512.24 327.99 L515.64 323.76 L519.07 319.49 L522.53 315.18 L526.01 310.84 L529.52 306.46 L533.06 302.04 L536.63 297.59 L540.23 293.09 L543.86 288.56 L547.52 283.99 L551.21 279.39 L554.93 274.74 L558.68 270.05 L562.46 265.32 L566.27 260.56 L570.11 255.75 L573.98 250.9 L577.89 246.01 L581.83 241.08 L585.8 236.1 M136.25 723.55 L136.95 723.12 L137.65 722.77 L138.34 722.46 L139.05 722.17 L139.75 721.9 L140.45 721.64 L141.16 721.4 L141.87 721.16 L142.58 720.93 L143.29 720.7 L144.01 720.48 L144.73 720.26 L145.45 720.04 L146.17 719.82 L146.89 719.6 L147.62 719.37 L148.35 719.15 L149.08 718.92 L149.81 718.68 L150.55 718.44 L151.29 718.2 L152.03 717.95 L152.77 717.69 L153.52 717.43 L154.27 717.16 L155.02 716.88 L155.77 716.6 L156.53 716.31 L157.29 716.01 L158.06 715.69 L158.82 715.37 L159.59 715.05 L160.37 714.71 L161.14 714.36 L161.92 714 L162.7 713.63 L163.49 713.25 L164.28 712.85 L165.07 712.45 L165.87 712.03 L166.67 711.61 L167.47 711.17 L168.27 710.72 L169.08 710.25 L169.9 709.78 L170.71 709.29 L171.53 708.79 L172.36 708.28 L173.19 707.75 L174.02 707.21 L174.86 706.66 L175.7 706.09 L176.54 705.51 L177.39 704.91 L178.24 704.31 L179.09 703.68 L179.95 703.05 L180.82 702.4 L181.69 701.73 L182.56 701.05 L183.44 700.36 L184.32 699.65 L185.21 698.93 L186.1 698.2 L186.99 697.45 L187.89 696.68 L188.8 695.9 L189.71 695.1 L190.62 694.29 L191.54 693.47 L192.46 692.63 L193.39 691.77 L194.32 690.9 L195.26 690.02 L196.2 689.12 L197.15 688.2 L198.11 687.27 L199.06 686.32 L200.03 685.36 L201 684.38 L201.97 683.39 L202.95 682.38 L203.94 681.36 L204.93 680.32 L205.93 679.27 L206.93 678.2 L207.94 677.11 L208.95 676.01 L209.97 674.9 L210.99 673.76 L212.03 672.62 L213.06 671.45 L214.11 670.27 L215.16 669.08 L216.21 667.87 L217.27 666.64 L218.34 665.4 L219.42 664.14 L220.5 662.87 L221.58 661.58 L222.68 660.28 L223.78 658.95 L224.88 657.62 L226 656.26 L227.12 654.9 L228.25 653.51 L229.38 652.11 L230.52 650.69 L231.67 649.26 L232.82 647.81 L233.99 646.35 L235.16 644.87 L236.33 643.37 L237.52 641.86 L238.71 640.33 L239.91 638.78 L241.12 637.22 L242.33 635.64 L243.55 634.05 L244.78 632.43 L246.02 630.81 L247.27 629.16 L248.52 627.5 L249.78 625.82 L251.05 624.13 L252.33 622.42 L253.62 620.69 L254.91 618.94 L256.22 617.18 L257.53 615.4 L258.85 613.61 L260.18 611.79 L261.52 609.96 L262.86 608.11 L264.22 606.25 L265.58 604.36 L266.96 602.46 L268.34 600.55 L269.73 598.61 L271.14 596.66 L272.55 594.68 L273.97 592.69 L275.4 590.69 L276.84 588.66 L278.29 586.61 L279.75 584.55 L281.22 582.47 L282.7 580.37 L284.19 578.25 L285.69 576.11 L287.2 573.96 L288.72 571.78 L290.26 569.58 L291.8 567.37 L293.35 565.13 L294.92 562.88 L296.49 560.61 L298.08 558.31 L299.68 556 L301.28 553.67 L302.9 551.31 L304.54 548.94 L306.18 546.54 L307.83 544.12 L309.5 541.69 L311.18 539.23 L312.87 536.75 L314.57 534.25 L316.29 531.72 L318.01 529.18 L319.75 526.61 L321.5 524.03 L323.27 521.41 L325.04 518.78 L326.83 516.13 L328.64 513.45 L330.45 510.74 L332.28 508.02 L334.13 505.27 L335.98 502.5 L337.85 499.7 L339.74 496.88 L341.63 494.04 L343.54 491.17 L345.47 488.28 L347.41 485.36 L349.36 482.42 L351.33 479.45 L353.31 476.46 L355.31 473.44 L357.32 470.4 L359.35 467.33 L361.39 464.23 L363.45 461.11 L365.52 457.96 L367.61 454.79 L369.72 451.58 L371.84 448.35 L373.97 445.09 L376.13 441.81 L378.29 438.49 L380.48 435.15 L382.68 431.78 L384.9 428.38 L387.13 424.95 L389.38 421.5 L391.65 418.01 L393.94 414.49 L396.24 410.95 L398.56 407.37 L400.9 403.76 L403.26 400.12 L405.63 396.46 L408.03 392.76 L410.44 389.02 L412.87 385.26 L415.32 381.46 L417.79 377.64 L420.27 373.77 L422.78 369.88 L425.3 365.95 L427.85 361.99 L430.41 358 L433 353.97 L435.6 349.91 L438.23 345.81 L440.87 341.68 L443.54 337.51 L446.22 333.31 L448.93 329.07 L451.66 324.8 L454.41 320.49 L457.18 316.14 L459.97 311.76 L462.79 307.33 L465.63 302.87 L468.49 298.38 L471.37 293.84 L474.27 289.27 L477.2 284.65 L480.15 280 L483.13 275.31 L486.12 270.57 L489.15 265.8 L492.19 260.99 L495.26 256.13 L498.36 251.24 L501.47 246.3 L504.62 241.32 L507.79 236.3 L510.98 231.23 L514.2 226.12 L517.44 220.97 L520.71 215.78 L524.01 210.54 L527.33 205.25 L530.68 199.92 L534.06 194.55 L537.46 189.13 M136.25 720.56 L136.95 720.09 L137.64 719.71 L138.34 719.37 L139.04 719.06 L139.74 718.76 L140.44 718.48 L141.14 718.22 L141.85 717.96 L142.55 717.7 L143.26 717.45 L143.96 717.21 L144.67 716.96 L145.38 716.72 L146.09 716.47 L146.81 716.22 L147.52 715.97 L148.24 715.72 L148.96 715.46 L149.68 715.2 L150.4 714.93 L151.12 714.66 L151.85 714.38 L152.57 714.09 L153.3 713.79 L154.03 713.49 L154.77 713.18 L155.5 712.86 L156.24 712.53 L156.98 712.19 L157.72 711.84 L158.46 711.48 L159.21 711.11 L159.96 710.73 L160.71 710.34 L161.46 709.94 L162.21 709.53 L162.97 709.1 L163.73 708.66 L164.49 708.21 L165.26 707.75 L166.02 707.28 L166.79 706.79 L167.56 706.29 L168.34 705.77 L169.12 705.25 L169.9 704.71 L170.68 704.15 L171.47 703.58 L172.25 703 L173.05 702.41 L173.84 701.8 L174.64 701.17 L175.44 700.53 L176.24 699.88 L177.05 699.21 L177.86 698.53 L178.67 697.83 L179.48 697.12 L180.3 696.39 L181.12 695.65 L181.95 694.89 L182.78 694.12 L183.61 693.33 L184.44 692.53 L185.28 691.71 L186.13 690.88 L186.97 690.03 L187.82 689.16 L188.67 688.28 L189.53 687.38 L190.39 686.47 L191.25 685.54 L192.12 684.6 L192.99 683.64 L193.87 682.66 L194.74 681.67 L195.63 680.66 L196.51 679.64 L197.4 678.6 L198.3 677.54 L199.2 676.47 L200.1 675.38 L201 674.27 L201.92 673.15 L202.83 672.01 L203.75 670.86 L204.67 669.69 L205.6 668.5 L206.53 667.3 L207.47 666.08 L208.41 664.84 L209.36 663.58 L210.31 662.31 L211.26 661.03 L212.22 659.72 L213.18 658.4 L214.15 657.07 L215.12 655.71 L216.1 654.34 L217.09 652.95 L218.07 651.55 L219.07 650.13 L220.06 648.69 L221.07 647.23 L222.07 645.76 L223.09 644.27 L224.1 642.76 L225.13 641.24 L226.16 639.7 L227.19 638.14 L228.23 636.56 L229.27 634.97 L230.32 633.36 L231.38 631.73 L232.44 630.08 L233.51 628.42 L234.58 626.74 L235.66 625.04 L236.74 623.32 L237.83 621.59 L238.93 619.84 L240.03 618.06 L241.13 616.28 L242.25 614.47 L243.37 612.64 L244.49 610.8 L245.62 608.94 L246.76 607.06 L247.91 605.16 L249.06 603.25 L250.21 601.31 L251.38 599.36 L252.55 597.38 L253.72 595.39 L254.91 593.38 L256.1 591.35 L257.29 589.3 L258.5 587.23 L259.71 585.15 L260.93 583.04 L262.15 580.91 L263.38 578.77 L264.62 576.6 L265.87 574.41 L267.12 572.21 L268.38 569.98 L269.65 567.74 L270.92 565.47 L272.21 563.18 L273.5 560.87 L274.79 558.55 L276.1 556.2 L277.41 553.82 L278.73 551.43 L280.06 549.02 L281.4 546.59 L282.75 544.13 L284.1 541.65 L285.46 539.15 L286.83 536.63 L288.21 534.09 L289.6 531.52 L290.99 528.93 L292.4 526.32 L293.81 523.68 L295.23 521.03 L296.66 518.35 L298.1 515.64 L299.55 512.91 L301 510.16 L302.47 507.39 L303.95 504.59 L305.43 501.77 L306.92 498.92 L308.43 496.05 L309.94 493.15 L311.46 490.23 L313 487.28 L314.54 484.31 L316.09 481.31 L317.65 478.28 L319.22 475.23 L320.81 472.16 L322.4 469.06 L324 465.93 L325.61 462.77 L327.24 459.59 L328.87 456.38 L330.52 453.14 L332.17 449.87 L333.84 446.58 L335.52 443.26 L337.2 439.91 L338.9 436.53 L340.61 433.12 L342.34 429.68 L344.07 426.22 L345.82 422.72 L347.57 419.2 L349.34 415.64 L351.12 412.05 L352.92 408.44 L354.72 404.79 L356.54 401.11 L358.37 397.4 L360.21 393.66 L362.06 389.88 L363.93 386.08 L365.81 382.24 L367.7 378.37 L369.61 374.46 L371.52 370.53 L373.46 366.56 L375.4 362.55 L377.36 358.51 L379.33 354.44 L381.32 350.33 L383.31 346.19 L385.33 342.01 L387.36 337.79 L389.4 333.54 L391.45 329.26 L393.52 324.94 L395.61 320.58 L397.71 316.18 L399.82 311.74 L401.95 307.27 L404.09 302.76 L406.25 298.21 L408.43 293.63 L410.62 289 L412.82 284.33 L415.04 279.63 L417.28 274.88 L419.53 270.1 L421.8 265.27 L424.09 260.4 L426.39 255.49 L428.71 250.54 L431.04 245.55 L433.39 240.51 L435.76 235.43 L438.15 230.31 L440.55 225.14 L442.97 219.93 L445.41 214.68 L447.87 209.38 L450.34 204.04 L452.84 198.65 L455.35 193.21 L457.88 187.73 L460.42 182.2 L462.99 176.62 L465.58 171 L468.18 165.33 L470.8 159.61 L473.45 153.84 L476.11 148.02 L478.79 142.16 M136.25 717.56 L136.95 717.06 L137.64 716.65 L138.34 716.29 L139.03 715.95 L139.73 715.63 L140.43 715.32 L141.12 715.03 L141.82 714.75 L142.52 714.47 L143.22 714.2 L143.92 713.92 L144.62 713.65 L145.32 713.38 L146.02 713.11 L146.72 712.84 L147.42 712.56 L148.12 712.27 L148.83 711.99 L149.53 711.69 L150.24 711.39 L150.95 711.09 L151.65 710.77 L152.36 710.45 L153.07 710.12 L153.78 709.78 L154.49 709.43 L155.21 709.07 L155.92 708.7 L156.64 708.32 L157.35 707.93 L158.07 707.53 L158.79 707.12 L159.51 706.69 L160.23 706.26 L160.96 705.81 L161.68 705.35 L162.41 704.87 L163.13 704.39 L163.86 703.89 L164.59 703.37 L165.33 702.85 L166.06 702.31 L166.79 701.75 L167.53 701.18 L168.27 700.6 L169.01 700 L169.75 699.39 L170.49 698.76 L171.24 698.12 L171.99 697.47 L172.73 696.8 L173.48 696.11 L174.24 695.41 L174.99 694.69 L175.75 693.96 L176.5 693.22 L177.26 692.45 L178.03 691.67 L178.79 690.88 L179.56 690.07 L180.32 689.24 L181.09 688.4 L181.86 687.55 L182.64 686.67 L183.41 685.78 L184.19 684.88 L184.97 683.95 L185.76 683.01 L186.54 682.06 L187.33 681.09 L188.12 680.1 L188.91 679.09 L189.7 678.07 L190.5 677.03 L191.3 675.98 L192.1 674.91 L192.9 673.82 L193.71 672.72 L194.52 671.59 L195.33 670.45 L196.14 669.3 L196.95 668.13 L197.77 666.94 L198.59 665.73 L199.42 664.5 L200.24 663.26 L201.07 662 L201.9 660.73 L202.73 659.43 L203.57 658.12 L204.41 656.79 L205.25 655.45 L206.1 654.09 L206.94 652.71 L207.79 651.31 L208.65 649.89 L209.5 648.46 L210.36 647.01 L211.22 645.54 L212.09 644.05 L212.95 642.55 L213.82 641.02 L214.7 639.48 L215.57 637.92 L216.45 636.35 L217.34 634.75 L218.22 633.14 L219.11 631.51 L220 629.86 L220.9 628.19 L221.79 626.5 L222.69 624.8 L223.6 623.07 L224.51 621.33 L225.42 619.57 L226.33 617.79 L227.25 615.99 L228.17 614.17 L229.09 612.34 L230.02 610.48 L230.95 608.6 L231.88 606.71 L232.82 604.8 L233.76 602.86 L234.71 600.91 L235.66 598.94 L236.61 596.95 L237.56 594.94 L238.52 592.9 L239.48 590.85 L240.45 588.78 L241.42 586.69 L242.39 584.58 L243.37 582.45 L244.35 580.29 L245.33 578.12 L246.32 575.93 L247.31 573.71 L248.31 571.47 L249.31 569.22 L250.31 566.94 L251.32 564.64 L252.33 562.32 L253.35 559.98 L254.37 557.61 L255.39 555.23 L256.42 552.82 L257.45 550.39 L258.48 547.94 L259.52 545.46 L260.57 542.97 L261.62 540.45 L262.67 537.91 L263.72 535.34 L264.79 532.75 L265.85 530.14 L266.92 527.51 L267.99 524.85 L269.07 522.17 L270.15 519.46 L271.24 516.73 L272.33 513.97 L273.43 511.2 L274.53 508.39 L275.63 505.56 L276.74 502.71 L277.86 499.83 L278.97 496.93 L280.1 494 L281.23 491.05 L282.36 488.07 L283.5 485.06 L284.64 482.03 L285.78 478.97 L286.94 475.88 L288.09 472.77 L289.25 469.63 L290.42 466.46 L291.59 463.27 L292.77 460.05 L293.95 456.8 L295.14 453.52 L296.33 450.21 L297.53 446.88 L298.73 443.52 L299.94 440.12 L301.15 436.7 L302.37 433.25 L303.59 429.77 L304.82 426.26 L306.05 422.72 L307.29 419.14 L308.53 415.54 L309.78 411.91 L311.04 408.24 L312.3 404.55 L313.57 400.82 L314.84 397.06 L316.12 393.27 L317.4 389.44 L318.69 385.59 L319.98 381.7 L321.28 377.77 L322.59 373.81 L323.9 369.82 L325.22 365.8 L326.55 361.74 L327.88 357.64 L329.21 353.52 L330.55 349.35 L331.9 345.15 L333.26 340.91 L334.62 336.64 L335.98 332.33 L337.36 327.99 L338.74 323.61 L340.12 319.19 L341.51 314.73 L342.91 310.23 L344.32 305.7 L345.73 301.13 L347.15 296.51 L348.57 291.86 L350 287.17 L351.44 282.44 L352.88 277.67 L354.34 272.86 L355.79 268 L357.26 263.11 L358.73 258.17 L360.21 253.2 L361.7 248.18 L363.19 243.11 L364.69 238.01 L366.19 232.86 L367.71 227.66 L369.23 222.42 L370.76 217.14 L372.29 211.81 L373.84 206.44 L375.39 201.02 L376.95 195.56 L378.51 190.04 L380.08 184.48 L381.67 178.88 L383.25 173.22 L384.85 167.52 L386.45 161.77 L388.07 155.97 L389.68 150.12 L391.31 144.22 L392.95 138.27 L394.59 132.27 L396.24 126.22 L397.9 120.12 L399.57 113.97 L401.25 107.76 L402.93 101.5 L404.62 95.19" fill="none" stroke="#000" stroke-width="1.65" stroke-linejoin="round"/>
<rect x="141.66" y="721.75" width="92.93" height="37.75" fill="#008000" fill-opacity="0.4"/>
<rect x="141.66" y="717.23" width="92.93" height="4.53" fill="#0000e0" fill-opacity="0.72"/>
<rect x="136.25" y="717.56" width="5.08" height="41.94" fill="url(#gred)"/>
<line x1="136.25" y1="759.5" x2="136.25" y2="717.56" stroke="#a06010" stroke-opacity="0.7" stroke-width="0.9" stroke-dasharray="1 1.6"/>
</g>
<rect x="54.3" y="415.6" width="336" height="343.9" fill="none" stroke="#000" stroke-width="1.2"/>
<g clip-path="url(#clip_e)">
<ellipse cx="625.65" cy="587.55" rx="163.05" ry="166.74" fill="#dcdcdc"/>
<path d="M727.56 587.55 L727.56 584.23 L727.56 580.91 L727.56 577.6 L727.56 574.29 L727.3 571 L726.74 567.73 L726.07 564.48 L725.31 561.25 L724.45 558.04 L723.49 554.87 L722.43 551.72 L721.28 548.62 L720.03 545.55 L718.69 542.52 L717.25 539.54 L715.72 536.61 L714.1 533.73 L712.4 530.9 L710.61 528.13 L708.73 525.41 L706.77 522.76 L704.73 520.18 L702.61 517.66 L700.41 515.21 L698.14 512.83 L695.8 510.53 L693.39 508.3 L690.91 506.15 L688.36 504.09 L685.75 502.11 L683.09 500.21 L680.36 498.4 L677.58 496.68 L674.75 495.04 L671.87 493.51 L668.94 492.06 L665.98 490.71 L662.97 489.46 L659.92 488.3 L656.84 487.24 L653.73 486.29 L650.59 485.43 L647.42 484.68 L644.23 484.03 L641.03 483.48 L637.81 483.34 L634.58 483.34 L631.33 483.34 L628.09 483.34 L624.84 483.34 L621.59 483.34 L618.34 483.34 L615.11 483.34 L611.88 483.34 L608.67 483.74 L605.47 484.34 L602.29 485.04 L599.14 485.85 L596.01 486.75 L592.92 487.76 L589.85 488.87 L586.82 490.07 L583.83 491.37 L580.89 492.77 L577.98 494.26 L575.13 495.85 L572.32 497.53 L569.57 499.29 L566.87 501.15 L564.23 503.09 L561.66 505.11 L559.14 507.22 L556.7 509.41 L554.32 511.67 L552.01 514.01 L549.78 516.42 L547.62 518.91 L545.54 521.46 L543.54 524.08 L541.62 526.76 L539.79 529.51 L538.04 532.31 L536.38 535.16 L534.8 538.07 L533.32 541.03 L531.93 544.03 L530.63 547.08 L529.43 550.17 L528.33 553.29 L527.32 556.45 L526.41 559.64 L525.59 562.86 L524.88 566.1 L524.27 569.36 L523.76 572.65 L523.74 575.94 L523.74 579.25 L523.74 582.57 L523.74 585.89 L523.74 589.21 L523.74 592.53 L523.74 595.85 L523.74 599.16 L523.76 602.45 L524.27 605.74 L524.88 609 L525.59 612.24 L526.41 615.46 L527.32 618.65 L528.33 621.81 L529.43 624.93 L530.63 628.02 L531.93 631.07 L533.32 634.07 L534.8 637.03 L536.38 639.94 L538.04 642.79 L539.79 645.59 L541.62 648.34 L543.54 651.02 L545.54 653.64 L547.62 656.19 L549.78 658.68 L552.01 661.09 L554.32 663.43 L556.7 665.69 L559.14 667.88 L561.66 669.99 L564.23 672.01 L566.87 673.95 L569.57 675.81 L572.32 677.57 L575.13 679.25 L577.98 680.84 L580.89 682.33 L583.83 683.73 L586.82 685.03 L589.85 686.23 L592.92 687.34 L596.01 688.35 L599.14 689.25 L602.29 690.06 L605.47 690.76 L608.67 691.36 L611.88 691.76 L615.11 691.76 L618.34 691.76 L621.59 691.76 L624.84 691.76 L628.09 691.76 L631.33 691.76 L634.58 691.76 L637.81 691.76 L641.03 691.62 L644.23 691.07 L647.42 690.42 L650.59 689.67 L653.73 688.81 L656.84 687.86 L659.92 686.8 L662.97 685.64 L665.98 684.39 L668.94 683.04 L671.87 681.59 L674.75 680.06 L677.58 678.42 L680.36 676.7 L683.09 674.89 L685.75 672.99 L688.36 671.01 L690.91 668.95 L693.39 666.8 L695.8 664.57 L698.14 662.27 L700.41 659.89 L702.61 657.44 L704.73 654.92 L706.77 652.34 L708.73 649.69 L710.61 646.97 L712.4 644.2 L714.1 641.37 L715.72 638.49 L717.25 635.56 L718.69 632.58 L720.03 629.55 L721.28 626.48 L722.43 623.38 L723.49 620.23 L724.45 617.06 L725.31 613.85 L726.07 610.62 L726.74 607.37 L727.3 604.1 L727.56 600.81 L727.56 597.5 L727.56 594.19 L727.56 590.87 L727.56 587.55Z" fill="#67b267" stroke="#55aa55" stroke-width="0.8"/>
<ellipse cx="625.65" cy="587.55" rx="40.76" ry="41.68" fill="#fec866" stroke="#d9a521" stroke-width="1.2"/>
<path d="M625.65 545.87 L624.49 544.69 L623.29 543.52 L622.06 542.35 L620.8 541.17 L619.51 540 L618.19 538.83 L616.83 537.66 L615.44 536.48 L614.02 535.31 L612.57 534.14 L611.08 532.96 L609.56 531.79 L608.01 530.62 L606.43 529.45 L604.82 528.27 L603.17 527.1 L601.49 525.93 L599.78 524.75 L598.03 523.58 L596.26 522.41 L594.45 521.24 L592.61 520.06 L590.74 518.89 L588.83 517.72 L586.89 516.54 L584.92 515.37 L582.92 514.2 L580.89 513.03 L578.82 511.85 L576.72 510.68 L574.59 509.51 L572.43 508.33 L570.23 507.16 L568 505.99 L565.74 504.82 L563.45 503.64 L561.13 502.47 L558.77 501.3 L556.38 500.12 L553.96 498.95 L551.5 497.78 L549.02 496.61 L546.5 495.43 L543.95 494.26 L541.37 493.09 L538.75 491.92 L536.1 490.74 L533.42 489.57 L530.71 488.4 L527.97 487.22 L525.19 486.05 L522.38 484.88 L519.54 483.71 L516.67 482.53 L513.76 481.36 L510.83 480.19 L507.86 479.01 L504.85 477.84 L501.82 476.67 M666.41 587.55 L667.56 586.36 L668.71 585.14 L669.85 583.88 L671 582.59 L672.15 581.27 L673.3 579.92 L674.44 578.53 L675.59 577.11 L676.74 575.66 L677.88 574.17 L679.03 572.65 L680.18 571.1 L681.32 569.51 L682.47 567.9 L683.62 566.25 L684.76 564.56 L685.91 562.84 L687.06 561.09 L688.2 559.31 L689.35 557.49 L690.5 555.64 L691.65 553.76 L692.79 551.85 L693.94 549.9 L695.09 547.92 L696.23 545.9 L697.38 543.86 L698.53 541.78 L699.67 539.66 L700.82 537.52 L701.97 535.34 L703.11 533.12 L704.26 530.88 L705.41 528.6 L706.56 526.29 L707.7 523.95 L708.85 521.57 L710 519.16 L711.14 516.71 L712.29 514.24 L713.44 511.73 L714.58 509.19 L715.73 506.61 L716.88 504 L718.02 501.36 L719.17 498.69 L720.32 495.98 L721.47 493.24 L722.61 490.47 L723.76 487.66 L724.91 484.82 L726.05 481.95 L727.2 479.04 L728.35 476.11 L729.49 473.13 L730.64 470.13 L731.79 467.09 L732.93 464.02 L734.08 460.92 M625.65 629.23 L626.81 630.41 L628.01 631.58 L629.24 632.75 L630.5 633.93 L631.79 635.1 L633.11 636.27 L634.47 637.44 L635.86 638.62 L637.28 639.79 L638.73 640.96 L640.22 642.14 L641.74 643.31 L643.29 644.48 L644.87 645.65 L646.48 646.83 L648.13 648 L649.81 649.17 L651.52 650.35 L653.27 651.52 L655.04 652.69 L656.85 653.86 L658.69 655.04 L660.56 656.21 L662.47 657.38 L664.41 658.56 L666.38 659.73 L668.38 660.9 L670.41 662.07 L672.48 663.25 L674.58 664.42 L676.71 665.59 L678.87 666.77 L681.07 667.94 L683.3 669.11 L685.56 670.28 L687.85 671.46 L690.17 672.63 L692.53 673.8 L694.92 674.98 L697.34 676.15 L699.8 677.32 L702.28 678.49 L704.8 679.67 L707.35 680.84 L709.93 682.01 L712.55 683.18 L715.2 684.36 L717.88 685.53 L720.59 686.7 L723.33 687.88 L726.11 689.05 L728.92 690.22 L731.76 691.39 L734.63 692.57 L737.54 693.74 L740.47 694.91 L743.44 696.09 L746.45 697.26 L749.48 698.43 M584.89 587.55 L583.74 588.74 L582.59 589.96 L581.45 591.22 L580.3 592.51 L579.15 593.83 L578 595.18 L576.86 596.57 L575.71 597.99 L574.56 599.44 L573.42 600.93 L572.27 602.45 L571.12 604 L569.98 605.59 L568.83 607.2 L567.68 608.85 L566.54 610.54 L565.39 612.26 L564.24 614.01 L563.1 615.79 L561.95 617.61 L560.8 619.46 L559.65 621.34 L558.51 623.25 L557.36 625.2 L556.21 627.18 L555.07 629.2 L553.92 631.24 L552.77 633.32 L551.63 635.44 L550.48 637.58 L549.33 639.76 L548.19 641.98 L547.04 644.22 L545.89 646.5 L544.74 648.81 L543.6 651.15 L542.45 653.53 L541.3 655.94 L540.16 658.39 L539.01 660.86 L537.86 663.37 L536.72 665.91 L535.57 668.49 L534.42 671.1 L533.28 673.74 L532.13 676.41 L530.98 679.12 L529.83 681.86 L528.69 684.63 L527.54 687.44 L526.39 690.28 L525.25 693.15 L524.1 696.06 L522.95 698.99 L521.81 701.97 L520.66 704.97 L519.51 708.01 L518.37 711.08 L517.22 714.18" fill="none" stroke="#1f77b4" stroke-width="2.5"/>
<path d="M571.43 506.68 L571.29 506.4 L571.35 506.31 L571.61 506.41 L572.09 506.71 L572.78 507.2 L573.67 507.88 L574.78 508.75 L576.09 509.82 L577.61 511.08 L579.34 512.53 L581.28 514.17 L583.42 516.01 L585.67 517.94 L587.73 519.74 L589.61 521.39 L591.3 522.89 L592.79 524.24 L594.1 525.45 L595.22 526.5 L596.15 527.41 L596.92 528.2 L597.68 528.97 L598.43 529.73 L599.18 530.48 L599.94 531.23 L600.69 531.98 L601.44 532.72 L602.19 533.45 L602.94 534.17 L603.64 534.88 L604.29 535.58 L604.9 536.25 L605.45 536.91 L605.94 537.55 L606.39 538.18 L606.79 538.78 L607.14 539.37 L607.48 539.97 L607.84 540.57 L608.21 541.18 L608.59 541.8 L609 542.43 L609.41 543.07 L609.84 543.72 L610.28 544.38 L610.74 545.05 L611.21 545.73 L611.7 546.42 L612.2 547.12 M704.73 532.11 L705.01 531.96 L705.09 532.02 L704.99 532.29 L704.7 532.78 L704.23 533.48 L703.56 534.4 L702.71 535.53 L701.66 536.87 L700.43 538.42 L699.01 540.19 L697.4 542.17 L695.61 544.37 L693.72 546.66 L691.96 548.77 L690.35 550.69 L688.88 552.42 L687.56 553.95 L686.38 555.29 L685.35 556.43 L684.46 557.38 L683.69 558.17 L682.94 558.94 L682.2 559.72 L681.46 560.49 L680.72 561.26 L679.99 562.03 L679.27 562.79 L678.56 563.56 L677.85 564.33 L677.15 565.05 L676.47 565.71 L675.81 566.33 L675.17 566.89 L674.54 567.4 L673.93 567.86 L673.34 568.26 L672.76 568.62 L672.18 568.97 L671.59 569.33 L671 569.71 L670.39 570.11 L669.77 570.52 L669.15 570.94 L668.51 571.38 L667.86 571.83 L667.21 572.3 L666.55 572.79 L665.87 573.28 L665.19 573.79 M679.87 668.42 L680.01 668.7 L679.95 668.79 L679.69 668.69 L679.21 668.39 L678.52 667.9 L677.63 667.22 L676.52 666.35 L675.21 665.28 L673.69 664.02 L671.96 662.57 L670.02 660.93 L667.88 659.09 L665.63 657.16 L663.57 655.36 L661.69 653.71 L660 652.21 L658.51 650.86 L657.2 649.65 L656.08 648.6 L655.15 647.69 L654.38 646.9 L653.62 646.13 L652.87 645.37 L652.12 644.62 L651.36 643.87 L650.61 643.12 L649.86 642.38 L649.11 641.65 L648.36 640.93 L647.66 640.22 L647.01 639.52 L646.4 638.85 L645.85 638.19 L645.36 637.55 L644.91 636.92 L644.51 636.32 L644.16 635.73 L643.82 635.13 L643.46 634.53 L643.09 633.92 L642.71 633.3 L642.3 632.67 L641.89 632.03 L641.46 631.38 L641.02 630.72 L640.56 630.05 L640.09 629.37 L639.6 628.68 L639.1 627.98 M546.57 642.99 L546.29 643.14 L546.21 643.08 L546.31 642.81 L546.6 642.32 L547.07 641.62 L547.74 640.7 L548.59 639.57 L549.64 638.23 L550.87 636.68 L552.29 634.91 L553.9 632.93 L555.69 630.73 L557.58 628.44 L559.34 626.33 L560.95 624.41 L562.42 622.68 L563.74 621.15 L564.92 619.81 L565.95 618.67 L566.84 617.72 L567.61 616.93 L568.36 616.16 L569.1 615.38 L569.84 614.61 L570.58 613.84 L571.31 613.07 L572.03 612.31 L572.74 611.54 L573.45 610.77 L574.15 610.05 L574.83 609.39 L575.49 608.77 L576.13 608.21 L576.76 607.7 L577.37 607.24 L577.96 606.84 L578.54 606.48 L579.12 606.13 L579.71 605.77 L580.3 605.39 L580.91 604.99 L581.53 604.58 L582.15 604.16 L582.79 603.72 L583.44 603.27 L584.09 602.8 L584.75 602.31 L585.43 601.82 L586.11 601.31" fill="none" stroke="#1f77b4" stroke-width="2.4" stroke-dasharray="6 3.5"/>
<path d="M571.43 506.68 L573.68 507.92 L575.85 509.09 L577.93 510.19 L579.93 511.23 L581.84 512.21 L583.68 513.12 L585.43 513.96 L587.1 514.75 L588.7 515.5 L590.22 516.2 L591.66 516.86 L593.07 517.48 L594.53 518.12 L596.05 518.76 L597.61 519.42 L599.22 520.08 L600.78 520.74 L602.27 521.39 L603.7 522.03 L605.06 522.67 L606.39 523.32 L607.75 524 L609.13 524.71 L610.53 525.45 L611.94 526.21 L613.29 526.98 L614.58 527.73 L615.81 528.47 L616.96 529.2 L618.12 529.95 L619.31 530.72 L620.55 531.51 L621.84 532.33 L623.16 533.17 L624.44 534.04 L625.69 534.94 L626.91 535.87 L628.08 536.82 L629.25 537.77 L630.43 538.7 L631.62 539.6 L632.83 540.49 L634.03 541.38 L635.21 542.37 L636.36 543.45 L637.49 544.64 L638.6 545.92 L639.68 547.3 L640.73 548.78 M704.73 532.11 L703.52 534.41 L702.38 536.62 L701.3 538.75 L700.28 540.8 L699.33 542.76 L698.44 544.63 L697.61 546.42 L696.84 548.13 L696.11 549.76 L695.42 551.31 L694.78 552.79 L694.17 554.23 L693.55 555.73 L692.92 557.28 L692.28 558.88 L691.63 560.52 L690.99 562.12 L690.35 563.65 L689.72 565.1 L689.09 566.49 L688.46 567.86 L687.8 569.24 L687.1 570.65 L686.38 572.08 L685.63 573.53 L684.89 574.91 L684.15 576.23 L683.42 577.48 L682.71 578.67 L681.98 579.85 L681.23 581.07 L680.45 582.34 L679.65 583.65 L678.83 585 L677.98 586.32 L677.1 587.59 L676.19 588.83 L675.26 590.04 L674.33 591.23 L673.42 592.44 L672.54 593.66 L671.67 594.89 L670.8 596.12 L669.83 597.32 L668.77 598.5 L667.61 599.66 L666.36 600.79 L665.01 601.89 L663.56 602.97 M679.87 668.42 L677.62 667.18 L675.45 666.01 L673.37 664.91 L671.37 663.87 L669.46 662.89 L667.62 661.98 L665.87 661.14 L664.2 660.35 L662.6 659.6 L661.08 658.9 L659.64 658.24 L658.23 657.62 L656.77 656.98 L655.25 656.34 L653.69 655.68 L652.08 655.02 L650.52 654.36 L649.03 653.71 L647.6 653.07 L646.24 652.43 L644.91 651.78 L643.55 651.1 L642.17 650.39 L640.77 649.65 L639.36 648.89 L638.01 648.12 L636.72 647.37 L635.49 646.63 L634.34 645.9 L633.18 645.15 L631.99 644.38 L630.75 643.59 L629.46 642.77 L628.14 641.93 L626.86 641.06 L625.61 640.16 L624.39 639.23 L623.22 638.28 L622.05 637.33 L620.87 636.4 L619.68 635.5 L618.47 634.61 L617.27 633.72 L616.09 632.73 L614.94 631.65 L613.81 630.46 L612.7 629.18 L611.62 627.8 L610.57 626.32 M546.57 642.99 L547.78 640.69 L548.92 638.48 L550 636.35 L551.02 634.3 L551.97 632.34 L552.86 630.47 L553.69 628.68 L554.46 626.97 L555.19 625.34 L555.88 623.79 L556.52 622.31 L557.13 620.87 L557.75 619.37 L558.38 617.82 L559.02 616.22 L559.67 614.58 L560.31 612.98 L560.95 611.45 L561.58 610 L562.21 608.61 L562.84 607.24 L563.5 605.86 L564.2 604.45 L564.92 603.02 L565.67 601.57 L566.41 600.19 L567.15 598.87 L567.88 597.62 L568.59 596.43 L569.32 595.25 L570.07 594.03 L570.85 592.76 L571.65 591.45 L572.47 590.1 L573.32 588.78 L574.2 587.51 L575.11 586.27 L576.04 585.06 L576.97 583.87 L577.88 582.66 L578.76 581.44 L579.63 580.21 L580.5 578.98 L581.47 577.78 L582.53 576.6 L583.69 575.44 L584.94 574.31 L586.29 573.21 L587.74 572.13" fill="none" stroke="#1f77b4" stroke-width="2.5" stroke-dasharray="2.4 3.4"/>
<ellipse cx="625.65" cy="587.55" rx="9.21" ry="9.42" fill="#fff"/>
<path d="M625.55 579.25 L627.72 584.26 L633.16 584.78 L629.07 588.39 L630.25 593.72 L625.55 590.95 L620.85 593.72 L622.03 588.39 L617.94 584.78 L623.38 584.26Z" fill="#f00000"/>
<path d="M616.18 568.95 L617.23 568.43 L618.3 567.98 L619.39 567.58 L620.5 567.25 L621.63 566.99 L622.78 566.79 L623.93 566.66 L625.08 566.59 L626.24 566.59 L627.4 566.66 L628.55 566.79 L629.7 566.99 L630.83 567.26 L631.94 567.59 L633.03 567.99 M643.84 577.87 L644.34 578.93 L644.79 580.03 L645.17 581.15 L645.5 582.29 L645.76 583.44 L645.95 584.61 L646.08 585.79 L646.15 586.97 L646.15 588.16 L646.08 589.34 L645.95 590.52 L645.75 591.69 L645.49 592.84 L645.17 593.98 L644.78 595.1 M635.12 606.15 L634.07 606.67 L633 607.12 L631.91 607.52 L630.8 607.85 L629.67 608.11 L628.52 608.31 L627.37 608.44 L626.22 608.51 L625.06 608.51 L623.9 608.44 L622.75 608.31 L621.6 608.11 L620.47 607.84 L619.36 607.51 L618.27 607.11 M607.46 597.23 L606.96 596.17 L606.51 595.07 L606.13 593.95 L605.8 592.81 L605.54 591.66 L605.35 590.49 L605.22 589.31 L605.15 588.13 L605.15 586.94 L605.22 585.76 L605.35 584.58 L605.55 583.41 L605.81 582.26 L606.13 581.12 L606.52 580" fill="none" stroke="#000" stroke-width="2.7"/>
<path d="M642.41 573.72 L632.09 571.45 L635.95 565.37 Z M639.17 604.68 L641.29 594.25 L647.45 597.98 Z M608.89 601.38 L619.21 603.65 L615.35 609.73 Z M612.13 570.42 L610.01 580.85 L603.85 577.12 Z" fill="#000"/>
</g>
<rect x="457.5" y="415.6" width="336.3" height="343.9" fill="none" stroke="#000" stroke-width="1.2"/>
<g clip-path="url(#clip_f)">
<path d="M1060.5 424.7 C1060.08 421 1057.35 424.88 1060.5 424.7 C1063.65 424.52 1073.65 423.22 1079.4 423.6 C1085.15 423.98 1090.42 425.33 1095 427 C1099.58 428.67 1102.28 430.85 1106.9 433.6 C1111.52 436.35 1117.45 439.88 1122.7 443.5 C1127.95 447.12 1133.82 450.38 1138.4 455.3 C1142.98 460.22 1146.27 466.77 1150.2 473 C1154.13 479.23 1158.05 485.82 1162 492.7 C1165.95 499.58 1170.23 506.42 1173.9 514.3 C1177.57 522.18 1181.17 532.85 1184 540 C1186.83 547.15 1189.03 550.03 1190.9 557.2 C1192.77 564.37 1194.63 574.38 1195.2 583 C1195.77 591.62 1195.6 601.15 1194.3 608.9 C1193 616.65 1189.98 623.48 1187.4 629.5 C1184.82 635.52 1181.8 640.68 1178.8 645 C1175.8 649.32 1170.97 653.67 1169.4 655.4 C1167.83 657.13 1172.72 659.13 1169.4 655.4 C1166.08 651.67 1155.68 639.9 1149.5 633 C1143.32 626.1 1138.6 620.03 1132.3 614 C1126 607.97 1118.58 601.38 1111.7 596.8 C1104.82 592.22 1097.32 589.22 1091 586.5 C1084.68 583.78 1078.63 581.92 1073.8 580.5 C1068.97 579.08 1065.63 580.42 1062 578 C1058.37 575.58 1053.17 571.5 1052 566 C1050.83 560.5 1053.33 551.5 1055 545 C1056.67 538.5 1059.73 533.67 1062 527 C1064.27 520.33 1067.67 511.17 1068.6 505 C1069.53 498.83 1068.07 495.7 1067.6 490 C1067.13 484.3 1066.57 477.98 1065.8 470.8 C1065.03 463.62 1063.88 454.58 1063 446.9 C1062.12 439.22 1060.92 428.4 1060.5 424.7Z" fill="#ececec"/>
<path d="M879.7 536.7 C881.67 534.23 876.42 534.23 879.7 536.7 C882.98 539.17 892.85 546.42 899.4 551.5 C905.95 556.58 912.45 562.62 919 567.2 C925.55 571.78 932.13 575.55 938.7 579 C945.27 582.45 951.83 585.43 958.4 587.9 C964.97 590.37 972.18 592.32 978.1 593.8 C984.02 595.28 989.75 595.43 993.9 596.8 C998.05 598.17 1000.62 598.13 1003 602 C1005.38 605.87 1007.77 614.03 1008.2 620 C1008.63 625.97 1006.33 630.37 1005.6 637.8 C1004.87 645.23 1003.8 655.67 1003.8 664.6 C1003.8 673.53 1004.73 683.5 1005.6 691.4 C1006.47 699.3 1007.82 706.07 1009 712 C1010.18 717.93 1011.48 720.18 1012.7 727 C1013.92 733.82 1015.7 748.58 1016.3 752.9 C1016.9 757.22 1019.87 752.68 1016.3 752.9 C1012.73 753.12 1002.63 754.58 994.9 754.2 C987.17 753.82 975.72 752.02 969.9 750.6 C964.08 749.18 963.22 747.5 960 745.7 C956.78 743.9 954.8 742.75 950.6 739.8 C946.4 736.85 940.05 732.27 934.8 728 C929.55 723.73 923.7 719.13 919.1 714.2 C914.5 709.27 911.47 704.32 907.2 698.4 C902.93 692.48 897.75 685.25 893.5 678.7 C889.25 672.15 885.32 665.65 881.7 659.1 C878.08 652.55 874.77 646.3 871.8 639.4 C868.83 632.5 865.37 624.48 863.9 617.7 C862.43 610.92 863 606.78 863 598.7 C863 590.62 863.08 577.07 863.9 569.2 C864.72 561.33 865.27 556.92 867.9 551.5 C870.53 546.08 877.73 539.17 879.7 536.7Z" fill="#ececec"/>
<path d="M1050.1 553.8 C1050.33 550.07 1055.48 547.68 1058.4 544.6 C1061.32 541.52 1064.52 538.38 1067.6 535.3 C1070.68 532.22 1073.82 529.78 1076.9 526.1 C1079.98 522.42 1083.33 517.18 1086.1 513.2 C1088.87 509.22 1091.05 504.5 1093.5 502.2 C1095.95 499.9 1098.05 499.1 1100.8 499.4 C1103.55 499.7 1106.8 501.73 1110 504 C1113.2 506.27 1116.9 509.97 1120 513 C1123.1 516.03 1126.02 518.37 1128.6 522.2 C1131.18 526.03 1134.52 532.07 1135.5 536 C1136.48 539.93 1135.98 543.35 1134.5 545.8 C1133.02 548.25 1130.87 548.73 1126.6 550.7 C1122.33 552.67 1114.8 555.13 1108.9 557.6 C1103 560.07 1096.02 563.18 1091.2 565.5 C1086.38 567.82 1083.7 569.33 1080 571.5 C1076.3 573.67 1071.67 577.58 1069 578.5 C1066.33 579.42 1066 578.92 1064 577 C1062 575.08 1059.32 570.87 1057 567 C1054.68 563.13 1049.87 557.53 1050.1 553.8Z" fill="#78dc5a"/>
<path d="M995.8 597.8 C993.8 596.6 992.27 595.33 988 596.8 C983.73 598.27 974.87 604.43 970.2 606.6 C965.53 608.77 963.93 608.48 960 609.8 C956.07 611.12 950.15 613.35 946.6 614.5 C943.05 615.65 941.98 615.83 938.7 616.7 C935.42 617.57 929.52 618.22 926.9 619.7 C924.28 621.18 923.32 622.32 923 625.6 C922.68 628.88 923.68 634.82 925 639.4 C926.32 643.98 927.95 648.52 930.9 653.1 C933.85 657.68 939.42 663.62 942.7 666.9 C945.98 670.18 948.3 672.02 950.6 672.8 C952.9 673.58 953.23 674.1 956.5 671.6 C959.77 669.1 965.62 662.4 970.2 657.8 C974.78 653.2 980.38 647.62 984 644 C987.62 640.38 988.28 639.05 991.9 636.1 C995.52 633.15 1002.92 629.08 1005.7 626.3 C1008.48 623.52 1008.6 621.7 1008.6 619.4 C1008.6 617.1 1007.13 615.07 1005.7 612.5 C1004.27 609.93 1001.65 606.45 1000 604 C998.35 601.55 997.8 599 995.8 597.8Z" fill="#78dc5a"/>
<path d="M1077.8 421.1 C1079.02 419.57 1081.28 417.87 1084.2 417.4 C1087.12 416.93 1091.92 417.53 1095.3 418.3 C1098.68 419.07 1102.5 420.32 1104.5 422 C1106.5 423.68 1107.45 426.1 1107.3 428.4 C1107.15 430.7 1105.3 432.72 1103.6 435.8 C1101.9 438.88 1099.1 443.22 1097.1 446.9 C1095.1 450.58 1093.75 452.98 1091.6 457.9 C1089.45 462.82 1086.65 469.95 1084.2 476.4 C1081.75 482.85 1079.53 489.53 1076.9 496.6 C1074.27 503.67 1071.28 511.73 1068.4 518.8 C1065.52 525.87 1062.33 533.17 1059.6 539 C1056.87 544.83 1053.58 551.63 1052 553.8 C1050.42 555.97 1049.18 556 1050.1 552 C1051.02 548 1054.88 537.18 1057.5 529.8 C1060.12 522.42 1063.18 515.38 1065.8 507.7 C1068.42 500.02 1071.35 491.38 1073.2 483.7 C1075.05 476.02 1076.13 468.97 1076.9 461.6 C1077.67 454.23 1077.8 445.33 1077.8 439.5 C1077.8 433.67 1076.9 429.67 1076.9 426.6 C1076.9 423.53 1076.58 422.63 1077.8 421.1Z" fill="#5f5f5f" fill-opacity="0.7"/>
<path d="M1001.7 611.5 C1005.03 610.03 1005.67 615.68 1006 617.5 C1006.33 619.32 1007.03 618.63 1003.7 622.4 C1000.37 626.17 991.58 634.53 986 640.1 C980.42 645.67 974.53 651.33 970.2 655.8 C965.87 660.27 962.95 663.08 960 666.9 C957.05 670.72 955.07 673.45 952.5 678.7 C949.93 683.95 946.9 691.18 944.6 698.4 C942.3 705.62 940 715.77 938.7 722 C937.4 728.23 937.62 733 936.8 735.8 C935.98 738.6 935.77 739.45 933.8 738.8 C931.83 738.15 927.13 734.03 925 731.9 C922.87 729.77 920.68 729.93 921 726 C921.32 722.07 924.6 714.53 926.9 708.3 C929.2 702.07 931.85 695.17 934.8 688.6 C937.75 682.03 941.97 673.38 944.6 668.9 C947.23 664.42 946.98 666.18 950.6 661.7 C954.22 657.22 960.4 647.9 966.3 642 C972.2 636.1 980.1 631.38 986 626.3 C991.9 621.22 998.37 612.97 1001.7 611.5Z" fill="#5f5f5f" fill-opacity="0.7"/>
<path d="M1033 585 C1033.25 584.17 1036.33 581.17 1038 579 C1039.67 576.83 1041.5 574.33 1043 572 C1044.5 569.67 1045.78 567.42 1047 565 C1048.22 562.58 1048.63 557.17 1050.3 557.5 C1051.97 557.83 1054.63 563.67 1057 567 C1059.37 570.33 1064.83 575.7 1064.5 577.5 C1064.17 579.3 1058.25 577.47 1055 577.8 C1051.75 578.13 1048.08 578.47 1045 579.5 C1041.92 580.53 1038.5 583.08 1036.5 584 C1034.5 584.92 1032.75 585.83 1033 585Z" fill="#ffa800"/>
<path d="M1026 590.5 C1025.67 590.47 1022.75 591.75 1021 592.3 C1019.25 592.85 1018.05 593.22 1015.5 593.8 C1012.95 594.38 1008.98 595.13 1005.7 595.8 C1002.42 596.47 996.58 596.1 995.8 597.8 C995.02 599.5 999.22 602.72 1001 606 C1002.78 609.28 1005.08 616.5 1006.5 617.5 C1007.92 618.5 1008.33 614.15 1009.5 612 C1010.67 609.85 1012.08 607.1 1013.5 604.6 C1014.92 602.1 1016.42 599.02 1018 597 C1019.58 594.98 1021.67 593.58 1023 592.5 C1024.33 591.42 1026.33 590.53 1026 590.5Z" fill="#ffa800"/>
<path d="M1022.5 591.2 L1026.5 592.6 L1035.5 586.2 L1032.2 583.8Z" fill="#ffa800"/>
<path d="M1053 552.5 C1054.33 551.17 1058.25 547.17 1061 544.5 C1063.75 541.83 1068.08 537.83 1069.5 536.5" fill="none" stroke="#b82818" stroke-width="2.6" stroke-dasharray="0.7 3.6" stroke-linecap="round"/>
<path d="M1052.5 558.5 C1053.58 560.08 1056.83 564.92 1059 568 C1061.17 571.08 1064.42 575.5 1065.5 577" fill="none" stroke="#b82818" stroke-width="2.6" stroke-dasharray="0.7 3.6" stroke-linecap="round"/>
<path d="M1069.5 578 C1070.75 577.25 1074.42 575.25 1077 573.5 C1079.58 571.75 1083.67 568.5 1085 567.5" fill="none" stroke="#b82818" stroke-width="2.6" stroke-dasharray="0.7 3.6" stroke-linecap="round"/>
<path d="M968.3 607.6 C969.92 607 974.57 605.32 978 604 C981.43 602.68 987.08 600.42 988.9 599.7" fill="none" stroke="#b82818" stroke-width="2.6" stroke-dasharray="0.7 3.6" stroke-linecap="round"/>
<path d="M994.5 600.5 C995.5 602 998.47 606.52 1000.5 609.5 C1002.53 612.48 1005.67 616.92 1006.7 618.4" fill="none" stroke="#b82818" stroke-width="2.6" stroke-dasharray="0.7 3.6" stroke-linecap="round"/>
<path d="M990.9 633.2 C992.25 632.33 996.37 629.8 999 628 C1001.63 626.2 1005.42 623.33 1006.7 622.4" fill="none" stroke="#b82818" stroke-width="2.6" stroke-dasharray="0.7 3.6" stroke-linecap="round"/>
<line x1="1025" y1="590" x2="890.78" y2="522.65" stroke="#ec2c20" stroke-width="2.0"/><path d="M884.1 519.3 L896.89 519.45 L890.78 522.65 L891.87 529.46Z" fill="#ec2c20" stroke="#ec2c20" stroke-width="0.8" stroke-linejoin="round"/>
<line x1="1029.5" y1="588" x2="945.14" y2="442.17" stroke="#ec2c20" stroke-width="2.0"/><path d="M941.4 435.7 L952.01 442.85 L945.14 442.17 L942.31 448.46Z" fill="#ec2c20" stroke="#ec2c20" stroke-width="0.8" stroke-linejoin="round"/>
<line x1="1033.5" y1="584.5" x2="1021.94" y2="426.36" stroke="#ec2c20" stroke-width="2.0"/><path d="M1021.4 418.9 L1027.82 429.96 L1021.94 426.36 L1016.65 430.78Z" fill="#ec2c20" stroke="#ec2c20" stroke-width="0.8" stroke-linejoin="round"/>
<line x1="1025" y1="591" x2="1025.48" y2="749.93" stroke="#1d5f93" stroke-width="2.0"/><path d="M1025.5 757.4 L1019.87 745.92 L1025.48 749.93 L1031.07 745.88Z" fill="#1d5f93" stroke="#1d5f93" stroke-width="0.8" stroke-linejoin="round"/>
<line x1="1029.5" y1="589" x2="1102.09" y2="730.85" stroke="#1d5f93" stroke-width="2.0"/><path d="M1105.5 737.5 L1095.28 729.81 L1102.09 730.85 L1105.25 724.71Z" fill="#1d5f93" stroke="#1d5f93" stroke-width="0.8" stroke-linejoin="round"/>
<line x1="1034" y1="585.5" x2="1164.05" y2="675.25" stroke="#1d5f93" stroke-width="2.0"/><path d="M1170.2 679.5 L1157.55 677.58 L1164.05 675.25 L1163.92 668.36Z" fill="#1d5f93" stroke="#1d5f93" stroke-width="0.8" stroke-linejoin="round"/>
</g>
<rect x="860.7" y="415.6" width="336" height="343.9" fill="none" stroke="#000" stroke-width="1.2"/>
<line x1="54.3" y1="346.9" x2="54.3" y2="352.5" stroke="#000" stroke-width="1.2"/>
<text x="54.3" y="371.4" text-anchor="middle" font-size="16.6" font-family="Liberation Sans" textLength="10.18" lengthAdjust="spacingAndGlyphs">0</text>
<line x1="121.5" y1="346.9" x2="121.5" y2="352.5" stroke="#000" stroke-width="1.2"/>
<text x="121.5" y="371.4" text-anchor="middle" font-size="16.6" font-family="Liberation Sans" textLength="10.18" lengthAdjust="spacingAndGlyphs">1</text>
<line x1="188.7" y1="346.9" x2="188.7" y2="352.5" stroke="#000" stroke-width="1.2"/>
<text x="188.7" y="371.4" text-anchor="middle" font-size="16.6" font-family="Liberation Sans" textLength="10.18" lengthAdjust="spacingAndGlyphs">2</text>
<line x1="255.9" y1="346.9" x2="255.9" y2="352.5" stroke="#000" stroke-width="1.2"/>
<text x="255.9" y="371.4" text-anchor="middle" font-size="16.6" font-family="Liberation Sans" textLength="10.18" lengthAdjust="spacingAndGlyphs">3</text>
<line x1="323.1" y1="346.9" x2="323.1" y2="352.5" stroke="#000" stroke-width="1.2"/>
<text x="323.1" y="371.4" text-anchor="middle" font-size="16.6" font-family="Liberation Sans" textLength="10.18" lengthAdjust="spacingAndGlyphs">4</text>
<line x1="48.7" y1="346.9" x2="54.3" y2="346.9" stroke="#000" stroke-width="1.2"/>
<text x="42.1" y="352.9" text-anchor="end" font-size="16.6" font-family="Liberation Sans" textLength="10.18" lengthAdjust="spacingAndGlyphs">0</text>
<line x1="48.7" y1="278.12" x2="54.3" y2="278.12" stroke="#000" stroke-width="1.2"/>
<text x="42.1" y="284.12" text-anchor="end" font-size="16.6" font-family="Liberation Sans" textLength="10.18" lengthAdjust="spacingAndGlyphs">1</text>
<line x1="48.7" y1="209.34" x2="54.3" y2="209.34" stroke="#000" stroke-width="1.2"/>
<text x="42.1" y="215.34" text-anchor="end" font-size="16.6" font-family="Liberation Sans" textLength="10.18" lengthAdjust="spacingAndGlyphs">2</text>
<line x1="48.7" y1="140.56" x2="54.3" y2="140.56" stroke="#000" stroke-width="1.2"/>
<text x="42.1" y="146.56" text-anchor="end" font-size="16.6" font-family="Liberation Sans" textLength="10.18" lengthAdjust="spacingAndGlyphs">3</text>
<line x1="48.7" y1="71.78" x2="54.3" y2="71.78" stroke="#000" stroke-width="1.2"/>
<text x="42.1" y="77.78" text-anchor="end" font-size="16.6" font-family="Liberation Sans" textLength="10.18" lengthAdjust="spacingAndGlyphs">4</text>
<line x1="457.5" y1="346.9" x2="457.5" y2="352.5" stroke="#000" stroke-width="1.2"/>
<text x="457.5" y="371.4" text-anchor="middle" font-size="16.6" font-family="Liberation Sans" textLength="10.18" lengthAdjust="spacingAndGlyphs">0</text>
<line x1="524.76" y1="346.9" x2="524.76" y2="352.5" stroke="#000" stroke-width="1.2"/>
<text x="524.76" y="371.4" text-anchor="middle" font-size="16.6" font-family="Liberation Sans" textLength="10.18" lengthAdjust="spacingAndGlyphs">1</text>
<line x1="592.02" y1="346.9" x2="592.02" y2="352.5" stroke="#000" stroke-width="1.2"/>
<text x="592.02" y="371.4" text-anchor="middle" font-size="16.6" font-family="Liberation Sans" textLength="10.18" lengthAdjust="spacingAndGlyphs">2</text>
<line x1="659.28" y1="346.9" x2="659.28" y2="352.5" stroke="#000" stroke-width="1.2"/>
<text x="659.28" y="371.4" text-anchor="middle" font-size="16.6" font-family="Liberation Sans" textLength="10.18" lengthAdjust="spacingAndGlyphs">3</text>
<line x1="726.54" y1="346.9" x2="726.54" y2="352.5" stroke="#000" stroke-width="1.2"/>
<text x="726.54" y="371.4" text-anchor="middle" font-size="16.6" font-family="Liberation Sans" textLength="10.18" lengthAdjust="spacingAndGlyphs">4</text>
<line x1="451.9" y1="346.9" x2="457.5" y2="346.9" stroke="#000" stroke-width="1.2"/>
<text x="445.3" y="352.9" text-anchor="end" font-size="16.6" font-family="Liberation Sans" textLength="10.18" lengthAdjust="spacingAndGlyphs">0</text>
<line x1="451.9" y1="278.12" x2="457.5" y2="278.12" stroke="#000" stroke-width="1.2"/>
<text x="445.3" y="284.12" text-anchor="end" font-size="16.6" font-family="Liberation Sans" textLength="10.18" lengthAdjust="spacingAndGlyphs">1</text>
<line x1="451.9" y1="209.34" x2="457.5" y2="209.34" stroke="#000" stroke-width="1.2"/>
<text x="445.3" y="215.34" text-anchor="end" font-size="16.6" font-family="Liberation Sans" textLength="10.18" lengthAdjust="spacingAndGlyphs">2</text>
<line x1="451.9" y1="140.56" x2="457.5" y2="140.56" stroke="#000" stroke-width="1.2"/>
<text x="445.3" y="146.56" text-anchor="end" font-size="16.6" font-family="Liberation Sans" textLength="10.18" lengthAdjust="spacingAndGlyphs">3</text>
<line x1="451.9" y1="71.78" x2="457.5" y2="71.78" stroke="#000" stroke-width="1.2"/>
<text x="445.3" y="77.78" text-anchor="end" font-size="16.6" font-family="Liberation Sans" textLength="10.18" lengthAdjust="spacingAndGlyphs">4</text>
<line x1="911.95" y1="346.9" x2="911.95" y2="352.5" stroke="#000" stroke-width="1.2"/>
<text x="911.95" y="371.4" text-anchor="middle" font-size="16.6" font-family="Liberation Sans" textLength="10.18" lengthAdjust="spacingAndGlyphs">0</text>
<line x1="968.9" y1="346.9" x2="968.9" y2="352.5" stroke="#000" stroke-width="1.2"/>
<text x="968.9" y="371.4" text-anchor="middle" font-size="16.6" font-family="Liberation Sans" textLength="10.18" lengthAdjust="spacingAndGlyphs">1</text>
<line x1="1025.85" y1="346.9" x2="1025.85" y2="352.5" stroke="#000" stroke-width="1.2"/>
<text x="1025.85" y="371.4" text-anchor="middle" font-size="16.6" font-family="Liberation Sans" textLength="10.18" lengthAdjust="spacingAndGlyphs">2</text>
<line x1="1082.8" y1="346.9" x2="1082.8" y2="352.5" stroke="#000" stroke-width="1.2"/>
<text x="1082.8" y="371.4" text-anchor="middle" font-size="16.6" font-family="Liberation Sans" textLength="10.18" lengthAdjust="spacingAndGlyphs">3</text>
<line x1="1139.75" y1="346.9" x2="1139.75" y2="352.5" stroke="#000" stroke-width="1.2"/>
<text x="1139.75" y="371.4" text-anchor="middle" font-size="16.6" font-family="Liberation Sans" textLength="10.18" lengthAdjust="spacingAndGlyphs">4</text>
<line x1="855.1" y1="294.44" x2="860.7" y2="294.44" stroke="#000" stroke-width="1.2"/>
<text x="848.5" y="300.44" text-anchor="end" font-size="16.6" font-family="Liberation Sans" textLength="10.18" lengthAdjust="spacingAndGlyphs">0</text>
<line x1="855.1" y1="236.15" x2="860.7" y2="236.15" stroke="#000" stroke-width="1.2"/>
<text x="848.5" y="242.15" text-anchor="end" font-size="16.6" font-family="Liberation Sans" textLength="10.18" lengthAdjust="spacingAndGlyphs">1</text>
<line x1="855.1" y1="177.86" x2="860.7" y2="177.86" stroke="#000" stroke-width="1.2"/>
<text x="848.5" y="183.86" text-anchor="end" font-size="16.6" font-family="Liberation Sans" textLength="10.18" lengthAdjust="spacingAndGlyphs">2</text>
<line x1="855.1" y1="119.58" x2="860.7" y2="119.58" stroke="#000" stroke-width="1.2"/>
<text x="848.5" y="125.58" text-anchor="end" font-size="16.6" font-family="Liberation Sans" textLength="10.18" lengthAdjust="spacingAndGlyphs">3</text>
<line x1="855.1" y1="61.29" x2="860.7" y2="61.29" stroke="#000" stroke-width="1.2"/>
<text x="848.5" y="67.29" text-anchor="end" font-size="16.6" font-family="Liberation Sans" textLength="10.18" lengthAdjust="spacingAndGlyphs">4</text>
<line x1="54.3" y1="759.5" x2="54.3" y2="765.1" stroke="#000" stroke-width="1.2"/>
<text x="54.3" y="784" text-anchor="middle" font-size="16.6" font-family="Liberation Sans" textLength="10.18" lengthAdjust="spacingAndGlyphs">0</text>
<line x1="136.25" y1="759.5" x2="136.25" y2="765.1" stroke="#000" stroke-width="1.2"/>
<text x="136.25" y="784" text-anchor="middle" font-size="16.6" font-family="Liberation Sans" textLength="10.18" lengthAdjust="spacingAndGlyphs">1</text>
<line x1="218.2" y1="759.5" x2="218.2" y2="765.1" stroke="#000" stroke-width="1.2"/>
<text x="218.2" y="784" text-anchor="middle" font-size="16.6" font-family="Liberation Sans" textLength="10.18" lengthAdjust="spacingAndGlyphs">2</text>
<line x1="300.15" y1="759.5" x2="300.15" y2="765.1" stroke="#000" stroke-width="1.2"/>
<text x="300.15" y="784" text-anchor="middle" font-size="16.6" font-family="Liberation Sans" textLength="10.18" lengthAdjust="spacingAndGlyphs">3</text>
<line x1="382.1" y1="759.5" x2="382.1" y2="765.1" stroke="#000" stroke-width="1.2"/>
<text x="382.1" y="784" text-anchor="middle" font-size="16.6" font-family="Liberation Sans" textLength="10.18" lengthAdjust="spacingAndGlyphs">4</text>
<line x1="48.7" y1="759.5" x2="54.3" y2="759.5" stroke="#000" stroke-width="1.2"/>
<text x="42.1" y="765.5" text-anchor="end" font-size="16.6" font-family="Liberation Sans" textLength="10.18" lengthAdjust="spacingAndGlyphs">0</text>
<line x1="48.7" y1="675.62" x2="54.3" y2="675.62" stroke="#000" stroke-width="1.2"/>
<text x="42.1" y="681.62" text-anchor="end" font-size="16.6" font-family="Liberation Sans" textLength="10.18" lengthAdjust="spacingAndGlyphs">1</text>
<line x1="48.7" y1="591.74" x2="54.3" y2="591.74" stroke="#000" stroke-width="1.2"/>
<text x="42.1" y="597.74" text-anchor="end" font-size="16.6" font-family="Liberation Sans" textLength="10.18" lengthAdjust="spacingAndGlyphs">2</text>
<line x1="48.7" y1="507.87" x2="54.3" y2="507.87" stroke="#000" stroke-width="1.2"/>
<text x="42.1" y="513.87" text-anchor="end" font-size="16.6" font-family="Liberation Sans" textLength="10.18" lengthAdjust="spacingAndGlyphs">3</text>
<line x1="48.7" y1="423.99" x2="54.3" y2="423.99" stroke="#000" stroke-width="1.2"/>
<text x="42.1" y="429.99" text-anchor="end" font-size="16.6" font-family="Liberation Sans" textLength="10.18" lengthAdjust="spacingAndGlyphs">4</text>
<line x1="462.6" y1="759.5" x2="462.6" y2="765.1" stroke="#000" stroke-width="1.2"/>
<text x="462.6" y="784" text-anchor="middle" font-size="16.6" font-family="Liberation Sans" textLength="23.58" lengthAdjust="spacingAndGlyphs">−4</text>
<line x1="544.12" y1="759.5" x2="544.12" y2="765.1" stroke="#000" stroke-width="1.2"/>
<text x="544.12" y="784" text-anchor="middle" font-size="16.6" font-family="Liberation Sans" textLength="23.58" lengthAdjust="spacingAndGlyphs">−2</text>
<line x1="625.65" y1="759.5" x2="625.65" y2="765.1" stroke="#000" stroke-width="1.2"/>
<text x="625.65" y="784" text-anchor="middle" font-size="16.6" font-family="Liberation Sans" textLength="10.18" lengthAdjust="spacingAndGlyphs">0</text>
<line x1="707.18" y1="759.5" x2="707.18" y2="765.1" stroke="#000" stroke-width="1.2"/>
<text x="707.18" y="784" text-anchor="middle" font-size="16.6" font-family="Liberation Sans" textLength="10.18" lengthAdjust="spacingAndGlyphs">2</text>
<line x1="788.7" y1="759.5" x2="788.7" y2="765.1" stroke="#000" stroke-width="1.2"/>
<text x="788.7" y="784" text-anchor="middle" font-size="16.6" font-family="Liberation Sans" textLength="10.18" lengthAdjust="spacingAndGlyphs">4</text>
<line x1="451.9" y1="754.29" x2="457.5" y2="754.29" stroke="#000" stroke-width="1.2"/>
<text x="445.3" y="760.29" text-anchor="end" font-size="16.6" font-family="Liberation Sans" textLength="23.58" lengthAdjust="spacingAndGlyphs">−4</text>
<line x1="451.9" y1="712.6" x2="457.5" y2="712.6" stroke="#000" stroke-width="1.2"/>
<text x="445.3" y="718.6" text-anchor="end" font-size="16.6" font-family="Liberation Sans" textLength="23.58" lengthAdjust="spacingAndGlyphs">−3</text>
<line x1="451.9" y1="670.92" x2="457.5" y2="670.92" stroke="#000" stroke-width="1.2"/>
<text x="445.3" y="676.92" text-anchor="end" font-size="16.6" font-family="Liberation Sans" textLength="23.58" lengthAdjust="spacingAndGlyphs">−2</text>
<line x1="451.9" y1="629.23" x2="457.5" y2="629.23" stroke="#000" stroke-width="1.2"/>
<text x="445.3" y="635.23" text-anchor="end" font-size="16.6" font-family="Liberation Sans" textLength="23.58" lengthAdjust="spacingAndGlyphs">−1</text>
<line x1="451.9" y1="587.55" x2="457.5" y2="587.55" stroke="#000" stroke-width="1.2"/>
<text x="445.3" y="593.55" text-anchor="end" font-size="16.6" font-family="Liberation Sans" textLength="10.18" lengthAdjust="spacingAndGlyphs">0</text>
<line x1="451.9" y1="545.87" x2="457.5" y2="545.87" stroke="#000" stroke-width="1.2"/>
<text x="445.3" y="551.87" text-anchor="end" font-size="16.6" font-family="Liberation Sans" textLength="10.18" lengthAdjust="spacingAndGlyphs">1</text>
<line x1="451.9" y1="504.18" x2="457.5" y2="504.18" stroke="#000" stroke-width="1.2"/>
<text x="445.3" y="510.18" text-anchor="end" font-size="16.6" font-family="Liberation Sans" textLength="10.18" lengthAdjust="spacingAndGlyphs">2</text>
<line x1="451.9" y1="462.5" x2="457.5" y2="462.5" stroke="#000" stroke-width="1.2"/>
<text x="445.3" y="468.5" text-anchor="end" font-size="16.6" font-family="Liberation Sans" textLength="10.18" lengthAdjust="spacingAndGlyphs">3</text>
<line x1="451.9" y1="420.81" x2="457.5" y2="420.81" stroke="#000" stroke-width="1.2"/>
<text x="445.3" y="426.81" text-anchor="end" font-size="16.6" font-family="Liberation Sans" textLength="10.18" lengthAdjust="spacingAndGlyphs">4</text>
<g transform="translate(197.2 397.6)"><text x="-0.2" y="0" font-size="16" font-family="Liberation Sans" textLength="15.2" lengthAdjust="spacingAndGlyphs">x/</text><text x="15.4" y="0" font-size="16" font-family="Liberation Sans" font-style="italic" textLength="10.6" lengthAdjust="spacingAndGlyphs">R</text><text x="26.6" y="4" font-size="11.2" font-family="Liberation Sans" font-style="italic" textLength="7.8" lengthAdjust="spacingAndGlyphs">C</text><text x="28.6" y="-6.4" font-size="11.2" font-family="Liberation Sans" textLength="21.2" lengthAdjust="spacingAndGlyphs">mid</text></g>
<g transform="translate(607.5 394.2)"><text x="-0.2" y="0" font-size="16" font-family="Liberation Sans" textLength="15.2" lengthAdjust="spacingAndGlyphs">x/</text><text x="15.4" y="0" font-size="16" font-family="Liberation Sans" font-style="italic" textLength="10.6" lengthAdjust="spacingAndGlyphs">R</text><text x="26.6" y="4" font-size="11.2" font-family="Liberation Sans" font-style="italic" textLength="7.8" lengthAdjust="spacingAndGlyphs">C</text></g>
<g transform="translate(1010.55 394.2)"><text x="-0.2" y="0" font-size="16" font-family="Liberation Sans" textLength="15.2" lengthAdjust="spacingAndGlyphs">x/</text><text x="15.4" y="0" font-size="16" font-family="Liberation Sans" font-style="italic" textLength="10.6" lengthAdjust="spacingAndGlyphs">R</text><text x="26.6" y="4" font-size="11.2" font-family="Liberation Sans" font-style="italic" textLength="7.8" lengthAdjust="spacingAndGlyphs">C</text></g>
<g transform="translate(204.15 806.8)"><text x="-0.2" y="0" font-size="16" font-family="Liberation Sans" textLength="15.2" lengthAdjust="spacingAndGlyphs">x/</text><text x="15.4" y="0" font-size="16" font-family="Liberation Sans" font-style="italic" textLength="10.6" lengthAdjust="spacingAndGlyphs">R</text><text x="26.6" y="4" font-size="11.2" font-family="Liberation Sans" font-style="italic" textLength="7.8" lengthAdjust="spacingAndGlyphs">C</text></g>
<g transform="translate(607.5 806.8)"><text x="-0.2" y="0" font-size="16" font-family="Liberation Sans" textLength="15.2" lengthAdjust="spacingAndGlyphs">x/</text><text x="15.4" y="0" font-size="16" font-family="Liberation Sans" font-style="italic" textLength="10.6" lengthAdjust="spacingAndGlyphs">R</text><text x="26.6" y="4" font-size="11.2" font-family="Liberation Sans" font-style="italic" textLength="7.8" lengthAdjust="spacingAndGlyphs">C</text></g>
<g transform="translate(18.3 199.8) rotate(-90)"><text x="-0.2" y="0" font-size="16" font-family="Liberation Sans" textLength="14.8" lengthAdjust="spacingAndGlyphs">z/</text><text x="15" y="0" font-size="16" font-family="Liberation Sans" font-style="italic" textLength="10.6" lengthAdjust="spacingAndGlyphs">R</text><text x="26.2" y="3.6" font-size="11.2" font-family="Liberation Sans" font-style="italic" textLength="7.8" lengthAdjust="spacingAndGlyphs">C</text><text x="28.2" y="-6.4" font-size="11.2" font-family="Liberation Sans" textLength="21.2" lengthAdjust="spacingAndGlyphs">mid</text></g>
<g transform="translate(423.2 191.7) rotate(-90)"><text x="-0.2" y="0" font-size="16" font-family="Liberation Sans" textLength="14.8" lengthAdjust="spacingAndGlyphs">z/</text><text x="15" y="0" font-size="16" font-family="Liberation Sans" font-style="italic" textLength="10.6" lengthAdjust="spacingAndGlyphs">R</text><text x="26.2" y="3.6" font-size="11.2" font-family="Liberation Sans" font-style="italic" textLength="7.8" lengthAdjust="spacingAndGlyphs">C</text></g>
<g transform="translate(826.4 191.7) rotate(-90)"><text x="-0.2" y="0" font-size="16" font-family="Liberation Sans" textLength="14.8" lengthAdjust="spacingAndGlyphs">z/</text><text x="15" y="0" font-size="16" font-family="Liberation Sans" font-style="italic" textLength="10.6" lengthAdjust="spacingAndGlyphs">R</text><text x="26.2" y="3.6" font-size="11.2" font-family="Liberation Sans" font-style="italic" textLength="7.8" lengthAdjust="spacingAndGlyphs">C</text></g>
<g transform="translate(20 604.1) rotate(-90)"><text x="-0.2" y="0" font-size="16" font-family="Liberation Sans" textLength="14.8" lengthAdjust="spacingAndGlyphs">z/</text><text x="15" y="0" font-size="16" font-family="Liberation Sans" font-style="italic" textLength="10.6" lengthAdjust="spacingAndGlyphs">R</text><text x="26.2" y="3.6" font-size="11.2" font-family="Liberation Sans" font-style="italic" textLength="7.8" lengthAdjust="spacingAndGlyphs">C</text></g>
<g transform="translate(407.8 605.8) rotate(-90)"><text x="-0.2" y="0" font-size="16" font-family="Liberation Sans" textLength="15" lengthAdjust="spacingAndGlyphs">y/</text><text x="15" y="0" font-size="16" font-family="Liberation Sans" font-style="italic" textLength="10.6" lengthAdjust="spacingAndGlyphs">R</text><text x="26.2" y="3.6" font-size="11.2" font-family="Liberation Sans" font-style="italic" textLength="7.8" lengthAdjust="spacingAndGlyphs">C</text></g>
<g transform="translate(1026.2 25.3)"><text x="0" y="0" font-size="16" font-family="Liberation Sans" font-style="italic" textLength="9.2" lengthAdjust="spacingAndGlyphs">θ</text><text x="10.4" y="2.8" font-size="11.2" font-family="Liberation Sans" textLength="6.6" lengthAdjust="spacingAndGlyphs">0</text><text x="22" y="0" font-size="16" font-family="Liberation Sans" textLength="11.8" lengthAdjust="spacingAndGlyphs">=</text><text x="39.8" y="0" font-size="16" font-family="Liberation Sans" textLength="8.8" lengthAdjust="spacingAndGlyphs">0</text></g>
<g transform="translate(969.6 224.4)"><text x="0" y="0" font-size="16" font-family="Liberation Sans">r</text></g>
<g transform="translate(1060.5 234.5)"><text x="0" y="0" font-size="16" font-family="Liberation Sans" font-style="italic">h</text><text x="14" y="0" font-size="16" font-family="Liberation Sans" textLength="11.6" lengthAdjust="spacingAndGlyphs">=</text><text x="31.5" y="0" font-size="16" font-family="Liberation Sans" font-style="italic">r</text><text x="40.5" y="0" font-size="16" font-family="Liberation Sans" textLength="11.6" lengthAdjust="spacingAndGlyphs">−</text><text x="58.6" y="0" font-size="16" font-family="Liberation Sans" font-style="italic" textLength="10.6" lengthAdjust="spacingAndGlyphs">R</text><text x="70" y="4.9" font-size="11.2" font-family="Liberation Sans" font-style="italic" textLength="7.8" lengthAdjust="spacingAndGlyphs">C</text></g>
<g transform="translate(1031 238.9) rotate(-68.6)"><text x="0" y="0" font-size="16" font-family="Liberation Sans" font-style="italic">V</text><text x="11.3" y="3.6" font-size="11.2" font-family="Liberation Sans" font-style="italic" textLength="26" lengthAdjust="spacingAndGlyphs">infall</text></g>
<g transform="translate(575.1 41.6) rotate(29.4)"><text x="0" y="0" font-size="20" font-family="Liberation Sans" textLength="87" lengthAdjust="spacingAndGlyphs">pressure</text></g>
<path d="M589.74 19.36 L634.88 46.87 L632.51 50.75 L661.75 58.5 L641.46 36.06 L639.09 39.95 L593.96 12.44 Z" fill="#999999"/>
<text x="81.1" y="35.1" text-anchor="middle" font-size="21.5" font-family="Liberation Sans" fill="#fff" stroke="#000" stroke-width="4.6" stroke-linejoin="round" paint-order="stroke" textLength="30.99" lengthAdjust="spacingAndGlyphs">(a)</text>
<text x="484.3" y="35.1" text-anchor="middle" font-size="21.5" font-family="Liberation Sans" fill="#fff" stroke="#000" stroke-width="4.6" stroke-linejoin="round" paint-order="stroke" textLength="31.48" lengthAdjust="spacingAndGlyphs">(b)</text>
<text x="887.5" y="35.1" text-anchor="middle" font-size="21.5" font-family="Liberation Sans" fill="#fff" stroke="#000" stroke-width="4.6" stroke-linejoin="round" paint-order="stroke" textLength="29.59" lengthAdjust="spacingAndGlyphs">(c)</text>
<text x="81.1" y="447.7" text-anchor="middle" font-size="21.5" font-family="Liberation Sans" fill="#fff" stroke="#000" stroke-width="4.6" stroke-linejoin="round" paint-order="stroke" textLength="31.48" lengthAdjust="spacingAndGlyphs">(d)</text>
<text x="484.3" y="447.7" text-anchor="middle" font-size="21.5" font-family="Liberation Sans" fill="#fff" stroke="#000" stroke-width="4.6" stroke-linejoin="round" paint-order="stroke" textLength="31.04" lengthAdjust="spacingAndGlyphs">(e)</text>
<text x="887.5" y="447.7" text-anchor="middle" font-size="21.5" font-family="Liberation Sans" fill="#fff" stroke="#000" stroke-width="4.6" stroke-linejoin="round" paint-order="stroke" textLength="25.19" lengthAdjust="spacingAndGlyphs">(f)</text></svg></body></html>
